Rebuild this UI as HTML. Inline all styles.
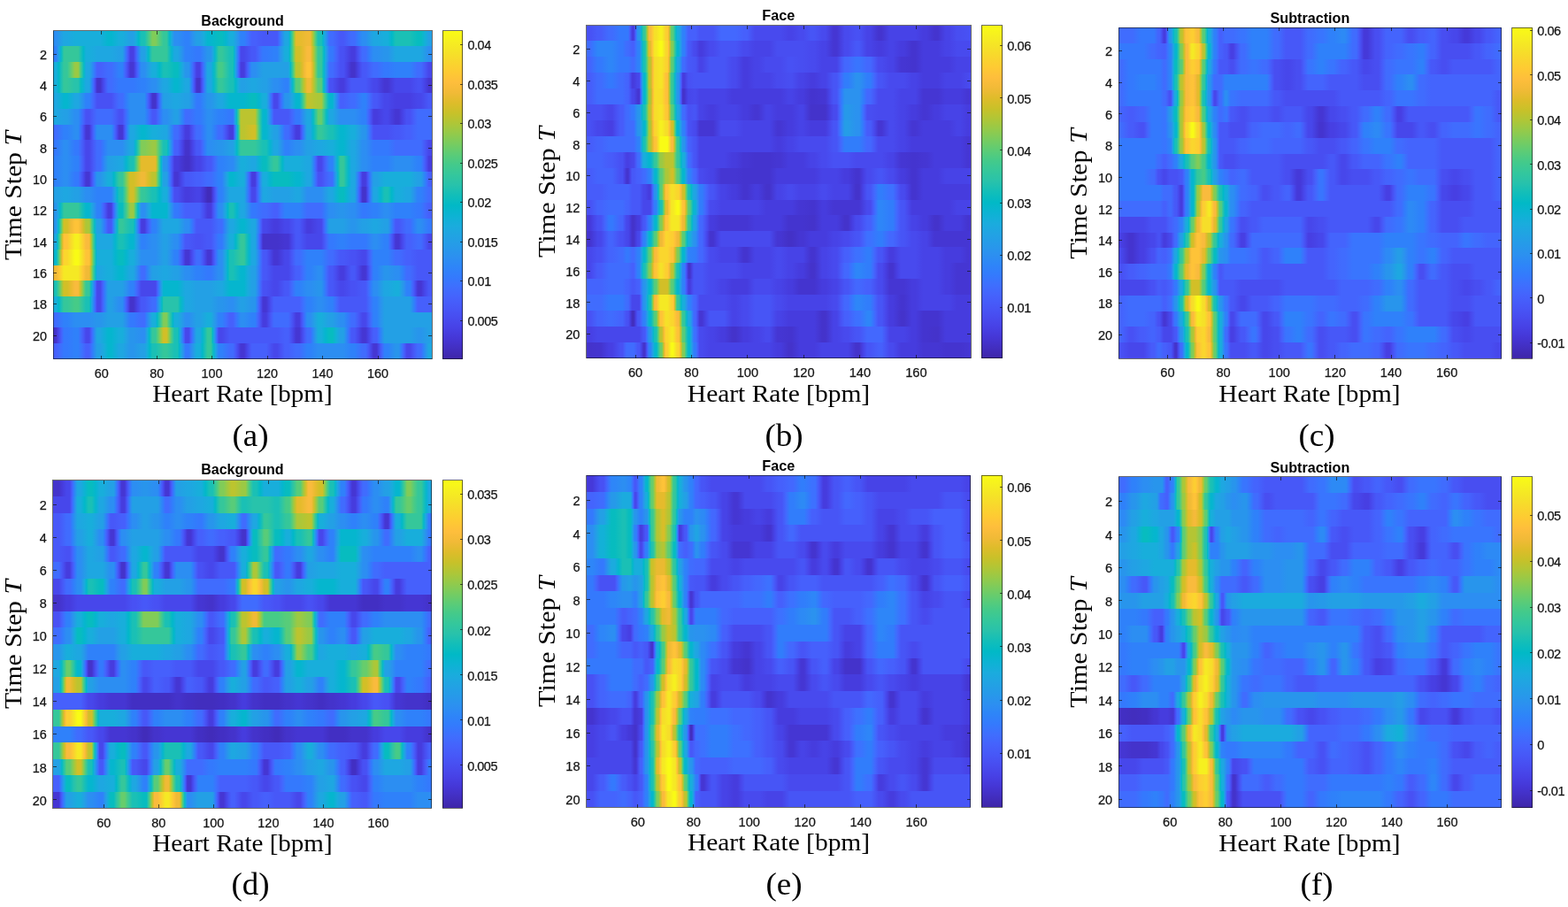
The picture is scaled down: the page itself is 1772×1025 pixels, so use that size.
<!DOCTYPE html>
<html><head><meta charset="utf-8"><title>Heart rate heatmaps</title>
<style>
html,body{margin:0;padding:0;background:#fff;}
body{width:1772px;height:1025px;position:relative;overflow:hidden;}
.ab{position:absolute;}
.hm{position:absolute;overflow:hidden;}
.hm div{width:100%;}
.box{position:absolute;border:1px solid rgba(20,20,20,0.62);box-sizing:border-box;}
.tk{position:absolute;background:rgba(20,20,20,0.7);}
.t{position:absolute;white-space:nowrap;font-family:"Liberation Sans",Arial,sans-serif;color:#141414;line-height:1;}
.tx,.ty,.tc{-webkit-text-stroke:0.25px #141414;}
.tx{font-size:14.0px;transform:translateX(-50%);}
.ty{font-size:14.0px;transform:translate(-100%,-50%);}
.tc{font-size:14.0px;transform:translateY(-50%);letter-spacing:-0.45px;}
.ti{font-family:"Liberation Sans",Arial,sans-serif;font-weight:bold;font-size:16.0px;color:#000;transform:translateX(-50%);}
.xl{font-family:"Liberation Serif","Times New Roman",serif;font-size:27.0px;color:#000;transform:translateX(-50%) scaleX(1.076);}
.yl{font-family:"Liberation Serif","Times New Roman",serif;font-size:27.0px;color:#000;transform-origin:0 0;transform:rotate(-90deg) scaleX(1.1) translateX(-50%);}
.pl{font-family:"Liberation Serif","Times New Roman",serif;font-size:36.5px;color:#000;transform:translateX(-50%) scaleX(1.014);}
</style></head><body>

<div class="hm" style="left:60px;top:34.5px;width:428px;height:371px">
<div style="position:absolute;left:0;top:0px;height:17.68px;background:linear-gradient(to right,#2c8ef2 0.0px,#2c8ef2 3.4px,#259be8 7.8px,#1ea7e1 12.2px,#1ea7e1 15.9px,#18aedb 24.7px,#18aedb 28.4px,#18aedb 37.2px,#18aedb 40.9px,#18aedb 49.7px,#18aedb 53.4px,#05b6ce 62.2px,#05b6ce 65.9px,#18aedb 74.7px,#18aedb 78.4px,#23a0e5 87.2px,#23a0e5 90.9px,#18aedb 93.8px,#01b8c9 96.7px,#1ac0b5 99.7px,#1ac0b5 103.4px,#34c79c 106.3px,#54cc7d 109.2px,#81cc58 112.2px,#81cc58 115.9px,#55cc7c 120.3px,#35c79a 124.7px,#35c79a 128.4px,#1cc0b3 130.1px,#01b8c9 131.9px,#19addc 133.6px,#249ee6 135.4px,#2c8ef2 137.1px,#2c8ef2 140.9px,#2f81fa 149.6px,#2f81fa 153.4px,#2b92ef 157.8px,#23a0e5 162.1px,#23a0e5 165.9px,#19acdc 170.3px,#05b6ce 174.6px,#05b6ce 178.4px,#07bcbf 187.1px,#07bcbf 190.9px,#05b6ce 195.3px,#18aedb 199.6px,#18aedb 203.4px,#23a0e5 206.3px,#2b92ef 209.2px,#2f81fa 212.1px,#2f81fa 215.9px,#3d71ff 220.2px,#4660fc 224.6px,#4660fc 228.4px,#4758f8 237.1px,#4758f8 240.9px,#4758f8 249.6px,#4758f8 253.4px,#3f6dfe 255.6px,#2e83f9 257.7px,#2796eb 259.9px,#1ea7e1 262.1px,#1ea7e1 265.9px,#06b5cf 267.1px,#16bfb7 268.4px,#34c79c 269.6px,#57cc7a 270.9px,#8acb52 272.1px,#bcc42f 273.4px,#e5bb2c 274.6px,#e5bb2c 278.4px,#f0ba36 287.1px,#f0ba36 290.9px,#c8c129 292.6px,#96ca48 294.4px,#60cd72 296.1px,#37c898 297.9px,#1ac0b5 299.6px,#1ac0b5 303.3px,#05b6ce 305.1px,#1da8e0 306.8px,#2796eb 308.6px,#2e83f9 310.3px,#406cfe 312.1px,#406cfe 315.8px,#4758f8 324.6px,#4758f8 328.3px,#406cfe 337.1px,#406cfe 340.8px,#317efb 345.2px,#2c8ef2 349.6px,#2c8ef2 353.3px,#259be8 357.7px,#1ea7e1 362.1px,#1ea7e1 365.8px,#18aedb 374.6px,#18aedb 378.3px,#01b8c9 382.7px,#1ac0b5 387.1px,#1ac0b5 390.8px,#1ac0b5 399.6px,#1ac0b5 403.3px,#07bcbf 412.1px,#07bcbf 415.8px,#13b1d7 420.2px,#23a0e5 424.6px,#23a0e5 428.0px)"></div>
<div style="position:absolute;left:0;top:17.67px;height:17.67px;background:linear-gradient(to right,#2f81fa 0.0px,#2f81fa 3.4px,#2895ec 5.2px,#1ea7e1 6.9px,#07b5cf 8.7px,#17bfb6 10.4px,#35c79a 12.2px,#35c79a 15.9px,#35c79a 24.7px,#35c79a 28.4px,#1dc0b3 31.3px,#01b8c8 34.3px,#18aedb 37.2px,#18aedb 40.9px,#1ea7e1 49.7px,#1ea7e1 53.4px,#1ea7e1 62.2px,#1ea7e1 65.9px,#23a0e5 74.7px,#23a0e5 78.4px,#2c8ff0 80.2px,#327cfc 81.9px,#4367fd 83.7px,#4853f5 85.4px,#473fe3 87.2px,#473fe3 90.9px,#4853f5 92.7px,#4367fd 94.4px,#327cfc 96.2px,#2c8ff0 97.9px,#23a0e5 99.7px,#23a0e5 103.4px,#17aeda 105.6px,#01b9c8 107.8px,#1ec0b2 110.0px,#35c79a 112.2px,#35c79a 115.9px,#35c79a 124.7px,#35c79a 128.4px,#17bfb6 131.3px,#06b5cf 134.2px,#1ea7e1 137.1px,#1ea7e1 140.9px,#2895ec 145.3px,#2f81fa 149.6px,#2f81fa 153.4px,#3479fd 162.1px,#3479fd 165.9px,#2d88f6 170.3px,#2895ec 174.6px,#2895ec 178.4px,#1ea7e1 180.6px,#06b5cf 182.8px,#17bfb6 184.9px,#35c79a 187.1px,#35c79a 190.9px,#1ac0b5 199.6px,#1ac0b5 203.4px,#04b6cd 204.6px,#1da9e0 205.9px,#2798ea 207.1px,#2e85f8 208.4px,#3d70ff 209.6px,#475bf9 210.9px,#4747eb 212.1px,#4747eb 215.9px,#4758f8 224.6px,#4758f8 228.4px,#4368fe 232.7px,#3479fd 237.1px,#3479fd 240.9px,#2f81fa 249.6px,#2f81fa 253.4px,#2b92ef 256.3px,#23a0e5 259.2px,#18aedb 262.1px,#18aedb 265.9px,#02bac5 267.3px,#27c2ac 268.8px,#40ca8d 270.2px,#6ecd67 271.7px,#a3c83f 273.1px,#d2bf27 274.6px,#d2bf27 278.4px,#e8bb2e 282.7px,#f9bb3d 287.1px,#f9bb3d 290.9px,#dbbd29 292.6px,#b3c534 294.4px,#84cb56 296.1px,#56cc7b 297.9px,#35c79a 299.6px,#35c79a 303.3px,#1cc0b4 304.8px,#01b7ca 306.3px,#1aacdd 307.7px,#259de7 309.2px,#2d8cf3 310.6px,#3479fd 312.1px,#3479fd 315.8px,#4465fd 320.2px,#4851f4 324.6px,#4851f4 328.3px,#463cde 337.1px,#463cde 340.8px,#484cef 343.8px,#475cfa 346.7px,#406cfe 349.6px,#406cfe 353.3px,#317efb 357.7px,#2c8ef2 362.1px,#2c8ef2 365.8px,#2895ec 374.6px,#2895ec 378.3px,#1ea7e1 387.1px,#1ea7e1 390.8px,#1ea7e1 399.6px,#1ea7e1 403.3px,#1ea7e1 412.1px,#1ea7e1 415.8px,#259be8 420.2px,#2c8ef2 424.6px,#2c8ef2 428.0px)"></div>
<div style="position:absolute;left:0;top:35.33px;height:17.68px;background:linear-gradient(to right,#18aedb 0.0px,#18aedb 3.4px,#01b8c8 6.4px,#1dc0b3 9.3px,#35c79a 12.2px,#35c79a 15.9px,#4fcc81 18.8px,#73cd63 21.8px,#9bc944 24.7px,#9bc944 28.4px,#6dcd68 29.9px,#44cb8a 31.3px,#2dc4a6 32.8px,#0bbdbd 34.3px,#0ab4d1 35.7px,#1ea7e1 37.2px,#1ea7e1 40.9px,#2798ea 43.1px,#2e87f7 45.3px,#3a74fe 47.5px,#4660fc 49.7px,#4660fc 53.4px,#406cfe 62.2px,#406cfe 65.9px,#2f81fa 74.7px,#2f81fa 78.4px,#3f6dfe 80.6px,#475af9 82.8px,#4747ec 85.0px,#4536d3 87.2px,#4536d3 90.9px,#4746ea 92.7px,#4758f8 94.4px,#426afe 96.2px,#317dfc 97.9px,#2c8ef2 99.7px,#2c8ef2 103.4px,#249fe6 107.8px,#18aedb 112.2px,#18aedb 115.9px,#01b8c9 120.3px,#1ac0b5 124.7px,#1ac0b5 128.4px,#07bcbf 137.1px,#07bcbf 140.9px,#0eb2d4 143.8px,#20a5e2 146.7px,#2895ec 149.6px,#2895ec 153.4px,#2f81fa 155.6px,#416bfe 157.8px,#4755f6 160.0px,#473fe3 162.1px,#473fe3 165.9px,#4755f6 167.6px,#416bfe 169.4px,#2f81fa 171.1px,#2895ec 172.9px,#1ea7e1 174.6px,#1ea7e1 178.4px,#09b4d1 180.6px,#0dbdbc 182.8px,#2ec4a4 184.9px,#46cb87 187.1px,#46cb87 190.9px,#31c6a0 195.3px,#1ac0b5 199.6px,#1ac0b5 203.4px,#03b7cb 204.5px,#1babde 205.6px,#259be8 206.7px,#2d8af4 207.8px,#3777fe 208.8px,#4562fc 209.9px,#484ff2 211.0px,#463cde 212.1px,#463cde 215.9px,#4850f3 218.1px,#4464fd 220.2px,#347afd 222.4px,#2c8ef2 224.6px,#2c8ef2 228.4px,#23a0e5 237.1px,#23a0e5 240.9px,#23a0e5 249.6px,#23a0e5 253.4px,#23a0e5 262.1px,#23a0e5 265.9px,#16afd9 267.1px,#01bac5 268.4px,#24c1af 269.6px,#3ac994 270.9px,#5fcd73 272.1px,#8ecb4e 273.4px,#bcc42f 274.6px,#bcc42f 278.4px,#dabd28 281.3px,#f3ba39 284.2px,#fec338 287.1px,#fec338 290.9px,#e9bb30 292.6px,#c1c32c 294.4px,#8fcb4e 296.1px,#5acc77 297.9px,#35c79a 299.6px,#35c79a 303.3px,#17bfb6 304.8px,#06b5cf 306.3px,#1ea7e1 307.7px,#2896eb 309.2px,#2e83f9 310.6px,#406cfe 312.1px,#406cfe 315.8px,#465ffb 320.2px,#4851f4 324.6px,#4851f4 328.3px,#4741e5 332.7px,#4433cb 337.1px,#4433cb 340.8px,#4744e9 345.2px,#4758f8 349.6px,#4758f8 353.3px,#406cfe 362.1px,#406cfe 365.8px,#3479fd 374.6px,#3479fd 378.3px,#2f81fa 387.1px,#2f81fa 390.8px,#2f81fa 399.6px,#2f81fa 403.3px,#406cfe 412.1px,#406cfe 415.8px,#4759f8 420.2px,#4747eb 424.6px,#4747eb 428.0px)"></div>
<div style="position:absolute;left:0;top:53px;height:17.68px;background:linear-gradient(to right,#18aedb 0.0px,#18aedb 3.4px,#01b8c8 6.4px,#1dc0b3 9.3px,#35c79a 12.2px,#35c79a 15.9px,#28c3ab 24.7px,#28c3ab 28.4px,#07bcc0 31.3px,#0cb3d3 34.3px,#1ea7e1 37.2px,#1ea7e1 40.9px,#2796eb 42.4px,#2e84f9 43.8px,#3f6eff 45.3px,#4759f8 46.8px,#4745e9 48.2px,#4433cb 49.7px,#4433cb 53.4px,#4744e8 56.3px,#4758f8 59.3px,#406cfe 62.2px,#406cfe 65.9px,#3479fd 74.7px,#3479fd 78.4px,#3479fd 87.2px,#3479fd 90.9px,#2f81fa 99.7px,#2f81fa 103.4px,#2c8ef2 112.2px,#2c8ef2 115.9px,#259be8 120.3px,#1ea7e1 124.7px,#1ea7e1 128.4px,#05b6ce 137.1px,#05b6ce 140.9px,#1ea7e1 149.6px,#1ea7e1 153.4px,#2796eb 154.9px,#2e84f9 156.3px,#3f6eff 157.8px,#4759f8 159.2px,#4745e9 160.7px,#4433cb 162.1px,#4433cb 165.9px,#4745e9 167.3px,#4759f8 168.8px,#3f6eff 170.3px,#2e84f9 171.7px,#2796eb 173.2px,#1ea7e1 174.6px,#1ea7e1 178.4px,#06b5cf 181.3px,#17bfb6 184.2px,#35c79a 187.1px,#35c79a 190.9px,#1ac0b5 199.6px,#1ac0b5 203.4px,#01b8c9 206.3px,#18aedb 209.2px,#23a0e5 212.1px,#23a0e5 215.9px,#1ea7e1 224.6px,#1ea7e1 228.4px,#23a0e5 237.1px,#23a0e5 240.9px,#2c8ef2 249.6px,#2c8ef2 253.4px,#2f81fa 262.1px,#2f81fa 265.9px,#2895ec 267.3px,#1fa6e1 268.8px,#07b5d0 270.2px,#15bfb8 271.7px,#34c79c 273.1px,#58cc79 274.6px,#58cc79 278.4px,#81cc58 280.5px,#acc738 282.7px,#d2bf27 284.9px,#f0ba36 287.1px,#f0ba36 290.9px,#d2bf27 293.0px,#acc738 295.2px,#81cc58 297.4px,#58cc79 299.6px,#58cc79 303.3px,#33c69d 304.4px,#12beb9 305.5px,#0ab4d2 306.6px,#20a4e3 307.7px,#2a92ee 308.8px,#317efb 309.9px,#4367fd 311.0px,#4851f4 312.1px,#4851f4 315.8px,#463cde 324.6px,#463cde 328.3px,#484aee 332.7px,#4758f8 337.1px,#4758f8 340.8px,#4758f8 349.6px,#4758f8 353.3px,#4747eb 362.1px,#4747eb 365.8px,#4536d3 374.6px,#4536d3 378.3px,#4747eb 387.1px,#4747eb 390.8px,#4747eb 399.6px,#4747eb 403.3px,#4851f4 412.1px,#4851f4 415.8px,#4743e7 420.2px,#4536d3 424.6px,#4536d3 428.0px)"></div>
<div style="position:absolute;left:0;top:70.67px;height:17.67px;background:linear-gradient(to right,#1ea7e1 0.0px,#1ea7e1 3.4px,#05b6ce 12.2px,#05b6ce 15.9px,#1ea7e1 24.7px,#1ea7e1 28.4px,#2895ec 32.8px,#2f81fa 37.2px,#2f81fa 40.9px,#3d71ff 43.8px,#4661fc 46.8px,#4851f4 49.7px,#4851f4 53.4px,#4851f4 62.2px,#4851f4 65.9px,#465ffb 70.3px,#406cfe 74.7px,#406cfe 78.4px,#317efb 82.8px,#2c8ef2 87.2px,#2c8ef2 90.9px,#2c8ef2 99.7px,#2c8ef2 103.4px,#327cfc 105.2px,#4368fe 106.9px,#4755f6 108.7px,#4743e7 110.4px,#4433cb 112.2px,#4433cb 115.9px,#4743e7 117.4px,#4756f7 118.8px,#4269fe 120.3px,#317efb 121.7px,#2c90f0 123.2px,#23a0e5 124.7px,#23a0e5 128.4px,#1ea7e1 137.1px,#1ea7e1 140.9px,#23a0e5 149.6px,#23a0e5 153.4px,#2c8ef1 157.8px,#3479fd 162.1px,#3479fd 165.9px,#2d88f6 170.3px,#2895ec 174.6px,#2895ec 178.4px,#1ea7e1 187.1px,#1ea7e1 190.9px,#05b6ce 199.6px,#05b6ce 203.4px,#05b6ce 212.1px,#05b6ce 215.9px,#07bcbf 224.6px,#07bcbf 228.4px,#05b6ce 232.7px,#18aedb 237.1px,#18aedb 240.9px,#23a0e5 242.3px,#2c90f0 243.8px,#307ffb 245.2px,#416bfe 246.7px,#4759f8 248.2px,#4747eb 249.6px,#4747eb 253.4px,#475af9 255.6px,#3f6eff 257.7px,#2e83f9 259.9px,#2895ec 262.1px,#2895ec 265.9px,#1ea7e1 270.2px,#05b6ce 274.6px,#05b6ce 278.4px,#18bfb6 280.1px,#34c79b 281.9px,#58cc79 283.6px,#8acb51 285.4px,#bcc42f 287.1px,#bcc42f 290.9px,#acc738 299.6px,#acc738 303.3px,#7ccc5c 305.1px,#4fcc81 306.8px,#32c69f 308.6px,#14bfb8 310.3px,#05b6ce 312.1px,#05b6ce 315.8px,#1ca9e0 317.6px,#2699e9 319.3px,#2d88f6 321.1px,#3974fe 322.8px,#4660fc 324.6px,#4660fc 328.3px,#406cfe 337.1px,#406cfe 340.8px,#2f81fa 349.6px,#2f81fa 353.3px,#406cfe 357.7px,#4758f8 362.1px,#4758f8 365.8px,#4747eb 374.6px,#4747eb 378.3px,#473fe3 387.1px,#473fe3 390.8px,#473fe3 399.6px,#473fe3 403.3px,#4747eb 412.1px,#4747eb 415.8px,#4758f8 424.6px,#4758f8 428.0px)"></div>
<div style="position:absolute;left:0;top:88.33px;height:17.68px;background:linear-gradient(to right,#1ea7e1 0.0px,#1ea7e1 3.4px,#23a0e5 12.2px,#23a0e5 15.9px,#2c8ef2 24.7px,#2c8ef2 28.4px,#337afd 31.3px,#4465fd 34.3px,#4851f4 37.2px,#4851f4 40.9px,#465ffb 45.3px,#406cfe 49.7px,#406cfe 53.4px,#406cfe 62.2px,#406cfe 65.9px,#465ffb 70.3px,#4851f4 74.7px,#4851f4 78.4px,#4465fd 81.3px,#337afd 84.2px,#2c8ef2 87.2px,#2c8ef2 90.9px,#2c8ef2 99.7px,#2c8ef2 103.4px,#317dfc 106.3px,#426afe 109.2px,#4758f8 112.2px,#4758f8 115.9px,#426afe 118.8px,#317dfc 121.7px,#2c8ef2 124.7px,#2c8ef2 128.4px,#23a0e5 137.1px,#23a0e5 140.9px,#2b91ef 143.8px,#3080fb 146.7px,#406cfe 149.6px,#406cfe 153.4px,#3479fd 162.1px,#3479fd 165.9px,#2c8ef2 174.6px,#2c8ef2 178.4px,#2f81fa 187.1px,#2f81fa 190.9px,#3479fd 199.6px,#3479fd 203.4px,#2d8cf3 204.4px,#249de6 205.3px,#19addc 206.3px,#01b8c8 207.3px,#20c1b1 208.2px,#37c897 209.2px,#5ccc75 210.2px,#8dcb4f 211.2px,#bcc42f 212.1px,#bcc42f 215.9px,#bcc42f 224.6px,#bcc42f 228.4px,#8acb51 230.1px,#58cc79 231.9px,#34c79b 233.6px,#18bfb6 235.4px,#05b6ce 237.1px,#05b6ce 240.9px,#1da8e0 242.6px,#2797eb 244.4px,#2e84f9 246.1px,#3f6efe 247.9px,#4758f8 249.6px,#4758f8 253.4px,#4758f8 262.1px,#4758f8 265.9px,#4368fe 270.2px,#3479fd 274.6px,#3479fd 278.4px,#2d8af4 281.3px,#2699e9 284.2px,#1ea7e1 287.1px,#1ea7e1 290.9px,#0ab4d2 292.6px,#0abdbe 294.4px,#2cc4a7 296.1px,#40ca8d 297.9px,#67cd6c 299.6px,#67cd6c 303.3px,#40ca8d 305.1px,#2cc4a7 306.8px,#0abdbe 308.6px,#0ab4d2 310.3px,#1ea7e1 312.1px,#1ea7e1 315.8px,#259be8 320.2px,#2c8ef2 324.6px,#2c8ef2 328.3px,#2c8ef2 337.1px,#2c8ef2 340.8px,#2f81fa 349.6px,#2f81fa 353.3px,#3e6fff 355.5px,#465efb 357.7px,#484df0 359.9px,#463cde 362.1px,#463cde 365.8px,#4747eb 374.6px,#4747eb 378.3px,#4536d3 387.1px,#4536d3 390.8px,#4743e7 395.2px,#4851f4 399.6px,#4851f4 403.3px,#465ffb 407.7px,#406cfe 412.1px,#406cfe 415.8px,#406cfe 424.6px,#406cfe 428.0px)"></div>
<div style="position:absolute;left:0;top:106px;height:17.68px;background:linear-gradient(to right,#406cfe 0.0px,#406cfe 3.4px,#2f81fa 12.2px,#2f81fa 15.9px,#2c8ef2 24.7px,#2c8ef2 28.4px,#317dfc 30.2px,#426afe 31.9px,#4758f8 33.7px,#4746ea 35.4px,#4536d3 37.2px,#4536d3 40.9px,#4746ea 42.7px,#4758f8 44.4px,#426afe 46.2px,#317dfc 47.9px,#2c8ef2 49.7px,#2c8ef2 53.4px,#2c8ef2 62.2px,#2c8ef2 65.9px,#317dfc 67.7px,#426afe 69.4px,#4758f8 71.2px,#4746ea 72.9px,#4536d3 74.7px,#4536d3 78.4px,#4848ec 79.9px,#475cfa 81.3px,#3d70ff 82.8px,#2e85f8 84.2px,#2797eb 85.7px,#1ea7e1 87.2px,#1ea7e1 90.9px,#05b6ce 99.7px,#05b6ce 103.4px,#18aedb 112.2px,#18aedb 115.9px,#1ea7e1 124.7px,#1ea7e1 128.4px,#2896eb 131.3px,#2e83f9 134.2px,#406cfe 137.1px,#406cfe 140.9px,#475cfa 143.8px,#484cef 146.7px,#463cde 149.6px,#463cde 153.4px,#484cef 156.3px,#475cfa 159.2px,#406cfe 162.1px,#406cfe 165.9px,#317efb 170.3px,#2c8ef2 174.6px,#2c8ef2 178.4px,#317efb 182.8px,#406cfe 187.1px,#406cfe 190.9px,#475cfa 193.8px,#484cef 196.7px,#463cde 199.6px,#463cde 203.4px,#4851f3 204.2px,#4466fd 205.0px,#317dfc 205.8px,#2b92ef 206.6px,#21a4e3 207.4px,#0cb3d3 208.1px,#0fbebb 208.9px,#31c69f 209.7px,#54cc7d 210.5px,#88cb53 211.3px,#bcc42f 212.1px,#bcc42f 215.9px,#d2bf27 224.6px,#d2bf27 228.4px,#a8c73b 229.8px,#79cc5e 231.3px,#4dcb82 232.7px,#31c6a0 234.2px,#14beb8 235.7px,#05b6ce 237.1px,#05b6ce 240.9px,#19acdc 245.2px,#23a0e5 249.6px,#23a0e5 253.4px,#2b91ef 256.3px,#3080fb 259.2px,#406cfe 262.1px,#406cfe 265.9px,#475cfa 268.8px,#484cef 271.7px,#463cde 274.6px,#463cde 278.4px,#484ef1 279.8px,#4661fc 281.3px,#3974fe 282.7px,#2e87f7 284.2px,#2798ea 285.6px,#1ea7e1 287.1px,#1ea7e1 290.9px,#06b5cf 293.8px,#17bfb6 296.7px,#35c79a 299.6px,#35c79a 303.3px,#1ac0b5 312.1px,#1ac0b5 315.8px,#05b6ce 324.6px,#05b6ce 328.3px,#18aedb 337.1px,#18aedb 340.8px,#22a2e4 345.2px,#2895ec 349.6px,#2895ec 353.3px,#2e86f7 355.5px,#3974fe 357.7px,#4562fc 359.9px,#4851f4 362.1px,#4851f4 365.8px,#4851f4 374.6px,#4851f4 378.3px,#4758f8 387.1px,#4758f8 390.8px,#4660fc 399.6px,#4660fc 403.3px,#406cfe 412.1px,#406cfe 415.8px,#406cfe 424.6px,#406cfe 428.0px)"></div>
<div style="position:absolute;left:0;top:123.67px;height:17.67px;background:linear-gradient(to right,#3479fd 0.0px,#3479fd 3.4px,#2c8ef2 12.2px,#2c8ef2 15.9px,#3479fd 24.7px,#3479fd 28.4px,#4368fd 31.3px,#4757f7 34.3px,#4747eb 37.2px,#4747eb 40.9px,#4759f8 45.3px,#406cfe 49.7px,#406cfe 53.4px,#317efb 57.8px,#2c8ef2 62.2px,#2c8ef2 65.9px,#2c8ef2 74.7px,#2c8ef2 78.4px,#259be8 82.8px,#1ea7e1 87.2px,#1ea7e1 90.9px,#07b5d0 92.7px,#13beb9 94.4px,#32c69f 96.2px,#51cc7f 97.9px,#81cc58 99.7px,#81cc58 103.4px,#9bc944 112.2px,#9bc944 115.9px,#70cd65 118.1px,#4acb84 120.3px,#32c69f 122.5px,#1ac0b5 124.7px,#1ac0b5 128.4px,#03b7cc 129.9px,#1baade 131.3px,#269ae8 132.8px,#2d89f5 134.2px,#3975fe 135.7px,#4660fc 137.1px,#4660fc 140.9px,#4850f3 143.8px,#4740e4 146.7px,#4433cb 149.6px,#4433cb 153.4px,#4744e9 157.8px,#4758f8 162.1px,#4758f8 165.9px,#426afe 168.8px,#317dfc 171.7px,#2c8ef2 174.6px,#2c8ef2 178.4px,#2895ec 187.1px,#2895ec 190.9px,#23a0e5 199.6px,#23a0e5 203.4px,#17aeda 205.6px,#01b9c8 207.8px,#1ec0b2 209.9px,#35c79a 212.1px,#35c79a 215.9px,#35c79a 224.6px,#35c79a 228.4px,#1ac0b5 237.1px,#1ac0b5 240.9px,#05b6ce 245.2px,#1ea7e1 249.6px,#1ea7e1 253.4px,#2895ec 257.7px,#2f81fa 262.1px,#2f81fa 265.9px,#2c8ef2 274.6px,#2c8ef2 278.4px,#23a0e5 287.1px,#23a0e5 290.9px,#1ea7e1 299.6px,#1ea7e1 303.3px,#18aedb 312.1px,#18aedb 315.8px,#05b6ce 324.6px,#05b6ce 328.3px,#1ea7e1 337.1px,#1ea7e1 340.8px,#259be8 345.2px,#2c8ef2 349.6px,#2c8ef2 353.3px,#3479fd 362.1px,#3479fd 365.8px,#3479fd 374.6px,#3479fd 378.3px,#406cfe 387.1px,#406cfe 390.8px,#406cfe 399.6px,#406cfe 403.3px,#406cfe 412.1px,#406cfe 415.8px,#4759f8 420.2px,#4747eb 424.6px,#4747eb 428.0px)"></div>
<div style="position:absolute;left:0;top:141.33px;height:17.68px;background:linear-gradient(to right,#2f81fa 0.0px,#2f81fa 3.4px,#2c8ef2 12.2px,#2c8ef2 15.9px,#2f81fa 24.7px,#2f81fa 28.4px,#406dfe 31.3px,#475af9 34.3px,#4747eb 37.2px,#4747eb 40.9px,#4759f8 45.3px,#406cfe 49.7px,#406cfe 53.4px,#3080fb 56.3px,#2b91ef 59.3px,#23a0e5 62.2px,#23a0e5 65.9px,#1ea7e1 74.7px,#1ea7e1 78.4px,#05b6ce 82.8px,#1ac0b5 87.2px,#1ac0b5 90.9px,#35c79a 92.7px,#5acc78 94.4px,#8ccb50 96.2px,#bcc42f 97.9px,#e5bb2c 99.7px,#e5bb2c 103.4px,#e5bb2c 112.2px,#e5bb2c 115.9px,#bbc42f 117.0px,#89cb52 118.1px,#56cc7b 119.2px,#33c79d 120.3px,#14bfb8 121.4px,#07b5d0 122.5px,#1ea7e1 123.6px,#2895ec 124.7px,#2895ec 128.4px,#2e85f8 130.1px,#3b72ff 131.9px,#465ffb 133.6px,#484ef1 135.4px,#463cde 137.1px,#463cde 140.9px,#4331c7 149.6px,#4331c7 153.4px,#4743e7 162.1px,#4743e7 165.9px,#4758f8 174.6px,#4758f8 178.4px,#406cfe 182.8px,#2f81fa 187.1px,#2f81fa 190.9px,#2d8af5 199.6px,#2d8af5 203.4px,#259de7 207.8px,#18aedb 212.1px,#18aedb 215.9px,#1ea7e1 224.6px,#1ea7e1 228.4px,#0cb3d3 232.7px,#07bcbf 237.1px,#07bcbf 240.9px,#25c2ae 245.2px,#35c79a 249.6px,#35c79a 253.4px,#1dc0b3 256.3px,#01b8c8 259.2px,#18aedb 262.1px,#18aedb 265.9px,#18aedb 274.6px,#18aedb 278.4px,#1ea7e1 287.1px,#1ea7e1 290.9px,#2797eb 292.6px,#2e84f8 294.4px,#3e6fff 296.1px,#475af9 297.9px,#4747eb 299.6px,#4747eb 303.3px,#475af9 306.3px,#406dfe 309.2px,#2f81fa 312.1px,#2f81fa 315.8px,#2895ec 317.6px,#1ea7e1 319.3px,#07b5cf 321.1px,#17bfb6 322.8px,#35c79a 324.6px,#35c79a 328.3px,#17bfb6 331.3px,#06b5cf 334.2px,#1ea7e1 337.1px,#1ea7e1 340.8px,#259be8 345.2px,#2c8ef2 349.6px,#2c8ef2 353.3px,#2f81fa 362.1px,#2f81fa 365.8px,#2f81fa 374.6px,#2f81fa 378.3px,#2c8ef2 387.1px,#2c8ef2 390.8px,#2c8ef2 399.6px,#2c8ef2 403.3px,#2f81fa 412.1px,#2f81fa 415.8px,#3e6fff 418.0px,#465efb 420.2px,#484df0 422.4px,#463cde 424.6px,#463cde 428.0px)"></div>
<div style="position:absolute;left:0;top:159px;height:17.68px;background:linear-gradient(to right,#2f81fa 0.0px,#2f81fa 3.4px,#2c8ef2 12.2px,#2c8ef2 15.9px,#3479fd 24.7px,#3479fd 28.4px,#4367fd 30.6px,#4756f7 32.8px,#4745ea 35.0px,#4536d3 37.2px,#4536d3 40.9px,#4848ec 42.7px,#475bf9 44.4px,#3e6fff 46.2px,#2e84f9 47.9px,#2895ec 49.7px,#2895ec 53.4px,#22a2e4 57.8px,#18aedb 62.2px,#18aedb 65.9px,#01b8c8 68.8px,#1dc0b3 71.7px,#35c79a 74.7px,#35c79a 78.4px,#53cc7d 80.6px,#7ecc5b 82.8px,#aac73a 85.0px,#d2bf27 87.2px,#d2bf27 90.9px,#f0ba36 99.7px,#f0ba36 103.4px,#d8be28 107.8px,#bcc42f 112.2px,#bcc42f 115.9px,#8ecb4e 117.2px,#5fcd73 118.4px,#3ac994 119.7px,#24c1af 120.9px,#01bac5 122.2px,#16afd9 123.4px,#23a0e5 124.7px,#23a0e5 128.4px,#2b91ef 129.9px,#307ffb 131.3px,#416cfe 132.8px,#4759f8 134.2px,#4747eb 135.7px,#4536d3 137.1px,#4536d3 140.9px,#4747eb 145.3px,#4758f8 149.6px,#4758f8 153.4px,#4660fc 162.1px,#4660fc 165.9px,#406cfe 174.6px,#406cfe 178.4px,#2f81fa 187.1px,#2f81fa 190.9px,#2895ec 193.8px,#1ea7e1 196.7px,#05b6ce 199.6px,#05b6ce 203.4px,#18aedb 212.1px,#18aedb 215.9px,#249ee6 217.3px,#2d8df2 218.8px,#3579fd 220.2px,#4564fd 221.7px,#4850f2 223.2px,#463cde 224.6px,#463cde 228.4px,#4850f2 229.8px,#4564fd 231.3px,#3579fd 232.7px,#2d8df2 234.2px,#249ee6 235.7px,#18aedb 237.1px,#18aedb 240.9px,#05b6ce 245.2px,#07bcbf 249.6px,#07bcbf 253.4px,#07bcbf 262.1px,#07bcbf 265.9px,#05b6ce 274.6px,#05b6ce 278.4px,#1ea7e1 287.1px,#1ea7e1 290.9px,#2699ea 292.6px,#2d88f6 294.4px,#3876fe 296.1px,#4563fd 297.9px,#4851f4 299.6px,#4851f4 303.3px,#465ffb 307.7px,#406cfe 312.1px,#406cfe 315.8px,#2e83f9 317.3px,#2896eb 318.8px,#1ea7e1 320.2px,#06b5cf 321.7px,#17bfb6 323.1px,#35c79a 324.6px,#35c79a 328.3px,#17bfb6 331.3px,#06b5cf 334.2px,#1ea7e1 337.1px,#1ea7e1 340.8px,#2798ea 342.3px,#2e87f7 343.8px,#3974fe 345.2px,#4661fc 346.7px,#484ef1 348.1px,#463cde 349.6px,#463cde 353.3px,#4850f3 355.1px,#4465fd 356.8px,#337bfd 358.6px,#2c8ff1 360.3px,#23a0e5 362.1px,#23a0e5 365.8px,#18aedb 374.6px,#18aedb 378.3px,#18aedb 387.1px,#18aedb 390.8px,#18aedb 399.6px,#18aedb 403.3px,#23a0e5 412.1px,#23a0e5 415.8px,#2a92ee 418.0px,#2e83f9 420.2px,#3c71ff 422.4px,#4660fc 424.6px,#4660fc 428.0px)"></div>
<div style="position:absolute;left:0;top:176.67px;height:17.67px;background:linear-gradient(to right,#23a0e5 0.0px,#23a0e5 3.4px,#1ea7e1 12.2px,#1ea7e1 15.9px,#23a0e5 24.7px,#23a0e5 28.4px,#2c8ef2 37.2px,#2c8ef2 40.9px,#2f81fa 49.7px,#2f81fa 53.4px,#2f81fa 62.2px,#2f81fa 65.9px,#2895ec 68.1px,#1ea7e1 70.3px,#05b6ce 72.5px,#1ac0b5 74.7px,#1ac0b5 78.4px,#33c79d 80.2px,#50cc7f 81.9px,#7ccc5c 83.7px,#a9c73a 85.4px,#d2bf27 87.2px,#d2bf27 90.9px,#aac73a 93.1px,#7ecc5b 95.3px,#53cc7d 97.5px,#35c79a 99.7px,#35c79a 103.4px,#1ac0b5 112.2px,#1ac0b5 115.9px,#01b8c9 120.3px,#18aedb 124.7px,#18aedb 128.4px,#249ee6 130.1px,#2d8cf3 131.9px,#3678fe 133.6px,#4562fc 135.4px,#484ef1 137.1px,#484ef1 140.9px,#463cde 149.6px,#463cde 153.4px,#4743e7 162.1px,#4743e7 165.9px,#4536d4 170.3px,#412cba 174.6px,#412cba 178.4px,#463adb 180.1px,#484bef 181.9px,#475cfa 183.6px,#3f6fff 185.4px,#2f81fa 187.1px,#2f81fa 190.9px,#2895ec 195.3px,#1ea7e1 199.6px,#1ea7e1 203.4px,#1ea7e1 212.1px,#1ea7e1 215.9px,#2797eb 217.6px,#2e84f8 219.4px,#3e6fff 221.1px,#475af9 222.9px,#4747eb 224.6px,#4747eb 228.4px,#475af9 230.1px,#3e6fff 231.9px,#2e84f8 233.6px,#2797eb 235.4px,#1ea7e1 237.1px,#1ea7e1 240.9px,#23a0e5 249.6px,#23a0e5 253.4px,#23a0e5 262.1px,#23a0e5 265.9px,#1ea7e1 274.6px,#1ea7e1 278.4px,#259be8 282.7px,#2c8ef2 287.1px,#2c8ef2 290.9px,#2c8ef2 299.6px,#2c8ef2 303.3px,#259be8 307.7px,#1ea7e1 312.1px,#1ea7e1 315.8px,#0cb3d3 320.2px,#07bcbf 324.6px,#07bcbf 328.3px,#0cb3d3 332.7px,#1ea7e1 337.1px,#1ea7e1 340.8px,#2796eb 342.3px,#2e84f9 343.8px,#3f6eff 345.2px,#4759f8 346.7px,#4745e9 348.1px,#4433cb 349.6px,#4433cb 353.3px,#4745e9 354.8px,#4759f8 356.3px,#3f6eff 357.7px,#2e84f9 359.2px,#2796eb 360.6px,#1ea7e1 362.1px,#1ea7e1 365.8px,#05b6ce 370.2px,#1ac0b5 374.6px,#1ac0b5 378.3px,#01b8c9 382.7px,#18aedb 387.1px,#18aedb 390.8px,#1ea7e1 399.6px,#1ea7e1 403.3px,#2895ec 407.7px,#2f81fa 412.1px,#2f81fa 415.8px,#406cfe 424.6px,#406cfe 428.0px)"></div>
<div style="position:absolute;left:0;top:194.33px;height:17.68px;background:linear-gradient(to right,#2895ec 0.0px,#2895ec 3.4px,#1ea7e1 5.6px,#06b5cf 7.8px,#17bfb6 10.0px,#35c79a 12.2px,#35c79a 15.9px,#35c79a 24.7px,#35c79a 28.4px,#18bfb6 32.8px,#05b6ce 37.2px,#05b6ce 40.9px,#1ea7e1 43.8px,#2895ec 46.8px,#2f81fa 49.7px,#2f81fa 53.4px,#3e6fff 55.6px,#465efb 57.8px,#484df0 60.0px,#463cde 62.2px,#463cde 65.9px,#4851f3 67.2px,#4465fd 68.4px,#327cfc 69.7px,#2c90f0 70.9px,#22a1e4 72.2px,#12b1d6 73.4px,#07bcbf 74.7px,#07bcbf 78.4px,#2bc3a8 80.6px,#42ca8c 82.8px,#6bcd69 85.0px,#9bc944 87.2px,#9bc944 90.9px,#68cd6b 92.2px,#3eca90 93.4px,#26c2ac 94.7px,#02bac5 95.9px,#16aeda 97.2px,#249fe5 98.4px,#2c8ef2 99.7px,#2c8ef2 103.4px,#259de7 106.3px,#1babde 109.2px,#05b6ce 112.2px,#05b6ce 115.9px,#05b6ce 124.7px,#05b6ce 128.4px,#1caadf 130.6px,#259be8 132.8px,#2d8bf4 135.0px,#3479fd 137.1px,#3479fd 140.9px,#406cfe 145.3px,#4660fc 149.6px,#4660fc 153.4px,#4660fc 162.1px,#4660fc 165.9px,#484ef1 170.3px,#463cde 174.6px,#463cde 178.4px,#4850f3 180.6px,#4464fd 182.8px,#347afd 184.9px,#2c8ef2 187.1px,#2c8ef2 190.9px,#249ee6 193.1px,#19acdc 195.3px,#01b7ca 197.4px,#1ac0b5 199.6px,#1ac0b5 203.4px,#05b6ce 207.8px,#1ea7e1 212.1px,#1ea7e1 215.9px,#2699e9 218.8px,#2d8af4 221.7px,#3479fd 224.6px,#3479fd 228.4px,#406cfe 237.1px,#406cfe 240.9px,#4660fc 249.6px,#4660fc 253.4px,#3d71ff 257.7px,#2f81fa 262.1px,#2f81fa 265.9px,#2f81fa 274.6px,#2f81fa 278.4px,#406cfe 287.1px,#406cfe 290.9px,#406cfe 299.6px,#406cfe 303.3px,#317efb 307.7px,#2c8ef2 312.1px,#2c8ef2 315.8px,#2895ec 324.6px,#2895ec 328.3px,#2c8ef2 337.1px,#2c8ef2 340.8px,#3479fd 349.6px,#3479fd 353.3px,#2f81fa 362.1px,#2f81fa 365.8px,#2c8ef2 374.6px,#2c8ef2 378.3px,#2f81fa 387.1px,#2f81fa 390.8px,#2f81fa 399.6px,#2f81fa 403.3px,#3479fd 412.1px,#3479fd 415.8px,#406cfe 420.2px,#4660fc 424.6px,#4660fc 428.0px)"></div>
<div style="position:absolute;left:0;top:212px;height:17.68px;background:linear-gradient(to right,#2895ec 0.0px,#2895ec 3.4px,#1fa6e2 4.5px,#0cb3d3 5.6px,#0bbdbc 6.7px,#2ec5a4 7.8px,#48cb86 8.9px,#75cc61 10.0px,#a6c83c 11.1px,#d2bf27 12.2px,#d2bf27 15.9px,#f0ba36 20.3px,#fec338 24.7px,#fec338 28.4px,#f0ba36 31.3px,#d2bf27 34.3px,#acc738 37.2px,#acc738 40.9px,#77cc60 42.4px,#47cb87 43.8px,#2cc4a7 45.3px,#05bbc1 46.8px,#13b0d7 48.2px,#23a0e5 49.7px,#23a0e5 53.4px,#2b90ef 55.6px,#307ffb 57.8px,#416bfe 60.0px,#4758f8 62.2px,#4758f8 65.9px,#3f6dfe 67.2px,#2e83f9 68.4px,#2797eb 69.7px,#1ea8e0 70.9px,#06b6ce 72.2px,#18bfb6 73.4px,#35c79a 74.7px,#35c79a 78.4px,#1ac0b5 87.2px,#1ac0b5 90.9px,#03b7cb 92.0px,#1babde 93.1px,#259be8 94.2px,#2d8af4 95.3px,#3777fe 96.4px,#4562fc 97.5px,#484ff2 98.6px,#463cde 99.7px,#463cde 103.4px,#484df0 105.6px,#465efb 107.8px,#3e6fff 110.0px,#2f81fa 112.2px,#2f81fa 115.9px,#2895ec 120.3px,#1ea7e1 124.7px,#1ea7e1 128.4px,#1ea7e1 137.1px,#1ea7e1 140.9px,#259be8 145.3px,#2c8ef2 149.6px,#2c8ef2 153.4px,#317dfc 156.3px,#426afe 159.2px,#4758f8 162.1px,#4758f8 165.9px,#4758f8 174.6px,#4758f8 178.4px,#406cfe 187.1px,#406cfe 190.9px,#2e83f9 193.8px,#2896eb 196.7px,#1ea7e1 199.6px,#1ea7e1 203.4px,#05b6ce 212.1px,#05b6ce 215.9px,#1ea7e1 224.6px,#1ea7e1 228.4px,#2797eb 230.1px,#2e84f8 231.9px,#3e6fff 233.6px,#475af9 235.4px,#4747eb 237.1px,#4747eb 240.9px,#463cde 249.6px,#463cde 253.4px,#4747eb 262.1px,#4747eb 265.9px,#4758f8 274.6px,#4758f8 278.4px,#484aee 282.7px,#463cde 287.1px,#463cde 290.9px,#4747eb 299.6px,#4747eb 303.3px,#4759f8 305.1px,#416bfe 306.8px,#307ffb 308.6px,#2b91ef 310.3px,#23a0e5 312.1px,#23a0e5 315.8px,#23a0e5 324.6px,#23a0e5 328.3px,#2895ec 337.1px,#2895ec 340.8px,#23a0e5 349.6px,#23a0e5 353.3px,#1ea7e1 362.1px,#1ea7e1 365.8px,#23a0e5 374.6px,#23a0e5 378.3px,#2b90ef 380.5px,#307ffb 382.7px,#416bfe 384.9px,#4758f8 387.1px,#4758f8 390.8px,#406cfe 399.6px,#406cfe 403.3px,#317efb 407.7px,#2c8ef2 412.1px,#2c8ef2 415.8px,#3479fd 424.6px,#3479fd 428.0px)"></div>
<div style="position:absolute;left:0;top:229.67px;height:17.67px;background:linear-gradient(to right,#1ea7e1 0.0px,#1ea7e1 3.4px,#06b5cf 4.5px,#18bfb6 5.6px,#35c79a 6.7px,#5bcc77 7.8px,#8fcb4e 8.9px,#c1c32c 10.0px,#eabb30 11.1px,#fec338 12.2px,#fec338 15.9px,#f8da2b 20.3px,#f6f01f 24.7px,#f6f01f 28.4px,#f6de29 31.3px,#fdcb33 34.3px,#f9bb3d 37.2px,#f9bb3d 40.9px,#dabd28 42.0px,#b0c636 43.1px,#7ecc5a 44.2px,#4fcc80 45.3px,#31c6a0 46.4px,#12beb9 47.5px,#07b5d0 48.6px,#1ea7e1 49.7px,#1ea7e1 53.4px,#1ea7e1 62.2px,#1ea7e1 65.9px,#05b6ce 70.3px,#1ac0b5 74.7px,#1ac0b5 78.4px,#05b6ce 87.2px,#05b6ce 90.9px,#1ea7e1 93.8px,#2895ec 96.7px,#2f81fa 99.7px,#2f81fa 103.4px,#2c8ef2 112.2px,#2c8ef2 115.9px,#23a0e5 124.7px,#23a0e5 128.4px,#2c8ef2 137.1px,#2c8ef2 140.9px,#317dfc 143.8px,#426afe 146.7px,#4758f8 149.6px,#4758f8 153.4px,#4851f4 162.1px,#4851f4 165.9px,#4758f8 174.6px,#4758f8 178.4px,#4368fe 182.8px,#3479fd 187.1px,#3479fd 190.9px,#2d8df2 193.8px,#249ee6 196.7px,#18aedb 199.6px,#18aedb 203.4px,#01b8c8 206.3px,#1dc0b3 209.2px,#35c79a 212.1px,#35c79a 215.9px,#17bfb6 218.8px,#06b5cf 221.7px,#1ea7e1 224.6px,#1ea7e1 228.4px,#2796eb 229.8px,#2e84f9 231.3px,#3f6eff 232.7px,#4759f8 234.2px,#4745e9 235.7px,#4433cb 237.1px,#4433cb 240.9px,#4433cb 249.6px,#4433cb 253.4px,#4536d3 262.1px,#4536d3 265.9px,#4747eb 270.2px,#4758f8 274.6px,#4758f8 278.4px,#4747eb 287.1px,#4747eb 290.9px,#4747eb 299.6px,#4747eb 303.3px,#4757f7 306.3px,#4368fd 309.2px,#3479fd 312.1px,#3479fd 315.8px,#2f81fa 324.6px,#2f81fa 328.3px,#3479fd 337.1px,#3479fd 340.8px,#3479fd 349.6px,#3479fd 353.3px,#2c8ef2 362.1px,#2c8ef2 365.8px,#2f81fa 374.6px,#2f81fa 378.3px,#3f6dfe 380.5px,#475af9 382.7px,#4747ec 384.9px,#4536d3 387.1px,#4536d3 390.8px,#4743e7 393.7px,#4852f4 396.7px,#4660fc 399.6px,#4660fc 403.3px,#406cfe 412.1px,#406cfe 415.8px,#4759f8 420.2px,#4747eb 424.6px,#4747eb 428.0px)"></div>
<div style="position:absolute;left:0;top:247.33px;height:17.68px;background:linear-gradient(to right,#05b6ce 0.0px,#05b6ce 3.4px,#18bfb6 4.5px,#34c79b 5.6px,#58cc79 6.7px,#8bcb51 7.8px,#bcc42f 8.9px,#e5bb2d 10.0px,#fec03b 11.1px,#fad62d 12.2px,#fad62d 15.9px,#f5e924 20.3px,#f9fb15 24.7px,#f9fb15 28.4px,#f5e924 31.3px,#fad62d 34.3px,#fec338 37.2px,#fec338 40.9px,#ebba32 42.0px,#c6c22a 43.1px,#97ca48 44.2px,#64cd6e 45.3px,#3cc992 46.4px,#24c2ae 47.5px,#01b9c6 48.6px,#18aedb 49.7px,#18aedb 53.4px,#18aedb 62.2px,#18aedb 65.9px,#05b6ce 70.3px,#07bcbf 74.7px,#07bcbf 78.4px,#05b6ce 82.8px,#18aedb 87.2px,#18aedb 90.9px,#249fe6 95.3px,#2c8ef2 99.7px,#2c8ef2 103.4px,#2c8ef2 112.2px,#2c8ef2 115.9px,#23a0e5 124.7px,#23a0e5 128.4px,#2b92ef 132.8px,#2f81fa 137.1px,#2f81fa 140.9px,#3f6dfe 143.1px,#475af9 145.3px,#4747ec 147.5px,#4536d3 149.6px,#4536d3 153.4px,#4747eb 156.3px,#475af9 159.2px,#406cfe 162.1px,#406cfe 165.9px,#475af9 168.8px,#4747eb 171.7px,#4536d3 174.6px,#4536d3 178.4px,#4746ea 180.1px,#4758f8 181.9px,#426afe 183.6px,#317dfc 185.4px,#2c8ef2 187.1px,#2c8ef2 190.9px,#249ee6 193.1px,#19acdc 195.3px,#01b7ca 197.4px,#1ac0b5 199.6px,#1ac0b5 203.4px,#35c79a 212.1px,#35c79a 215.9px,#17bfb6 218.8px,#06b5cf 221.7px,#1ea7e1 224.6px,#1ea7e1 228.4px,#2796eb 230.6px,#2e83f9 232.7px,#3f6dfe 234.9px,#4758f8 237.1px,#4758f8 240.9px,#4747eb 245.2px,#4536d3 249.6px,#4536d3 253.4px,#4747eb 262.1px,#4747eb 265.9px,#4759f8 270.2px,#406cfe 274.6px,#406cfe 278.4px,#2f81fa 287.1px,#2f81fa 290.9px,#2f81fa 299.6px,#2f81fa 303.3px,#406cfe 312.1px,#406cfe 315.8px,#4758f8 324.6px,#4758f8 328.3px,#4851f4 337.1px,#4851f4 340.8px,#4747eb 349.6px,#4747eb 353.3px,#475af9 356.3px,#406dfe 359.2px,#2f81fa 362.1px,#2f81fa 365.8px,#2f81fa 374.6px,#2f81fa 378.3px,#406cfe 387.1px,#406cfe 390.8px,#4660fc 399.6px,#4660fc 403.3px,#4758f8 412.1px,#4758f8 415.8px,#4758f8 424.6px,#4758f8 428.0px)"></div>
<div style="position:absolute;left:0;top:265px;height:17.68px;background:linear-gradient(to right,#f0ba36 0.0px,#f0ba36 3.4px,#fec338 6.4px,#fad62d 9.3px,#f5e924 12.2px,#f5e924 15.9px,#f5e924 24.7px,#f5e924 28.4px,#fad62d 31.3px,#fec338 34.3px,#f0ba36 37.2px,#f0ba36 40.9px,#c8c129 42.2px,#96ca48 43.4px,#60cd72 44.7px,#37c898 45.9px,#1ac0b5 47.2px,#05b6ce 48.4px,#1ea7e1 49.7px,#1ea7e1 53.4px,#18aedb 62.2px,#18aedb 65.9px,#05b6ce 74.7px,#05b6ce 78.4px,#1ea7e1 87.2px,#1ea7e1 90.9px,#2896eb 93.8px,#2e83f9 96.7px,#406cfe 99.7px,#406cfe 103.4px,#3080fb 106.3px,#2b91ef 109.2px,#23a0e5 112.2px,#23a0e5 115.9px,#1ea7e1 124.7px,#1ea7e1 128.4px,#23a0e5 137.1px,#23a0e5 140.9px,#2c8ef2 149.6px,#2c8ef2 153.4px,#2f81fa 162.1px,#2f81fa 165.9px,#3479fd 174.6px,#3479fd 178.4px,#2c8ef2 187.1px,#2c8ef2 190.9px,#249ee6 193.1px,#19acdc 195.3px,#01b7ca 197.4px,#1ac0b5 199.6px,#1ac0b5 203.4px,#05b6ce 212.1px,#05b6ce 215.9px,#19acdc 220.2px,#23a0e5 224.6px,#23a0e5 228.4px,#2b90ef 230.6px,#307ffb 232.7px,#416bfe 234.9px,#4758f8 237.1px,#4758f8 240.9px,#4747eb 249.6px,#4747eb 253.4px,#4747eb 262.1px,#4747eb 265.9px,#4853f5 270.2px,#4660fc 274.6px,#4660fc 278.4px,#3d71ff 282.7px,#2f81fa 287.1px,#2f81fa 290.9px,#2c8ef2 299.6px,#2c8ef2 303.3px,#317dfc 306.3px,#426afe 309.2px,#4758f8 312.1px,#4758f8 315.8px,#484aee 320.2px,#463cde 324.6px,#463cde 328.3px,#484aee 332.7px,#4758f8 337.1px,#4758f8 340.8px,#4747eb 345.2px,#4536d3 349.6px,#4536d3 353.3px,#4747ec 355.5px,#475af9 357.7px,#3f6dfe 359.9px,#2f81fa 362.1px,#2f81fa 365.8px,#2895ec 374.6px,#2895ec 378.3px,#2c8ef2 387.1px,#2c8ef2 390.8px,#317efb 395.2px,#406cfe 399.6px,#406cfe 403.3px,#4758f8 412.1px,#4758f8 415.8px,#4758f8 424.6px,#4758f8 428.0px)"></div>
<div style="position:absolute;left:0;top:282.67px;height:17.67px;background:linear-gradient(to right,#1ac0b5 0.0px,#1ac0b5 3.4px,#33c79d 5.2px,#50cc7f 6.9px,#7ccc5c 8.7px,#a9c73a 10.4px,#d2bf27 12.2px,#d2bf27 15.9px,#e8bb2e 20.3px,#f9bb3d 24.7px,#f9bb3d 28.4px,#dbbd29 30.2px,#b3c534 31.9px,#84cb56 33.7px,#56cc7b 35.4px,#35c79a 37.2px,#35c79a 40.9px,#19bfb5 42.0px,#05b6cd 43.1px,#1da8e0 44.2px,#2798ea 45.3px,#2e85f8 46.4px,#3e70ff 47.5px,#475bf9 48.6px,#4747eb 49.7px,#4747eb 53.4px,#4759f8 55.2px,#416bfe 56.9px,#307ffb 58.7px,#2b91ef 60.4px,#23a0e5 62.2px,#23a0e5 65.9px,#23a0e5 74.7px,#23a0e5 78.4px,#2b92ef 82.8px,#2f81fa 87.2px,#2f81fa 90.9px,#406dfe 93.8px,#475af9 96.7px,#4747eb 99.7px,#4747eb 103.4px,#4747eb 112.2px,#4747eb 115.9px,#475bf9 117.4px,#3e70ff 118.8px,#2e85f8 120.3px,#2798ea 121.7px,#1da8e0 123.2px,#05b6ce 124.7px,#05b6ce 128.4px,#05b6ce 137.1px,#05b6ce 140.9px,#1ea7e1 149.6px,#1ea7e1 153.4px,#23a0e5 162.1px,#23a0e5 165.9px,#23a0e5 174.6px,#23a0e5 178.4px,#1ea7e1 187.1px,#1ea7e1 190.9px,#05b6ce 199.6px,#05b6ce 203.4px,#05b6ce 212.1px,#05b6ce 215.9px,#19acdc 220.2px,#23a0e5 224.6px,#23a0e5 228.4px,#2c8ff1 230.6px,#327bfc 232.7px,#4465fd 234.9px,#4851f4 237.1px,#4851f4 240.9px,#4747eb 249.6px,#4747eb 253.4px,#4758f8 262.1px,#4758f8 265.9px,#406cfe 270.2px,#2f81fa 274.6px,#2f81fa 278.4px,#2c8ef2 287.1px,#2c8ef2 290.9px,#2895ec 299.6px,#2895ec 303.3px,#2e83f9 306.3px,#406dfe 309.2px,#4758f8 312.1px,#4758f8 315.8px,#4747eb 324.6px,#4747eb 328.3px,#4851f4 337.1px,#4851f4 340.8px,#4758f8 349.6px,#4758f8 353.3px,#426afe 356.3px,#317dfc 359.2px,#2c8ef2 362.1px,#2c8ef2 365.8px,#259be8 370.2px,#1ea7e1 374.6px,#1ea7e1 378.3px,#18aedb 387.1px,#18aedb 390.8px,#23a0e5 393.7px,#2b92ef 396.7px,#2f81fa 399.6px,#2f81fa 403.3px,#3f6dfe 405.5px,#475af9 407.7px,#4747ec 409.9px,#4536d3 412.1px,#4536d3 415.8px,#4747eb 420.2px,#4758f8 424.6px,#4758f8 428.0px)"></div>
<div style="position:absolute;left:0;top:300.33px;height:17.68px;background:linear-gradient(to right,#18aedb 0.0px,#18aedb 3.4px,#01b8c8 6.4px,#1dc0b3 9.3px,#35c79a 12.2px,#35c79a 15.9px,#46cb87 24.7px,#46cb87 28.4px,#31c6a0 32.8px,#1ac0b5 37.2px,#1ac0b5 40.9px,#04b6cd 42.2px,#1da9e0 43.4px,#2798ea 44.7px,#2e85f8 45.9px,#3d70ff 47.2px,#475bf9 48.4px,#4747eb 49.7px,#4747eb 53.4px,#4759f8 55.2px,#416bfe 56.9px,#307ffb 58.7px,#2b91ef 60.4px,#23a0e5 62.2px,#23a0e5 65.9px,#2c8ef2 74.7px,#2c8ef2 78.4px,#327cfc 80.2px,#4368fe 81.9px,#4755f6 83.7px,#4743e7 85.4px,#4433cb 87.2px,#4433cb 90.9px,#4744e9 95.3px,#4758f8 99.7px,#4758f8 103.4px,#406cfe 112.2px,#406cfe 115.9px,#2f81fa 117.4px,#2a92ee 118.8px,#21a3e4 120.3px,#13b1d7 121.7px,#03bbc2 123.2px,#28c3ab 124.7px,#28c3ab 128.4px,#28c3ab 137.1px,#28c3ab 140.9px,#07bcc0 143.8px,#0cb3d3 146.7px,#1ea7e1 149.6px,#1ea7e1 153.4px,#23a0e5 162.1px,#23a0e5 165.9px,#23a0e5 174.6px,#23a0e5 178.4px,#2895ec 187.1px,#2895ec 190.9px,#2c8ef2 199.6px,#2c8ef2 203.4px,#23a0e5 212.1px,#23a0e5 215.9px,#2895ec 224.6px,#2895ec 228.4px,#2e84f9 230.1px,#3e6fff 231.9px,#475bf9 233.6px,#4848ec 235.4px,#4536d3 237.1px,#4536d3 240.9px,#4743e7 243.8px,#4852f4 246.7px,#4660fc 249.6px,#4660fc 253.4px,#4660fc 262.1px,#4660fc 265.9px,#4660fc 274.6px,#4660fc 278.4px,#3d71ff 282.7px,#2f81fa 287.1px,#2f81fa 290.9px,#2c8ef2 299.6px,#2c8ef2 303.3px,#2f81fa 312.1px,#2f81fa 315.8px,#406cfe 320.2px,#4758f8 324.6px,#4758f8 328.3px,#4758f8 337.1px,#4758f8 340.8px,#4758f8 349.6px,#4758f8 353.3px,#406cfe 357.7px,#2f81fa 362.1px,#2f81fa 365.8px,#2b92ef 370.2px,#23a0e5 374.6px,#23a0e5 378.3px,#23a0e5 387.1px,#23a0e5 390.8px,#23a0e5 399.6px,#23a0e5 403.3px,#2a92ee 405.5px,#2e83f9 407.7px,#3c71ff 409.9px,#4660fc 412.1px,#4660fc 415.8px,#4660fc 424.6px,#4660fc 428.0px)"></div>
<div style="position:absolute;left:0;top:318px;height:17.68px;background:linear-gradient(to right,#406cfe 0.0px,#406cfe 3.4px,#2f81fa 12.2px,#2f81fa 15.9px,#2c8ef2 24.7px,#2c8ef2 28.4px,#2c8ef2 37.2px,#2c8ef2 40.9px,#2895ec 49.7px,#2895ec 53.4px,#23a0e5 62.2px,#23a0e5 65.9px,#23a0e5 74.7px,#23a0e5 78.4px,#2c8ef1 82.8px,#3479fd 87.2px,#3479fd 90.9px,#406cfe 99.7px,#406cfe 103.4px,#3080fb 105.6px,#2b90ef 107.8px,#23a0e5 110.0px,#18aedb 112.2px,#18aedb 115.9px,#01b8c8 117.7px,#1ec0b2 119.4px,#35c79a 121.2px,#55cc7c 122.9px,#81cc58 124.7px,#81cc58 128.4px,#55cc7c 130.1px,#35c79a 131.9px,#1ec0b2 133.6px,#01b8c8 135.4px,#18aedb 137.1px,#18aedb 140.9px,#249fe6 145.3px,#2c8ef2 149.6px,#2c8ef2 153.4px,#23a0e5 162.1px,#23a0e5 165.9px,#18aedb 174.6px,#18aedb 178.4px,#23a0e5 181.3px,#2b92ef 184.2px,#2f81fa 187.1px,#2f81fa 190.9px,#3d71ff 195.3px,#4660fc 199.6px,#4660fc 203.4px,#3e70ff 206.3px,#307ffb 209.2px,#2c8ef2 212.1px,#2c8ef2 215.9px,#2f81fa 224.6px,#2f81fa 228.4px,#3e6fff 230.6px,#465efb 232.7px,#484df0 234.9px,#463cde 237.1px,#463cde 240.9px,#484cef 243.8px,#475cfa 246.7px,#406cfe 249.6px,#406cfe 253.4px,#406cfe 262.1px,#406cfe 265.9px,#475cfa 268.8px,#484cef 271.7px,#463cde 274.6px,#463cde 278.4px,#4850f3 280.5px,#4464fd 282.7px,#347afd 284.9px,#2c8ef2 287.1px,#2c8ef2 290.9px,#249fe6 295.2px,#18aedb 299.6px,#18aedb 303.3px,#23a0e5 312.1px,#23a0e5 315.8px,#2c8ef2 324.6px,#2c8ef2 328.3px,#317efb 332.7px,#406cfe 337.1px,#406cfe 340.8px,#4759f8 345.2px,#4747eb 349.6px,#4747eb 353.3px,#475af9 356.3px,#406dfe 359.2px,#2f81fa 362.1px,#2f81fa 365.8px,#2b92ef 370.2px,#23a0e5 374.6px,#23a0e5 378.3px,#23a0e5 387.1px,#23a0e5 390.8px,#23a0e5 399.6px,#23a0e5 403.3px,#23a0e5 412.1px,#23a0e5 415.8px,#23a0e5 424.6px,#23a0e5 428.0px)"></div>
<div style="position:absolute;left:0;top:335.67px;height:17.67px;background:linear-gradient(to right,#4433cb 0.0px,#4433cb 3.4px,#4742e6 5.6px,#4854f5 7.8px,#4466fd 10.0px,#3479fd 12.2px,#3479fd 15.9px,#2f81fa 24.7px,#2f81fa 28.4px,#406dfe 31.3px,#475af9 34.3px,#4747eb 37.2px,#4747eb 40.9px,#475af9 42.7px,#3e6fff 44.4px,#2e84f8 46.2px,#2797eb 47.9px,#1ea7e1 49.7px,#1ea7e1 53.4px,#05b6ce 62.2px,#05b6ce 65.9px,#18aedb 74.7px,#18aedb 78.4px,#22a2e4 82.8px,#2895ec 87.2px,#2895ec 90.9px,#2c8ef2 99.7px,#2c8ef2 103.4px,#249ee6 105.2px,#19addc 106.9px,#01b8c9 108.7px,#1cc0b3 110.4px,#35c79a 112.2px,#35c79a 115.9px,#53cc7d 118.1px,#7ecc5b 120.3px,#aac73a 122.5px,#d2bf27 124.7px,#d2bf27 128.4px,#a9c73a 130.1px,#7ccc5c 131.9px,#50cc7f 133.6px,#33c79d 135.4px,#1ac0b5 137.1px,#1ac0b5 140.9px,#04b6cd 142.1px,#1da9e0 143.4px,#2798ea 144.6px,#2e85f8 145.9px,#3d70ff 147.1px,#475bf9 148.4px,#4747eb 149.6px,#4747eb 153.4px,#475af9 155.1px,#3e6fff 156.9px,#2e84f8 158.6px,#2797eb 160.4px,#1ea7e1 162.1px,#1ea7e1 165.9px,#06b5cf 168.8px,#17bfb6 171.7px,#35c79a 174.6px,#35c79a 178.4px,#19bfb5 179.5px,#05b6cd 180.6px,#1da8e0 181.7px,#2798ea 182.8px,#2e85f8 183.9px,#3e70ff 184.9px,#475bf9 186.0px,#4747eb 187.1px,#4747eb 190.9px,#4758f8 199.6px,#4758f8 203.4px,#4758f8 212.1px,#4758f8 215.9px,#4758f8 224.6px,#4758f8 228.4px,#4758f8 237.1px,#4758f8 240.9px,#4758f8 249.6px,#4758f8 253.4px,#4660fc 262.1px,#4660fc 265.9px,#4852f4 268.8px,#4743e7 271.7px,#4536d3 274.6px,#4536d3 278.4px,#4747eb 281.3px,#475af9 284.2px,#406cfe 287.1px,#406cfe 290.9px,#3080fb 293.0px,#2b90ef 295.2px,#23a0e5 297.4px,#18aedb 299.6px,#18aedb 303.3px,#05b6ce 307.7px,#07bcbf 312.1px,#07bcbf 315.8px,#13b1d7 320.2px,#23a0e5 324.6px,#23a0e5 328.3px,#2b90ef 330.5px,#307ffb 332.7px,#416bfe 334.9px,#4758f8 337.1px,#4758f8 340.8px,#4747eb 345.2px,#4536d3 349.6px,#4536d3 353.3px,#4743e7 356.3px,#4852f4 359.2px,#4660fc 362.1px,#4660fc 365.8px,#3c71ff 368.0px,#2e83f9 370.2px,#2a92ee 372.4px,#23a0e5 374.6px,#23a0e5 378.3px,#23a0e5 387.1px,#23a0e5 390.8px,#23a0e5 399.6px,#23a0e5 403.3px,#2895ec 412.1px,#2895ec 415.8px,#23a0e5 424.6px,#23a0e5 428.0px)"></div>
<div style="position:absolute;left:0;top:353.33px;height:17.68px;background:linear-gradient(to right,#4660fc 0.0px,#4660fc 3.4px,#406cfe 7.8px,#3479fd 12.2px,#3479fd 15.9px,#2f81fa 24.7px,#2f81fa 28.4px,#3d71ff 32.8px,#4660fc 37.2px,#4660fc 40.9px,#3c71ff 43.1px,#2e83f9 45.3px,#2a92ee 47.5px,#23a0e5 49.7px,#23a0e5 53.4px,#19acdc 57.8px,#05b6ce 62.2px,#05b6ce 65.9px,#1ea7e1 74.7px,#1ea7e1 78.4px,#2895ec 87.2px,#2895ec 90.9px,#23a0e5 99.7px,#23a0e5 103.4px,#18aedb 106.3px,#01b8c9 109.2px,#1ac0b5 112.2px,#1ac0b5 115.9px,#35c79a 124.7px,#35c79a 128.4px,#1ac0b5 137.1px,#1ac0b5 140.9px,#02b7cb 142.6px,#1aabdd 144.4px,#259ce7 146.1px,#2d8cf3 147.9px,#3479fd 149.6px,#3479fd 153.4px,#2d8df2 156.3px,#249ee6 159.2px,#18aedb 162.1px,#18aedb 165.9px,#01b8c8 168.8px,#1dc0b3 171.7px,#35c79a 174.6px,#35c79a 178.4px,#17bfb6 180.1px,#07b5cf 181.9px,#1ea7e1 183.6px,#2895ec 185.4px,#2f81fa 187.1px,#2f81fa 190.9px,#406cfe 199.6px,#406cfe 203.4px,#475af9 206.3px,#4747eb 209.2px,#4536d3 212.1px,#4536d3 215.9px,#4743e7 218.8px,#4852f4 221.7px,#4660fc 224.6px,#4660fc 228.4px,#4660fc 237.1px,#4660fc 240.9px,#4853f5 245.2px,#4747eb 249.6px,#4747eb 253.4px,#4853f5 257.7px,#4660fc 262.1px,#4660fc 265.9px,#406cfe 274.6px,#406cfe 278.4px,#2f81fa 287.1px,#2f81fa 290.9px,#2c8ef2 299.6px,#2c8ef2 303.3px,#2c8ef2 312.1px,#2c8ef2 315.8px,#2c8ef2 324.6px,#2c8ef2 328.3px,#2f81fa 337.1px,#2f81fa 340.8px,#406cfe 349.6px,#406cfe 353.3px,#475af9 356.3px,#4747eb 359.2px,#4536d3 362.1px,#4536d3 365.8px,#4747ec 368.0px,#475af9 370.2px,#3f6dfe 372.4px,#2f81fa 374.6px,#2f81fa 378.3px,#2895ec 387.1px,#2895ec 390.8px,#2e83f9 393.0px,#3f6eff 395.2px,#475af9 397.4px,#4747eb 399.6px,#4747eb 403.3px,#4759f8 407.7px,#406cfe 412.1px,#406cfe 415.8px,#2e83f9 418.7px,#2896eb 421.6px,#1ea7e1 424.6px,#1ea7e1 428.0px)"></div>
</div>
<div class="box" style="left:59.5px;top:34px;width:429px;height:372px"></div>
<div class="tk" style="left:114.17px;top:401.5px;width:1px;height:4px"></div>
<div class="tk" style="left:114.17px;top:34.5px;width:1px;height:4px"></div>
<div class="t tx" style="font-size:14.40px;left:114.67px;top:414.8px">60</div>
<div class="tk" style="left:176.65px;top:401.5px;width:1px;height:4px"></div>
<div class="tk" style="left:176.65px;top:34.5px;width:1px;height:4px"></div>
<div class="t tx" style="font-size:14.40px;left:177.15px;top:414.8px">80</div>
<div class="tk" style="left:239.14px;top:401.5px;width:1px;height:4px"></div>
<div class="tk" style="left:239.14px;top:34.5px;width:1px;height:4px"></div>
<div class="t tx" style="font-size:14.40px;left:239.64px;top:414.8px">100</div>
<div class="tk" style="left:301.62px;top:401.5px;width:1px;height:4px"></div>
<div class="tk" style="left:301.62px;top:34.5px;width:1px;height:4px"></div>
<div class="t tx" style="font-size:14.40px;left:302.12px;top:414.8px">120</div>
<div class="tk" style="left:364.1px;top:401.5px;width:1px;height:4px"></div>
<div class="tk" style="left:364.1px;top:34.5px;width:1px;height:4px"></div>
<div class="t tx" style="font-size:14.40px;left:364.6px;top:414.8px">140</div>
<div class="tk" style="left:426.58px;top:401.5px;width:1px;height:4px"></div>
<div class="tk" style="left:426.58px;top:34.5px;width:1px;height:4px"></div>
<div class="t tx" style="font-size:14.40px;left:427.08px;top:414.8px">160</div>
<div class="tk" style="left:60px;top:60.5px;width:4px;height:1px"></div>
<div class="tk" style="left:484px;top:60.5px;width:4px;height:1px"></div>
<div class="t ty" style="font-size:14.40px;left:53px;top:61.7px">2</div>
<div class="tk" style="left:60px;top:95.83px;width:4px;height:1px"></div>
<div class="tk" style="left:484px;top:95.83px;width:4px;height:1px"></div>
<div class="t ty" style="font-size:14.40px;left:53px;top:97.03px">4</div>
<div class="tk" style="left:60px;top:131.17px;width:4px;height:1px"></div>
<div class="tk" style="left:484px;top:131.17px;width:4px;height:1px"></div>
<div class="t ty" style="font-size:14.40px;left:53px;top:132.37px">6</div>
<div class="tk" style="left:60px;top:166.5px;width:4px;height:1px"></div>
<div class="tk" style="left:484px;top:166.5px;width:4px;height:1px"></div>
<div class="t ty" style="font-size:14.40px;left:53px;top:167.7px">8</div>
<div class="tk" style="left:60px;top:201.83px;width:4px;height:1px"></div>
<div class="tk" style="left:484px;top:201.83px;width:4px;height:1px"></div>
<div class="t ty" style="font-size:14.40px;left:53px;top:203.03px">10</div>
<div class="tk" style="left:60px;top:237.17px;width:4px;height:1px"></div>
<div class="tk" style="left:484px;top:237.17px;width:4px;height:1px"></div>
<div class="t ty" style="font-size:14.40px;left:53px;top:238.37px">12</div>
<div class="tk" style="left:60px;top:272.5px;width:4px;height:1px"></div>
<div class="tk" style="left:484px;top:272.5px;width:4px;height:1px"></div>
<div class="t ty" style="font-size:14.40px;left:53px;top:273.7px">14</div>
<div class="tk" style="left:60px;top:307.83px;width:4px;height:1px"></div>
<div class="tk" style="left:484px;top:307.83px;width:4px;height:1px"></div>
<div class="t ty" style="font-size:14.40px;left:53px;top:309.03px">16</div>
<div class="tk" style="left:60px;top:343.17px;width:4px;height:1px"></div>
<div class="tk" style="left:484px;top:343.17px;width:4px;height:1px"></div>
<div class="t ty" style="font-size:14.40px;left:53px;top:344.37px">18</div>
<div class="tk" style="left:60px;top:378.5px;width:4px;height:1px"></div>
<div class="tk" style="left:484px;top:378.5px;width:4px;height:1px"></div>
<div class="t ty" style="font-size:14.40px;left:53px;top:379.7px">20</div>
<div class="ab" style="left:500.1px;top:34.5px;width:22.9px;height:371px;background:linear-gradient(to bottom,#f9fb15 0.0%,#f6ef20 3.1%,#f5e327 6.2%,#f9d62d 9.4%,#feca33 12.5%,#febe3c 15.6%,#f1ba37 18.8%,#debc2a 21.9%,#c8c129 25.0%,#afc637 28.1%,#94ca4a 31.2%,#77cc60 34.4%,#5ccc76 37.5%,#44ca8a 40.6%,#34c79c 43.8%,#28c2ab 46.9%,#12beb9 50.0%,#01b9c6 53.1%,#0cb3d3 56.2%,#1aacdd 59.4%,#21a3e3 62.5%,#269ae9 65.6%,#2c90f0 68.8%,#2e85f8 71.9%,#347afd 75.0%,#3f6efe 78.1%,#4562fc 81.2%,#4757f7 84.4%,#484cef 87.5%,#4741e5 90.6%,#4536d5 93.8%,#422ebf 96.9%,#3e26a8 100.0%)"></div>
<div class="box" style="left:499.6px;top:34px;width:23.9px;height:372px"></div>
<div class="tk" style="left:520px;top:50.1px;width:3px;height:1px"></div>
<div class="t tc" style="font-size:14.40px;left:528.5px;top:51.4px">0.04</div>
<div class="tk" style="left:520px;top:94.6px;width:3px;height:1px"></div>
<div class="t tc" style="font-size:14.40px;left:528.5px;top:95.9px">0.035</div>
<div class="tk" style="left:520px;top:139.1px;width:3px;height:1px"></div>
<div class="t tc" style="font-size:14.40px;left:528.5px;top:140.4px">0.03</div>
<div class="tk" style="left:520px;top:183.6px;width:3px;height:1px"></div>
<div class="t tc" style="font-size:14.40px;left:528.5px;top:184.9px">0.025</div>
<div class="tk" style="left:520px;top:228.1px;width:3px;height:1px"></div>
<div class="t tc" style="font-size:14.40px;left:528.5px;top:229.4px">0.02</div>
<div class="tk" style="left:520px;top:272.6px;width:3px;height:1px"></div>
<div class="t tc" style="font-size:14.40px;left:528.5px;top:273.9px">0.015</div>
<div class="tk" style="left:520px;top:317.1px;width:3px;height:1px"></div>
<div class="t tc" style="font-size:14.40px;left:528.5px;top:318.4px">0.01</div>
<div class="tk" style="left:520px;top:361.6px;width:3px;height:1px"></div>
<div class="t tc" style="font-size:14.40px;left:528.5px;top:362.9px">0.005</div>
<div class="t ti" style="font-size:16.00px;left:274px;top:16px">Background</div>
<div class="t xl" style="font-size:27.00px;left:274px;top:432.4px">Heart Rate [bpm]</div>
<div class="t yl" style="font-size:27.00px;left:2px;top:220.5px">Time Step <i>T</i></div>
<div class="t pl" style="left:283.4px;top:473.6px">(a)</div>
<div class="hm" style="left:662.5px;top:28.5px;width:434.7px;height:376.1px">
<div style="position:absolute;left:0;top:0px;height:17.92px;background:linear-gradient(to right,#4851f4 0.0px,#4851f4 3.5px,#475cfa 12.4px,#475cfa 16.2px,#406cfe 25.1px,#406cfe 28.9px,#3479fd 37.8px,#3479fd 40.6px,#3479fd 45.1px,#3479fd 47.0px,#4564fd 48.4px,#4850f2 49.9px,#463cde 51.4px,#463cde 53.3px,#484ef1 54.2px,#465ffb 55.1px,#3b72ff 56.0px,#2e85f8 56.9px,#2895ec 57.7px,#2895ec 59.7px,#1ea7e1 60.8px,#06b5cf 61.9px,#17bfb6 63.0px,#35c79a 64.1px,#35c79a 66.0px,#56cc7b 66.9px,#84cb56 67.8px,#b3c534 68.7px,#dbbd29 69.6px,#f9bb3d 70.4px,#f9bb3d 72.3px,#fdcc32 74.6px,#f5e128 76.8px,#f5e128 78.7px,#f6f01f 83.1px,#f6f01f 85.0px,#f6e029 87.3px,#fdce31 89.5px,#fdce31 91.4px,#fbbc3d 92.3px,#ddbd29 93.2px,#b6c533 94.0px,#87cb54 94.9px,#58cc79 95.8px,#58cc79 97.7px,#36c899 98.8px,#1fc0b2 99.9px,#01b9c8 101.1px,#18aedb 102.2px,#18aedb 104.1px,#23a0e5 105.6px,#2b92ef 107.0px,#2f81fa 108.5px,#2f81fa 110.4px,#3d71ff 112.6px,#4660fc 114.9px,#4660fc 116.8px,#4660fc 121.2px,#4660fc 123.1px,#4755f6 127.6px,#4755f6 130.4px,#4755f6 139.3px,#4755f6 143.1px,#4368fe 152.0px,#4368fe 155.8px,#4368fe 164.7px,#4368fe 168.5px,#4660fc 177.4px,#4660fc 181.2px,#4755f6 185.6px,#484aee 190.1px,#484aee 193.9px,#484aee 202.8px,#484aee 206.6px,#484aee 215.4px,#484aee 219.3px,#4743e7 228.1px,#4743e7 231.9px,#484aee 240.8px,#484aee 244.6px,#4755f6 253.5px,#4755f6 257.3px,#484aee 266.2px,#484aee 270.0px,#4536d3 278.9px,#4536d3 282.7px,#484aee 291.6px,#484aee 295.4px,#4851f4 304.3px,#4851f4 308.1px,#4743e7 317.0px,#4743e7 320.8px,#4434cf 329.7px,#4434cf 333.5px,#4743e7 342.4px,#4743e7 346.2px,#4743e7 355.1px,#4743e7 358.9px,#4743e7 367.7px,#4743e7 371.6px,#463cde 380.4px,#463cde 384.2px,#4434cf 393.1px,#4434cf 396.9px,#4743e7 405.8px,#4743e7 409.6px,#484ef1 418.5px,#484ef1 422.3px,#4851f4 431.2px,#4851f4 434.7px)"></div>
<div style="position:absolute;left:0;top:17.91px;height:17.92px;background:linear-gradient(to right,#406cfe 0.0px,#406cfe 3.5px,#3479fd 7.9px,#2e86f8 12.4px,#2e86f8 16.2px,#2e86f8 25.1px,#2e86f8 28.9px,#3479fd 37.8px,#3479fd 40.6px,#406cfe 45.1px,#406cfe 47.0px,#4660fc 51.4px,#4660fc 53.3px,#3d71ff 55.5px,#2f81fa 57.7px,#2f81fa 59.7px,#2895ec 60.8px,#1ea7e1 61.9px,#05b6ce 63.0px,#1ac0b5 64.1px,#1ac0b5 66.0px,#35c79a 66.9px,#5acc78 67.8px,#8ccb50 68.7px,#bcc42f 69.6px,#e5bb2c 70.4px,#e5bb2c 72.3px,#febf3b 73.8px,#fbd32e 75.3px,#f5e924 76.8px,#f5e924 78.7px,#f9fb15 83.1px,#f9fb15 85.0px,#f5e924 87.3px,#fad62d 89.5px,#fad62d 91.4px,#febf3b 92.5px,#e2bc2b 93.6px,#b6c532 94.7px,#81cc58 95.8px,#81cc58 97.7px,#52cc7e 98.8px,#33c69e 99.9px,#16bfb7 101.1px,#05b6ce 102.2px,#05b6ce 104.1px,#1ea7e1 105.6px,#2895ec 107.0px,#2f81fa 108.5px,#2f81fa 110.4px,#406cfe 112.6px,#4758f8 114.9px,#4758f8 116.8px,#484aee 121.2px,#484aee 123.1px,#463cde 127.6px,#463cde 130.4px,#484aee 139.3px,#484aee 143.1px,#4755f6 152.0px,#4755f6 155.8px,#4755f6 164.7px,#4755f6 168.5px,#484aee 177.4px,#484aee 181.2px,#4743e7 190.1px,#4743e7 193.9px,#4743e7 202.8px,#4743e7 206.6px,#484ef1 215.4px,#484ef1 219.3px,#484ef1 228.1px,#484ef1 231.9px,#484ef1 240.8px,#484ef1 244.6px,#484aee 253.5px,#484aee 257.3px,#4743e7 266.2px,#4743e7 270.0px,#4536d3 278.9px,#4536d3 282.7px,#484aee 291.6px,#484aee 295.4px,#4758f8 304.3px,#4758f8 308.1px,#4743e7 317.0px,#4743e7 320.8px,#463cde 329.7px,#463cde 333.5px,#4743e7 342.4px,#4743e7 346.2px,#463cde 355.1px,#463cde 358.9px,#4434cf 367.7px,#4434cf 371.6px,#463cde 380.4px,#463cde 384.2px,#463cde 393.1px,#463cde 396.9px,#4743e7 405.8px,#4743e7 409.6px,#484aee 418.5px,#484aee 422.3px,#484aee 431.2px,#484aee 434.7px)"></div>
<div style="position:absolute;left:0;top:35.82px;height:17.92px;background:linear-gradient(to right,#4464fd 0.0px,#4464fd 3.5px,#3479fd 12.4px,#3479fd 16.2px,#2e86f8 25.1px,#2e86f8 28.9px,#3479fd 37.8px,#3479fd 40.6px,#3479fd 45.1px,#3479fd 47.0px,#406cfe 51.4px,#406cfe 53.3px,#2f81fa 57.7px,#2f81fa 59.7px,#2895ec 60.8px,#1ea7e1 61.9px,#05b6ce 63.0px,#1ac0b5 64.1px,#1ac0b5 66.0px,#35c79a 67.1px,#59cc78 68.2px,#8bcb51 69.3px,#bcc42f 70.4px,#bcc42f 72.3px,#dfbc2a 73.5px,#f9bb3d 74.6px,#fdcb33 75.7px,#f6de29 76.8px,#f6de29 78.7px,#f5e526 83.1px,#f5e526 85.0px,#fbd22f 89.5px,#fbd22f 91.4px,#febd3c 92.3px,#e1bc2b 93.2px,#b9c431 94.0px,#88cb53 94.9px,#58cc79 95.8px,#58cc79 97.7px,#34c79c 98.8px,#16bfb7 99.9px,#06b5cf 101.1px,#1ea7e1 102.2px,#1ea7e1 104.1px,#2896eb 105.6px,#2e83f9 107.0px,#406cfe 108.5px,#406cfe 110.4px,#4758f8 114.9px,#4758f8 116.8px,#4755f6 121.2px,#4755f6 123.1px,#4743e7 127.6px,#4743e7 130.4px,#4755f6 139.3px,#4755f6 143.1px,#4755f6 152.0px,#4755f6 155.8px,#484aee 164.7px,#484aee 168.5px,#463cde 177.4px,#463cde 181.2px,#4743e7 190.1px,#4743e7 193.9px,#484aee 202.8px,#484aee 206.6px,#484aee 215.4px,#484aee 219.3px,#4851f4 228.1px,#4851f4 231.9px,#484ef1 240.8px,#484ef1 244.6px,#484aee 253.5px,#484aee 257.3px,#4743e7 266.2px,#4743e7 270.0px,#4743e7 278.9px,#4743e7 282.7px,#4756f6 287.2px,#4368fe 291.6px,#4368fe 295.4px,#3975fe 304.3px,#3975fe 308.1px,#4368fe 317.0px,#4368fe 320.8px,#4759f8 325.2px,#484aee 329.7px,#484aee 333.5px,#4743e7 342.4px,#4743e7 346.2px,#4536d3 355.1px,#4536d3 358.9px,#4434cf 367.7px,#4434cf 371.6px,#463cde 380.4px,#463cde 384.2px,#463cde 393.1px,#463cde 396.9px,#463cde 405.8px,#463cde 409.6px,#4743e7 418.5px,#4743e7 422.3px,#4743e7 431.2px,#4743e7 434.7px)"></div>
<div style="position:absolute;left:0;top:53.73px;height:17.92px;background:linear-gradient(to right,#475cfa 0.0px,#475cfa 3.5px,#406cfe 12.4px,#406cfe 16.2px,#3479fd 25.1px,#3479fd 28.9px,#406cfe 37.8px,#406cfe 40.6px,#4464fd 45.1px,#4464fd 47.0px,#4850f3 49.2px,#463cde 51.4px,#463cde 53.3px,#4747eb 57.7px,#4747eb 59.7px,#475bf9 60.4px,#3e70ff 61.1px,#2e85f8 61.9px,#2798ea 62.6px,#1da8e0 63.4px,#05b6ce 64.1px,#05b6ce 66.0px,#18bfb6 66.9px,#34c79b 67.8px,#58cc79 68.7px,#8acb51 69.6px,#bcc42f 70.4px,#bcc42f 72.3px,#dfbc2a 73.5px,#f9bb3d 74.6px,#fdcb33 75.7px,#f6de29 76.8px,#f6de29 78.7px,#f5e526 83.1px,#f5e526 85.0px,#fbd22f 87.3px,#fec03b 89.5px,#fec03b 91.4px,#e5bb2d 92.3px,#bcc42f 93.2px,#8bcb51 94.0px,#59cc78 94.9px,#35c79a 95.8px,#35c79a 97.7px,#17bfb6 98.8px,#06b5cf 99.9px,#1ea7e1 101.1px,#2895ec 102.2px,#2895ec 104.1px,#2e85f8 105.0px,#3b72ff 105.9px,#465ffb 106.7px,#484ef1 107.6px,#463cde 108.5px,#463cde 110.4px,#4851f4 114.9px,#4851f4 116.8px,#4755f6 121.2px,#4755f6 123.1px,#4755f6 127.6px,#4755f6 130.4px,#4755f6 139.3px,#4755f6 143.1px,#4755f6 152.0px,#4755f6 155.8px,#484aee 164.7px,#484aee 168.5px,#463cde 177.4px,#463cde 181.2px,#4743e7 190.1px,#4743e7 193.9px,#4743e7 202.8px,#4743e7 206.6px,#484aee 215.4px,#484aee 219.3px,#484ef1 228.1px,#484ef1 231.9px,#4743e7 240.8px,#4743e7 244.6px,#463cde 253.5px,#463cde 257.3px,#4743e7 266.2px,#4743e7 270.0px,#4755f6 278.9px,#4755f6 282.7px,#4368fe 287.2px,#317dfb 291.6px,#317dfb 295.4px,#2b92ef 304.3px,#2b92ef 308.1px,#317dfb 317.0px,#317dfb 320.8px,#4368fe 325.2px,#4755f6 329.7px,#4755f6 333.5px,#484aee 342.4px,#484aee 346.2px,#484aee 355.1px,#484aee 358.9px,#4743e7 367.7px,#4743e7 371.6px,#463cde 380.4px,#463cde 384.2px,#463cde 393.1px,#463cde 396.9px,#4743e7 405.8px,#4743e7 409.6px,#4743e7 418.5px,#4743e7 422.3px,#484aee 431.2px,#484aee 434.7px)"></div>
<div style="position:absolute;left:0;top:71.64px;height:17.92px;background:linear-gradient(to right,#475cfa 0.0px,#475cfa 3.5px,#406cfe 12.4px,#406cfe 16.2px,#406cfe 25.1px,#406cfe 28.9px,#406cfe 37.8px,#406cfe 40.6px,#4464fd 45.1px,#4464fd 47.0px,#4755f6 49.2px,#4747eb 51.4px,#4747eb 53.3px,#4536d3 57.7px,#4536d3 59.7px,#4849ed 60.3px,#475cfa 60.9px,#3c71ff 61.6px,#2e86f7 62.2px,#2798ea 62.8px,#1da8e0 63.5px,#05b6ce 64.1px,#05b6ce 66.0px,#14bfb8 66.9px,#32c69f 67.8px,#4fcc81 68.7px,#7ccc5c 69.6px,#acc738 70.4px,#acc738 72.3px,#d5be28 73.5px,#f5ba3a 74.6px,#fec934 75.7px,#f6de29 76.8px,#f6de29 78.7px,#f6de29 83.1px,#f6de29 85.0px,#fdce31 87.3px,#fec03b 89.5px,#fec03b 91.4px,#e5bb2d 92.3px,#bcc42f 93.2px,#8bcb51 94.0px,#59cc78 94.9px,#35c79a 95.8px,#35c79a 97.7px,#17bfb6 98.8px,#06b5cf 99.9px,#1ea7e1 101.1px,#2895ec 102.2px,#2895ec 104.1px,#2e83f9 105.0px,#406dfe 105.9px,#4759f8 106.7px,#4745e9 107.6px,#4433cb 108.5px,#4433cb 110.4px,#463cde 112.6px,#4747eb 114.9px,#4747eb 116.8px,#484aee 121.2px,#484aee 123.1px,#4743e7 127.6px,#4743e7 130.4px,#4743e7 139.3px,#4743e7 143.1px,#4743e7 152.0px,#4743e7 155.8px,#463cde 164.7px,#463cde 168.5px,#463cde 177.4px,#463cde 181.2px,#463cde 190.1px,#463cde 193.9px,#463cde 202.8px,#463cde 206.6px,#463cde 215.4px,#463cde 219.3px,#4743e7 228.1px,#4743e7 231.9px,#463cde 240.8px,#463cde 244.6px,#4434cf 253.5px,#4434cf 257.3px,#4536d3 266.2px,#4536d3 270.0px,#4745e9 274.5px,#4755f6 278.9px,#4755f6 282.7px,#4269fe 285.7px,#307ffb 288.6px,#2b92ef 291.6px,#2b92ef 295.4px,#2b92ef 304.3px,#2b92ef 308.1px,#317efb 312.5px,#4368fe 317.0px,#4368fe 320.8px,#4759f8 325.2px,#484aee 329.7px,#484aee 333.5px,#484aee 342.4px,#484aee 346.2px,#4743e7 355.1px,#4743e7 358.9px,#4743e7 367.7px,#4743e7 371.6px,#4536d3 380.4px,#4536d3 384.2px,#4536d3 393.1px,#4536d3 396.9px,#463cde 405.8px,#463cde 409.6px,#463cde 418.5px,#463cde 422.3px,#4536d3 431.2px,#4536d3 434.7px)"></div>
<div style="position:absolute;left:0;top:89.55px;height:17.92px;background:linear-gradient(to right,#4851f4 0.0px,#4851f4 3.5px,#4851f4 12.4px,#4851f4 16.2px,#4747eb 25.1px,#4747eb 28.9px,#4851f4 33.3px,#475cfa 37.8px,#475cfa 40.6px,#406cfe 45.1px,#406cfe 47.0px,#3479fd 51.4px,#3479fd 53.3px,#2d88f6 55.5px,#2895ec 57.7px,#2895ec 59.7px,#1ea7e1 61.1px,#05b6ce 62.6px,#1ac0b5 64.1px,#1ac0b5 66.0px,#35c79a 67.1px,#59cc78 68.2px,#8bcb51 69.3px,#bcc42f 70.4px,#bcc42f 72.3px,#dfbc2a 73.5px,#f9bb3d 74.6px,#fdcb33 75.7px,#f6de29 76.8px,#f6de29 78.7px,#f5e526 83.1px,#f5e526 85.0px,#fad62d 87.3px,#fec735 89.5px,#fec735 91.4px,#f4ba39 92.3px,#d6be28 93.2px,#afc636 94.0px,#83cc57 94.9px,#58cc79 95.8px,#58cc79 97.7px,#34c79c 98.8px,#16bfb7 99.9px,#06b5cf 101.1px,#1ea7e1 102.2px,#1ea7e1 104.1px,#2896eb 105.6px,#2e83f9 107.0px,#406cfe 108.5px,#406cfe 110.4px,#465ffb 112.6px,#4851f4 114.9px,#4851f4 116.8px,#4755f6 121.2px,#4755f6 123.1px,#4743e7 127.6px,#4743e7 130.4px,#463cde 139.3px,#463cde 143.1px,#4743e7 152.0px,#4743e7 155.8px,#4743e7 164.7px,#4743e7 168.5px,#463cde 177.4px,#463cde 181.2px,#4536d3 190.1px,#4536d3 193.9px,#4743e7 202.8px,#4743e7 206.6px,#463cde 215.4px,#463cde 219.3px,#463cde 228.1px,#463cde 231.9px,#4743e7 240.8px,#4743e7 244.6px,#4433cb 253.5px,#4433cb 257.3px,#4433cb 266.2px,#4433cb 270.0px,#463de0 274.5px,#484aee 278.9px,#484aee 282.7px,#465efb 284.9px,#3b73fe 287.2px,#2e87f7 289.4px,#2699e9 291.6px,#2699e9 295.4px,#2b92ef 304.3px,#2b92ef 308.1px,#2f82fa 310.3px,#3e70ff 312.5px,#465efb 314.8px,#484ef1 317.0px,#484ef1 320.8px,#484aee 329.7px,#484aee 333.5px,#484aee 342.4px,#484aee 346.2px,#4743e7 355.1px,#4743e7 358.9px,#463cde 367.7px,#463cde 371.6px,#4536d3 380.4px,#4536d3 384.2px,#463cde 393.1px,#463cde 396.9px,#4743e7 405.8px,#4743e7 409.6px,#4743e7 418.5px,#4743e7 422.3px,#463cde 431.2px,#463cde 434.7px)"></div>
<div style="position:absolute;left:0;top:107.46px;height:17.92px;background:linear-gradient(to right,#4851f4 0.0px,#4851f4 3.5px,#4747eb 12.4px,#4747eb 16.2px,#473fe3 25.1px,#473fe3 28.9px,#484ef1 33.3px,#475cfa 37.8px,#475cfa 40.6px,#406cfe 45.1px,#406cfe 47.0px,#406cfe 51.4px,#406cfe 53.3px,#2f82f9 55.5px,#2895ec 57.7px,#2895ec 59.7px,#1ea7e1 61.9px,#05b6ce 64.1px,#05b6ce 66.0px,#14bfb8 66.9px,#32c69f 67.8px,#4fcc81 68.7px,#7ccc5c 69.6px,#acc738 70.4px,#acc738 72.3px,#d2bf27 73.5px,#f0ba36 74.6px,#fec338 75.7px,#fad62d 76.8px,#fad62d 78.7px,#f5e327 80.9px,#f6f01f 83.1px,#f6f01f 85.0px,#f6de29 89.5px,#f6de29 91.4px,#fec834 92.9px,#f3ba39 94.3px,#d2bf27 95.8px,#d2bf27 97.7px,#a8c73b 98.5px,#79cc5e 99.2px,#4dcb82 99.9px,#31c6a0 100.7px,#14beb8 101.4px,#05b6ce 102.2px,#05b6ce 104.1px,#1ea7e1 105.6px,#2895ec 107.0px,#2f81fa 108.5px,#2f81fa 110.4px,#3d71ff 111.9px,#4661fc 113.4px,#4851f4 114.9px,#4851f4 116.8px,#484aee 121.2px,#484aee 123.1px,#4536d3 127.6px,#4536d3 130.4px,#4536d3 139.3px,#4536d3 143.1px,#484aee 152.0px,#484aee 155.8px,#484aee 164.7px,#484aee 168.5px,#4743e7 177.4px,#4743e7 181.2px,#4743e7 190.1px,#4743e7 193.9px,#4743e7 202.8px,#4743e7 206.6px,#4536d3 215.4px,#4536d3 219.3px,#463cde 228.1px,#463cde 231.9px,#4743e7 240.8px,#4743e7 244.6px,#463cde 253.5px,#463cde 257.3px,#463cde 266.2px,#463cde 270.0px,#4848ec 274.5px,#4755f6 278.9px,#4755f6 282.7px,#4367fd 284.9px,#337bfd 287.2px,#2d8df2 289.4px,#259de7 291.6px,#259de7 295.4px,#2b92ef 304.3px,#2b92ef 308.1px,#2f81fa 311.1px,#3f6eff 314.0px,#475cfa 317.0px,#475cfa 320.8px,#4849ec 325.2px,#4536d3 329.7px,#4536d3 333.5px,#484aee 342.4px,#484aee 346.2px,#4743e7 355.1px,#4743e7 358.9px,#4536d3 367.7px,#4536d3 371.6px,#463cde 380.4px,#463cde 384.2px,#463cde 393.1px,#463cde 396.9px,#463cde 405.8px,#463cde 409.6px,#4743e7 418.5px,#4743e7 422.3px,#463cde 431.2px,#463cde 434.7px)"></div>
<div style="position:absolute;left:0;top:125.37px;height:17.92px;background:linear-gradient(to right,#475cfa 0.0px,#475cfa 3.5px,#4464fd 12.4px,#4464fd 16.2px,#406cfe 25.1px,#406cfe 28.9px,#406cfe 37.8px,#406cfe 40.6px,#406cfe 45.1px,#406cfe 47.0px,#406cfe 51.4px,#406cfe 53.3px,#2f81fa 57.7px,#2f81fa 59.7px,#2895ec 60.8px,#1ea7e1 61.9px,#05b6ce 63.0px,#1ac0b5 64.1px,#1ac0b5 66.0px,#33c79c 67.1px,#52cc7e 68.2px,#7ecc5b 69.3px,#acc738 70.4px,#acc738 72.3px,#d2bf27 73.8px,#f0ba36 75.3px,#fec338 76.8px,#fec338 78.7px,#fad62d 80.2px,#f5e924 81.7px,#f9fb15 83.1px,#f9fb15 85.0px,#f9fb15 89.5px,#f9fb15 91.4px,#f5e526 92.9px,#fdce31 94.3px,#f9bb3d 95.8px,#f9bb3d 97.7px,#dbbd29 98.6px,#b3c534 99.5px,#84cb56 100.4px,#56cc7b 101.3px,#35c79a 102.2px,#35c79a 104.1px,#17bfb6 105.2px,#06b5cf 106.3px,#1ea7e1 107.4px,#2895ec 108.5px,#2895ec 110.4px,#2e85f8 111.9px,#3b73fe 113.4px,#4660fc 114.9px,#4660fc 116.8px,#4755f6 121.2px,#4755f6 123.1px,#4743e7 127.6px,#4743e7 130.4px,#4743e7 139.3px,#4743e7 143.1px,#4743e7 152.0px,#4743e7 155.8px,#4743e7 164.7px,#4743e7 168.5px,#4743e7 177.4px,#4743e7 181.2px,#4743e7 190.1px,#4743e7 193.9px,#4743e7 202.8px,#4743e7 206.6px,#463cde 215.4px,#463cde 219.3px,#4743e7 228.1px,#4743e7 231.9px,#484aee 240.8px,#484aee 244.6px,#484aee 253.5px,#484aee 257.3px,#484aee 266.2px,#484aee 270.0px,#4755f6 278.9px,#4755f6 282.7px,#4368fe 287.2px,#317dfb 291.6px,#317dfb 295.4px,#317dfb 304.3px,#317dfb 308.1px,#4368fe 317.0px,#4368fe 320.8px,#4759f8 325.2px,#484aee 329.7px,#484aee 333.5px,#484aee 342.4px,#484aee 346.2px,#4743e7 355.1px,#4743e7 358.9px,#463cde 367.7px,#463cde 371.6px,#463cde 380.4px,#463cde 384.2px,#463cde 393.1px,#463cde 396.9px,#463cde 405.8px,#463cde 409.6px,#463cde 418.5px,#463cde 422.3px,#4536d3 431.2px,#4536d3 434.7px)"></div>
<div style="position:absolute;left:0;top:143.28px;height:17.92px;background:linear-gradient(to right,#4464fd 0.0px,#4464fd 3.5px,#4464fd 12.4px,#4464fd 16.2px,#475cfa 25.1px,#475cfa 28.9px,#4851f4 37.8px,#4851f4 40.6px,#473fe3 45.1px,#473fe3 47.0px,#4747eb 51.4px,#4747eb 53.3px,#4759f8 55.5px,#406cfe 57.7px,#406cfe 59.7px,#3080fb 60.8px,#2b90ef 61.9px,#23a0e5 63.0px,#18aedb 64.1px,#18aedb 66.0px,#05b6ce 70.4px,#05b6ce 72.3px,#18bfb6 74.6px,#35c79a 76.8px,#35c79a 78.7px,#4fcc81 80.2px,#73cd63 81.7px,#9bc944 83.1px,#9bc944 85.0px,#bcc42f 89.5px,#bcc42f 91.4px,#bcc42f 95.8px,#bcc42f 97.7px,#8bcb51 99.2px,#59cc79 100.7px,#35c79a 102.2px,#35c79a 104.1px,#1dc0b3 105.6px,#01b8c8 107.0px,#18aedb 108.5px,#18aedb 110.4px,#23a0e5 111.5px,#2b90ef 112.6px,#3080fb 113.8px,#406cfe 114.9px,#406cfe 116.8px,#4660fc 119.0px,#4755f6 121.2px,#4755f6 123.1px,#4743e7 127.6px,#4743e7 130.4px,#4743e7 139.3px,#4743e7 143.1px,#4743e7 152.0px,#4743e7 155.8px,#463cde 164.7px,#463cde 168.5px,#4536d3 177.4px,#4536d3 181.2px,#4434cf 190.1px,#4434cf 193.9px,#4434cf 202.8px,#4434cf 206.6px,#4536d3 215.4px,#4536d3 219.3px,#463cde 228.1px,#463cde 231.9px,#463cde 240.8px,#463cde 244.6px,#4743e7 253.5px,#4743e7 257.3px,#484aee 266.2px,#484aee 270.0px,#4851f4 278.9px,#4851f4 282.7px,#4851f4 291.6px,#4851f4 295.4px,#484aee 304.3px,#484aee 308.1px,#484aee 317.0px,#484aee 320.8px,#484aee 329.7px,#484aee 333.5px,#4743e7 342.4px,#4743e7 346.2px,#4536d3 355.1px,#4536d3 358.9px,#4434cf 367.7px,#4434cf 371.6px,#4536d3 380.4px,#4536d3 384.2px,#463cde 393.1px,#463cde 396.9px,#463cde 405.8px,#463cde 409.6px,#463cde 418.5px,#463cde 422.3px,#4536d3 431.2px,#4536d3 434.7px)"></div>
<div style="position:absolute;left:0;top:161.19px;height:17.92px;background:linear-gradient(to right,#475cfa 0.0px,#475cfa 3.5px,#4464fd 12.4px,#4464fd 16.2px,#4464fd 25.1px,#4464fd 28.9px,#4851f4 37.8px,#4851f4 40.6px,#4742e6 42.8px,#4434cf 45.1px,#4434cf 47.0px,#4745ea 49.2px,#4758f8 51.4px,#4758f8 53.3px,#4660fc 57.7px,#4660fc 59.7px,#406cfe 64.1px,#406cfe 66.0px,#2f81fa 70.4px,#2f81fa 72.3px,#2895ec 73.8px,#1ea7e1 75.3px,#05b6ce 76.8px,#05b6ce 78.7px,#17bfb6 80.2px,#34c79b 81.7px,#58cc79 83.1px,#58cc79 85.0px,#81cc58 87.3px,#acc738 89.5px,#acc738 91.4px,#d2bf27 95.8px,#d2bf27 97.7px,#acc738 99.2px,#81cc58 100.7px,#58cc79 102.2px,#58cc79 104.1px,#34c79b 105.6px,#17bfb6 107.0px,#05b6ce 108.5px,#05b6ce 110.4px,#1ea7e1 111.9px,#2895ec 113.4px,#2f81fa 114.9px,#2f81fa 116.8px,#3975fe 119.0px,#4368fe 121.2px,#4368fe 123.1px,#4759f8 125.3px,#484aee 127.6px,#484aee 130.4px,#4743e7 139.3px,#4743e7 143.1px,#4536d3 152.0px,#4536d3 155.8px,#4536d3 164.7px,#4536d3 168.5px,#4434cf 177.4px,#4434cf 181.2px,#4434cf 190.1px,#4434cf 193.9px,#4434cf 202.8px,#4434cf 206.6px,#463cde 215.4px,#463cde 219.3px,#463cde 228.1px,#463cde 231.9px,#463cde 240.8px,#463cde 244.6px,#463cde 253.5px,#463cde 257.3px,#4743e7 266.2px,#4743e7 270.0px,#4743e7 278.9px,#4743e7 282.7px,#463cde 291.6px,#463cde 295.4px,#4434cf 304.3px,#4434cf 308.1px,#473ee2 312.5px,#484aee 317.0px,#484aee 320.8px,#4755f6 329.7px,#4755f6 333.5px,#484aee 342.4px,#484aee 346.2px,#463cde 355.1px,#463cde 358.9px,#4434cf 367.7px,#4434cf 371.6px,#463cde 380.4px,#463cde 384.2px,#463cde 393.1px,#463cde 396.9px,#4743e7 405.8px,#4743e7 409.6px,#4743e7 418.5px,#4743e7 422.3px,#4743e7 431.2px,#4743e7 434.7px)"></div>
<div style="position:absolute;left:0;top:179.1px;height:17.91px;background:linear-gradient(to right,#475cfa 0.0px,#475cfa 3.5px,#475cfa 12.4px,#475cfa 16.2px,#4464fd 25.1px,#4464fd 28.9px,#4464fd 37.8px,#4464fd 40.6px,#4464fd 45.1px,#4464fd 47.0px,#4758f8 51.4px,#4758f8 53.3px,#4758f8 57.7px,#4758f8 59.7px,#4747eb 64.1px,#4747eb 66.0px,#463cde 70.4px,#463cde 72.3px,#484ef1 73.2px,#465ffb 74.1px,#3b72ff 75.0px,#2e85f8 75.9px,#2895ec 76.8px,#2895ec 78.7px,#1ea7e1 79.6px,#07b5d0 80.5px,#15bfb7 81.4px,#34c79c 82.2px,#58cc79 83.1px,#58cc79 85.0px,#8ccb50 86.1px,#c0c32d 87.3px,#e9bb30 88.4px,#fec338 89.5px,#fec338 91.4px,#fbd22f 93.6px,#f5e128 95.8px,#f5e128 97.7px,#fad62d 102.2px,#fad62d 104.1px,#fec338 105.6px,#f0ba36 107.0px,#d2bf27 108.5px,#d2bf27 110.4px,#a9c73a 111.3px,#7ccc5c 112.2px,#50cc7f 113.1px,#33c79d 114.0px,#1ac0b5 114.9px,#1ac0b5 116.8px,#01b9c8 118.2px,#14b0d8 119.7px,#20a4e3 121.2px,#20a4e3 123.1px,#2b92ee 125.3px,#317dfb 127.6px,#317dfb 130.4px,#4368fe 134.9px,#4755f6 139.3px,#4755f6 143.1px,#4743e7 152.0px,#4743e7 155.8px,#463cde 164.7px,#463cde 168.5px,#4434cf 177.4px,#4434cf 181.2px,#463cde 190.1px,#463cde 193.9px,#4433cb 202.8px,#4433cb 206.6px,#4743e7 215.4px,#4743e7 219.3px,#484aee 228.1px,#484aee 231.9px,#4743e7 240.8px,#4743e7 244.6px,#4743e7 253.5px,#4743e7 257.3px,#484aee 266.2px,#484aee 270.0px,#4743e7 278.9px,#4743e7 282.7px,#4743e7 291.6px,#4743e7 295.4px,#4433cb 304.3px,#4433cb 308.1px,#4743e7 312.5px,#4755f6 317.0px,#4755f6 320.8px,#4368fe 325.2px,#317dfb 329.7px,#317dfb 333.5px,#3d71ff 342.4px,#3d71ff 346.2px,#465dfa 350.6px,#484aee 355.1px,#484aee 358.9px,#473ee2 363.3px,#4434cf 367.7px,#4434cf 371.6px,#463cde 380.4px,#463cde 384.2px,#463cde 393.1px,#463cde 396.9px,#463cde 405.8px,#463cde 409.6px,#463cde 418.5px,#463cde 422.3px,#463cde 431.2px,#463cde 434.7px)"></div>
<div style="position:absolute;left:0;top:197px;height:17.92px;background:linear-gradient(to right,#4851f4 0.0px,#4851f4 3.5px,#4464fd 12.4px,#4464fd 16.2px,#406cfe 25.1px,#406cfe 28.9px,#406cfe 37.8px,#406cfe 40.6px,#4464fd 45.1px,#4464fd 47.0px,#4758f8 51.4px,#4758f8 53.3px,#4758f8 57.7px,#4758f8 59.7px,#4747eb 64.1px,#4747eb 66.0px,#4747eb 70.4px,#4747eb 72.3px,#475af9 73.8px,#406dfe 75.3px,#2f81fa 76.8px,#2f81fa 78.7px,#2895ec 79.8px,#1ea7e1 80.9px,#05b6ce 82.0px,#1ac0b5 83.1px,#1ac0b5 85.0px,#35c79a 85.9px,#5acc78 86.8px,#8ccb50 87.7px,#bcc42f 88.6px,#e5bb2c 89.5px,#e5bb2c 91.4px,#febf3b 92.9px,#fbd32e 94.3px,#f5e924 95.8px,#f5e924 97.7px,#f9fb15 102.2px,#f9fb15 104.1px,#f5e924 105.6px,#fad62d 107.0px,#fec338 108.5px,#fec338 110.4px,#e9bb30 111.5px,#c0c32d 112.6px,#8ccb50 113.8px,#58cc79 114.9px,#58cc79 116.8px,#39c895 117.9px,#26c2ac 119.0px,#06bcc0 120.1px,#0cb3d3 121.2px,#0cb3d3 123.1px,#20a4e3 124.6px,#2b92ee 126.1px,#317dfb 127.6px,#317dfb 130.4px,#416cfe 133.4px,#475bf9 136.3px,#484aee 139.3px,#484aee 143.1px,#4743e7 152.0px,#4743e7 155.8px,#4743e7 164.7px,#4743e7 168.5px,#4743e7 177.4px,#4743e7 181.2px,#4743e7 190.1px,#4743e7 193.9px,#463cde 202.8px,#463cde 206.6px,#463cde 215.4px,#463cde 219.3px,#463cde 228.1px,#463cde 231.9px,#4536d3 240.8px,#4536d3 244.6px,#4434cf 253.5px,#4434cf 257.3px,#463cde 266.2px,#463cde 270.0px,#4536d3 278.9px,#4536d3 282.7px,#4536d3 291.6px,#4536d3 295.4px,#4536d3 304.3px,#4536d3 308.1px,#484aee 317.0px,#484aee 320.8px,#465dfb 323.8px,#3c71ff 326.7px,#2e86f8 329.7px,#2e86f8 333.5px,#317dfb 342.4px,#317dfb 346.2px,#4368fe 350.6px,#4755f6 355.1px,#4755f6 358.9px,#4848ec 363.3px,#463cde 367.7px,#463cde 371.6px,#463cde 380.4px,#463cde 384.2px,#463cde 393.1px,#463cde 396.9px,#463cde 405.8px,#463cde 409.6px,#4743e7 418.5px,#4743e7 422.3px,#4743e7 431.2px,#4743e7 434.7px)"></div>
<div style="position:absolute;left:0;top:214.91px;height:17.92px;background:linear-gradient(to right,#4539d9 0.0px,#4539d9 3.5px,#4745e9 7.9px,#4851f4 12.4px,#4851f4 16.2px,#4465fd 20.6px,#3479fd 25.1px,#3479fd 28.9px,#4464fd 37.8px,#4464fd 40.6px,#4755f6 42.8px,#4747eb 45.1px,#4747eb 47.0px,#463cde 49.2px,#4433cb 51.4px,#4433cb 53.3px,#463cde 57.7px,#463cde 59.7px,#484aee 61.9px,#4758f8 64.1px,#4758f8 66.0px,#406cfe 68.2px,#2f81fa 70.4px,#2f81fa 72.3px,#2895ec 73.8px,#1ea7e1 75.3px,#05b6ce 76.8px,#05b6ce 78.7px,#16bfb7 79.8px,#33c69e 80.9px,#52cc7e 82.0px,#81cc58 83.1px,#81cc58 85.0px,#acc738 86.1px,#d2bf27 87.3px,#f0ba36 88.4px,#fec338 89.5px,#fec338 91.4px,#fad62d 93.6px,#f5e924 95.8px,#f5e924 97.7px,#f5e924 102.2px,#f5e924 104.1px,#fad62d 105.6px,#fec338 107.0px,#f0ba36 108.5px,#f0ba36 110.4px,#d1bf27 111.3px,#a9c73a 112.2px,#7dcc5b 113.1px,#53cc7d 114.0px,#35c79a 114.9px,#35c79a 116.8px,#20c1b1 117.9px,#01bac5 119.0px,#13b0d7 120.1px,#20a4e3 121.2px,#20a4e3 123.1px,#2a92ee 124.6px,#307ffb 126.1px,#4368fe 127.6px,#4368fe 130.4px,#4759f8 133.4px,#484bee 136.3px,#463cde 139.3px,#463cde 143.1px,#4536d3 152.0px,#4536d3 155.8px,#4536d3 164.7px,#4536d3 168.5px,#4536d3 177.4px,#4536d3 181.2px,#463cde 190.1px,#463cde 193.9px,#463cde 202.8px,#463cde 206.6px,#463cde 215.4px,#463cde 219.3px,#4434cf 228.1px,#4434cf 231.9px,#4434cf 240.8px,#4434cf 244.6px,#4433cb 253.5px,#4433cb 257.3px,#463cde 266.2px,#463cde 270.0px,#463cde 278.9px,#463cde 282.7px,#4433cb 291.6px,#4433cb 295.4px,#463de0 299.8px,#484aee 304.3px,#484aee 308.1px,#4755f6 312.5px,#4660fc 317.0px,#4660fc 320.8px,#3b73fe 325.2px,#2e86f8 329.7px,#2e86f8 333.5px,#317dfb 342.4px,#317dfb 346.2px,#4368fe 350.6px,#4755f6 355.1px,#4755f6 358.9px,#4743e7 367.7px,#4743e7 371.6px,#463cde 380.4px,#463cde 384.2px,#4433cb 393.1px,#4433cb 396.9px,#463cde 405.8px,#463cde 409.6px,#463cde 418.5px,#463cde 422.3px,#4434cf 431.2px,#4434cf 434.7px)"></div>
<div style="position:absolute;left:0;top:232.82px;height:17.92px;background:linear-gradient(to right,#4434cf 0.0px,#4434cf 3.5px,#4747eb 12.4px,#4747eb 16.2px,#4755f6 20.6px,#4464fd 25.1px,#4464fd 28.9px,#4851f4 37.8px,#4851f4 40.6px,#4747eb 45.1px,#4747eb 47.0px,#463cde 49.2px,#4433cb 51.4px,#4433cb 53.3px,#463cde 55.5px,#4747eb 57.7px,#4747eb 59.7px,#475af9 61.1px,#406dfe 62.6px,#2f81fa 64.1px,#2f81fa 66.0px,#2895ec 67.5px,#1ea7e1 69.0px,#05b6ce 70.4px,#05b6ce 72.3px,#17bfb6 73.8px,#34c79b 75.3px,#58cc79 76.8px,#58cc79 78.7px,#81cc58 79.8px,#acc738 80.9px,#d2bf27 82.0px,#f0ba36 83.1px,#f0ba36 85.0px,#fec338 87.3px,#fad62d 89.5px,#fad62d 91.4px,#fdce31 95.8px,#fdce31 97.7px,#fec03b 99.9px,#f0ba36 102.2px,#f0ba36 104.1px,#d2bf27 105.2px,#acc738 106.3px,#81cc58 107.4px,#58cc79 108.5px,#58cc79 110.4px,#36c899 111.5px,#1fc0b2 112.6px,#01b9c8 113.8px,#18aedb 114.9px,#18aedb 116.8px,#23a0e5 119.0px,#2b92ef 121.2px,#2b92ef 123.1px,#317efb 125.3px,#4368fe 127.6px,#4368fe 130.4px,#4756f7 133.4px,#4744e9 136.3px,#4434cf 139.3px,#4434cf 143.1px,#473ee2 147.5px,#484aee 152.0px,#484aee 155.8px,#484aee 164.7px,#484aee 168.5px,#484aee 177.4px,#484aee 181.2px,#484aee 190.1px,#484aee 193.9px,#484aee 202.8px,#484aee 206.6px,#4536d3 215.4px,#4536d3 219.3px,#4331c7 228.1px,#4331c7 231.9px,#4536d3 240.8px,#4536d3 244.6px,#463cde 253.5px,#463cde 257.3px,#463cde 266.2px,#463cde 270.0px,#4743e7 278.9px,#4743e7 282.7px,#484aee 291.6px,#484aee 295.4px,#4755f6 304.3px,#4755f6 308.1px,#4562fc 312.5px,#3d71ff 317.0px,#3d71ff 320.8px,#317dfb 329.7px,#317dfb 333.5px,#4368fe 342.4px,#4368fe 346.2px,#4755f6 355.1px,#4755f6 358.9px,#484aee 367.7px,#484aee 371.6px,#4743e7 380.4px,#4743e7 384.2px,#4536d3 393.1px,#4536d3 396.9px,#4536d3 405.8px,#4536d3 409.6px,#4536d3 418.5px,#4536d3 422.3px,#4536d3 431.2px,#4536d3 434.7px)"></div>
<div style="position:absolute;left:0;top:250.73px;height:17.92px;background:linear-gradient(to right,#4747eb 0.0px,#4747eb 3.5px,#4851f4 12.4px,#4851f4 16.2px,#4464fd 25.1px,#4464fd 28.9px,#406cfe 37.8px,#406cfe 40.6px,#3479fd 45.1px,#3479fd 47.0px,#406cfe 51.4px,#406cfe 53.3px,#2f81fa 57.7px,#2f81fa 59.7px,#2895ec 61.1px,#1ea7e1 62.6px,#05b6ce 64.1px,#05b6ce 66.0px,#17bfb6 67.5px,#34c79b 69.0px,#58cc79 70.4px,#58cc79 72.3px,#86cb55 73.5px,#b4c534 74.6px,#dbbd29 75.7px,#f9bb3d 76.8px,#f9bb3d 78.7px,#fec735 80.9px,#fad62d 83.1px,#fad62d 85.0px,#fad62d 89.5px,#fad62d 91.4px,#fec338 95.8px,#fec338 97.7px,#f0ba36 98.8px,#d2bf27 99.9px,#acc738 101.1px,#81cc58 102.2px,#81cc58 104.1px,#52cc7e 105.2px,#33c69e 106.3px,#16bfb7 107.4px,#05b6ce 108.5px,#05b6ce 110.4px,#1ea7e1 111.9px,#2895ec 113.4px,#2f81fa 114.9px,#2f81fa 116.8px,#317dfb 121.2px,#317dfb 123.1px,#4368fe 127.6px,#4368fe 130.4px,#4759f8 134.9px,#484aee 139.3px,#484aee 143.1px,#4743e7 152.0px,#4743e7 155.8px,#4743e7 164.7px,#4743e7 168.5px,#4434cf 177.4px,#4434cf 181.2px,#4743e7 190.1px,#4743e7 193.9px,#4743e7 202.8px,#4743e7 206.6px,#484aee 215.4px,#484aee 219.3px,#4743e7 228.1px,#4743e7 231.9px,#4743e7 240.8px,#4743e7 244.6px,#4434cf 253.5px,#4434cf 257.3px,#4743e7 266.2px,#4743e7 270.0px,#484aee 278.9px,#484aee 282.7px,#4755f6 287.2px,#4660fc 291.6px,#4660fc 295.4px,#3d71ff 304.3px,#3d71ff 308.1px,#317dfb 317.0px,#317dfb 320.8px,#4368fe 325.2px,#4755f6 329.7px,#4755f6 333.5px,#4848ec 337.9px,#463cde 342.4px,#463cde 346.2px,#484aee 355.1px,#484aee 358.9px,#484aee 367.7px,#484aee 371.6px,#4743e7 380.4px,#4743e7 384.2px,#4743e7 393.1px,#4743e7 396.9px,#463cde 405.8px,#463cde 409.6px,#463cde 418.5px,#463cde 422.3px,#4536d3 431.2px,#4536d3 434.7px)"></div>
<div style="position:absolute;left:0;top:268.64px;height:17.92px;background:linear-gradient(to right,#4747eb 0.0px,#4747eb 3.5px,#4851f4 7.9px,#475cfa 12.4px,#475cfa 16.2px,#406cfe 25.1px,#406cfe 28.9px,#406cfe 37.8px,#406cfe 40.6px,#406cfe 45.1px,#406cfe 47.0px,#4660fc 51.4px,#4660fc 53.3px,#3d71ff 55.5px,#2f81fa 57.7px,#2f81fa 59.7px,#2895ec 60.8px,#1ea7e1 61.9px,#05b6ce 63.0px,#1ac0b5 64.1px,#1ac0b5 66.0px,#34c79c 67.5px,#54cc7d 69.0px,#81cc58 70.4px,#81cc58 72.3px,#acc738 73.5px,#d2bf27 74.6px,#f0ba36 75.7px,#fec338 76.8px,#fec338 78.7px,#fbd22f 80.9px,#f5e128 83.1px,#f5e128 85.0px,#fdce31 89.5px,#fdce31 91.4px,#fcbc3d 92.9px,#e1bc2b 94.3px,#bcc42f 95.8px,#bcc42f 97.7px,#8bcb51 98.8px,#59cc78 99.9px,#35c79a 101.1px,#1ac0b5 102.2px,#1ac0b5 104.1px,#05b6ce 105.2px,#1ea7e1 106.3px,#2895ec 107.4px,#2f81fa 108.5px,#2f81fa 110.4px,#406cfe 111.5px,#4758f8 112.6px,#4744e8 113.8px,#4433cb 114.9px,#4433cb 116.8px,#4743e7 119.0px,#4755f6 121.2px,#4755f6 123.1px,#4755f6 127.6px,#4755f6 130.4px,#484aee 139.3px,#484aee 143.1px,#484aee 152.0px,#484aee 155.8px,#484aee 164.7px,#484aee 168.5px,#4743e7 177.4px,#4743e7 181.2px,#4743e7 190.1px,#4743e7 193.9px,#4743e7 202.8px,#4743e7 206.6px,#484aee 215.4px,#484aee 219.3px,#4743e7 228.1px,#4743e7 231.9px,#463cde 240.8px,#463cde 244.6px,#4433cb 253.5px,#4433cb 257.3px,#4743e7 266.2px,#4743e7 270.0px,#484aee 278.9px,#484aee 282.7px,#4759f8 287.2px,#4368fe 291.6px,#4368fe 295.4px,#3677fe 299.8px,#2e86f8 304.3px,#2e86f8 308.1px,#317dfb 317.0px,#317dfb 320.8px,#416cfe 323.8px,#475bf9 326.7px,#484aee 329.7px,#484aee 333.5px,#473ee2 337.9px,#4434cf 342.4px,#4434cf 346.2px,#473ee2 350.6px,#484aee 355.1px,#484aee 358.9px,#484aee 367.7px,#484aee 371.6px,#4743e7 380.4px,#4743e7 384.2px,#4743e7 393.1px,#4743e7 396.9px,#463cde 405.8px,#463cde 409.6px,#4536d3 418.5px,#4536d3 422.3px,#4536d3 431.2px,#4536d3 434.7px)"></div>
<div style="position:absolute;left:0;top:286.55px;height:17.92px;background:linear-gradient(to right,#4464fd 0.0px,#4464fd 3.5px,#4464fd 12.4px,#4464fd 16.2px,#406cfe 25.1px,#406cfe 28.9px,#406cfe 37.8px,#406cfe 40.6px,#4464fd 45.1px,#4464fd 47.0px,#4758f8 51.4px,#4758f8 53.3px,#4660fc 57.7px,#4660fc 59.7px,#3b73fe 61.1px,#2e85f8 62.6px,#2895ec 64.1px,#2895ec 66.0px,#1ea7e1 68.2px,#05b6ce 70.4px,#05b6ce 72.3px,#17bfb6 73.8px,#34c79b 75.3px,#58cc79 76.8px,#58cc79 78.7px,#81cc58 80.2px,#acc738 81.7px,#d2bf27 83.1px,#d2bf27 85.0px,#d2bf27 89.5px,#d2bf27 91.4px,#acc738 92.9px,#81cc58 94.3px,#58cc79 95.8px,#58cc79 97.7px,#34c79b 99.2px,#17bfb6 100.7px,#05b6ce 102.2px,#05b6ce 104.1px,#1ea7e1 105.6px,#2895ec 107.0px,#2f81fa 108.5px,#2f81fa 110.4px,#3e6fff 111.5px,#465efb 112.6px,#484df0 113.8px,#463cde 114.9px,#463cde 116.8px,#4848ec 119.0px,#4755f6 121.2px,#4755f6 123.1px,#4755f6 127.6px,#4755f6 130.4px,#484aee 139.3px,#484aee 143.1px,#4743e7 152.0px,#4743e7 155.8px,#463cde 164.7px,#463cde 168.5px,#463cde 177.4px,#463cde 181.2px,#484aee 190.1px,#484aee 193.9px,#484aee 202.8px,#484aee 206.6px,#4743e7 215.4px,#4743e7 219.3px,#463cde 228.1px,#463cde 231.9px,#4434cf 240.8px,#4434cf 244.6px,#4434cf 253.5px,#4434cf 257.3px,#463cde 266.2px,#463cde 270.0px,#4743e7 278.9px,#4743e7 282.7px,#4755f6 291.6px,#4755f6 295.4px,#4368fe 304.3px,#4368fe 308.1px,#4660fc 317.0px,#4660fc 320.8px,#4755f6 325.2px,#484aee 329.7px,#484aee 333.5px,#4536d3 342.4px,#4536d3 346.2px,#4536d3 355.1px,#4536d3 358.9px,#463cde 367.7px,#463cde 371.6px,#4743e7 380.4px,#4743e7 384.2px,#4743e7 393.1px,#4743e7 396.9px,#463cde 405.8px,#463cde 409.6px,#4536d3 418.5px,#4536d3 422.3px,#4536d3 431.2px,#4536d3 434.7px)"></div>
<div style="position:absolute;left:0;top:304.46px;height:17.92px;background:linear-gradient(to right,#406cfe 0.0px,#406cfe 3.5px,#406cfe 12.4px,#406cfe 16.2px,#3479fd 25.1px,#3479fd 28.9px,#3479fd 37.8px,#3479fd 40.6px,#406cfe 45.1px,#406cfe 47.0px,#4759f8 49.2px,#4747eb 51.4px,#4747eb 53.3px,#4747eb 57.7px,#4747eb 59.7px,#475af9 60.8px,#3f6eff 61.9px,#2e83f9 63.0px,#2895ec 64.1px,#2895ec 66.0px,#1ea7e1 67.5px,#05b6ce 69.0px,#1ac0b5 70.4px,#1ac0b5 72.3px,#34c79b 73.1px,#55cc7c 73.8px,#83cc57 74.6px,#b2c535 75.3px,#dbbd29 76.0px,#f9bb3d 76.8px,#f9bb3d 78.7px,#fec834 80.2px,#f8d92c 81.7px,#f5e924 83.1px,#f5e924 85.0px,#f5e924 89.5px,#f5e924 91.4px,#f7dc2a 93.6px,#fdce31 95.8px,#fdce31 97.7px,#fbbc3d 98.5px,#ddbd29 99.2px,#b5c533 99.9px,#86cb55 100.7px,#56cc7a 101.4px,#35c79a 102.2px,#35c79a 104.1px,#1dc0b3 105.6px,#01b8c8 107.0px,#18aedb 108.5px,#18aedb 110.4px,#23a0e5 111.9px,#2b92ef 113.4px,#2f81fa 114.9px,#2f81fa 116.8px,#3975fe 119.0px,#4368fe 121.2px,#4368fe 123.1px,#4759f8 125.3px,#484aee 127.6px,#484aee 130.4px,#484aee 139.3px,#484aee 143.1px,#484aee 152.0px,#484aee 155.8px,#4743e7 164.7px,#4743e7 168.5px,#484aee 177.4px,#484aee 181.2px,#4755f6 190.1px,#4755f6 193.9px,#4755f6 202.8px,#4755f6 206.6px,#484aee 215.4px,#484aee 219.3px,#4743e7 228.1px,#4743e7 231.9px,#4743e7 240.8px,#4743e7 244.6px,#4743e7 253.5px,#4743e7 257.3px,#4743e7 266.2px,#4743e7 270.0px,#484aee 278.9px,#484aee 282.7px,#4759f8 287.2px,#4368fe 291.6px,#4368fe 295.4px,#3677fe 299.8px,#2e86f8 304.3px,#2e86f8 308.1px,#317dfb 317.0px,#317dfb 320.8px,#4368fe 325.2px,#4755f6 329.7px,#4755f6 333.5px,#4848ec 337.9px,#463cde 342.4px,#463cde 346.2px,#4434cf 355.1px,#4434cf 358.9px,#463cde 367.7px,#463cde 371.6px,#4743e7 380.4px,#4743e7 384.2px,#4743e7 393.1px,#4743e7 396.9px,#4743e7 405.8px,#4743e7 409.6px,#463cde 418.5px,#463cde 422.3px,#463cde 431.2px,#463cde 434.7px)"></div>
<div style="position:absolute;left:0;top:322.37px;height:17.92px;background:linear-gradient(to right,#4851f4 0.0px,#4851f4 3.5px,#4464fd 12.4px,#4464fd 16.2px,#406cfe 25.1px,#406cfe 28.9px,#4464fd 37.8px,#4464fd 40.6px,#4851f4 45.1px,#4851f4 47.0px,#463ee1 49.2px,#422ebe 51.4px,#422ebe 53.3px,#463adb 54.8px,#4849ed 56.3px,#4758f8 57.7px,#4758f8 59.7px,#406cfe 61.9px,#2f81fa 64.1px,#2f81fa 66.0px,#2895ec 67.5px,#1ea7e1 69.0px,#05b6ce 70.4px,#05b6ce 72.3px,#17bfb6 73.8px,#34c79b 75.3px,#58cc79 76.8px,#58cc79 78.7px,#8ccb50 79.8px,#c0c32d 80.9px,#e9bb30 82.0px,#fec338 83.1px,#fec338 85.0px,#fbd22f 87.3px,#f5e128 89.5px,#f5e128 91.4px,#fad62d 95.8px,#fad62d 97.7px,#fec735 99.9px,#f9bb3d 102.2px,#f9bb3d 104.1px,#dbbd29 105.0px,#b3c534 105.9px,#84cb56 106.7px,#56cc7b 107.6px,#35c79a 108.5px,#35c79a 110.4px,#17bfb6 111.9px,#06b5cf 113.4px,#1ea7e1 114.9px,#1ea7e1 116.8px,#269ae9 117.9px,#2d8bf4 119.0px,#337afd 120.1px,#4368fe 121.2px,#4368fe 123.1px,#4757f7 124.6px,#4746ea 126.1px,#4536d3 127.6px,#4536d3 130.4px,#4745e9 134.9px,#4755f6 139.3px,#4755f6 143.1px,#4755f6 152.0px,#4755f6 155.8px,#4743e7 164.7px,#4743e7 168.5px,#484aee 177.4px,#484aee 181.2px,#4755f6 190.1px,#4755f6 193.9px,#4755f6 202.8px,#4755f6 206.6px,#4743e7 215.4px,#4743e7 219.3px,#463cde 228.1px,#463cde 231.9px,#463cde 240.8px,#463cde 244.6px,#463cde 253.5px,#463cde 257.3px,#4433cb 266.2px,#4433cb 270.0px,#4743e7 278.9px,#4743e7 282.7px,#4852f4 287.2px,#4660fc 291.6px,#4660fc 295.4px,#3d71ff 304.3px,#3d71ff 308.1px,#2e86f8 317.0px,#2e86f8 320.8px,#3875fe 323.8px,#4465fd 326.7px,#4755f6 329.7px,#4755f6 333.5px,#4848ec 337.9px,#463cde 342.4px,#463cde 346.2px,#4433cb 355.1px,#4433cb 358.9px,#463cde 367.7px,#463cde 371.6px,#4434cf 380.4px,#4434cf 384.2px,#4434cf 393.1px,#4434cf 396.9px,#463cde 405.8px,#463cde 409.6px,#463cde 418.5px,#463cde 422.3px,#463cde 431.2px,#463cde 434.7px)"></div>
<div style="position:absolute;left:0;top:340.28px;height:17.92px;background:linear-gradient(to right,#473fe3 0.0px,#473fe3 3.5px,#4747eb 12.4px,#4747eb 16.2px,#4747eb 25.1px,#4747eb 28.9px,#4747eb 37.8px,#4747eb 40.6px,#4747eb 45.1px,#4747eb 47.0px,#4747eb 51.4px,#4747eb 53.3px,#4747eb 57.7px,#4747eb 59.7px,#4758f8 64.1px,#4758f8 66.0px,#406dfe 67.5px,#2e83f9 69.0px,#2895ec 70.4px,#2895ec 72.3px,#1ea7e1 73.8px,#05b6ce 75.3px,#1ac0b5 76.8px,#1ac0b5 78.7px,#35c79a 79.8px,#59cc78 80.9px,#8bcb51 82.0px,#bcc42f 83.1px,#bcc42f 85.0px,#e5bb2c 86.5px,#fec03b 88.0px,#fad62d 89.5px,#fad62d 91.4px,#f5e924 95.8px,#f5e924 97.7px,#fad62d 99.9px,#fec338 102.2px,#fec338 104.1px,#e9bb30 105.2px,#c0c32d 106.3px,#8ccb50 107.4px,#58cc79 108.5px,#58cc79 110.4px,#34c79b 111.9px,#17bfb6 113.4px,#05b6ce 114.9px,#05b6ce 116.8px,#1da8e0 117.9px,#2798ea 119.0px,#2e86f8 120.1px,#3d71ff 121.2px,#3d71ff 123.1px,#465dfa 125.3px,#484aee 127.6px,#484aee 130.4px,#4743e7 139.3px,#4743e7 143.1px,#463cde 152.0px,#463cde 155.8px,#4433cb 164.7px,#4433cb 168.5px,#463cde 177.4px,#463cde 181.2px,#4743e7 190.1px,#4743e7 193.9px,#484aee 202.8px,#484aee 206.6px,#4536d3 215.4px,#4536d3 219.3px,#4434cf 228.1px,#4434cf 231.9px,#463cde 240.8px,#463cde 244.6px,#463cde 253.5px,#463cde 257.3px,#4433cb 266.2px,#4433cb 270.0px,#4743e7 278.9px,#4743e7 282.7px,#484aee 291.6px,#484aee 295.4px,#4755f6 304.3px,#4755f6 308.1px,#4368fe 317.0px,#4368fe 320.8px,#4368fe 329.7px,#4368fe 333.5px,#4756f6 337.9px,#4743e7 342.4px,#4743e7 346.2px,#4743e7 355.1px,#4743e7 358.9px,#463cde 367.7px,#463cde 371.6px,#4434cf 380.4px,#4434cf 384.2px,#4433cb 393.1px,#4433cb 396.9px,#463cde 405.8px,#463cde 409.6px,#463cde 418.5px,#463cde 422.3px,#463cde 431.2px,#463cde 434.7px)"></div>
<div style="position:absolute;left:0;top:358.19px;height:17.92px;background:linear-gradient(to right,#4433cb 0.0px,#4433cb 3.5px,#4434cf 12.4px,#4434cf 16.2px,#473fe3 25.1px,#473fe3 28.9px,#4851f4 37.8px,#4851f4 40.6px,#465ffb 42.8px,#406cfe 45.1px,#406cfe 47.0px,#406cfe 51.4px,#406cfe 53.3px,#4758f8 57.7px,#4758f8 59.7px,#4744e9 61.9px,#4433cb 64.1px,#4433cb 66.0px,#4744e8 67.1px,#4758f8 68.2px,#406cfe 69.3px,#2f81fa 70.4px,#2f81fa 72.3px,#2895ec 73.8px,#1ea7e1 75.3px,#05b6ce 76.8px,#05b6ce 78.7px,#0fbeba 79.8px,#2dc4a5 80.9px,#42ca8b 82.0px,#67cd6c 83.1px,#67cd6c 85.0px,#94ca4a 85.9px,#bfc32d 86.8px,#e2bc2b 87.7px,#fcbd3d 88.6px,#fdce31 89.5px,#fdce31 91.4px,#f5e526 93.6px,#f9fb15 95.8px,#f9fb15 97.7px,#f5e924 99.9px,#fad62d 102.2px,#fad62d 104.1px,#febf3b 105.2px,#e2bc2b 106.3px,#b6c532 107.4px,#81cc58 108.5px,#81cc58 110.4px,#52cc7e 111.5px,#33c69e 112.6px,#16bfb7 113.8px,#05b6ce 114.9px,#05b6ce 116.8px,#1babde 117.9px,#259de7 119.0px,#2c8ef1 120.1px,#317dfb 121.2px,#317dfb 123.1px,#416cfe 124.6px,#475bf9 126.1px,#484aee 127.6px,#484aee 130.4px,#4743e7 139.3px,#4743e7 143.1px,#4743e7 152.0px,#4743e7 155.8px,#4743e7 164.7px,#4743e7 168.5px,#4743e7 177.4px,#4743e7 181.2px,#4743e7 190.1px,#4743e7 193.9px,#4743e7 202.8px,#4743e7 206.6px,#463cde 215.4px,#463cde 219.3px,#4433cb 228.1px,#4433cb 231.9px,#463cde 240.8px,#463cde 244.6px,#463cde 253.5px,#463cde 257.3px,#4743e7 266.2px,#4743e7 270.0px,#4743e7 278.9px,#4743e7 282.7px,#4743e7 291.6px,#4743e7 295.4px,#4433cb 304.3px,#4433cb 308.1px,#4743e7 312.5px,#4755f6 317.0px,#4755f6 320.8px,#4660fc 329.7px,#4660fc 333.5px,#4755f6 337.9px,#484aee 342.4px,#484aee 346.2px,#463cde 355.1px,#463cde 358.9px,#463cde 367.7px,#463cde 371.6px,#4536d3 380.4px,#4536d3 384.2px,#4536d3 393.1px,#4536d3 396.9px,#4434cf 405.8px,#4434cf 409.6px,#4434cf 418.5px,#4434cf 422.3px,#4536d3 431.2px,#4536d3 434.7px)"></div>
</div>
<div class="box" style="left:662px;top:28px;width:435.7px;height:377.1px"></div>
<div class="tk" style="left:717.53px;top:400.6px;width:1px;height:4px"></div>
<div class="tk" style="left:717.53px;top:28.5px;width:1px;height:4px"></div>
<div class="t tx" style="font-size:14.63px;left:718.03px;top:413.9px">60</div>
<div class="tk" style="left:780.99px;top:400.6px;width:1px;height:4px"></div>
<div class="tk" style="left:780.99px;top:28.5px;width:1px;height:4px"></div>
<div class="t tx" style="font-size:14.63px;left:781.49px;top:413.9px">80</div>
<div class="tk" style="left:844.45px;top:400.6px;width:1px;height:4px"></div>
<div class="tk" style="left:844.45px;top:28.5px;width:1px;height:4px"></div>
<div class="t tx" style="font-size:14.63px;left:844.95px;top:413.9px">100</div>
<div class="tk" style="left:907.91px;top:400.6px;width:1px;height:4px"></div>
<div class="tk" style="left:907.91px;top:28.5px;width:1px;height:4px"></div>
<div class="t tx" style="font-size:14.63px;left:908.41px;top:413.9px">120</div>
<div class="tk" style="left:971.37px;top:400.6px;width:1px;height:4px"></div>
<div class="tk" style="left:971.37px;top:28.5px;width:1px;height:4px"></div>
<div class="t tx" style="font-size:14.63px;left:971.87px;top:413.9px">140</div>
<div class="tk" style="left:1034.83px;top:400.6px;width:1px;height:4px"></div>
<div class="tk" style="left:1034.83px;top:28.5px;width:1px;height:4px"></div>
<div class="t tx" style="font-size:14.63px;left:1035.33px;top:413.9px">160</div>
<div class="tk" style="left:662.5px;top:54.86px;width:4px;height:1px"></div>
<div class="tk" style="left:1093.2px;top:54.86px;width:4px;height:1px"></div>
<div class="t ty" style="font-size:14.63px;left:655.5px;top:56.06px">2</div>
<div class="tk" style="left:662.5px;top:90.68px;width:4px;height:1px"></div>
<div class="tk" style="left:1093.2px;top:90.68px;width:4px;height:1px"></div>
<div class="t ty" style="font-size:14.63px;left:655.5px;top:91.88px">4</div>
<div class="tk" style="left:662.5px;top:126.5px;width:4px;height:1px"></div>
<div class="tk" style="left:1093.2px;top:126.5px;width:4px;height:1px"></div>
<div class="t ty" style="font-size:14.63px;left:655.5px;top:127.7px">6</div>
<div class="tk" style="left:662.5px;top:162.32px;width:4px;height:1px"></div>
<div class="tk" style="left:1093.2px;top:162.32px;width:4px;height:1px"></div>
<div class="t ty" style="font-size:14.63px;left:655.5px;top:163.52px">8</div>
<div class="tk" style="left:662.5px;top:198.14px;width:4px;height:1px"></div>
<div class="tk" style="left:1093.2px;top:198.14px;width:4px;height:1px"></div>
<div class="t ty" style="font-size:14.63px;left:655.5px;top:199.34px">10</div>
<div class="tk" style="left:662.5px;top:233.96px;width:4px;height:1px"></div>
<div class="tk" style="left:1093.2px;top:233.96px;width:4px;height:1px"></div>
<div class="t ty" style="font-size:14.63px;left:655.5px;top:235.16px">12</div>
<div class="tk" style="left:662.5px;top:269.78px;width:4px;height:1px"></div>
<div class="tk" style="left:1093.2px;top:269.78px;width:4px;height:1px"></div>
<div class="t ty" style="font-size:14.63px;left:655.5px;top:270.98px">14</div>
<div class="tk" style="left:662.5px;top:305.6px;width:4px;height:1px"></div>
<div class="tk" style="left:1093.2px;top:305.6px;width:4px;height:1px"></div>
<div class="t ty" style="font-size:14.63px;left:655.5px;top:306.8px">16</div>
<div class="tk" style="left:662.5px;top:341.42px;width:4px;height:1px"></div>
<div class="tk" style="left:1093.2px;top:341.42px;width:4px;height:1px"></div>
<div class="t ty" style="font-size:14.63px;left:655.5px;top:342.62px">18</div>
<div class="tk" style="left:662.5px;top:377.24px;width:4px;height:1px"></div>
<div class="tk" style="left:1093.2px;top:377.24px;width:4px;height:1px"></div>
<div class="t ty" style="font-size:14.63px;left:655.5px;top:378.44px">20</div>
<div class="ab" style="left:1109.2px;top:28.5px;width:23.5px;height:376.1px;background:linear-gradient(to bottom,#f9fb15 0.0%,#f6ef20 3.1%,#f5e327 6.2%,#f9d62d 9.4%,#feca33 12.5%,#febe3c 15.6%,#f1ba37 18.8%,#debc2a 21.9%,#c8c129 25.0%,#afc637 28.1%,#94ca4a 31.2%,#77cc60 34.4%,#5ccc76 37.5%,#44ca8a 40.6%,#34c79c 43.8%,#28c2ab 46.9%,#12beb9 50.0%,#01b9c6 53.1%,#0cb3d3 56.2%,#1aacdd 59.4%,#21a3e3 62.5%,#269ae9 65.6%,#2c90f0 68.8%,#2e85f8 71.9%,#347afd 75.0%,#3f6efe 78.1%,#4562fc 81.2%,#4757f7 84.4%,#484cef 87.5%,#4741e5 90.6%,#4536d5 93.8%,#422ebf 96.9%,#3e26a8 100.0%)"></div>
<div class="box" style="left:1108.7px;top:28px;width:24.5px;height:377.1px"></div>
<div class="tk" style="left:1129.7px;top:51px;width:3px;height:1px"></div>
<div class="t tc" style="font-size:14.63px;left:1138.2px;top:52.3px">0.06</div>
<div class="tk" style="left:1129.7px;top:110.2px;width:3px;height:1px"></div>
<div class="t tc" style="font-size:14.63px;left:1138.2px;top:111.5px">0.05</div>
<div class="tk" style="left:1129.7px;top:169.4px;width:3px;height:1px"></div>
<div class="t tc" style="font-size:14.63px;left:1138.2px;top:170.7px">0.04</div>
<div class="tk" style="left:1129.7px;top:228.6px;width:3px;height:1px"></div>
<div class="t tc" style="font-size:14.63px;left:1138.2px;top:229.9px">0.03</div>
<div class="tk" style="left:1129.7px;top:287.8px;width:3px;height:1px"></div>
<div class="t tc" style="font-size:14.63px;left:1138.2px;top:289.1px">0.02</div>
<div class="tk" style="left:1129.7px;top:347px;width:3px;height:1px"></div>
<div class="t tc" style="font-size:14.63px;left:1138.2px;top:348.3px">0.01</div>
<div class="t ti" style="font-size:16.25px;left:879.85px;top:9.4px">Face</div>
<div class="t xl" style="font-size:27.42px;left:879.85px;top:431.5px">Heart Rate [bpm]</div>
<div class="t yl" style="font-size:27.42px;left:604.5px;top:217.05px">Time Step <i>T</i></div>
<div class="t pl" style="left:885.8px;top:473.6px">(b)</div>
<div class="hm" style="left:1264.2px;top:31px;width:432.5px;height:374.1px">
<div style="position:absolute;left:0;top:0px;height:17.82px;background:linear-gradient(to right,#406cfe 0.0px,#406cfe 3.5px,#406cfe 12.3px,#406cfe 16.1px,#3479fd 24.9px,#3479fd 28.7px,#3479fd 37.6px,#3479fd 40.4px,#4464fd 44.8px,#4464fd 46.7px,#4850f3 48.9px,#463cde 51.1px,#463cde 53.0px,#484ef1 53.9px,#465ffb 54.8px,#3b72ff 55.7px,#2e85f8 56.6px,#2895ec 57.5px,#2895ec 59.4px,#1ea7e1 60.8px,#05b6ce 62.3px,#1ac0b5 63.8px,#1ac0b5 65.7px,#35c79a 66.8px,#59cc78 67.9px,#8bcb51 69.0px,#bcc42f 70.1px,#bcc42f 72.0px,#dabd28 73.5px,#f3ba39 74.9px,#fec338 76.4px,#fec338 78.3px,#fdce31 82.7px,#fdce31 84.6px,#f9bb3d 89.0px,#f9bb3d 90.9px,#dbbd29 92.0px,#b4c534 93.1px,#86cb55 94.2px,#58cc79 95.3px,#58cc79 97.2px,#36c899 98.3px,#1fc0b2 99.4px,#01b9c8 100.5px,#18aedb 101.7px,#18aedb 103.5px,#23a0e5 105.0px,#2b92ef 106.5px,#2f81fa 108.0px,#2f81fa 109.9px,#3d71ff 112.1px,#4660fc 114.3px,#4660fc 116.2px,#406cfe 120.6px,#406cfe 122.5px,#406cfe 126.9px,#406cfe 129.8px,#3975fe 138.6px,#3975fe 142.4px,#2f81fa 151.2px,#2f81fa 155.0px,#2f81fa 163.8px,#2f81fa 167.6px,#406cfe 176.5px,#406cfe 180.3px,#4758f8 189.1px,#4758f8 192.9px,#4758f8 201.7px,#4758f8 205.5px,#406cfe 214.4px,#406cfe 218.1px,#3975fe 227.0px,#3975fe 230.8px,#2f81fa 239.6px,#2f81fa 243.4px,#2d8af5 252.2px,#2d8af5 256.0px,#327cfc 260.4px,#406cfe 264.9px,#406cfe 268.7px,#475bf9 271.6px,#484aed 274.5px,#4539d9 277.5px,#4539d9 281.3px,#484ef1 290.1px,#484ef1 293.9px,#4759f8 298.3px,#4464fd 302.8px,#4464fd 306.5px,#4464fd 315.4px,#4464fd 319.2px,#4759f8 323.6px,#484ef1 328.0px,#484ef1 331.8px,#475cfa 340.6px,#475cfa 344.4px,#4464fd 353.3px,#4464fd 357.0px,#4759f8 361.5px,#484ef1 365.9px,#484ef1 369.7px,#4747eb 378.5px,#4747eb 382.3px,#4539d9 391.1px,#4539d9 394.9px,#4747eb 403.8px,#4747eb 407.6px,#4758f8 416.4px,#4758f8 420.2px,#4464fd 429.0px,#4464fd 432.5px)"></div>
<div style="position:absolute;left:0;top:17.81px;height:17.83px;background:linear-gradient(to right,#3479fd 0.0px,#3479fd 3.5px,#3479fd 12.3px,#3479fd 16.1px,#3479fd 24.9px,#3479fd 28.7px,#406cfe 37.6px,#406cfe 40.4px,#4464fd 44.8px,#4464fd 46.7px,#4660fc 51.1px,#4660fc 53.0px,#3d71ff 55.2px,#2f81fa 57.5px,#2f81fa 59.4px,#2895ec 60.8px,#1ea7e1 62.3px,#05b6ce 63.8px,#05b6ce 65.7px,#16bfb7 66.8px,#33c69e 67.9px,#52cc7e 69.0px,#81cc58 70.1px,#81cc58 72.0px,#b1c635 73.5px,#dabd28 74.9px,#f9bb3d 76.4px,#f9bb3d 78.3px,#fec834 79.8px,#f8d92c 81.2px,#f5e924 82.7px,#f5e924 84.6px,#fad62d 89.0px,#fad62d 90.9px,#fec03b 92.4px,#e5bb2c 93.9px,#bcc42f 95.3px,#bcc42f 97.2px,#8acb51 98.1px,#58cc79 99.0px,#34c79b 99.9px,#18bfb6 100.8px,#05b6ce 101.7px,#05b6ce 103.5px,#1ea7e1 105.0px,#2895ec 106.5px,#2f81fa 108.0px,#2f81fa 109.9px,#3d71ff 112.1px,#4660fc 114.3px,#4660fc 116.2px,#4758f8 120.6px,#4758f8 122.5px,#484cef 124.7px,#473fe3 126.9px,#473fe3 129.8px,#484ef1 132.7px,#465dfa 135.6px,#406cfe 138.6px,#406cfe 142.4px,#2f81fa 151.2px,#2f81fa 155.0px,#2f81fa 163.8px,#2f81fa 167.6px,#406cfe 176.5px,#406cfe 180.3px,#4758f8 189.1px,#4758f8 192.9px,#4758f8 201.7px,#4758f8 205.5px,#406cfe 214.4px,#406cfe 218.1px,#2f81fa 227.0px,#2f81fa 230.8px,#2f81fa 239.6px,#2f81fa 243.4px,#2f81fa 252.2px,#2f81fa 256.0px,#406cfe 264.9px,#406cfe 268.7px,#475bf9 271.6px,#484aed 274.5px,#4539d9 277.5px,#4539d9 281.3px,#484ef1 290.1px,#484ef1 293.9px,#4759f8 298.3px,#4464fd 302.8px,#4464fd 306.5px,#406cfe 315.4px,#406cfe 319.2px,#3975fe 328.0px,#3975fe 331.8px,#317dfb 340.6px,#317dfb 344.4px,#3d71ff 348.8px,#4464fd 353.3px,#4464fd 357.0px,#4759f8 361.5px,#484ef1 365.9px,#484ef1 369.7px,#484ef1 378.5px,#484ef1 382.3px,#484ef1 391.1px,#484ef1 394.9px,#4758f8 403.8px,#4758f8 407.6px,#4464fd 416.4px,#4464fd 420.2px,#406cfe 429.0px,#406cfe 432.5px)"></div>
<div style="position:absolute;left:0;top:35.63px;height:17.82px;background:linear-gradient(to right,#406cfe 0.0px,#406cfe 3.5px,#3479fd 12.3px,#3479fd 16.1px,#3479fd 24.9px,#3479fd 28.7px,#3479fd 37.6px,#3479fd 40.4px,#3479fd 44.8px,#3479fd 46.7px,#406cfe 51.1px,#406cfe 53.0px,#2f81fa 57.5px,#2f81fa 59.4px,#2994ed 60.5px,#20a4e3 61.6px,#0fb2d5 62.7px,#07bcbf 63.8px,#07bcbf 65.7px,#27c2ab 67.1px,#39c895 68.6px,#58cc79 70.1px,#58cc79 72.0px,#86cb55 73.1px,#b4c534 74.2px,#dbbd29 75.3px,#f9bb3d 76.4px,#f9bb3d 78.3px,#fdce31 82.7px,#fdce31 84.6px,#fec338 89.0px,#fec338 90.9px,#e9bb30 92.0px,#c0c32d 93.1px,#8ccb50 94.2px,#58cc79 95.3px,#58cc79 97.2px,#34c79c 98.3px,#16bfb7 99.4px,#06b5cf 100.5px,#1ea7e1 101.7px,#1ea7e1 103.5px,#2699e9 105.0px,#2d8af4 106.5px,#3479fd 108.0px,#3479fd 109.9px,#4368fe 112.1px,#4758f8 114.3px,#4758f8 116.2px,#4758f8 120.6px,#4758f8 122.5px,#484ef1 126.9px,#484ef1 129.8px,#465dfa 134.2px,#406cfe 138.6px,#406cfe 142.4px,#3975fe 151.2px,#3975fe 155.0px,#406cfe 163.8px,#406cfe 167.6px,#465dfa 172.1px,#484ef1 176.5px,#484ef1 180.3px,#4747eb 189.1px,#4747eb 192.9px,#484ef1 201.7px,#484ef1 205.5px,#4661fc 209.9px,#3975fe 214.4px,#3975fe 218.1px,#2f81fa 227.0px,#2f81fa 230.8px,#3975fe 239.6px,#3975fe 243.4px,#4464fd 252.2px,#4464fd 256.0px,#4758f8 264.9px,#4758f8 268.7px,#4747eb 277.5px,#4747eb 281.3px,#484ef1 290.1px,#484ef1 293.9px,#465dfa 298.3px,#406cfe 302.8px,#406cfe 306.5px,#3975fe 315.4px,#3975fe 319.2px,#3975fe 328.0px,#3975fe 331.8px,#2f81fa 340.6px,#2f81fa 344.4px,#406cfe 348.8px,#4758f8 353.3px,#4758f8 357.0px,#484ef1 365.9px,#484ef1 369.7px,#4758f8 378.5px,#4758f8 382.3px,#4758f8 391.1px,#4758f8 394.9px,#4758f8 403.8px,#4758f8 407.6px,#4758f8 416.4px,#4758f8 420.2px,#4464fd 429.0px,#4464fd 432.5px)"></div>
<div style="position:absolute;left:0;top:53.44px;height:17.83px;background:linear-gradient(to right,#406cfe 0.0px,#406cfe 3.5px,#3479fd 12.3px,#3479fd 16.1px,#2f81fa 24.9px,#2f81fa 28.7px,#2f81fa 37.6px,#2f81fa 40.4px,#3479fd 44.8px,#3479fd 46.7px,#406cfe 51.1px,#406cfe 53.0px,#2f81fa 57.5px,#2f81fa 59.4px,#2895ec 60.5px,#1ea7e1 61.6px,#05b6ce 62.7px,#1ac0b5 63.8px,#1ac0b5 65.7px,#35c79a 66.8px,#59cc78 67.9px,#8bcb51 69.0px,#bcc42f 70.1px,#bcc42f 72.0px,#dfbc2a 74.2px,#f9bb3d 76.4px,#f9bb3d 78.3px,#fec338 82.7px,#fec338 84.6px,#f7ba3d 86.8px,#e5bb2c 89.0px,#e5bb2c 90.9px,#bcc42f 92.0px,#8bcb51 93.1px,#59cc78 94.2px,#35c79a 95.3px,#35c79a 97.2px,#17bfb6 98.3px,#06b5cf 99.4px,#1ea7e1 100.5px,#2895ec 101.7px,#2895ec 103.5px,#2f82f9 105.8px,#406cfe 108.0px,#406cfe 109.9px,#406cfe 114.3px,#406cfe 116.2px,#2f81fa 120.6px,#2f81fa 122.5px,#2f81fa 126.9px,#2f81fa 129.8px,#2f81fa 138.6px,#2f81fa 142.4px,#2f81fa 151.2px,#2f81fa 155.0px,#2f81fa 163.8px,#2f81fa 167.6px,#3e70ff 170.6px,#465efb 173.5px,#484ef1 176.5px,#484ef1 180.3px,#4747eb 189.1px,#4747eb 192.9px,#484ef1 201.7px,#484ef1 205.5px,#4759f8 209.9px,#4464fd 214.4px,#4464fd 218.1px,#4464fd 227.0px,#4464fd 230.8px,#4758f8 239.6px,#4758f8 243.4px,#4758f8 252.2px,#4758f8 256.0px,#4758f8 264.9px,#4758f8 268.7px,#484ef1 277.5px,#484ef1 281.3px,#484ef1 290.1px,#484ef1 293.9px,#465dfa 298.3px,#406cfe 302.8px,#406cfe 306.5px,#2f81fa 315.4px,#2f81fa 319.2px,#2c8ef2 328.0px,#2c8ef2 331.8px,#317efb 336.2px,#406cfe 340.6px,#406cfe 344.4px,#4464fd 353.3px,#4464fd 357.0px,#4464fd 365.9px,#4464fd 369.7px,#4464fd 378.5px,#4464fd 382.3px,#4464fd 391.1px,#4464fd 394.9px,#4464fd 403.8px,#4464fd 407.6px,#4464fd 416.4px,#4464fd 420.2px,#4464fd 429.0px,#4464fd 432.5px)"></div>
<div style="position:absolute;left:0;top:71.26px;height:17.82px;background:linear-gradient(to right,#406cfe 0.0px,#406cfe 3.5px,#3479fd 12.3px,#3479fd 16.1px,#3479fd 24.9px,#3479fd 28.7px,#3479fd 37.6px,#3479fd 40.4px,#3479fd 44.8px,#3479fd 46.7px,#406cfe 51.1px,#406cfe 53.0px,#465ffb 55.2px,#4851f4 57.5px,#4851f4 59.4px,#4465fd 60.2px,#347afd 61.1px,#2d8df2 62.0px,#249ee6 62.9px,#18aedb 63.8px,#18aedb 65.7px,#01b9c6 66.5px,#25c2ad 67.4px,#3dc990 68.3px,#68cd6c 69.2px,#9bc944 70.1px,#9bc944 72.0px,#c1c32c 73.5px,#e1bc2b 74.9px,#f9bb3d 76.4px,#f9bb3d 78.3px,#fec338 82.7px,#fec338 84.6px,#f7ba3d 86.8px,#e5bb2c 89.0px,#e5bb2c 90.9px,#bcc42f 91.8px,#8ccb50 92.7px,#5acc78 93.6px,#35c79a 94.5px,#1ac0b5 95.3px,#1ac0b5 97.2px,#05b6ce 98.7px,#1ea7e1 100.2px,#2895ec 101.7px,#2895ec 103.5px,#2e83f9 104.7px,#3f6eff 105.8px,#475af9 106.9px,#4747eb 108.0px,#4747eb 109.9px,#4759f8 112.1px,#406cfe 114.3px,#406cfe 116.2px,#317efb 118.4px,#2c8ef2 120.6px,#2c8ef2 122.5px,#2f82fa 124.7px,#3975fe 126.9px,#3975fe 129.8px,#406cfe 138.6px,#406cfe 142.4px,#406cfe 151.2px,#406cfe 155.0px,#406cfe 163.8px,#406cfe 167.6px,#4758f8 176.5px,#4758f8 180.3px,#484ef1 189.1px,#484ef1 192.9px,#484ef1 201.7px,#484ef1 205.5px,#484ef1 214.4px,#484ef1 218.1px,#484ef1 227.0px,#484ef1 230.8px,#484ef1 239.6px,#484ef1 243.4px,#4758f8 252.2px,#4758f8 256.0px,#4758f8 264.9px,#4758f8 268.7px,#4758f8 277.5px,#4758f8 281.3px,#4758f8 290.1px,#4758f8 293.9px,#4464fd 302.8px,#4464fd 306.5px,#3975fe 315.4px,#3975fe 319.2px,#3975fe 328.0px,#3975fe 331.8px,#406cfe 340.6px,#406cfe 344.4px,#4464fd 353.3px,#4464fd 357.0px,#4464fd 365.9px,#4464fd 369.7px,#4464fd 378.5px,#4464fd 382.3px,#4464fd 391.1px,#4464fd 394.9px,#4464fd 403.8px,#4464fd 407.6px,#4464fd 416.4px,#4464fd 420.2px,#4758f8 429.0px,#4758f8 432.5px)"></div>
<div style="position:absolute;left:0;top:89.07px;height:17.83px;background:linear-gradient(to right,#4464fd 0.0px,#4464fd 3.5px,#475cfa 12.3px,#475cfa 16.1px,#4464fd 24.9px,#4464fd 28.7px,#3479fd 37.6px,#3479fd 40.4px,#3479fd 44.8px,#3479fd 46.7px,#3975fe 51.1px,#3975fe 53.0px,#2e86f7 55.2px,#2895ec 57.5px,#2895ec 59.4px,#20a5e2 60.8px,#0eb2d4 62.3px,#07bcbf 63.8px,#07bcbf 65.7px,#2dc4a5 66.8px,#48cb86 67.9px,#78cc5f 69.0px,#acc738 70.1px,#acc738 72.0px,#d2bf27 73.5px,#f0ba36 74.9px,#fec338 76.4px,#fec338 78.3px,#fdce31 82.7px,#fdce31 84.6px,#f9bb3d 89.0px,#f9bb3d 90.9px,#d8be28 92.0px,#abc739 93.1px,#76cc60 94.2px,#46cb87 95.3px,#46cb87 97.2px,#2ec4a4 98.3px,#0dbdbc 99.4px,#09b4d1 100.5px,#1ea7e1 101.7px,#1ea7e1 103.5px,#2895ec 105.8px,#2f81fa 108.0px,#2f81fa 109.9px,#406cfe 114.3px,#406cfe 116.2px,#3975fe 120.6px,#3975fe 122.5px,#4466fd 124.7px,#4758f8 126.9px,#4758f8 129.8px,#484ef1 138.6px,#484ef1 142.4px,#4758f8 151.2px,#4758f8 155.0px,#4758f8 163.8px,#4758f8 167.6px,#484ef1 176.5px,#484ef1 180.3px,#4758f8 189.1px,#4758f8 192.9px,#4758f8 201.7px,#4758f8 205.5px,#4747eb 214.4px,#4747eb 218.1px,#4536d3 227.0px,#4536d3 230.8px,#4747eb 239.6px,#4747eb 243.4px,#484ef1 252.2px,#484ef1 256.0px,#4758f8 264.9px,#4758f8 268.7px,#406cfe 277.5px,#406cfe 281.3px,#2f81fa 290.1px,#2f81fa 293.9px,#406cfe 302.8px,#406cfe 306.5px,#465dfa 309.5px,#484ef1 312.4px,#473fe3 315.4px,#473fe3 319.2px,#484cef 323.6px,#4758f8 328.0px,#4758f8 331.8px,#4758f8 340.6px,#4758f8 344.4px,#4758f8 353.3px,#4758f8 357.0px,#4758f8 365.9px,#4758f8 369.7px,#4758f8 378.5px,#4758f8 382.3px,#4758f8 391.1px,#4758f8 394.9px,#4466fd 399.4px,#3975fe 403.8px,#3975fe 407.6px,#406cfe 416.4px,#406cfe 420.2px,#4758f8 429.0px,#4758f8 432.5px)"></div>
<div style="position:absolute;left:0;top:106.89px;height:17.82px;background:linear-gradient(to right,#406cfe 0.0px,#406cfe 3.5px,#475cfa 12.3px,#475cfa 16.1px,#4851f4 24.9px,#4851f4 28.7px,#4465fd 33.1px,#3479fd 37.6px,#3479fd 40.4px,#3479fd 44.8px,#3479fd 46.7px,#3975fe 51.1px,#3975fe 53.0px,#2f82fa 55.2px,#2c8ef2 57.5px,#2c8ef2 59.4px,#259de7 60.8px,#1babde 62.3px,#05b6ce 63.8px,#05b6ce 65.7px,#14bfb8 66.5px,#32c69f 67.4px,#4fcc81 68.3px,#7ccc5c 69.2px,#acc738 70.1px,#acc738 72.0px,#d2bf27 73.1px,#f0ba36 74.2px,#fec338 75.3px,#fad62d 76.4px,#fad62d 78.3px,#f5e924 80.5px,#f9fb15 82.7px,#f9fb15 84.6px,#f5e924 86.8px,#fad62d 89.0px,#fad62d 90.9px,#fec239 92.0px,#eaba31 93.1px,#c7c12a 94.2px,#9bc944 95.3px,#9bc944 97.2px,#6ecd67 98.1px,#46cb88 99.0px,#2fc5a3 99.9px,#11beb9 100.8px,#05b6ce 101.7px,#05b6ce 103.5px,#1caadf 105.0px,#269ae8 106.5px,#2d8af5 108.0px,#2d8af5 109.9px,#347afd 111.3px,#4369fe 112.8px,#4758f8 114.3px,#4758f8 116.2px,#4758f8 120.6px,#4758f8 122.5px,#484ef1 126.9px,#484ef1 129.8px,#484ef1 138.6px,#484ef1 142.4px,#4759f8 146.8px,#4464fd 151.2px,#4464fd 155.0px,#406cfe 163.8px,#406cfe 167.6px,#406cfe 176.5px,#406cfe 180.3px,#4464fd 189.1px,#4464fd 192.9px,#406cfe 201.7px,#406cfe 205.5px,#4759f8 209.9px,#4747eb 214.4px,#4747eb 218.1px,#4434cf 227.0px,#4434cf 230.8px,#473fe3 239.6px,#473fe3 243.4px,#4747eb 252.2px,#4747eb 256.0px,#4758f8 264.9px,#4758f8 268.7px,#406cfe 273.1px,#2f81fa 277.5px,#2f81fa 281.3px,#2d8af5 290.1px,#2d8af5 293.9px,#3975fe 302.8px,#3975fe 306.5px,#4465fd 309.5px,#4756f6 312.4px,#4747eb 315.4px,#4747eb 319.2px,#4747eb 328.0px,#4747eb 331.8px,#4758f8 340.6px,#4758f8 344.4px,#484ef1 353.3px,#484ef1 357.0px,#4759f8 361.5px,#4464fd 365.9px,#4464fd 369.7px,#406cfe 378.5px,#406cfe 382.3px,#406cfe 391.1px,#406cfe 394.9px,#3975fe 403.8px,#3975fe 407.6px,#406cfe 416.4px,#406cfe 420.2px,#4464fd 429.0px,#4464fd 432.5px)"></div>
<div style="position:absolute;left:0;top:124.7px;height:17.82px;background:linear-gradient(to right,#3479fd 0.0px,#3479fd 3.5px,#3479fd 12.3px,#3479fd 16.1px,#3479fd 24.9px,#3479fd 28.7px,#3479fd 37.6px,#3479fd 40.4px,#3479fd 44.8px,#3479fd 46.7px,#3975fe 51.1px,#3975fe 53.0px,#2f81fa 57.5px,#2f81fa 59.4px,#2895ec 60.5px,#1ea7e1 61.6px,#05b6ce 62.7px,#1ac0b5 63.8px,#1ac0b5 65.7px,#32c69f 66.8px,#4acb84 67.9px,#70cd65 69.0px,#9bc944 70.1px,#9bc944 72.0px,#c8c129 73.5px,#ecba32 74.9px,#fec338 76.4px,#fec338 78.3px,#fad62d 82.7px,#fad62d 84.6px,#fdce31 89.0px,#fdce31 90.9px,#fcbc3d 92.4px,#e1bc2b 93.9px,#bcc42f 95.3px,#bcc42f 97.2px,#8bcb51 98.3px,#59cc78 99.4px,#35c79a 100.5px,#1ac0b5 101.7px,#1ac0b5 103.5px,#05b6ce 105.0px,#1ea7e1 106.5px,#2895ec 108.0px,#2895ec 109.9px,#2e83f9 111.3px,#406dfe 112.8px,#4758f8 114.3px,#4758f8 116.2px,#4758f8 120.6px,#4758f8 122.5px,#4758f8 126.9px,#4758f8 129.8px,#4464fd 138.6px,#4464fd 142.4px,#406cfe 151.2px,#406cfe 155.0px,#406cfe 163.8px,#406cfe 167.6px,#4464fd 176.5px,#4464fd 180.3px,#4464fd 189.1px,#4464fd 192.9px,#4464fd 201.7px,#4464fd 205.5px,#4758f8 214.4px,#4758f8 218.1px,#484ef1 227.0px,#484ef1 230.8px,#484ef1 239.6px,#484ef1 243.4px,#4758f8 252.2px,#4758f8 256.0px,#4464fd 264.9px,#4464fd 268.7px,#3975fe 277.5px,#3975fe 281.3px,#2f81fa 290.1px,#2f81fa 293.9px,#2f81fa 302.8px,#2f81fa 306.5px,#406cfe 315.4px,#406cfe 319.2px,#4464fd 328.0px,#4464fd 331.8px,#4464fd 340.6px,#4464fd 344.4px,#4464fd 353.3px,#4464fd 357.0px,#4758f8 365.9px,#4758f8 369.7px,#4758f8 378.5px,#4758f8 382.3px,#4758f8 391.1px,#4758f8 394.9px,#4758f8 403.8px,#4758f8 407.6px,#4758f8 416.4px,#4758f8 420.2px,#4464fd 429.0px,#4464fd 432.5px)"></div>
<div style="position:absolute;left:0;top:142.51px;height:17.83px;background:linear-gradient(to right,#3479fd 0.0px,#3479fd 3.5px,#3479fd 12.3px,#3479fd 16.1px,#3479fd 24.9px,#3479fd 28.7px,#3479fd 37.6px,#3479fd 40.4px,#406cfe 44.8px,#406cfe 46.7px,#4660fc 51.1px,#4660fc 53.0px,#406cfe 57.5px,#406cfe 59.4px,#2f81fa 63.8px,#2f81fa 65.7px,#2895ec 67.9px,#1ea7e1 70.1px,#1ea7e1 72.0px,#05b6ce 74.2px,#1ac0b5 76.4px,#1ac0b5 78.3px,#35c79a 80.5px,#58cc79 82.7px,#58cc79 84.6px,#81cc58 89.0px,#81cc58 90.9px,#62cd71 93.1px,#46cb87 95.3px,#46cb87 97.2px,#2fc5a3 98.7px,#11beb9 100.2px,#05b6ce 101.7px,#05b6ce 103.5px,#1ea7e1 105.8px,#2895ec 108.0px,#2895ec 109.9px,#2e83f9 111.3px,#406dfe 112.8px,#4758f8 114.3px,#4758f8 116.2px,#484ef1 120.6px,#484ef1 122.5px,#484ef1 126.9px,#484ef1 129.8px,#4758f8 138.6px,#4758f8 142.4px,#4758f8 151.2px,#4758f8 155.0px,#4758f8 163.8px,#4758f8 167.6px,#4758f8 176.5px,#4758f8 180.3px,#484ef1 189.1px,#484ef1 192.9px,#484ef1 201.7px,#484ef1 205.5px,#484ef1 214.4px,#484ef1 218.1px,#484ef1 227.0px,#484ef1 230.8px,#4758f8 239.6px,#4758f8 243.4px,#4747eb 252.2px,#4747eb 256.0px,#4758f8 264.9px,#4758f8 268.7px,#4464fd 277.5px,#4464fd 281.3px,#4464fd 290.1px,#4464fd 293.9px,#3975fe 302.8px,#3975fe 306.5px,#2f81fa 315.4px,#2f81fa 319.2px,#3b73fe 323.6px,#4464fd 328.0px,#4464fd 331.8px,#4464fd 340.6px,#4464fd 344.4px,#4464fd 353.3px,#4464fd 357.0px,#4758f8 365.9px,#4758f8 369.7px,#4758f8 378.5px,#4758f8 382.3px,#4758f8 391.1px,#4758f8 394.9px,#4758f8 403.8px,#4758f8 407.6px,#4758f8 416.4px,#4758f8 420.2px,#4464fd 429.0px,#4464fd 432.5px)"></div>
<div style="position:absolute;left:0;top:160.33px;height:17.82px;background:linear-gradient(to right,#3479fd 0.0px,#3479fd 3.5px,#3479fd 12.3px,#3479fd 16.1px,#3479fd 24.9px,#3479fd 28.7px,#406cfe 37.6px,#406cfe 40.4px,#465ffb 42.6px,#4851f4 44.8px,#4851f4 46.7px,#4747eb 51.1px,#4747eb 53.0px,#4851f4 57.5px,#4851f4 59.4px,#4851f4 63.8px,#4851f4 65.7px,#4758f8 70.1px,#4758f8 72.0px,#406cfe 74.2px,#2f81fa 76.4px,#2f81fa 78.3px,#2895ec 79.8px,#1ea7e1 81.2px,#05b6ce 82.7px,#05b6ce 84.6px,#18bfb6 86.8px,#35c79a 89.0px,#35c79a 90.9px,#46cb87 95.3px,#46cb87 97.2px,#31c6a0 99.4px,#1ac0b5 101.7px,#1ac0b5 103.5px,#01b8c9 105.0px,#18aedb 106.5px,#23a0e5 108.0px,#23a0e5 109.9px,#2b92ef 112.1px,#2f81fa 114.3px,#2f81fa 116.2px,#3975fe 120.6px,#3975fe 122.5px,#4464fd 126.9px,#4464fd 129.8px,#406cfe 138.6px,#406cfe 142.4px,#4758f8 151.2px,#4758f8 155.0px,#4758f8 163.8px,#4758f8 167.6px,#4758f8 176.5px,#4758f8 180.3px,#484ef1 189.1px,#484ef1 192.9px,#4539d9 201.7px,#4539d9 205.5px,#484ef1 214.4px,#484ef1 218.1px,#4661fc 222.6px,#3975fe 227.0px,#3975fe 230.8px,#4466fd 235.2px,#4758f8 239.6px,#4758f8 243.4px,#4747eb 252.2px,#4747eb 256.0px,#484ef1 264.9px,#484ef1 268.7px,#484ef1 277.5px,#484ef1 281.3px,#4758f8 290.1px,#4758f8 293.9px,#4464fd 302.8px,#4464fd 306.5px,#406cfe 315.4px,#406cfe 319.2px,#3975fe 328.0px,#3975fe 331.8px,#406cfe 340.6px,#406cfe 344.4px,#406cfe 353.3px,#406cfe 357.0px,#465dfa 361.5px,#484ef1 365.9px,#484ef1 369.7px,#4747eb 378.5px,#4747eb 382.3px,#484ef1 391.1px,#484ef1 394.9px,#4758f8 403.8px,#4758f8 407.6px,#4758f8 416.4px,#4758f8 420.2px,#4464fd 429.0px,#4464fd 432.5px)"></div>
<div style="position:absolute;left:0;top:178.14px;height:17.83px;background:linear-gradient(to right,#3479fd 0.0px,#3479fd 3.5px,#3479fd 12.3px,#3479fd 16.1px,#3479fd 24.9px,#3479fd 28.7px,#3479fd 37.6px,#3479fd 40.4px,#3479fd 44.8px,#3479fd 46.7px,#406cfe 51.1px,#406cfe 53.0px,#406cfe 57.5px,#406cfe 59.4px,#4758f8 63.8px,#4758f8 65.7px,#484aee 67.9px,#463cde 70.1px,#463cde 72.0px,#484df0 73.1px,#465efb 74.2px,#3e6fff 75.3px,#2f81fa 76.4px,#2f81fa 78.3px,#2895ec 79.8px,#1ea7e1 81.2px,#05b6ce 82.7px,#05b6ce 84.6px,#11beb9 85.5px,#2fc5a3 86.4px,#46cb88 87.3px,#6ecd67 88.1px,#9bc944 89.0px,#9bc944 90.9px,#c1c32c 92.4px,#e1bc2b 93.9px,#f9bb3d 95.3px,#f9bb3d 97.2px,#f9bb3d 101.7px,#f9bb3d 103.5px,#dabd28 105.0px,#b1c635 106.5px,#81cc58 108.0px,#81cc58 109.9px,#54cc7d 111.3px,#34c79c 112.8px,#1ac0b5 114.3px,#1ac0b5 116.2px,#01b9c7 118.4px,#13b1d7 120.6px,#13b1d7 122.5px,#23a0e5 124.7px,#2c8ef2 126.9px,#2c8ef2 129.8px,#317efb 134.2px,#406cfe 138.6px,#406cfe 142.4px,#4464fd 151.2px,#4464fd 155.0px,#4759f8 159.4px,#484ef1 163.8px,#484ef1 167.6px,#4758f8 176.5px,#4758f8 180.3px,#4464fd 189.1px,#4464fd 192.9px,#4756f6 195.8px,#4747eb 198.8px,#4539d9 201.7px,#4539d9 205.5px,#4848ec 209.9px,#4758f8 214.4px,#4758f8 218.1px,#4466fd 222.6px,#3975fe 227.0px,#3975fe 230.8px,#4466fd 235.2px,#4758f8 239.6px,#4758f8 243.4px,#4758f8 252.2px,#4758f8 256.0px,#4758f8 264.9px,#4758f8 268.7px,#4758f8 277.5px,#4758f8 281.3px,#4758f8 290.1px,#4758f8 293.9px,#484cef 298.3px,#473fe3 302.8px,#473fe3 306.5px,#484ef1 309.5px,#465dfa 312.4px,#406cfe 315.4px,#406cfe 319.2px,#2f81fa 328.0px,#2f81fa 331.8px,#2f81fa 340.6px,#2f81fa 344.4px,#3975fe 353.3px,#3975fe 357.0px,#4465fd 360.0px,#4756f6 362.9px,#4747eb 365.9px,#4747eb 369.7px,#473fe3 378.5px,#473fe3 382.3px,#4747eb 391.1px,#4747eb 394.9px,#4758f8 403.8px,#4758f8 407.6px,#4758f8 416.4px,#4758f8 420.2px,#4464fd 429.0px,#4464fd 432.5px)"></div>
<div style="position:absolute;left:0;top:195.96px;height:17.82px;background:linear-gradient(to right,#406cfe 0.0px,#406cfe 3.5px,#406cfe 12.3px,#406cfe 16.1px,#406cfe 24.9px,#406cfe 28.7px,#406cfe 37.6px,#406cfe 40.4px,#406cfe 44.8px,#406cfe 46.7px,#4660fc 51.1px,#4660fc 53.0px,#406cfe 57.5px,#406cfe 59.4px,#4758f8 63.8px,#4758f8 65.7px,#484aee 67.9px,#463cde 70.1px,#463cde 72.0px,#484df0 73.1px,#465efb 74.2px,#3e6fff 75.3px,#2f81fa 76.4px,#2f81fa 78.3px,#2895ec 79.8px,#1ea7e1 81.2px,#05b6ce 82.7px,#05b6ce 84.6px,#14bfb8 85.5px,#32c69f 86.4px,#4fcc81 87.3px,#7ccc5c 88.1px,#acc738 89.0px,#acc738 90.9px,#d8be28 92.4px,#f9bb3d 93.9px,#fdce31 95.3px,#fdce31 97.2px,#f7dc2a 99.4px,#f5e924 101.7px,#f5e924 103.5px,#f8d92c 105.0px,#fec834 106.5px,#f9bb3d 108.0px,#f9bb3d 109.9px,#dbbd29 111.0px,#b4c534 112.1px,#86cb55 113.2px,#58cc79 114.3px,#58cc79 116.2px,#34c79b 117.6px,#17bfb6 119.1px,#05b6ce 120.6px,#05b6ce 122.5px,#1babde 124.0px,#259de7 125.4px,#2c8ef2 126.9px,#2c8ef2 129.8px,#347afd 134.2px,#4464fd 138.6px,#4464fd 142.4px,#4758f8 151.2px,#4758f8 155.0px,#4758f8 163.8px,#4758f8 167.6px,#4758f8 176.5px,#4758f8 180.3px,#4758f8 189.1px,#4758f8 192.9px,#4758f8 201.7px,#4758f8 205.5px,#4758f8 214.4px,#4758f8 218.1px,#4758f8 227.0px,#4758f8 230.8px,#4758f8 239.6px,#4758f8 243.4px,#4758f8 252.2px,#4758f8 256.0px,#4758f8 264.9px,#4758f8 268.7px,#4758f8 277.5px,#4758f8 281.3px,#4758f8 290.1px,#4758f8 293.9px,#4758f8 302.8px,#4758f8 306.5px,#406cfe 315.4px,#406cfe 319.2px,#327cfc 323.6px,#2d8af5 328.0px,#2d8af5 331.8px,#2f81fa 340.6px,#2f81fa 344.4px,#3b73fe 348.8px,#4464fd 353.3px,#4464fd 357.0px,#4759f8 361.5px,#484ef1 365.9px,#484ef1 369.7px,#484ef1 378.5px,#484ef1 382.3px,#484ef1 391.1px,#484ef1 394.9px,#4758f8 403.8px,#4758f8 407.6px,#4758f8 416.4px,#4758f8 420.2px,#4758f8 429.0px,#4758f8 432.5px)"></div>
<div style="position:absolute;left:0;top:213.77px;height:17.83px;background:linear-gradient(to right,#4747eb 0.0px,#4747eb 3.5px,#4747eb 12.3px,#4747eb 16.1px,#4747eb 24.9px,#4747eb 28.7px,#4851f4 37.6px,#4851f4 40.4px,#4851f4 44.8px,#4851f4 46.7px,#4851f4 51.1px,#4851f4 53.0px,#4660fc 57.5px,#4660fc 59.4px,#406cfe 63.8px,#406cfe 65.7px,#2f81fa 70.1px,#2f81fa 72.0px,#2b92ef 73.5px,#23a0e5 74.9px,#18aedb 76.4px,#18aedb 78.3px,#01b9c6 79.4px,#25c2ad 80.5px,#3dc991 81.6px,#67cd6c 82.7px,#67cd6c 84.6px,#9bc944 86.1px,#cbc129 87.6px,#f0ba36 89.0px,#f0ba36 90.9px,#fec735 93.1px,#f6de29 95.3px,#f6de29 97.2px,#f6de29 101.7px,#f6de29 103.5px,#fdcc32 105.0px,#fcbc3d 106.5px,#e5bb2c 108.0px,#e5bb2c 109.9px,#bcc42f 111.0px,#8bcb51 112.1px,#59cc78 113.2px,#35c79a 114.3px,#35c79a 116.2px,#17bfb6 117.6px,#06b5cf 119.1px,#1ea7e1 120.6px,#1ea7e1 122.5px,#2798ea 124.0px,#2d88f6 125.4px,#3975fe 126.9px,#3975fe 129.8px,#4661fc 134.2px,#484ef1 138.6px,#484ef1 142.4px,#4758f8 151.2px,#4758f8 155.0px,#4464fd 163.8px,#4464fd 167.6px,#4464fd 176.5px,#4464fd 180.3px,#4464fd 189.1px,#4464fd 192.9px,#4464fd 201.7px,#4464fd 205.5px,#4755f6 209.9px,#4747eb 214.4px,#4747eb 218.1px,#484ef1 227.0px,#484ef1 230.8px,#4758f8 239.6px,#4758f8 243.4px,#4758f8 252.2px,#4758f8 256.0px,#4758f8 264.9px,#4758f8 268.7px,#4758f8 277.5px,#4758f8 281.3px,#4747eb 290.1px,#4747eb 293.9px,#4759f8 298.3px,#406cfe 302.8px,#406cfe 306.5px,#3975fe 315.4px,#3975fe 319.2px,#2d8af5 328.0px,#2d8af5 331.8px,#2f81fa 340.6px,#2f81fa 344.4px,#3b73fe 348.8px,#4464fd 353.3px,#4464fd 357.0px,#4759f8 361.5px,#484ef1 365.9px,#484ef1 369.7px,#484ef1 378.5px,#484ef1 382.3px,#4758f8 391.1px,#4758f8 394.9px,#4758f8 403.8px,#4758f8 407.6px,#4758f8 416.4px,#4758f8 420.2px,#4758f8 429.0px,#4758f8 432.5px)"></div>
<div style="position:absolute;left:0;top:231.59px;height:17.82px;background:linear-gradient(to right,#473fe3 0.0px,#473fe3 3.5px,#4434cf 12.3px,#4434cf 16.1px,#473fe3 24.9px,#473fe3 28.7px,#4747eb 37.6px,#4747eb 40.4px,#4851f4 44.8px,#4851f4 46.7px,#463cde 51.1px,#463cde 53.0px,#4747eb 57.5px,#4747eb 59.4px,#4759f8 61.6px,#406cfe 63.8px,#406cfe 65.7px,#3080fb 67.1px,#2b91ef 68.6px,#23a0e5 70.1px,#23a0e5 72.0px,#15afd8 73.5px,#02bbc3 74.9px,#28c3ab 76.4px,#28c3ab 78.3px,#41ca8d 79.4px,#6fcd66 80.5px,#a3c83f 81.6px,#d2bf27 82.7px,#d2bf27 84.6px,#f0ba36 86.8px,#fec338 89.0px,#fec338 90.9px,#f9bb3d 95.3px,#f9bb3d 97.2px,#dfbc2a 99.4px,#bcc42f 101.7px,#bcc42f 103.5px,#8bcb51 105.0px,#59cc79 106.5px,#35c79a 108.0px,#35c79a 109.9px,#1dc0b3 111.3px,#01b8c8 112.8px,#18aedb 114.3px,#18aedb 116.2px,#22a2e4 118.4px,#2895ec 120.6px,#2895ec 122.5px,#2f82f9 124.7px,#406cfe 126.9px,#406cfe 129.8px,#465dfa 132.7px,#484ef1 135.6px,#473fe3 138.6px,#473fe3 142.4px,#484ef1 145.3px,#465dfa 148.3px,#406cfe 151.2px,#406cfe 155.0px,#406cfe 163.8px,#406cfe 167.6px,#406cfe 176.5px,#406cfe 180.3px,#406cfe 189.1px,#406cfe 192.9px,#406cfe 201.7px,#406cfe 205.5px,#465dfa 208.5px,#484ef1 211.4px,#473fe3 214.4px,#473fe3 218.1px,#4747eb 227.0px,#4747eb 230.8px,#4755f6 235.2px,#4464fd 239.6px,#4464fd 243.4px,#4464fd 252.2px,#4464fd 256.0px,#3975fe 264.9px,#3975fe 268.7px,#3975fe 277.5px,#3975fe 281.3px,#3975fe 290.1px,#3975fe 293.9px,#2f81fa 302.8px,#2f81fa 306.5px,#2f81fa 315.4px,#2f81fa 319.2px,#2f81fa 328.0px,#2f81fa 331.8px,#3975fe 340.6px,#3975fe 344.4px,#406cfe 353.3px,#406cfe 357.0px,#4464fd 365.9px,#4464fd 369.7px,#4464fd 378.5px,#4464fd 382.3px,#3975fe 391.1px,#3975fe 394.9px,#406cfe 403.8px,#406cfe 407.6px,#4464fd 416.4px,#4464fd 420.2px,#4464fd 429.0px,#4464fd 432.5px)"></div>
<div style="position:absolute;left:0;top:249.4px;height:17.82px;background:linear-gradient(to right,#4747eb 0.0px,#4747eb 3.5px,#4434cf 12.3px,#4434cf 16.1px,#473fe3 24.9px,#473fe3 28.7px,#4851f4 37.6px,#4851f4 40.4px,#4464fd 44.8px,#4464fd 46.7px,#4660fc 51.1px,#4660fc 53.0px,#406cfe 57.5px,#406cfe 59.4px,#2e83f9 60.8px,#2896eb 62.3px,#1ea7e1 63.8px,#1ea7e1 65.7px,#06b5cf 67.1px,#17bfb6 68.6px,#35c79a 70.1px,#35c79a 72.0px,#59cc79 73.5px,#8bcb51 74.9px,#bcc42f 76.4px,#bcc42f 78.3px,#dabd28 79.8px,#f3ba39 81.2px,#fec338 82.7px,#fec338 84.6px,#fec338 89.0px,#fec338 90.9px,#f7ba3d 93.1px,#e5bb2c 95.3px,#e5bb2c 97.2px,#c1c32c 98.7px,#96ca49 100.2px,#67cd6c 101.7px,#67cd6c 103.5px,#3fca8e 105.0px,#2ac3a8 106.5px,#07bcbf 108.0px,#07bcbf 109.9px,#0eb2d4 111.3px,#20a5e2 112.8px,#2895ec 114.3px,#2895ec 116.2px,#2c8ef2 120.6px,#2c8ef2 122.5px,#2f82fa 124.7px,#3975fe 126.9px,#3975fe 129.8px,#3975fe 138.6px,#3975fe 142.4px,#406cfe 151.2px,#406cfe 155.0px,#4758f8 163.8px,#4758f8 167.6px,#4464fd 176.5px,#4464fd 180.3px,#3b73fe 184.7px,#2f81fa 189.1px,#2f81fa 192.9px,#2f81fa 201.7px,#2f81fa 205.5px,#406cfe 209.9px,#4758f8 214.4px,#4758f8 218.1px,#4758f8 227.0px,#4758f8 230.8px,#4464fd 239.6px,#4464fd 243.4px,#406cfe 252.2px,#406cfe 256.0px,#3975fe 264.9px,#3975fe 268.7px,#3975fe 277.5px,#3975fe 281.3px,#3975fe 290.1px,#3975fe 293.9px,#2d8af5 302.8px,#2d8af5 306.5px,#259de7 315.4px,#259de7 319.2px,#2c90f0 323.6px,#2f81fa 328.0px,#2f81fa 331.8px,#3975fe 340.6px,#3975fe 344.4px,#2f81fa 353.3px,#2f81fa 357.0px,#3b73fe 361.5px,#4464fd 365.9px,#4464fd 369.7px,#4758f8 378.5px,#4758f8 382.3px,#4758f8 391.1px,#4758f8 394.9px,#4758f8 403.8px,#4758f8 407.6px,#4758f8 416.4px,#4758f8 420.2px,#4758f8 429.0px,#4758f8 432.5px)"></div>
<div style="position:absolute;left:0;top:267.21px;height:17.83px;background:linear-gradient(to right,#4851f4 0.0px,#4851f4 3.5px,#475cfa 12.3px,#475cfa 16.1px,#4464fd 24.9px,#4464fd 28.7px,#406cfe 37.6px,#406cfe 40.4px,#406cfe 44.8px,#406cfe 46.7px,#406cfe 51.1px,#406cfe 53.0px,#3479fd 57.5px,#3479fd 59.4px,#2d8bf4 60.5px,#259be8 61.6px,#1caadf 62.7px,#05b6ce 63.8px,#05b6ce 65.7px,#17bfb6 67.1px,#34c79b 68.6px,#58cc79 70.1px,#58cc79 72.0px,#8acb52 73.5px,#bcc42f 74.9px,#e5bb2c 76.4px,#e5bb2c 78.3px,#f7ba3d 80.5px,#fec338 82.7px,#fec338 84.6px,#f9bb3d 89.0px,#f9bb3d 90.9px,#dabd28 92.4px,#b1c635 93.9px,#81cc58 95.3px,#81cc58 97.2px,#52cc7e 98.3px,#33c69e 99.4px,#16bfb7 100.5px,#05b6ce 101.7px,#05b6ce 103.5px,#1ea7e1 105.0px,#2895ec 106.5px,#2f81fa 108.0px,#2f81fa 109.9px,#406cfe 112.1px,#4758f8 114.3px,#4758f8 116.2px,#4464fd 120.6px,#4464fd 122.5px,#4464fd 126.9px,#4464fd 129.8px,#4464fd 138.6px,#4464fd 142.4px,#4464fd 151.2px,#4464fd 155.0px,#4758f8 163.8px,#4758f8 167.6px,#4758f8 176.5px,#4758f8 180.3px,#4758f8 189.1px,#4758f8 192.9px,#4758f8 201.7px,#4758f8 205.5px,#4758f8 214.4px,#4758f8 218.1px,#4758f8 227.0px,#4758f8 230.8px,#4464fd 239.6px,#4464fd 243.4px,#406cfe 252.2px,#406cfe 256.0px,#3975fe 264.9px,#3975fe 268.7px,#3975fe 277.5px,#3975fe 281.3px,#2f81fa 290.1px,#2f81fa 293.9px,#2895ec 302.8px,#2895ec 306.5px,#1ea7e1 315.4px,#1ea7e1 319.2px,#2895ec 323.6px,#2f81fa 328.0px,#2f81fa 331.8px,#3e70ff 334.7px,#465efb 337.7px,#484ef1 340.6px,#484ef1 344.4px,#465dfa 348.8px,#406cfe 353.3px,#406cfe 357.0px,#4758f8 365.9px,#4758f8 369.7px,#484ef1 378.5px,#484ef1 382.3px,#484ef1 391.1px,#484ef1 394.9px,#4758f8 403.8px,#4758f8 407.6px,#4758f8 416.4px,#4758f8 420.2px,#4758f8 429.0px,#4758f8 432.5px)"></div>
<div style="position:absolute;left:0;top:285.03px;height:17.82px;background:linear-gradient(to right,#4747eb 0.0px,#4747eb 3.5px,#4747eb 12.3px,#4747eb 16.1px,#4747eb 24.9px,#4747eb 28.7px,#4851f4 37.6px,#4851f4 40.4px,#475cfa 44.8px,#475cfa 46.7px,#4758f8 51.1px,#4758f8 53.0px,#4660fc 57.5px,#4660fc 59.4px,#406cfe 61.6px,#3479fd 63.8px,#3479fd 65.7px,#2d8af4 67.1px,#2699e9 68.6px,#1ea7e1 70.1px,#1ea7e1 72.0px,#06b5cf 73.5px,#17bfb6 74.9px,#35c79a 76.4px,#35c79a 78.3px,#53cc7d 79.4px,#7ecc5b 80.5px,#aac73a 81.6px,#d2bf27 82.7px,#d2bf27 84.6px,#d2bf27 89.0px,#d2bf27 90.9px,#acc738 92.4px,#81cc58 93.9px,#58cc79 95.3px,#58cc79 97.2px,#34c79b 98.7px,#17bfb6 100.2px,#05b6ce 101.7px,#05b6ce 103.5px,#1ea7e1 105.8px,#2895ec 108.0px,#2895ec 109.9px,#2e83f9 111.3px,#406dfe 112.8px,#4758f8 114.3px,#4758f8 116.2px,#4758f8 120.6px,#4758f8 122.5px,#4758f8 126.9px,#4758f8 129.8px,#484ef1 138.6px,#484ef1 142.4px,#484ef1 151.2px,#484ef1 155.0px,#484ef1 163.8px,#484ef1 167.6px,#484ef1 176.5px,#484ef1 180.3px,#4758f8 189.1px,#4758f8 192.9px,#4758f8 201.7px,#4758f8 205.5px,#4758f8 214.4px,#4758f8 218.1px,#4758f8 227.0px,#4758f8 230.8px,#4758f8 239.6px,#4758f8 243.4px,#4464fd 252.2px,#4464fd 256.0px,#4464fd 264.9px,#4464fd 268.7px,#4464fd 277.5px,#4464fd 281.3px,#406cfe 290.1px,#406cfe 293.9px,#2f81fa 302.8px,#2f81fa 306.5px,#2c8ef2 315.4px,#2c8ef2 319.2px,#317efb 323.6px,#406cfe 328.0px,#406cfe 331.8px,#4758f8 340.6px,#4758f8 344.4px,#4758f8 353.3px,#4758f8 357.0px,#4758f8 365.9px,#4758f8 369.7px,#484ef1 378.5px,#484ef1 382.3px,#4747eb 391.1px,#4747eb 394.9px,#484ef1 403.8px,#484ef1 407.6px,#4758f8 416.4px,#4758f8 420.2px,#4464fd 429.0px,#4464fd 432.5px)"></div>
<div style="position:absolute;left:0;top:302.84px;height:17.83px;background:linear-gradient(to right,#4464fd 0.0px,#4464fd 3.5px,#406cfe 12.3px,#406cfe 16.1px,#406cfe 24.9px,#406cfe 28.7px,#406cfe 37.6px,#406cfe 40.4px,#406cfe 44.8px,#406cfe 46.7px,#4660fc 51.1px,#4660fc 53.0px,#406cfe 57.5px,#406cfe 59.4px,#2f82f9 61.6px,#2895ec 63.8px,#2895ec 65.7px,#1ea7e1 67.1px,#05b6ce 68.6px,#1ac0b5 70.1px,#1ac0b5 72.0px,#33c79d 72.9px,#50cc7f 73.7px,#7ccc5c 74.6px,#a9c73a 75.5px,#d2bf27 76.4px,#d2bf27 78.3px,#f3ba39 79.8px,#fec834 81.2px,#f6de29 82.7px,#f6de29 84.6px,#f5ed22 86.8px,#f9fb15 89.0px,#f9fb15 90.9px,#f5ed22 93.1px,#f6de29 95.3px,#f6de29 97.2px,#fec834 98.7px,#f3ba39 100.2px,#d2bf27 101.7px,#d2bf27 103.5px,#a9c73a 104.4px,#7ccc5c 105.3px,#50cc7f 106.2px,#33c79d 107.1px,#1ac0b5 108.0px,#1ac0b5 109.9px,#05b6ce 111.3px,#1ea7e1 112.8px,#2895ec 114.3px,#2895ec 116.2px,#2e86f7 118.4px,#3975fe 120.6px,#3975fe 122.5px,#4466fd 124.7px,#4758f8 126.9px,#4758f8 129.8px,#4747eb 138.6px,#4747eb 142.4px,#4758f8 151.2px,#4758f8 155.0px,#4758f8 163.8px,#4758f8 167.6px,#4464fd 176.5px,#4464fd 180.3px,#3975fe 189.1px,#3975fe 192.9px,#3975fe 201.7px,#3975fe 205.5px,#3975fe 214.4px,#3975fe 218.1px,#406cfe 227.0px,#406cfe 230.8px,#406cfe 239.6px,#406cfe 243.4px,#4464fd 252.2px,#4464fd 256.0px,#4464fd 264.9px,#4464fd 268.7px,#406cfe 277.5px,#406cfe 281.3px,#2f81fa 290.1px,#2f81fa 293.9px,#2895ec 302.8px,#2895ec 306.5px,#2895ec 315.4px,#2895ec 319.2px,#2f82f9 323.6px,#406cfe 328.0px,#406cfe 331.8px,#4758f8 340.6px,#4758f8 344.4px,#4758f8 353.3px,#4758f8 357.0px,#4758f8 365.9px,#4758f8 369.7px,#484ef1 378.5px,#484ef1 382.3px,#484ef1 391.1px,#484ef1 394.9px,#4758f8 403.8px,#4758f8 407.6px,#4758f8 416.4px,#4758f8 420.2px,#4758f8 429.0px,#4758f8 432.5px)"></div>
<div style="position:absolute;left:0;top:320.66px;height:17.82px;background:linear-gradient(to right,#4464fd 0.0px,#4464fd 3.5px,#406cfe 12.3px,#406cfe 16.1px,#406cfe 24.9px,#406cfe 28.7px,#4464fd 37.6px,#4464fd 40.4px,#4851f4 44.8px,#4851f4 46.7px,#4743e7 48.9px,#4536d3 51.1px,#4536d3 53.0px,#4747eb 57.5px,#4747eb 59.4px,#4757f7 60.8px,#4368fd 62.3px,#3479fd 63.8px,#3479fd 65.7px,#2d8af4 67.1px,#2699e9 68.6px,#1ea7e1 70.1px,#1ea7e1 72.0px,#06b5cf 73.5px,#17bfb6 74.9px,#35c79a 76.4px,#35c79a 78.3px,#56cc7b 79.2px,#84cb56 80.1px,#b3c534 80.9px,#dbbd29 81.8px,#f9bb3d 82.7px,#f9bb3d 84.6px,#fec834 86.1px,#f8d92c 87.6px,#f5e924 89.0px,#f5e924 90.9px,#f5e128 95.3px,#f5e128 97.2px,#fbd22f 99.4px,#fec338 101.7px,#fec338 103.5px,#e9bb30 104.7px,#c0c32d 105.8px,#8ccb50 106.9px,#58cc79 108.0px,#58cc79 109.9px,#36c899 111.0px,#1fc0b2 112.1px,#01b9c8 113.2px,#18aedb 114.3px,#18aedb 116.2px,#23a0e5 117.6px,#2b92ef 119.1px,#2f81fa 120.6px,#2f81fa 122.5px,#406dfe 124.0px,#475af9 125.4px,#4747eb 126.9px,#4747eb 129.8px,#4759f8 134.2px,#406cfe 138.6px,#406cfe 142.4px,#406cfe 151.2px,#406cfe 155.0px,#4759f8 159.4px,#4747eb 163.8px,#4747eb 167.6px,#4758f8 176.5px,#4758f8 180.3px,#406cfe 184.7px,#2f81fa 189.1px,#2f81fa 192.9px,#2f81fa 201.7px,#2f81fa 205.5px,#3975fe 214.4px,#3975fe 218.1px,#4464fd 227.0px,#4464fd 230.8px,#3975fe 239.6px,#3975fe 243.4px,#406cfe 252.2px,#406cfe 256.0px,#465dfa 260.4px,#484ef1 264.9px,#484ef1 268.7px,#4661fc 273.1px,#3975fe 277.5px,#3975fe 281.3px,#2f81fa 290.1px,#2f81fa 293.9px,#2f81fa 302.8px,#2f81fa 306.5px,#2f81fa 315.4px,#2f81fa 319.2px,#3975fe 328.0px,#3975fe 331.8px,#4466fd 336.2px,#4758f8 340.6px,#4758f8 344.4px,#4758f8 353.3px,#4758f8 357.0px,#4758f8 365.9px,#4758f8 369.7px,#4747eb 378.5px,#4747eb 382.3px,#473fe3 391.1px,#473fe3 394.9px,#484cef 399.4px,#4758f8 403.8px,#4758f8 407.6px,#4758f8 416.4px,#4758f8 420.2px,#4758f8 429.0px,#4758f8 432.5px)"></div>
<div style="position:absolute;left:0;top:338.47px;height:17.83px;background:linear-gradient(to right,#4464fd 0.0px,#4464fd 3.5px,#4851f4 12.3px,#4851f4 16.1px,#475cfa 24.9px,#475cfa 28.7px,#4464fd 37.6px,#4464fd 40.4px,#475cfa 44.8px,#475cfa 46.7px,#4851f4 48.9px,#4747eb 51.1px,#4747eb 53.0px,#4747eb 57.5px,#4747eb 59.4px,#4758f8 63.8px,#4758f8 65.7px,#406dfe 67.1px,#2e83f9 68.6px,#2895ec 70.1px,#2895ec 72.0px,#1ea7e1 73.5px,#05b6ce 74.9px,#1ac0b5 76.4px,#1ac0b5 78.3px,#33c79c 79.4px,#52cc7e 80.5px,#7ecc5b 81.6px,#acc738 82.7px,#acc738 84.6px,#d8be28 86.1px,#f9bb3d 87.6px,#fdce31 89.0px,#fdce31 90.9px,#fad62d 95.3px,#fad62d 97.2px,#fec735 99.4px,#f9bb3d 101.7px,#f9bb3d 103.5px,#dbbd29 104.7px,#b4c534 105.8px,#86cb55 106.9px,#58cc79 108.0px,#58cc79 109.9px,#36c899 111.0px,#1fc0b2 112.1px,#01b9c8 113.2px,#18aedb 114.3px,#18aedb 116.2px,#23a0e5 117.3px,#2b90ef 118.4px,#3080fb 119.5px,#406cfe 120.6px,#406cfe 122.5px,#465dfa 124.0px,#484ef1 125.4px,#473fe3 126.9px,#473fe3 129.8px,#484cef 134.2px,#4758f8 138.6px,#4758f8 142.4px,#4466fd 146.8px,#3975fe 151.2px,#3975fe 155.0px,#4465fd 158.0px,#4756f6 160.9px,#4747eb 163.8px,#4747eb 167.6px,#484ef1 176.5px,#484ef1 180.3px,#4661fc 184.7px,#3975fe 189.1px,#3975fe 192.9px,#2f81fa 201.7px,#2f81fa 205.5px,#406cfe 214.4px,#406cfe 218.1px,#465dfa 222.6px,#484ef1 227.0px,#484ef1 230.8px,#4758f8 239.6px,#4758f8 243.4px,#4758f8 252.2px,#4758f8 256.0px,#484ef1 264.9px,#484ef1 268.7px,#4661fc 273.1px,#3975fe 277.5px,#3975fe 281.3px,#406cfe 290.1px,#406cfe 293.9px,#4464fd 302.8px,#4464fd 306.5px,#3975fe 315.4px,#3975fe 319.2px,#2f81fa 328.0px,#2f81fa 331.8px,#2f81fa 340.6px,#2f81fa 344.4px,#2f81fa 353.3px,#2f81fa 357.0px,#406cfe 365.9px,#406cfe 369.7px,#465dfa 374.1px,#484ef1 378.5px,#484ef1 382.3px,#4747eb 391.1px,#4747eb 394.9px,#484ef1 403.8px,#484ef1 407.6px,#484ef1 416.4px,#484ef1 420.2px,#484ef1 429.0px,#484ef1 432.5px)"></div>
<div style="position:absolute;left:0;top:356.29px;height:17.82px;background:linear-gradient(to right,#4851f4 0.0px,#4851f4 3.5px,#4747eb 12.3px,#4747eb 16.1px,#4747eb 24.9px,#4747eb 28.7px,#4851f4 33.1px,#475cfa 37.6px,#475cfa 40.4px,#406cfe 44.8px,#406cfe 46.7px,#4660fc 51.1px,#4660fc 53.0px,#4758f8 57.5px,#4758f8 59.4px,#4744e9 61.6px,#4433cb 63.8px,#4433cb 65.7px,#4744e8 67.1px,#4758f8 68.6px,#406cfe 70.1px,#406cfe 72.0px,#2e83f9 73.1px,#2796eb 74.2px,#1ea8e1 75.3px,#05b6ce 76.4px,#05b6ce 78.3px,#16bfb7 79.4px,#33c69e 80.5px,#52cc7e 81.6px,#81cc58 82.7px,#81cc58 84.6px,#acc738 85.7px,#d2bf27 86.8px,#f0ba36 87.9px,#fec338 89.0px,#fec338 90.9px,#fad62d 95.3px,#fad62d 97.2px,#fec338 101.7px,#fec338 103.5px,#ecba32 104.7px,#c7c12a 105.8px,#99c946 106.9px,#67cd6c 108.0px,#67cd6c 109.9px,#3dc991 111.0px,#25c2ad 112.1px,#01b9c6 113.2px,#18aedb 114.3px,#18aedb 116.2px,#249de7 117.6px,#2d8af4 119.1px,#3975fe 120.6px,#3975fe 122.5px,#4661fc 124.7px,#484ef1 126.9px,#484ef1 129.8px,#484ef1 138.6px,#484ef1 142.4px,#4758f8 151.2px,#4758f8 155.0px,#4747eb 163.8px,#4747eb 167.6px,#484ef1 176.5px,#484ef1 180.3px,#4758f8 189.1px,#4758f8 192.9px,#4758f8 201.7px,#4758f8 205.5px,#4466fd 209.9px,#3975fe 214.4px,#3975fe 218.1px,#4661fc 222.6px,#484ef1 227.0px,#484ef1 230.8px,#4758f8 239.6px,#4758f8 243.4px,#4464fd 252.2px,#4464fd 256.0px,#406cfe 264.9px,#406cfe 268.7px,#406cfe 277.5px,#406cfe 281.3px,#4464fd 290.1px,#4464fd 293.9px,#4852f4 298.3px,#473fe3 302.8px,#473fe3 306.5px,#484ef1 309.5px,#465dfa 312.4px,#406cfe 315.4px,#406cfe 319.2px,#3975fe 328.0px,#3975fe 331.8px,#3975fe 340.6px,#3975fe 344.4px,#406cfe 353.3px,#406cfe 357.0px,#4464fd 365.9px,#4464fd 369.7px,#4758f8 378.5px,#4758f8 382.3px,#484ef1 391.1px,#484ef1 394.9px,#484ef1 403.8px,#484ef1 407.6px,#484ef1 416.4px,#484ef1 420.2px,#4747eb 429.0px,#4747eb 432.5px)"></div>
</div>
<div class="box" style="left:1263.7px;top:30.5px;width:433.5px;height:375.1px"></div>
<div class="tk" style="left:1318.95px;top:401.1px;width:1px;height:4px"></div>
<div class="tk" style="left:1318.95px;top:31px;width:1px;height:4px"></div>
<div class="t tx" style="font-size:14.55px;left:1319.45px;top:414.4px">60</div>
<div class="tk" style="left:1382.09px;top:401.1px;width:1px;height:4px"></div>
<div class="tk" style="left:1382.09px;top:31px;width:1px;height:4px"></div>
<div class="t tx" style="font-size:14.55px;left:1382.59px;top:414.4px">80</div>
<div class="tk" style="left:1445.22px;top:401.1px;width:1px;height:4px"></div>
<div class="tk" style="left:1445.22px;top:31px;width:1px;height:4px"></div>
<div class="t tx" style="font-size:14.55px;left:1445.72px;top:414.4px">100</div>
<div class="tk" style="left:1508.36px;top:401.1px;width:1px;height:4px"></div>
<div class="tk" style="left:1508.36px;top:31px;width:1px;height:4px"></div>
<div class="t tx" style="font-size:14.55px;left:1508.86px;top:414.4px">120</div>
<div class="tk" style="left:1571.5px;top:401.1px;width:1px;height:4px"></div>
<div class="tk" style="left:1571.5px;top:31px;width:1px;height:4px"></div>
<div class="t tx" style="font-size:14.55px;left:1572px;top:414.4px">140</div>
<div class="tk" style="left:1634.64px;top:401.1px;width:1px;height:4px"></div>
<div class="tk" style="left:1634.64px;top:31px;width:1px;height:4px"></div>
<div class="t tx" style="font-size:14.55px;left:1635.14px;top:414.4px">160</div>
<div class="tk" style="left:1264.2px;top:57.22px;width:4px;height:1px"></div>
<div class="tk" style="left:1692.7px;top:57.22px;width:4px;height:1px"></div>
<div class="t ty" style="font-size:14.55px;left:1257.2px;top:58.42px">2</div>
<div class="tk" style="left:1264.2px;top:92.85px;width:4px;height:1px"></div>
<div class="tk" style="left:1692.7px;top:92.85px;width:4px;height:1px"></div>
<div class="t ty" style="font-size:14.55px;left:1257.2px;top:94.05px">4</div>
<div class="tk" style="left:1264.2px;top:128.48px;width:4px;height:1px"></div>
<div class="tk" style="left:1692.7px;top:128.48px;width:4px;height:1px"></div>
<div class="t ty" style="font-size:14.55px;left:1257.2px;top:129.68px">6</div>
<div class="tk" style="left:1264.2px;top:164.11px;width:4px;height:1px"></div>
<div class="tk" style="left:1692.7px;top:164.11px;width:4px;height:1px"></div>
<div class="t ty" style="font-size:14.55px;left:1257.2px;top:165.31px">8</div>
<div class="tk" style="left:1264.2px;top:199.74px;width:4px;height:1px"></div>
<div class="tk" style="left:1692.7px;top:199.74px;width:4px;height:1px"></div>
<div class="t ty" style="font-size:14.55px;left:1257.2px;top:200.94px">10</div>
<div class="tk" style="left:1264.2px;top:235.36px;width:4px;height:1px"></div>
<div class="tk" style="left:1692.7px;top:235.36px;width:4px;height:1px"></div>
<div class="t ty" style="font-size:14.55px;left:1257.2px;top:236.56px">12</div>
<div class="tk" style="left:1264.2px;top:270.99px;width:4px;height:1px"></div>
<div class="tk" style="left:1692.7px;top:270.99px;width:4px;height:1px"></div>
<div class="t ty" style="font-size:14.55px;left:1257.2px;top:272.19px">14</div>
<div class="tk" style="left:1264.2px;top:306.62px;width:4px;height:1px"></div>
<div class="tk" style="left:1692.7px;top:306.62px;width:4px;height:1px"></div>
<div class="t ty" style="font-size:14.55px;left:1257.2px;top:307.82px">16</div>
<div class="tk" style="left:1264.2px;top:342.25px;width:4px;height:1px"></div>
<div class="tk" style="left:1692.7px;top:342.25px;width:4px;height:1px"></div>
<div class="t ty" style="font-size:14.55px;left:1257.2px;top:343.45px">18</div>
<div class="tk" style="left:1264.2px;top:377.88px;width:4px;height:1px"></div>
<div class="tk" style="left:1692.7px;top:377.88px;width:4px;height:1px"></div>
<div class="t ty" style="font-size:14.55px;left:1257.2px;top:379.08px">20</div>
<div class="ab" style="left:1708.7px;top:31px;width:23px;height:374.1px;background:linear-gradient(to bottom,#f9fb15 0.0%,#f6ef20 3.1%,#f5e327 6.2%,#f9d62d 9.4%,#feca33 12.5%,#febe3c 15.6%,#f1ba37 18.8%,#debc2a 21.9%,#c8c129 25.0%,#afc637 28.1%,#94ca4a 31.2%,#77cc60 34.4%,#5ccc76 37.5%,#44ca8a 40.6%,#34c79c 43.8%,#28c2ab 46.9%,#12beb9 50.0%,#01b9c6 53.1%,#0cb3d3 56.2%,#1aacdd 59.4%,#21a3e3 62.5%,#269ae9 65.6%,#2c90f0 68.8%,#2e85f8 71.9%,#347afd 75.0%,#3f6efe 78.1%,#4562fc 81.2%,#4757f7 84.4%,#484cef 87.5%,#4741e5 90.6%,#4536d5 93.8%,#422ebf 96.9%,#3e26a8 100.0%)"></div>
<div class="box" style="left:1708.2px;top:30.5px;width:24px;height:375.1px"></div>
<div class="tk" style="left:1728.7px;top:34px;width:3px;height:1px"></div>
<div class="t tc" style="font-size:14.55px;left:1737.2px;top:35.3px">0.06</div>
<div class="tk" style="left:1728.7px;top:84.4px;width:3px;height:1px"></div>
<div class="t tc" style="font-size:14.55px;left:1737.2px;top:85.7px">0.05</div>
<div class="tk" style="left:1728.7px;top:134.8px;width:3px;height:1px"></div>
<div class="t tc" style="font-size:14.55px;left:1737.2px;top:136.1px">0.04</div>
<div class="tk" style="left:1728.7px;top:185.2px;width:3px;height:1px"></div>
<div class="t tc" style="font-size:14.55px;left:1737.2px;top:186.5px">0.03</div>
<div class="tk" style="left:1728.7px;top:235.6px;width:3px;height:1px"></div>
<div class="t tc" style="font-size:14.55px;left:1737.2px;top:236.9px">0.02</div>
<div class="tk" style="left:1728.7px;top:286px;width:3px;height:1px"></div>
<div class="t tc" style="font-size:14.55px;left:1737.2px;top:287.3px">0.01</div>
<div class="tk" style="left:1728.7px;top:336.4px;width:3px;height:1px"></div>
<div class="t tc" style="font-size:14.55px;left:1737.2px;top:337.7px">0</div>
<div class="tk" style="left:1728.7px;top:386.8px;width:3px;height:1px"></div>
<div class="t tc" style="font-size:14.55px;left:1737.2px;top:388.1px">-0.01</div>
<div class="t ti" style="font-size:16.17px;left:1480.45px;top:11.9px">Subtraction</div>
<div class="t xl" style="font-size:27.28px;left:1480.45px;top:432px">Heart Rate [bpm]</div>
<div class="t yl" style="font-size:27.28px;left:1206.2px;top:218.55px">Time Step <i>T</i></div>
<div class="t pl" style="left:1488px;top:473.6px">(c)</div>
<div class="hm" style="left:59.8px;top:542.5px;width:428.2px;height:370.7px">
<div style="position:absolute;left:0;top:0px;height:18.55px;background:linear-gradient(to right,#4433cb 0.0px,#4433cb 6.5px,#463cde 10.9px,#4747eb 15.2px,#4747eb 18.9px,#475af9 20.7px,#3e6fff 22.4px,#2e84f8 24.1px,#2797eb 25.9px,#1ea7e1 27.6px,#1ea7e1 31.3px,#0cb3d3 35.7px,#07bcbf 40.0px,#07bcbf 43.8px,#05b6ce 48.1px,#18aedb 52.4px,#18aedb 56.2px,#23a0e5 64.9px,#23a0e5 68.6px,#2b91ef 70.0px,#307ffb 71.5px,#416cfe 72.9px,#4759f8 74.4px,#4747eb 75.8px,#4536d3 77.3px,#4536d3 81.0px,#4746ea 82.7px,#4758f8 84.5px,#426afe 86.2px,#317dfc 87.9px,#2c8ef2 89.7px,#2c8ef2 93.4px,#2895ec 102.1px,#2895ec 105.8px,#2c8ef2 114.5px,#2c8ef2 118.2px,#317dfc 120.0px,#426afe 121.7px,#4758f8 123.4px,#4746ea 125.2px,#4536d3 126.9px,#4536d3 130.6px,#4747eb 132.1px,#4759f8 133.5px,#416cfe 135.0px,#307ffb 136.4px,#2b91ef 137.9px,#23a0e5 139.3px,#23a0e5 143.0px,#1ea7e1 151.7px,#1ea7e1 155.5px,#18aedb 164.1px,#18aedb 167.9px,#01b8c9 172.2px,#1ac0b5 176.6px,#1ac0b5 180.3px,#34c79c 183.2px,#54cc7d 186.1px,#81cc58 189.0px,#81cc58 192.7px,#9fc941 197.0px,#bcc42f 201.4px,#bcc42f 205.1px,#9bc944 213.8px,#9bc944 217.5px,#70cd65 219.7px,#4acb84 221.9px,#32c69f 224.0px,#1ac0b5 226.2px,#1ac0b5 229.9px,#01b8c9 234.3px,#18aedb 238.6px,#18aedb 242.3px,#18aedb 251.0px,#18aedb 254.7px,#05b6ce 259.1px,#07bcbf 263.4px,#07bcbf 267.2px,#27c2ab 270.1px,#39c895 273.0px,#58cc79 275.8px,#58cc79 279.6px,#86cb55 281.7px,#b4c534 283.9px,#dbbd29 286.1px,#f9bb3d 288.3px,#f9bb3d 292.0px,#e8bb2e 296.3px,#d2bf27 300.7px,#d2bf27 304.4px,#a9c73a 306.1px,#7ccc5c 307.9px,#50cc7f 309.6px,#33c79d 311.3px,#1ac0b5 313.1px,#1ac0b5 316.8px,#05b6ce 319.0px,#1ea7e1 321.1px,#2895ec 323.3px,#2f81fa 325.5px,#2f81fa 329.2px,#3f6dfe 331.4px,#475af9 333.6px,#4747ec 335.7px,#4536d3 337.9px,#4536d3 341.6px,#4747eb 344.5px,#475af9 347.4px,#406cfe 350.3px,#406cfe 354.0px,#317efb 358.4px,#2c8ef2 362.7px,#2c8ef2 366.5px,#23a0e5 375.1px,#23a0e5 378.9px,#19acdc 383.2px,#05b6ce 387.6px,#05b6ce 391.3px,#16bfb7 393.4px,#33c69e 395.6px,#52cc7e 397.8px,#81cc58 400.0px,#81cc58 403.7px,#55cc7c 408.0px,#35c79a 412.4px,#35c79a 416.1px,#17bfb6 419.0px,#06b5cf 421.9px,#1ea7e1 424.8px,#1ea7e1 428.2px)"></div>
<div style="position:absolute;left:0;top:18.54px;height:18.54px;background:linear-gradient(to right,#4747eb 0.0px,#4747eb 6.5px,#4747eb 15.2px,#4747eb 18.9px,#4759f8 20.4px,#416bfe 21.8px,#307ffb 23.3px,#2c90f0 24.7px,#23a0e5 26.2px,#18aedb 27.6px,#18aedb 31.3px,#01b8c9 35.7px,#1ac0b5 40.0px,#1ac0b5 43.8px,#05b6ce 48.1px,#1ea7e1 52.4px,#1ea7e1 56.2px,#259be8 60.5px,#2c8ef2 64.9px,#2c8ef2 68.6px,#347afd 70.7px,#4464fd 72.9px,#4850f3 75.1px,#463cde 77.3px,#463cde 81.0px,#4850f3 82.7px,#4465fd 84.5px,#337bfd 86.2px,#2c8ff1 87.9px,#23a0e5 89.7px,#23a0e5 93.4px,#23a0e5 102.1px,#23a0e5 105.8px,#23a0e5 114.5px,#23a0e5 118.2px,#2b91ef 121.1px,#3080fb 124.0px,#406cfe 126.9px,#406cfe 130.6px,#317efb 135.0px,#2c8ef2 139.3px,#2c8ef2 143.0px,#23a0e5 151.7px,#23a0e5 155.5px,#1ea7e1 164.1px,#1ea7e1 167.9px,#18aedb 176.6px,#18aedb 180.3px,#01b8c8 183.2px,#1dc0b3 186.1px,#35c79a 189.0px,#35c79a 192.7px,#58cc79 201.4px,#58cc79 205.1px,#35c79a 209.4px,#1ac0b5 213.8px,#1ac0b5 217.5px,#28c3ab 226.2px,#28c3ab 229.9px,#28c3ab 238.6px,#28c3ab 242.3px,#1ac0b5 251.0px,#1ac0b5 254.7px,#31c6a0 259.1px,#46cb87 263.4px,#46cb87 267.2px,#6ecd67 269.3px,#9ac945 271.5px,#c3c22b 273.7px,#e5bb2c 275.8px,#e5bb2c 279.6px,#f9bb3d 288.3px,#f9bb3d 292.0px,#dbbd29 294.2px,#b4c534 296.3px,#86cb55 298.5px,#58cc79 300.7px,#58cc79 304.4px,#36c899 306.6px,#1fc0b2 308.7px,#01b9c8 310.9px,#18aedb 313.1px,#18aedb 316.8px,#23a0e5 319.0px,#2b90ef 321.1px,#3080fb 323.3px,#406cfe 325.5px,#406cfe 329.2px,#475cfa 332.1px,#484cef 335.0px,#463cde 337.9px,#463cde 341.6px,#4850f2 344.5px,#4564fd 347.4px,#3479fd 350.3px,#3479fd 354.0px,#2c8ef2 362.7px,#2c8ef2 366.5px,#2f81fa 375.1px,#2f81fa 378.9px,#2895ec 380.6px,#1ea7e1 382.3px,#07b5cf 384.1px,#17bfb6 385.8px,#35c79a 387.6px,#35c79a 391.3px,#49cb85 395.6px,#67cd6c 400.0px,#67cd6c 403.7px,#49cb85 408.0px,#35c79a 412.4px,#35c79a 416.1px,#17bfb6 419.0px,#06b5cf 421.9px,#1ea7e1 424.8px,#1ea7e1 428.2px)"></div>
<div style="position:absolute;left:0;top:37.07px;height:18.55px;background:linear-gradient(to right,#4758f8 0.0px,#4758f8 6.5px,#406cfe 15.2px,#406cfe 18.9px,#2e83f9 21.8px,#2896eb 24.7px,#1ea7e1 27.6px,#1ea7e1 31.3px,#18aedb 40.0px,#18aedb 43.8px,#23a0e5 52.4px,#23a0e5 56.2px,#2b90ef 58.3px,#307ffb 60.5px,#416bfe 62.7px,#4758f8 64.9px,#4758f8 68.6px,#4660fc 77.3px,#4660fc 81.0px,#3e70ff 83.9px,#307ffb 86.8px,#2c8ef2 89.7px,#2c8ef2 93.4px,#23a0e5 102.1px,#23a0e5 105.8px,#2895ec 114.5px,#2895ec 118.2px,#2f81fa 126.9px,#2f81fa 130.6px,#2c8ef2 139.3px,#2c8ef2 143.0px,#2f81fa 151.7px,#2f81fa 155.5px,#3479fd 164.1px,#3479fd 167.9px,#2d88f6 172.2px,#2895ec 176.6px,#2895ec 180.3px,#1ea7e1 189.0px,#1ea7e1 192.7px,#18aedb 201.4px,#18aedb 205.1px,#23a0e5 207.3px,#2b90ef 209.4px,#3080fb 211.6px,#406cfe 213.8px,#406cfe 217.5px,#2e83f9 220.4px,#2896eb 223.3px,#1ea7e1 226.2px,#1ea7e1 229.9px,#06b5cf 232.8px,#17bfb6 235.7px,#35c79a 238.6px,#35c79a 242.3px,#1ac0b5 251.0px,#1ac0b5 254.7px,#35c79a 263.4px,#35c79a 267.2px,#54cc7d 270.1px,#7fcc5a 273.0px,#acc738 275.8px,#acc738 279.6px,#bcc42f 288.3px,#bcc42f 292.0px,#8dcb4f 293.4px,#5ecc74 294.9px,#38c896 296.3px,#22c1b0 297.8px,#01b9c7 299.2px,#18aedb 300.7px,#18aedb 304.4px,#23a0e5 313.1px,#23a0e5 316.8px,#2c8ef2 325.5px,#2c8ef2 329.2px,#2f81fa 337.9px,#2f81fa 341.6px,#2c8ef2 350.3px,#2c8ef2 354.0px,#2f81fa 362.7px,#2f81fa 366.5px,#3f6dfe 368.6px,#475af9 370.8px,#4747ec 373.0px,#4536d3 375.1px,#4536d3 378.9px,#484aee 380.3px,#465ffb 381.8px,#3975fe 383.2px,#2d8af4 384.7px,#249de7 386.1px,#18aedb 387.6px,#18aedb 391.3px,#01b8c8 394.2px,#1dc0b3 397.1px,#35c79a 400.0px,#35c79a 403.7px,#35c79a 412.4px,#35c79a 416.1px,#1cc0b4 417.5px,#01b7ca 419.0px,#1aacdd 420.4px,#259de7 421.9px,#2d8cf3 423.3px,#3479fd 424.8px,#3479fd 428.2px)"></div>
<div style="position:absolute;left:0;top:55.61px;height:18.54px;background:linear-gradient(to right,#4758f8 0.0px,#4758f8 6.5px,#406cfe 15.2px,#406cfe 18.9px,#3080fb 21.8px,#2b91ef 24.7px,#23a0e5 27.6px,#23a0e5 31.3px,#18aedb 40.0px,#18aedb 43.8px,#249fe6 48.1px,#2c8ef2 52.4px,#2c8ef2 56.2px,#317dfc 57.9px,#426afe 59.6px,#4758f8 61.4px,#4746ea 63.1px,#4536d3 64.9px,#4536d3 68.6px,#4746ea 70.3px,#4758f8 72.0px,#426afe 73.8px,#317dfc 75.5px,#2c8ef2 77.3px,#2c8ef2 81.0px,#23a0e5 89.7px,#23a0e5 93.4px,#23a0e5 102.1px,#23a0e5 105.8px,#23a0e5 114.5px,#23a0e5 118.2px,#2c8ef2 126.9px,#2c8ef2 130.6px,#3479fd 139.3px,#3479fd 143.0px,#4367fd 145.2px,#4756f7 147.4px,#4745ea 149.6px,#4536d3 151.7px,#4536d3 155.5px,#4743e7 158.4px,#4852f4 161.2px,#4660fc 164.1px,#4660fc 167.9px,#406cfe 176.6px,#406cfe 180.3px,#4660fc 189.0px,#4660fc 192.7px,#4758f8 201.4px,#4758f8 205.1px,#4744e9 209.4px,#4433cb 213.8px,#4433cb 217.5px,#4744e8 218.6px,#4757f8 219.7px,#416bfe 220.8px,#2f80fa 221.9px,#2a93ee 222.9px,#21a3e3 224.0px,#10b2d5 225.1px,#07bcbf 226.2px,#07bcbf 229.9px,#27c2ab 232.8px,#39c895 235.7px,#58cc79 238.6px,#58cc79 242.3px,#39c895 245.2px,#27c2ab 248.1px,#07bcbf 251.0px,#07bcbf 254.7px,#05b6ce 259.1px,#18aedb 263.4px,#18aedb 267.2px,#01b8c9 271.5px,#1ac0b5 275.8px,#1ac0b5 279.6px,#35c79a 288.3px,#35c79a 292.0px,#19bfb5 293.1px,#05b6cd 294.2px,#1da8e0 295.2px,#2798ea 296.3px,#2e85f8 297.4px,#3e70ff 298.5px,#475bf9 299.6px,#4747eb 300.7px,#4747eb 304.4px,#475af9 307.3px,#406dfe 310.2px,#2f81fa 313.1px,#2f81fa 316.8px,#2895ec 319.7px,#1ea7e1 322.6px,#05b6ce 325.5px,#05b6ce 329.2px,#05b6ce 337.9px,#05b6ce 341.6px,#18aedb 350.3px,#18aedb 354.0px,#22a2e4 358.4px,#2895ec 362.7px,#2895ec 366.5px,#2f82f9 370.8px,#406cfe 375.1px,#406cfe 378.9px,#3080fb 381.8px,#2b91ef 384.7px,#23a0e5 387.6px,#23a0e5 391.3px,#18aedb 400.0px,#18aedb 403.7px,#18aedb 412.4px,#18aedb 416.1px,#249ee6 419.0px,#2d8df2 421.9px,#3479fd 424.8px,#3479fd 428.2px)"></div>
<div style="position:absolute;left:0;top:74.14px;height:18.55px;background:linear-gradient(to right,#4758f8 0.0px,#4758f8 6.5px,#4851f4 15.2px,#4851f4 18.9px,#4465fd 21.8px,#337afd 24.7px,#2c8ef2 27.6px,#2c8ef2 31.3px,#259be8 35.7px,#1ea7e1 40.0px,#1ea7e1 43.8px,#23a0e5 52.4px,#23a0e5 56.2px,#2b90ef 58.3px,#307ffb 60.5px,#416bfe 62.7px,#4758f8 64.9px,#4758f8 68.6px,#406cfe 77.3px,#406cfe 81.0px,#2e83f9 83.9px,#2896eb 86.8px,#1ea7e1 89.7px,#1ea7e1 93.4px,#05b6ce 102.1px,#05b6ce 105.8px,#19acdc 110.2px,#23a0e5 114.5px,#23a0e5 118.2px,#2b90ef 120.4px,#307ffb 122.6px,#416bfe 124.7px,#4758f8 126.9px,#4758f8 130.6px,#4758f8 139.3px,#4758f8 143.0px,#4758f8 151.7px,#4758f8 155.5px,#4747eb 164.1px,#4747eb 167.9px,#4747eb 176.6px,#4747eb 180.3px,#463cde 184.6px,#4433cb 189.0px,#4433cb 192.7px,#4744e8 194.9px,#4758f8 197.0px,#406cfe 199.2px,#2f81fa 201.4px,#2f81fa 205.1px,#2b92ef 208.0px,#23a0e5 210.9px,#18aedb 213.8px,#18aedb 217.5px,#05b6ce 221.9px,#07bcbf 226.2px,#07bcbf 229.9px,#25c2ae 234.3px,#35c79a 238.6px,#35c79a 242.3px,#17bfb6 243.8px,#06b5cf 245.2px,#1ea7e1 246.7px,#2896eb 248.1px,#2e83f9 249.6px,#406cfe 251.0px,#406cfe 254.7px,#3479fd 263.4px,#3479fd 267.2px,#2c8ef2 275.8px,#2c8ef2 279.6px,#259be8 283.9px,#1ea7e1 288.3px,#1ea7e1 292.0px,#259be8 296.3px,#2c8ef2 300.7px,#2c8ef2 304.4px,#2f81fa 313.1px,#2f81fa 316.8px,#2994ed 319.0px,#20a4e3 321.1px,#0fb2d5 323.3px,#07bcbf 325.5px,#07bcbf 329.2px,#07bcbf 337.9px,#07bcbf 341.6px,#13b1d7 344.5px,#23a0e5 347.4px,#2c8ef2 350.3px,#2c8ef2 354.0px,#2f81fa 362.7px,#2f81fa 366.5px,#2f81fa 375.1px,#2f81fa 378.9px,#2f81fa 387.6px,#2f81fa 391.3px,#2f81fa 400.0px,#2f81fa 403.7px,#2c8ef2 412.4px,#2c8ef2 416.1px,#307ffb 419.0px,#3e70ff 421.9px,#4660fc 424.8px,#4660fc 428.2px)"></div>
<div style="position:absolute;left:0;top:92.68px;height:18.54px;background:linear-gradient(to right,#406cfe 0.0px,#406cfe 6.5px,#475cfa 9.4px,#484cef 12.3px,#463cde 15.2px,#463cde 18.9px,#4850f3 21.1px,#4464fd 23.3px,#347afd 25.4px,#2c8ef2 27.6px,#2c8ef2 31.3px,#259be8 35.7px,#1ea7e1 40.0px,#1ea7e1 43.8px,#1ea7e1 52.4px,#1ea7e1 56.2px,#259be8 60.5px,#2c8ef2 64.9px,#2c8ef2 68.6px,#327cfc 70.3px,#4368fe 72.0px,#4755f6 73.8px,#4743e7 75.5px,#4433cb 77.3px,#4433cb 81.0px,#4745e9 82.4px,#4759f8 83.9px,#3f6eff 85.3px,#2e84f9 86.8px,#2796eb 88.2px,#1ea7e1 89.7px,#1ea7e1 93.4px,#06b5cf 96.3px,#17bfb6 99.2px,#35c79a 102.1px,#35c79a 105.8px,#17bfb6 107.5px,#07b5cf 109.3px,#1ea7e1 111.0px,#2895ec 112.8px,#2f81fa 114.5px,#2f81fa 118.2px,#3f6dfe 120.4px,#475af9 122.6px,#4747ec 124.7px,#4536d3 126.9px,#4536d3 130.6px,#4746ea 132.4px,#4758f8 134.1px,#426afe 135.8px,#317dfc 137.6px,#2c8ef2 139.3px,#2c8ef2 143.0px,#2c8ef2 151.7px,#2c8ef2 155.5px,#337afd 158.4px,#4465fd 161.2px,#4851f4 164.1px,#4851f4 167.9px,#4747eb 176.6px,#4747eb 180.3px,#4758f8 189.0px,#4758f8 192.7px,#4758f8 201.4px,#4758f8 205.1px,#416bfe 206.8px,#307efb 208.6px,#2c90f0 210.3px,#239fe5 212.1px,#18aedb 213.8px,#18aedb 217.5px,#01b8c8 219.0px,#1dc0b3 220.4px,#35c79b 221.9px,#53cc7d 223.3px,#7fcc5a 224.8px,#acc738 226.2px,#acc738 229.9px,#7ecc5b 232.1px,#52cc7e 234.3px,#33c79c 236.4px,#1ac0b5 238.6px,#1ac0b5 242.3px,#05b6cd 243.8px,#1da8e0 245.2px,#2797eb 246.7px,#2e84f9 248.1px,#3f6efe 249.6px,#4758f8 251.0px,#4758f8 254.7px,#4368fe 259.1px,#3479fd 263.4px,#3479fd 267.2px,#4564fd 270.1px,#4850f2 273.0px,#463cde 275.8px,#463cde 279.6px,#4850f3 281.3px,#4465fd 283.0px,#337bfd 284.8px,#2c8ff1 286.5px,#23a0e5 288.3px,#23a0e5 292.0px,#1ea7e1 300.7px,#1ea7e1 304.4px,#1ea7e1 313.1px,#1ea7e1 316.8px,#18aedb 325.5px,#18aedb 329.2px,#18aedb 337.9px,#18aedb 341.6px,#249fe6 346.0px,#2c8ef2 350.3px,#2c8ef2 354.0px,#317efb 358.4px,#406cfe 362.7px,#406cfe 366.5px,#4660fc 375.1px,#4660fc 378.9px,#4660fc 387.6px,#4660fc 391.3px,#4660fc 400.0px,#4660fc 403.7px,#4660fc 412.4px,#4660fc 416.1px,#4660fc 424.8px,#4660fc 428.2px)"></div>
<div style="position:absolute;left:0;top:111.21px;height:18.55px;background:linear-gradient(to right,#4747eb 0.0px,#4747eb 6.5px,#4759f8 10.9px,#406cfe 15.2px,#406cfe 18.9px,#317efb 23.3px,#2c8ef2 27.6px,#2c8ef2 31.3px,#249ee6 33.5px,#19acdc 35.7px,#01b7ca 37.9px,#1ac0b5 40.0px,#1ac0b5 43.8px,#07bcbf 52.4px,#07bcbf 56.2px,#0fb2d5 58.3px,#20a4e3 60.5px,#2994ed 62.7px,#2f81fa 64.9px,#2f81fa 68.6px,#406cfe 77.3px,#406cfe 81.0px,#2e83f9 82.7px,#2796eb 84.5px,#1da8e0 86.2px,#05b6ce 87.9px,#1ac0b5 89.7px,#1ac0b5 93.4px,#34c79c 96.3px,#54cc7d 99.2px,#81cc58 102.1px,#81cc58 105.8px,#55cc7c 107.5px,#35c79a 109.3px,#1ec0b2 111.0px,#01b8c8 112.8px,#18aedb 114.5px,#18aedb 118.2px,#23a0e5 126.9px,#23a0e5 130.6px,#23a0e5 139.3px,#23a0e5 143.0px,#2895ec 151.7px,#2895ec 155.5px,#2f82f9 159.8px,#406cfe 164.1px,#406cfe 167.9px,#406cfe 176.6px,#406cfe 180.3px,#406cfe 189.0px,#406cfe 192.7px,#3479fd 201.4px,#3479fd 205.1px,#2d8df2 206.1px,#249fe5 207.0px,#15afd9 208.0px,#02bbc3 209.0px,#29c3aa 209.9px,#42ca8c 210.9px,#6fcd66 211.9px,#a4c83e 212.8px,#d2bf27 213.8px,#d2bf27 217.5px,#f0ba36 220.4px,#fec338 223.3px,#fad62d 226.2px,#fad62d 229.9px,#fec338 232.8px,#f0ba36 235.7px,#d2bf27 238.6px,#d2bf27 242.3px,#a4c83e 243.6px,#70cd65 244.8px,#43ca8b 246.1px,#2ac3a9 247.3px,#04bbc2 248.5px,#14b0d8 249.8px,#23a0e5 251.0px,#23a0e5 254.7px,#2895ec 263.4px,#2895ec 267.2px,#1ea7e1 275.8px,#1ea7e1 279.6px,#18aedb 288.3px,#18aedb 292.0px,#05b6ce 300.7px,#05b6ce 304.4px,#05b6ce 313.1px,#05b6ce 316.8px,#18aedb 325.5px,#18aedb 329.2px,#18aedb 337.9px,#18aedb 341.6px,#239fe5 343.4px,#2c90f0 345.1px,#307efb 346.8px,#416bfe 348.6px,#4758f8 350.3px,#4758f8 354.0px,#4747eb 362.7px,#4747eb 366.5px,#475af9 369.3px,#406dfe 372.2px,#2f81fa 375.1px,#2f81fa 378.9px,#3e6fff 381.0px,#465efb 383.2px,#484df0 385.4px,#463cde 387.6px,#463cde 391.3px,#484ef1 395.6px,#4660fc 400.0px,#4660fc 403.7px,#4660fc 412.4px,#4660fc 416.1px,#4660fc 424.8px,#4660fc 428.2px)"></div>
<div style="position:absolute;left:0;top:129.75px;height:18.54px;background:linear-gradient(to right,#4433cb 0.0px,#4433cb 6.5px,#463cde 15.2px,#463cde 18.9px,#4747eb 27.6px,#4747eb 31.3px,#4747eb 40.0px,#4747eb 43.8px,#4747eb 52.4px,#4747eb 56.2px,#4747eb 64.9px,#4747eb 68.6px,#4747eb 77.3px,#4747eb 81.0px,#4851f4 89.7px,#4851f4 93.4px,#4758f8 102.1px,#4758f8 105.8px,#4851f4 114.5px,#4851f4 118.2px,#4747eb 126.9px,#4747eb 130.6px,#4747eb 139.3px,#4747eb 143.0px,#4747eb 151.7px,#4747eb 155.5px,#4536d3 164.1px,#4536d3 167.9px,#4433cb 176.6px,#4433cb 180.3px,#463cde 189.0px,#463cde 192.7px,#4747eb 201.4px,#4747eb 205.1px,#4759f8 209.4px,#406cfe 213.8px,#406cfe 217.5px,#406cfe 226.2px,#406cfe 229.9px,#4758f8 238.6px,#4758f8 242.3px,#4851f4 251.0px,#4851f4 254.7px,#4747eb 263.4px,#4747eb 267.2px,#4747eb 275.8px,#4747eb 279.6px,#4851f4 288.3px,#4851f4 292.0px,#4747eb 300.7px,#4747eb 304.4px,#4536d3 313.1px,#4536d3 316.8px,#4536d3 325.5px,#4536d3 329.2px,#4536d3 337.9px,#4536d3 341.6px,#422fc3 350.3px,#422fc3 354.0px,#422fc3 362.7px,#422fc3 366.5px,#4433cb 375.1px,#4433cb 378.9px,#4433cb 387.6px,#4433cb 391.3px,#4536d3 400.0px,#4536d3 403.7px,#4536d3 412.4px,#4536d3 416.1px,#4433cb 424.8px,#4433cb 428.2px)"></div>
<div style="position:absolute;left:0;top:148.28px;height:18.55px;background:linear-gradient(to right,#4851f4 0.0px,#4851f4 6.5px,#4661fc 9.4px,#3d71ff 12.3px,#2f81fa 15.2px,#2f81fa 18.9px,#2b92ef 21.8px,#23a0e5 24.7px,#18aedb 27.6px,#18aedb 31.3px,#05b6ce 35.7px,#07bcbf 40.0px,#07bcbf 43.8px,#05b6ce 48.1px,#18aedb 52.4px,#18aedb 56.2px,#1ea7e1 64.9px,#1ea7e1 68.6px,#18aedb 77.3px,#18aedb 81.0px,#01b8c9 85.3px,#1ac0b5 89.7px,#1ac0b5 93.4px,#34c79c 96.3px,#54cc7d 99.2px,#81cc58 102.1px,#81cc58 105.8px,#81cc58 114.5px,#81cc58 118.2px,#54cc7d 121.1px,#34c79c 124.0px,#1ac0b5 126.9px,#1ac0b5 130.6px,#01b8c9 135.0px,#18aedb 139.3px,#18aedb 143.0px,#1ea7e1 151.7px,#1ea7e1 155.5px,#259be8 159.8px,#2c8ef2 164.1px,#2c8ef2 167.9px,#317dfc 170.8px,#426afe 173.7px,#4758f8 176.6px,#4758f8 180.3px,#406cfe 189.0px,#406cfe 192.7px,#2e83f9 194.4px,#2796eb 196.2px,#1da8e0 197.9px,#05b6ce 199.6px,#1ac0b5 201.4px,#1ac0b5 205.1px,#35c79a 207.3px,#59cc78 209.4px,#8bcb51 211.6px,#bcc42f 213.8px,#bcc42f 217.5px,#d8be28 221.9px,#f0ba36 226.2px,#f0ba36 229.9px,#cec028 232.1px,#a2c83f 234.3px,#72cd64 236.4px,#46cb87 238.6px,#46cb87 242.3px,#46cb87 251.0px,#46cb87 254.7px,#58cc79 263.4px,#58cc79 267.2px,#78cc5f 271.5px,#9bc944 275.8px,#9bc944 279.6px,#81cc58 288.3px,#81cc58 292.0px,#50cc7f 293.1px,#31c6a0 294.2px,#10beba 295.2px,#0ab4d1 296.3px,#1fa6e2 297.4px,#2895ec 298.5px,#2f82fa 299.6px,#406cfe 300.7px,#406cfe 304.4px,#2f81fa 313.1px,#2f81fa 316.8px,#2f81fa 325.5px,#2f81fa 329.2px,#406dfe 332.1px,#475af9 335.0px,#4747eb 337.9px,#4747eb 341.6px,#4759f8 346.0px,#406cfe 350.3px,#406cfe 354.0px,#2f81fa 362.7px,#2f81fa 366.5px,#2c8ef2 375.1px,#2c8ef2 378.9px,#2c8ef2 387.6px,#2c8ef2 391.3px,#2c8ef2 400.0px,#2c8ef2 403.7px,#2c8ef2 412.4px,#2c8ef2 416.1px,#317efb 420.4px,#406cfe 424.8px,#406cfe 428.2px)"></div>
<div style="position:absolute;left:0;top:166.82px;height:18.54px;background:linear-gradient(to right,#406cfe 0.0px,#406cfe 6.5px,#317efb 10.9px,#2c8ef2 15.2px,#2c8ef2 18.9px,#23a0e5 21.8px,#13b1d7 24.7px,#07bcbf 27.6px,#07bcbf 31.3px,#05b6ce 35.7px,#18aedb 40.0px,#18aedb 43.8px,#23a0e5 52.4px,#23a0e5 56.2px,#23a0e5 64.9px,#23a0e5 68.6px,#18aedb 77.3px,#18aedb 81.0px,#01b8c9 85.3px,#1ac0b5 89.7px,#1ac0b5 93.4px,#35c79a 102.1px,#35c79a 105.8px,#35c79a 114.5px,#35c79a 118.2px,#35c79a 126.9px,#35c79a 130.6px,#1dc0b3 133.5px,#01b8c8 136.4px,#18aedb 139.3px,#18aedb 143.0px,#1ea7e1 151.7px,#1ea7e1 155.5px,#2895ec 159.8px,#2f81fa 164.1px,#2f81fa 167.9px,#406dfe 170.8px,#475af9 173.7px,#4747eb 176.6px,#4747eb 180.3px,#4758f8 189.0px,#4758f8 192.7px,#3f6dfe 193.9px,#2e83f9 195.2px,#2797eb 196.4px,#1ea8e0 197.7px,#06b6ce 198.9px,#18bfb6 200.1px,#35c79a 201.4px,#35c79a 205.1px,#54cc7d 208.0px,#7fcc5a 210.9px,#acc738 213.8px,#acc738 217.5px,#7ecc5b 219.7px,#52cc7e 221.9px,#33c79c 224.0px,#1ac0b5 226.2px,#1ac0b5 229.9px,#01b8c9 234.3px,#18aedb 238.6px,#18aedb 242.3px,#05b6ce 251.0px,#05b6ce 254.7px,#17bfb6 257.6px,#34c79b 260.5px,#58cc79 263.4px,#58cc79 267.2px,#8acb52 271.5px,#bcc42f 275.8px,#bcc42f 279.6px,#9bc944 288.3px,#9bc944 292.0px,#6bcd69 293.2px,#42ca8b 294.5px,#2cc4a7 295.7px,#08bcbf 296.9px,#0eb2d4 298.2px,#20a5e2 299.4px,#2895ec 300.7px,#2895ec 304.4px,#2f81fa 313.1px,#2f81fa 316.8px,#2c8ef2 325.5px,#2c8ef2 329.2px,#317dfc 332.1px,#426afe 335.0px,#4758f8 337.9px,#4758f8 341.6px,#416bfe 343.8px,#307ffb 346.0px,#2b90ef 348.1px,#23a0e5 350.3px,#23a0e5 354.0px,#18aedb 362.7px,#18aedb 366.5px,#18aedb 375.1px,#18aedb 378.9px,#18aedb 387.6px,#18aedb 391.3px,#1ea7e1 400.0px,#1ea7e1 403.7px,#2895ec 412.4px,#2895ec 416.1px,#2e85f8 419.0px,#3b73fe 421.9px,#4660fc 424.8px,#4660fc 428.2px)"></div>
<div style="position:absolute;left:0;top:185.35px;height:18.55px;background:linear-gradient(to right,#2895ec 0.0px,#2895ec 6.5px,#22a2e4 10.9px,#18aedb 15.2px,#18aedb 18.9px,#1ea7e1 27.6px,#1ea7e1 31.3px,#2895ec 35.7px,#2f81fa 40.0px,#2f81fa 43.8px,#2f81fa 52.4px,#2f81fa 56.2px,#2f81fa 64.9px,#2f81fa 68.6px,#2b92ef 72.9px,#23a0e5 77.3px,#23a0e5 81.0px,#18aedb 89.7px,#18aedb 93.4px,#18aedb 102.1px,#18aedb 105.8px,#18aedb 114.5px,#18aedb 118.2px,#1ea7e1 126.9px,#1ea7e1 130.6px,#23a0e5 139.3px,#23a0e5 143.0px,#2c8ef2 151.7px,#2c8ef2 155.5px,#317efb 159.8px,#406cfe 164.1px,#406cfe 167.9px,#4758f8 176.6px,#4758f8 180.3px,#4660fc 189.0px,#4660fc 192.7px,#3975fe 194.1px,#2d89f5 195.6px,#269ae8 197.0px,#1baade 198.5px,#03b7cc 199.9px,#1ac0b5 201.4px,#1ac0b5 205.1px,#35c79a 213.8px,#35c79a 217.5px,#1cc0b3 219.3px,#01b8c9 221.0px,#19addc 222.7px,#249ee6 224.5px,#2c8ef2 226.2px,#2c8ef2 229.9px,#2f81fa 238.6px,#2f81fa 242.3px,#2c8ef2 251.0px,#2c8ef2 254.7px,#249fe6 259.1px,#18aedb 263.4px,#18aedb 267.2px,#01b9c6 268.9px,#25c2ad 270.6px,#3dc990 272.4px,#68cd6c 274.1px,#9bc944 275.8px,#9bc944 279.6px,#6ecd66 283.9px,#46cb87 288.3px,#46cb87 292.0px,#2ec4a4 294.2px,#0dbdbc 296.3px,#09b4d1 298.5px,#1ea7e1 300.7px,#1ea7e1 304.4px,#18aedb 313.1px,#18aedb 316.8px,#18aedb 325.5px,#18aedb 329.2px,#1ea7e1 337.9px,#1ea7e1 341.6px,#18aedb 350.3px,#18aedb 354.0px,#01b8ca 356.2px,#17bfb6 358.4px,#30c5a1 360.6px,#46cb87 362.7px,#46cb87 366.5px,#35c79a 375.1px,#35c79a 378.9px,#1cc0b3 380.6px,#01b8c9 382.3px,#19addc 384.1px,#249ee6 385.8px,#2c8ef2 387.6px,#2c8ef2 391.3px,#2f81fa 400.0px,#2f81fa 403.7px,#2f81fa 412.4px,#2f81fa 416.1px,#3479fd 424.8px,#3479fd 428.2px)"></div>
<div style="position:absolute;left:0;top:203.89px;height:18.54px;background:linear-gradient(to right,#1ea7e1 0.0px,#1ea7e1 6.5px,#0ab4d2 8.3px,#0abdbe 10.0px,#2cc4a7 11.7px,#40ca8d 13.5px,#67cd6c 15.2px,#67cd6c 18.9px,#42ca8b 21.1px,#2dc4a5 23.3px,#0fbeba 25.4px,#05b6ce 27.6px,#05b6ce 31.3px,#1da8e0 32.6px,#2797eb 33.8px,#2e84f8 35.1px,#3f6eff 36.3px,#4759f9 37.5px,#4745e9 38.8px,#4433cb 40.0px,#4433cb 43.8px,#4742e6 45.9px,#4854f5 48.1px,#4466fd 50.3px,#3479fd 52.4px,#3479fd 56.2px,#4564fd 59.1px,#4850f2 62.0px,#463cde 64.9px,#463cde 68.6px,#4850f3 70.7px,#4464fd 72.9px,#347afd 75.1px,#2c8ef2 77.3px,#2c8ef2 81.0px,#2f81fa 89.7px,#2f81fa 93.4px,#406cfe 97.7px,#4758f8 102.1px,#4758f8 105.8px,#4660fc 114.5px,#4660fc 118.2px,#4660fc 126.9px,#4660fc 130.6px,#4758f8 139.3px,#4758f8 143.0px,#4758f8 151.7px,#4758f8 155.5px,#4747eb 164.1px,#4747eb 167.9px,#4747eb 176.6px,#4747eb 180.3px,#4758f8 189.0px,#4758f8 192.7px,#406cfe 201.4px,#406cfe 205.1px,#3080fb 208.0px,#2b91ef 210.9px,#23a0e5 213.8px,#23a0e5 217.5px,#2c8ff1 219.3px,#337bfd 221.0px,#4465fd 222.7px,#4850f3 224.5px,#463cde 226.2px,#463cde 229.9px,#484cef 232.8px,#475cfa 235.7px,#406cfe 238.6px,#406cfe 242.3px,#475cfa 245.2px,#484cef 248.1px,#463cde 251.0px,#463cde 254.7px,#4850f3 256.5px,#4465fd 258.2px,#337bfd 260.0px,#2c8ff1 261.7px,#23a0e5 263.4px,#23a0e5 267.2px,#19acdc 271.5px,#05b6ce 275.8px,#05b6ce 279.6px,#18aedb 288.3px,#18aedb 292.0px,#18aedb 300.7px,#18aedb 304.4px,#18aedb 313.1px,#18aedb 316.8px,#05b6ce 325.5px,#05b6ce 329.2px,#18bfb6 333.6px,#35c79a 337.9px,#35c79a 341.6px,#49cb85 346.0px,#67cd6c 350.3px,#67cd6c 354.0px,#8acb52 358.4px,#acc738 362.7px,#acc738 366.5px,#77cc60 367.9px,#47cb87 369.3px,#2cc4a7 370.8px,#05bbc1 372.2px,#13b0d7 373.7px,#23a0e5 375.1px,#23a0e5 378.9px,#2b92ef 383.2px,#2f81fa 387.6px,#2f81fa 391.3px,#2f81fa 400.0px,#2f81fa 403.7px,#2f81fa 412.4px,#2f81fa 416.1px,#406cfe 424.8px,#406cfe 428.2px)"></div>
<div style="position:absolute;left:0;top:222.42px;height:18.55px;background:linear-gradient(to right,#23a0e5 0.0px,#23a0e5 6.5px,#15afd8 7.6px,#02bbc3 8.7px,#28c3aa 9.8px,#3fca8e 10.9px,#6bcd69 11.9px,#9ec942 13.0px,#ccc028 14.1px,#f0ba36 15.2px,#f0ba36 18.9px,#d8be28 23.3px,#bcc42f 27.6px,#bcc42f 31.3px,#8ecb4e 32.6px,#5fcd73 33.8px,#3ac994 35.1px,#24c1af 36.3px,#01bac5 37.5px,#16afd9 38.8px,#23a0e5 40.0px,#23a0e5 43.8px,#2c8ef2 52.4px,#2c8ef2 56.2px,#2c8ef2 64.9px,#2c8ef2 68.6px,#2c8ef2 77.3px,#2c8ef2 81.0px,#2f81fa 89.7px,#2f81fa 93.4px,#406dfe 96.3px,#475af9 99.2px,#4747eb 102.1px,#4747eb 105.8px,#4853f5 110.2px,#4660fc 114.5px,#4660fc 118.2px,#4758f8 126.9px,#4758f8 130.6px,#4747eb 135.0px,#4536d3 139.3px,#4536d3 143.0px,#4743e7 145.9px,#4852f4 148.8px,#4660fc 151.7px,#4660fc 155.5px,#4758f8 164.1px,#4758f8 167.9px,#484aee 172.2px,#463cde 176.6px,#463cde 180.3px,#484df0 182.5px,#465efb 184.6px,#3e6fff 186.8px,#2f81fa 189.0px,#2f81fa 192.7px,#2b92ef 195.6px,#23a0e5 198.5px,#18aedb 201.4px,#18aedb 205.1px,#23a0e5 213.8px,#23a0e5 217.5px,#2b91ef 220.4px,#3080fb 223.3px,#406cfe 226.2px,#406cfe 229.9px,#4758f8 238.6px,#4758f8 242.3px,#4660fc 251.0px,#4660fc 254.7px,#3c71ff 256.9px,#2e83f9 259.1px,#2a92ee 261.3px,#23a0e5 263.4px,#23a0e5 267.2px,#18aedb 275.8px,#18aedb 279.6px,#23a0e5 288.3px,#23a0e5 292.0px,#2b92ef 296.3px,#2f81fa 300.7px,#2f81fa 304.4px,#2b92ef 307.3px,#23a0e5 310.2px,#18aedb 313.1px,#18aedb 316.8px,#05b6ce 325.5px,#05b6ce 329.2px,#1ac0b5 337.9px,#1ac0b5 341.6px,#33c79d 343.4px,#50cc7f 345.1px,#7ccc5c 346.8px,#a9c73a 348.6px,#d2bf27 350.3px,#d2bf27 354.0px,#e8bb2e 358.4px,#f9bb3d 362.7px,#f9bb3d 366.5px,#dbbd29 367.9px,#b2c535 369.3px,#83cc57 370.8px,#55cc7c 372.2px,#34c79b 373.7px,#1ac0b5 375.1px,#1ac0b5 378.9px,#04b6cd 380.1px,#1da9e0 381.3px,#2798ea 382.6px,#2e85f8 383.8px,#3d70ff 385.1px,#475bf9 386.3px,#4747eb 387.6px,#4747eb 391.3px,#475af9 394.2px,#406dfe 397.1px,#2f81fa 400.0px,#2f81fa 403.7px,#3479fd 412.4px,#3479fd 416.1px,#406cfe 420.4px,#4660fc 424.8px,#4660fc 428.2px)"></div>
<div style="position:absolute;left:0;top:240.96px;height:18.54px;background:linear-gradient(to right,#4660fc 0.0px,#4660fc 6.5px,#4660fc 15.2px,#4660fc 18.9px,#4660fc 27.6px,#4660fc 31.3px,#4853f5 35.7px,#4747eb 40.0px,#4747eb 43.8px,#463cde 52.4px,#463cde 56.2px,#4536d3 64.9px,#4536d3 68.6px,#4536d3 77.3px,#4536d3 81.0px,#422fc3 89.7px,#422fc3 93.4px,#422fc3 102.1px,#422fc3 105.8px,#422fc3 114.5px,#422fc3 118.2px,#422fc3 126.9px,#422fc3 130.6px,#4433cb 139.3px,#4433cb 143.0px,#422fc3 151.7px,#422fc3 155.5px,#422ebe 164.1px,#422ebe 167.9px,#422ebe 176.6px,#422ebe 180.3px,#422fc3 189.0px,#422fc3 192.7px,#4433cb 201.4px,#4433cb 205.1px,#463cde 213.8px,#463cde 217.5px,#4433cb 226.2px,#4433cb 229.9px,#422fc3 238.6px,#422fc3 242.3px,#422fc3 251.0px,#422fc3 254.7px,#4433cb 263.4px,#4433cb 267.2px,#4536d3 275.8px,#4536d3 279.6px,#4433cb 288.3px,#4433cb 292.0px,#422fc3 300.7px,#422fc3 304.4px,#4433cb 313.1px,#4433cb 316.8px,#4536d3 325.5px,#4536d3 329.2px,#463cde 337.9px,#463cde 341.6px,#4747eb 350.3px,#4747eb 354.0px,#4758f8 362.7px,#4758f8 366.5px,#4851f4 375.1px,#4851f4 378.9px,#4743e7 383.2px,#4536d3 387.6px,#4536d3 391.3px,#4433cb 400.0px,#4433cb 403.7px,#4433cb 412.4px,#4433cb 416.1px,#422fc3 424.8px,#422fc3 428.2px)"></div>
<div style="position:absolute;left:0;top:259.49px;height:18.55px;background:linear-gradient(to right,#35c79a 0.0px,#35c79a 6.5px,#56cc7a 8.0px,#86cb55 9.4px,#b5c533 10.9px,#ddbd29 12.3px,#fbbc3d 13.8px,#fdce31 15.2px,#fdce31 18.9px,#f5e526 23.3px,#f9fb15 27.6px,#f9fb15 31.3px,#f5e426 33.5px,#fdcc32 35.7px,#f6ba3b 37.9px,#d2bf27 40.0px,#d2bf27 43.8px,#a3c83f 45.2px,#6ecd67 46.6px,#40ca8d 48.1px,#27c2ac 49.5px,#02bac5 51.0px,#18aedb 52.4px,#18aedb 56.2px,#18aedb 64.9px,#18aedb 68.6px,#1ea7e1 77.3px,#1ea7e1 81.0px,#2895ec 85.3px,#2f81fa 89.7px,#2f81fa 93.4px,#406cfe 97.7px,#4758f8 102.1px,#4758f8 105.8px,#406cfe 110.2px,#2f81fa 114.5px,#2f81fa 118.2px,#2c8ef2 126.9px,#2c8ef2 130.6px,#2c8ef2 139.3px,#2c8ef2 143.0px,#2f81fa 151.7px,#2f81fa 155.5px,#406cfe 164.1px,#406cfe 167.9px,#475cfa 170.8px,#484cef 173.7px,#463cde 176.6px,#463cde 180.3px,#484df0 182.5px,#465efb 184.6px,#3e6fff 186.8px,#2f81fa 189.0px,#2f81fa 192.7px,#2b92ef 195.6px,#23a0e5 198.5px,#18aedb 201.4px,#18aedb 205.1px,#05b6ce 213.8px,#05b6ce 217.5px,#19acdc 221.9px,#23a0e5 226.2px,#23a0e5 229.9px,#2895ec 238.6px,#2895ec 242.3px,#2f82f9 246.7px,#406cfe 251.0px,#406cfe 254.7px,#2f81fa 263.4px,#2f81fa 267.2px,#2c8ef2 275.8px,#2c8ef2 279.6px,#2f81fa 288.3px,#2f81fa 292.0px,#3479fd 300.7px,#3479fd 304.4px,#406cfe 313.1px,#406cfe 316.8px,#2f82f9 321.1px,#2895ec 325.5px,#2895ec 329.2px,#23a0e5 337.9px,#23a0e5 341.6px,#1ea7e1 350.3px,#1ea7e1 354.0px,#09b4d1 356.2px,#0dbdbc 358.4px,#2ec4a4 360.6px,#46cb87 362.7px,#46cb87 366.5px,#35c79a 375.1px,#35c79a 378.9px,#1cc0b3 380.6px,#01b8c9 382.3px,#19addc 384.1px,#249ee6 385.8px,#2c8ef2 387.6px,#2c8ef2 391.3px,#2f81fa 400.0px,#2f81fa 403.7px,#2f81fa 412.4px,#2f81fa 416.1px,#3479fd 424.8px,#3479fd 428.2px)"></div>
<div style="position:absolute;left:0;top:278.03px;height:18.54px;background:linear-gradient(to right,#2f81fa 0.0px,#2f81fa 6.5px,#2f81fa 15.2px,#2f81fa 18.9px,#406cfe 27.6px,#406cfe 31.3px,#4758f8 40.0px,#4758f8 43.8px,#4747eb 52.4px,#4747eb 56.2px,#4536d3 64.9px,#4536d3 68.6px,#4536d3 77.3px,#4536d3 81.0px,#4433cb 89.7px,#4433cb 93.4px,#412cba 102.1px,#412cba 105.8px,#4433cb 114.5px,#4433cb 118.2px,#4536d3 126.9px,#4536d3 130.6px,#4536d3 139.3px,#4536d3 143.0px,#4536d3 151.7px,#4536d3 155.5px,#422fc3 164.1px,#422fc3 167.9px,#412cba 176.6px,#412cba 180.3px,#422fc3 189.0px,#422fc3 192.7px,#4433cb 201.4px,#4433cb 205.1px,#463cde 213.8px,#463cde 217.5px,#4433cb 226.2px,#4433cb 229.9px,#422fc3 238.6px,#422fc3 242.3px,#412cba 251.0px,#412cba 254.7px,#4433cb 263.4px,#4433cb 267.2px,#4536d3 275.8px,#4536d3 279.6px,#4536d3 288.3px,#4536d3 292.0px,#4536d3 300.7px,#4536d3 304.4px,#422fc3 313.1px,#422fc3 316.8px,#422fc3 325.5px,#422fc3 329.2px,#4433cb 337.9px,#4433cb 341.6px,#4433cb 350.3px,#4433cb 354.0px,#463cde 362.7px,#463cde 366.5px,#4747eb 375.1px,#4747eb 378.9px,#4747eb 387.6px,#4747eb 391.3px,#463cde 400.0px,#463cde 403.7px,#463cde 412.4px,#463cde 416.1px,#4433cb 424.8px,#4433cb 428.2px)"></div>
<div style="position:absolute;left:0;top:296.56px;height:18.55px;background:linear-gradient(to right,#35c79a 0.0px,#35c79a 6.5px,#56cc7b 8.3px,#84cb56 10.0px,#b3c534 11.7px,#dbbd29 13.5px,#f9bb3d 15.2px,#f9bb3d 18.9px,#fec834 21.8px,#f8d92c 24.7px,#f5e924 27.6px,#f5e924 31.3px,#fbd32e 33.5px,#febe3c 35.7px,#e3bc2c 37.9px,#bcc42f 40.0px,#bcc42f 43.8px,#8acb51 44.5px,#58cc79 45.3px,#34c79b 46.1px,#18bfb6 46.9px,#05b6ce 47.7px,#1da8e0 48.5px,#2798ea 49.3px,#2e85f8 50.1px,#3e70ff 50.9px,#475bf9 51.6px,#4747eb 52.4px,#4747eb 56.2px,#4759f8 57.6px,#416bfe 59.1px,#307ffb 60.5px,#2c90f0 62.0px,#23a0e5 63.4px,#18aedb 64.9px,#18aedb 68.6px,#05b6ce 72.9px,#07bcbf 77.3px,#07bcbf 81.0px,#0fb2d5 83.2px,#20a4e3 85.3px,#2994ed 87.5px,#2f81fa 89.7px,#2f81fa 93.4px,#406cfe 97.7px,#4758f8 102.1px,#4758f8 105.8px,#406dfe 108.7px,#2e83f9 111.6px,#2895ec 114.5px,#2895ec 118.2px,#1ea7e1 121.1px,#05b6ce 124.0px,#1ac0b5 126.9px,#1ac0b5 130.6px,#1ac0b5 139.3px,#1ac0b5 143.0px,#05b6ce 147.4px,#1ea7e1 151.7px,#1ea7e1 155.5px,#2796eb 157.6px,#2e83f9 159.8px,#3f6dfe 162.0px,#4758f8 164.1px,#4758f8 167.9px,#4747eb 176.6px,#4747eb 180.3px,#475af9 183.2px,#406dfe 186.1px,#2f81fa 189.0px,#2f81fa 192.7px,#2895ec 197.0px,#1ea7e1 201.4px,#1ea7e1 205.1px,#23a0e5 213.8px,#23a0e5 217.5px,#2b92ef 221.9px,#2f81fa 226.2px,#2f81fa 229.9px,#406cfe 234.3px,#4758f8 238.6px,#4758f8 242.3px,#4758f8 251.0px,#4758f8 254.7px,#4660fc 263.4px,#4660fc 267.2px,#3e70ff 270.1px,#307ffb 273.0px,#2c8ef2 275.8px,#2c8ef2 279.6px,#249fe6 283.9px,#18aedb 288.3px,#18aedb 292.0px,#249fe6 296.3px,#2c8ef2 300.7px,#2c8ef2 304.4px,#317efb 308.7px,#406cfe 313.1px,#406cfe 316.8px,#4660fc 325.5px,#4660fc 329.2px,#4758f8 337.9px,#4758f8 341.6px,#484aee 346.0px,#463cde 350.3px,#463cde 354.0px,#484cef 356.9px,#475cfa 359.8px,#406cfe 362.7px,#406cfe 366.5px,#2f81fa 368.2px,#2a93ed 369.9px,#21a4e3 371.7px,#10b2d5 373.4px,#07bcbf 375.1px,#07bcbf 378.9px,#2dc4a6 383.2px,#46cb87 387.6px,#46cb87 391.3px,#2dc4a5 392.7px,#09bcbe 394.2px,#0eb2d4 395.6px,#20a4e3 397.1px,#2994ed 398.5px,#2f81fa 400.0px,#2f81fa 403.7px,#3e6fff 405.9px,#465efb 408.0px,#484df0 410.2px,#463cde 412.4px,#463cde 416.1px,#484ef1 420.4px,#4660fc 424.8px,#4660fc 428.2px)"></div>
<div style="position:absolute;left:0;top:315.1px;height:18.54px;background:linear-gradient(to right,#23a0e5 0.0px,#23a0e5 6.5px,#17aeda 8.3px,#01b9c7 10.0px,#20c1b1 11.7px,#36c898 13.5px,#58cc79 15.2px,#58cc79 18.9px,#81cc58 21.8px,#acc738 24.7px,#d2bf27 27.6px,#d2bf27 31.3px,#a9c73a 33.1px,#7ccc5c 34.8px,#50cc7f 36.6px,#33c79d 38.3px,#1ac0b5 40.0px,#1ac0b5 43.8px,#05b6cd 45.2px,#1da8e0 46.6px,#2797eb 48.1px,#2e84f9 49.5px,#3f6efe 51.0px,#4758f8 52.4px,#4758f8 56.2px,#3f6efe 57.9px,#2e84f9 59.6px,#2797eb 61.4px,#1da8e0 63.1px,#05b6ce 64.9px,#05b6ce 68.6px,#1ac0b5 77.3px,#1ac0b5 81.0px,#05b6cd 82.4px,#1da8e0 83.9px,#2797eb 85.3px,#2e84f9 86.8px,#3f6efe 88.2px,#4758f8 89.7px,#4758f8 93.4px,#4747eb 102.1px,#4747eb 105.8px,#4759f8 107.5px,#416bfe 109.3px,#307ffb 111.0px,#2b91ef 112.8px,#23a0e5 114.5px,#23a0e5 118.2px,#15afd9 120.0px,#02bac4 121.7px,#27c2ac 123.4px,#3eca90 125.2px,#67cd6c 126.9px,#67cd6c 130.6px,#3dc991 132.8px,#25c2ad 135.0px,#01b9c6 137.1px,#18aedb 139.3px,#18aedb 143.0px,#23a0e5 145.2px,#2b90ef 147.4px,#3080fb 149.6px,#406cfe 151.7px,#406cfe 155.5px,#406cfe 164.1px,#406cfe 167.9px,#3479fd 176.6px,#3479fd 180.3px,#2f81fa 189.0px,#2f81fa 192.7px,#2f81fa 201.4px,#2f81fa 205.1px,#2f81fa 213.8px,#2f81fa 217.5px,#3479fd 226.2px,#3479fd 229.9px,#4367fd 232.1px,#4756f7 234.3px,#4745ea 236.4px,#4536d3 238.6px,#4536d3 242.3px,#4745ea 244.5px,#4756f7 246.7px,#4367fd 248.9px,#3479fd 251.0px,#3479fd 254.7px,#2f81fa 263.4px,#2f81fa 267.2px,#2c8ef2 275.8px,#2c8ef2 279.6px,#23a0e5 288.3px,#23a0e5 292.0px,#1ea7e1 300.7px,#1ea7e1 304.4px,#2895ec 313.1px,#2895ec 316.8px,#2e85f8 319.7px,#3b73fe 322.6px,#4660fc 325.5px,#4660fc 329.2px,#484ff2 332.1px,#463ee0 335.0px,#422fc3 337.9px,#422fc3 341.6px,#473fe2 346.0px,#4851f4 350.3px,#4851f4 354.0px,#4465fd 356.9px,#337afd 359.8px,#2c8ef2 362.7px,#2c8ef2 366.5px,#259be8 370.8px,#1ea7e1 375.1px,#1ea7e1 378.9px,#1ea7e1 387.6px,#1ea7e1 391.3px,#23a0e5 400.0px,#23a0e5 403.7px,#2c8ff1 405.4px,#337bfd 407.2px,#4465fd 408.9px,#4850f3 410.6px,#463cde 412.4px,#463cde 416.1px,#4850f2 419.0px,#4564fd 421.9px,#3479fd 424.8px,#3479fd 428.2px)"></div>
<div style="position:absolute;left:0;top:333.63px;height:18.55px;background:linear-gradient(to right,#4660fc 0.0px,#4660fc 6.5px,#3a73fe 8.0px,#2e86f7 9.4px,#2797eb 10.9px,#1fa6e2 12.3px,#0db3d4 13.8px,#07bcbf 15.2px,#07bcbf 18.9px,#25c2ae 23.3px,#35c79a 27.6px,#35c79a 31.3px,#18bfb6 35.7px,#05b6ce 40.0px,#05b6ce 43.8px,#1ea7e1 52.4px,#1ea7e1 56.2px,#18aedb 64.9px,#18aedb 68.6px,#01b8c8 71.5px,#1dc0b3 74.4px,#35c79a 77.3px,#35c79a 81.0px,#17bfb6 83.9px,#06b5cf 86.8px,#1ea7e1 89.7px,#1ea7e1 93.4px,#2895ec 97.7px,#2f81fa 102.1px,#2f81fa 105.8px,#2895ec 107.3px,#1fa6e1 108.7px,#07b5d0 110.2px,#15bfb8 111.6px,#34c79c 113.0px,#58cc79 114.5px,#58cc79 118.2px,#81cc58 120.4px,#acc738 122.6px,#d2bf27 124.7px,#f0ba36 126.9px,#f0ba36 130.6px,#c8c129 132.4px,#96ca48 134.1px,#60cd72 135.8px,#37c898 137.6px,#1ac0b5 139.3px,#1ac0b5 143.0px,#04b6cc 144.1px,#1ca9df 145.2px,#2699e9 146.3px,#2e87f7 147.4px,#3c72ff 148.5px,#465dfa 149.6px,#4849ed 150.6px,#4536d3 151.7px,#4536d3 155.5px,#4747ec 157.6px,#475af9 159.8px,#3f6dfe 162.0px,#2f81fa 164.1px,#2f81fa 167.9px,#2f81fa 176.6px,#2f81fa 180.3px,#3d71ff 184.6px,#4660fc 189.0px,#4660fc 192.7px,#4660fc 201.4px,#4660fc 205.1px,#4660fc 213.8px,#4660fc 217.5px,#4758f8 226.2px,#4758f8 229.9px,#4747eb 238.6px,#4747eb 242.3px,#4758f8 251.0px,#4758f8 254.7px,#4368fe 259.1px,#3479fd 263.4px,#3479fd 267.2px,#3479fd 275.8px,#3479fd 279.6px,#2f81fa 288.3px,#2f81fa 292.0px,#2b92ef 296.3px,#23a0e5 300.7px,#23a0e5 304.4px,#1ea7e1 313.1px,#1ea7e1 316.8px,#2896eb 319.7px,#2e83f9 322.6px,#406cfe 325.5px,#406cfe 329.2px,#465ffb 333.6px,#4851f4 337.9px,#4851f4 341.6px,#4747eb 350.3px,#4747eb 354.0px,#475af9 356.9px,#406dfe 359.8px,#2f81fa 362.7px,#2f81fa 366.5px,#2c8ef2 375.1px,#2c8ef2 378.9px,#2c8ef2 387.6px,#2c8ef2 391.3px,#2c8ef2 400.0px,#2c8ef2 403.7px,#2f81fa 412.4px,#2f81fa 416.1px,#3479fd 424.8px,#3479fd 428.2px)"></div>
<div style="position:absolute;left:0;top:352.17px;height:18.54px;background:linear-gradient(to right,#4536d3 0.0px,#4536d3 6.5px,#4747eb 8.0px,#4759f8 9.4px,#416cfe 10.9px,#307ffb 12.3px,#2b91ef 13.8px,#23a0e5 15.2px,#23a0e5 18.9px,#18aedb 27.6px,#18aedb 31.3px,#249fe6 35.7px,#2c8ef2 40.0px,#2c8ef2 43.8px,#2f81fa 52.4px,#2f81fa 56.2px,#2994ed 58.3px,#20a4e3 60.5px,#0fb2d5 62.7px,#07bcbf 64.9px,#07bcbf 68.6px,#2ac3a8 71.5px,#3fca8e 74.4px,#67cd6c 77.3px,#67cd6c 81.0px,#45cb89 83.9px,#31c5a1 86.8px,#1ac0b5 89.7px,#1ac0b5 93.4px,#07bcbf 102.1px,#07bcbf 105.8px,#2dc4a5 107.3px,#48cb86 108.7px,#78cc5f 110.2px,#acc739 111.6px,#d8be28 113.0px,#f9bb3d 114.5px,#f9bb3d 118.2px,#fec834 121.1px,#f8d92c 124.0px,#f5e924 126.9px,#f5e924 130.6px,#fad62d 133.5px,#fec338 136.4px,#f0ba36 139.3px,#f0ba36 143.0px,#cbc029 144.0px,#9dc943 145.0px,#6acd6a 145.9px,#3eca8f 146.9px,#27c2ac 147.9px,#02bac4 148.8px,#16afda 149.8px,#249fe5 150.8px,#2c8ef2 151.7px,#2c8ef2 155.5px,#23a0e5 164.1px,#23a0e5 167.9px,#23a0e5 176.6px,#23a0e5 180.3px,#2b91ef 181.7px,#307ffb 183.2px,#416cfe 184.6px,#4759f8 186.1px,#4747eb 187.5px,#4536d3 189.0px,#4536d3 192.7px,#4743e7 195.6px,#4852f4 198.5px,#4660fc 201.4px,#4660fc 205.1px,#4853f5 209.4px,#4747eb 213.8px,#4747eb 217.5px,#4758f8 226.2px,#4758f8 229.9px,#4660fc 238.6px,#4660fc 242.3px,#4758f8 251.0px,#4758f8 254.7px,#4758f8 263.4px,#4758f8 267.2px,#4747eb 275.8px,#4747eb 279.6px,#475af9 282.5px,#406dfe 285.4px,#2f81fa 288.3px,#2f81fa 292.0px,#2895ec 296.3px,#1ea7e1 300.7px,#1ea7e1 304.4px,#05b6ce 313.1px,#05b6ce 316.8px,#19acdc 321.1px,#23a0e5 325.5px,#23a0e5 329.2px,#2a92ee 331.4px,#2e83f9 333.6px,#3c71ff 335.7px,#4660fc 337.9px,#4660fc 341.6px,#4758f8 350.3px,#4758f8 354.0px,#4368fe 358.4px,#3479fd 362.7px,#3479fd 366.5px,#2f81fa 375.1px,#2f81fa 378.9px,#2f81fa 387.6px,#2f81fa 391.3px,#2f81fa 400.0px,#2f81fa 403.7px,#2c8ef2 412.4px,#2c8ef2 416.1px,#2c8ef2 424.8px,#2c8ef2 428.2px)"></div>
</div>
<div class="box" style="left:59.3px;top:542px;width:429.2px;height:371.7px"></div>
<div class="tk" style="left:116.7px;top:909.2px;width:1px;height:4px"></div>
<div class="tk" style="left:116.7px;top:542.5px;width:1px;height:4px"></div>
<div class="t tx" style="font-size:14.41px;left:117.2px;top:922.5px">60</div>
<div class="tk" style="left:178.76px;top:909.2px;width:1px;height:4px"></div>
<div class="tk" style="left:178.76px;top:542.5px;width:1px;height:4px"></div>
<div class="t tx" style="font-size:14.41px;left:179.26px;top:922.5px">80</div>
<div class="tk" style="left:240.82px;top:909.2px;width:1px;height:4px"></div>
<div class="tk" style="left:240.82px;top:542.5px;width:1px;height:4px"></div>
<div class="t tx" style="font-size:14.41px;left:241.32px;top:922.5px">100</div>
<div class="tk" style="left:302.88px;top:909.2px;width:1px;height:4px"></div>
<div class="tk" style="left:302.88px;top:542.5px;width:1px;height:4px"></div>
<div class="t tx" style="font-size:14.41px;left:303.38px;top:922.5px">120</div>
<div class="tk" style="left:364.94px;top:909.2px;width:1px;height:4px"></div>
<div class="tk" style="left:364.94px;top:542.5px;width:1px;height:4px"></div>
<div class="t tx" style="font-size:14.41px;left:365.44px;top:922.5px">140</div>
<div class="tk" style="left:426.99px;top:909.2px;width:1px;height:4px"></div>
<div class="tk" style="left:426.99px;top:542.5px;width:1px;height:4px"></div>
<div class="t tx" style="font-size:14.41px;left:427.49px;top:922.5px">160</div>
<div class="tk" style="left:59.8px;top:569.8px;width:4px;height:1px"></div>
<div class="tk" style="left:484px;top:569.8px;width:4px;height:1px"></div>
<div class="t ty" style="font-size:14.41px;left:52.8px;top:571px">2</div>
<div class="tk" style="left:59.8px;top:606.87px;width:4px;height:1px"></div>
<div class="tk" style="left:484px;top:606.87px;width:4px;height:1px"></div>
<div class="t ty" style="font-size:14.41px;left:52.8px;top:608.07px">4</div>
<div class="tk" style="left:59.8px;top:643.94px;width:4px;height:1px"></div>
<div class="tk" style="left:484px;top:643.94px;width:4px;height:1px"></div>
<div class="t ty" style="font-size:14.41px;left:52.8px;top:645.14px">6</div>
<div class="tk" style="left:59.8px;top:681.01px;width:4px;height:1px"></div>
<div class="tk" style="left:484px;top:681.01px;width:4px;height:1px"></div>
<div class="t ty" style="font-size:14.41px;left:52.8px;top:682.21px">8</div>
<div class="tk" style="left:59.8px;top:718.08px;width:4px;height:1px"></div>
<div class="tk" style="left:484px;top:718.08px;width:4px;height:1px"></div>
<div class="t ty" style="font-size:14.41px;left:52.8px;top:719.28px">10</div>
<div class="tk" style="left:59.8px;top:755.15px;width:4px;height:1px"></div>
<div class="tk" style="left:484px;top:755.15px;width:4px;height:1px"></div>
<div class="t ty" style="font-size:14.41px;left:52.8px;top:756.35px">12</div>
<div class="tk" style="left:59.8px;top:792.22px;width:4px;height:1px"></div>
<div class="tk" style="left:484px;top:792.22px;width:4px;height:1px"></div>
<div class="t ty" style="font-size:14.41px;left:52.8px;top:793.42px">14</div>
<div class="tk" style="left:59.8px;top:829.29px;width:4px;height:1px"></div>
<div class="tk" style="left:484px;top:829.29px;width:4px;height:1px"></div>
<div class="t ty" style="font-size:14.41px;left:52.8px;top:830.49px">16</div>
<div class="tk" style="left:59.8px;top:866.36px;width:4px;height:1px"></div>
<div class="tk" style="left:484px;top:866.36px;width:4px;height:1px"></div>
<div class="t ty" style="font-size:14.41px;left:52.8px;top:867.56px">18</div>
<div class="tk" style="left:59.8px;top:903.43px;width:4px;height:1px"></div>
<div class="tk" style="left:484px;top:903.43px;width:4px;height:1px"></div>
<div class="t ty" style="font-size:14.41px;left:52.8px;top:904.63px">20</div>
<div class="ab" style="left:500.3px;top:542.5px;width:22.4px;height:370.7px;background:linear-gradient(to bottom,#f9fb15 0.0%,#f6ef20 3.1%,#f5e327 6.2%,#f9d62d 9.4%,#feca33 12.5%,#febe3c 15.6%,#f1ba37 18.8%,#debc2a 21.9%,#c8c129 25.0%,#afc637 28.1%,#94ca4a 31.2%,#77cc60 34.4%,#5ccc76 37.5%,#44ca8a 40.6%,#34c79c 43.8%,#28c2ab 46.9%,#12beb9 50.0%,#01b9c6 53.1%,#0cb3d3 56.2%,#1aacdd 59.4%,#21a3e3 62.5%,#269ae9 65.6%,#2c90f0 68.8%,#2e85f8 71.9%,#347afd 75.0%,#3f6efe 78.1%,#4562fc 81.2%,#4757f7 84.4%,#484cef 87.5%,#4741e5 90.6%,#4536d5 93.8%,#422ebf 96.9%,#3e26a8 100.0%)"></div>
<div class="box" style="left:499.8px;top:542px;width:23.4px;height:371.7px"></div>
<div class="tk" style="left:519.7px;top:558px;width:3px;height:1px"></div>
<div class="t tc" style="font-size:14.41px;left:528.2px;top:559.3px">0.035</div>
<div class="tk" style="left:519.7px;top:609.07px;width:3px;height:1px"></div>
<div class="t tc" style="font-size:14.41px;left:528.2px;top:610.37px">0.03</div>
<div class="tk" style="left:519.7px;top:660.14px;width:3px;height:1px"></div>
<div class="t tc" style="font-size:14.41px;left:528.2px;top:661.44px">0.025</div>
<div class="tk" style="left:519.7px;top:711.21px;width:3px;height:1px"></div>
<div class="t tc" style="font-size:14.41px;left:528.2px;top:712.51px">0.02</div>
<div class="tk" style="left:519.7px;top:762.28px;width:3px;height:1px"></div>
<div class="t tc" style="font-size:14.41px;left:528.2px;top:763.58px">0.015</div>
<div class="tk" style="left:519.7px;top:813.35px;width:3px;height:1px"></div>
<div class="t tc" style="font-size:14.41px;left:528.2px;top:814.65px">0.01</div>
<div class="tk" style="left:519.7px;top:864.42px;width:3px;height:1px"></div>
<div class="t tc" style="font-size:14.41px;left:528.2px;top:865.72px">0.005</div>
<div class="t ti" style="font-size:16.01px;left:273.9px;top:523.4px">Background</div>
<div class="t xl" style="font-size:27.01px;left:273.9px;top:940.1px">Heart Rate [bpm]</div>
<div class="t yl" style="font-size:27.01px;left:1.8px;top:728.35px">Time Step <i>T</i></div>
<div class="t pl" style="left:283.4px;top:981.3px">(d)</div>
<div class="hm" style="left:662.6px;top:537.1px;width:434.4px;height:375.4px">
<div style="position:absolute;left:0;top:0px;height:18.78px;background:linear-gradient(to right,#4539d9 0.0px,#4539d9 6.6px,#4745e9 11.0px,#4851f4 15.4px,#4851f4 19.2px,#4562fc 22.1px,#3a74fe 25.1px,#2e86f8 28.0px,#2e86f8 31.8px,#2c8ef2 40.6px,#2c8ef2 43.4px,#2e86f8 47.8px,#2e86f8 49.7px,#3777fe 51.2px,#4367fd 52.7px,#4758f8 54.1px,#4758f8 56.0px,#406cfe 58.2px,#2f81fa 60.4px,#2f81fa 62.3px,#2895ec 63.8px,#1ea7e1 65.3px,#05b6ce 66.7px,#05b6ce 68.6px,#0fbeba 69.7px,#2dc4a5 70.8px,#42ca8b 71.9px,#67cd6c 73.0px,#67cd6c 74.9px,#9bc944 76.4px,#cbc129 77.9px,#f0ba36 79.3px,#f0ba36 81.2px,#fec338 85.6px,#fec338 87.5px,#f0ba36 89.7px,#d2bf27 91.9px,#d2bf27 93.8px,#aac73a 94.9px,#7ecc5b 96.0px,#53cc7d 97.1px,#35c79a 98.2px,#35c79a 100.1px,#1dc0b3 101.6px,#01b8c8 103.0px,#18aedb 104.5px,#18aedb 106.4px,#22a2e4 108.6px,#2895ec 110.8px,#2895ec 112.7px,#2f81fa 117.1px,#2f81fa 119.0px,#3975fe 121.2px,#4368fe 123.4px,#4368fe 125.3px,#4755f6 129.7px,#4755f6 132.5px,#484aee 141.3px,#484aee 145.1px,#484aee 153.9px,#484aee 157.7px,#484aee 166.5px,#484aee 170.3px,#484aee 179.1px,#484aee 182.9px,#484aee 191.7px,#484aee 195.5px,#4755f6 204.3px,#4755f6 208.1px,#4660fc 216.9px,#4660fc 220.7px,#4368fe 229.5px,#4368fe 233.3px,#317dfb 242.1px,#317dfb 245.8px,#3d71ff 254.7px,#3d71ff 258.4px,#465efb 261.4px,#484df1 264.3px,#463cde 267.3px,#463cde 271.0px,#4848ec 275.4px,#4755f6 279.8px,#4755f6 283.6px,#4660fc 292.4px,#4660fc 296.2px,#4755f6 305.0px,#4755f6 308.8px,#4743e7 317.6px,#4743e7 321.4px,#4743e7 330.2px,#4743e7 334.0px,#4743e7 342.8px,#4743e7 346.6px,#4743e7 355.4px,#4743e7 359.2px,#484aee 368.0px,#484aee 371.8px,#484aee 380.6px,#484aee 384.3px,#484aee 393.2px,#484aee 396.9px,#484aee 405.8px,#484aee 409.5px,#484aee 418.3px,#484aee 422.1px,#4743e7 430.9px,#4743e7 434.4px)"></div>
<div style="position:absolute;left:0;top:18.77px;height:18.78px;background:linear-gradient(to right,#4464fd 0.0px,#4464fd 6.6px,#406cfe 15.4px,#406cfe 19.2px,#317dfc 22.1px,#2d8cf3 25.1px,#2699e9 28.0px,#2699e9 31.8px,#1babde 40.6px,#1babde 43.4px,#1babde 47.8px,#1babde 49.7px,#269ae9 50.6px,#2e87f7 51.5px,#3c71ff 52.4px,#475bfa 53.3px,#4747eb 54.1px,#4747eb 56.0px,#475af9 57.5px,#406dfe 59.0px,#2f81fa 60.4px,#2f81fa 62.3px,#2b92ef 63.8px,#23a0e5 65.3px,#18aedb 66.7px,#18aedb 68.6px,#01b9c6 69.7px,#25c2ad 70.8px,#3dc991 71.9px,#67cd6c 73.0px,#67cd6c 74.9px,#96ca49 76.4px,#c1c32c 77.9px,#e5bb2c 79.3px,#e5bb2c 81.2px,#e5bb2c 85.6px,#e5bb2c 87.5px,#bcc42f 91.9px,#bcc42f 93.8px,#8bcb51 95.3px,#59cc79 96.7px,#35c79a 98.2px,#35c79a 100.1px,#1dc0b3 101.6px,#01b8c8 103.0px,#18aedb 104.5px,#18aedb 106.4px,#23a0e5 110.8px,#23a0e5 112.7px,#2b92ef 114.9px,#2f81fa 117.1px,#2f81fa 119.0px,#3975fe 121.2px,#4368fe 123.4px,#4368fe 125.3px,#4660fc 129.7px,#4660fc 132.5px,#4755f6 141.3px,#4755f6 145.1px,#4743e7 153.9px,#4743e7 157.7px,#4536d3 166.5px,#4536d3 170.3px,#484aee 179.1px,#484aee 182.9px,#484aee 191.7px,#484aee 195.5px,#484aee 204.3px,#484aee 208.1px,#4755f6 216.9px,#4755f6 220.7px,#4368fe 225.1px,#317dfb 229.5px,#317dfb 233.3px,#2d8af5 242.1px,#2d8af5 245.8px,#317efb 250.3px,#3d71ff 254.7px,#3d71ff 258.4px,#465efb 261.4px,#484df1 264.3px,#463cde 267.3px,#463cde 271.0px,#4848ec 275.4px,#4755f6 279.8px,#4755f6 283.6px,#4368fe 292.4px,#4368fe 296.2px,#4660fc 305.0px,#4660fc 308.8px,#4755f6 317.6px,#4755f6 321.4px,#484aee 330.2px,#484aee 334.0px,#484aee 342.8px,#484aee 346.6px,#484aee 355.4px,#484aee 359.2px,#484aee 368.0px,#484aee 371.8px,#484aee 380.6px,#484aee 384.3px,#484aee 393.2px,#484aee 396.9px,#4755f6 405.8px,#4755f6 409.5px,#4755f6 418.3px,#4755f6 422.1px,#484aee 430.9px,#484aee 434.4px)"></div>
<div style="position:absolute;left:0;top:37.54px;height:18.78px;background:linear-gradient(to right,#3479fd 0.0px,#3479fd 6.6px,#2c8ef1 11.0px,#23a0e5 15.4px,#23a0e5 19.2px,#13b1d7 23.6px,#07bcbf 28.0px,#07bcbf 31.8px,#1ac0b5 40.6px,#1ac0b5 43.4px,#07bcbf 47.8px,#07bcbf 49.7px,#0eb2d4 51.2px,#20a5e2 52.7px,#2895ec 54.1px,#2895ec 56.0px,#2f81fa 60.4px,#2f81fa 62.3px,#2895ec 66.7px,#2895ec 68.6px,#20a4e3 69.5px,#12b1d6 70.4px,#03bbc3 71.3px,#25c2ad 72.1px,#39c994 73.0px,#39c994 74.9px,#5ccc76 76.4px,#88cb53 77.9px,#b4c534 79.3px,#b4c534 81.2px,#d8be28 85.6px,#d8be28 87.5px,#b4c534 91.9px,#b4c534 93.8px,#82cc58 95.3px,#50cc7f 96.7px,#31c6a0 98.2px,#31c6a0 100.1px,#10beba 101.2px,#09b4d1 102.3px,#1fa6e2 103.4px,#2895ec 104.5px,#2895ec 106.4px,#2f81fa 110.8px,#2f81fa 112.7px,#2f81fa 117.1px,#2f81fa 119.0px,#2b92ef 123.4px,#2b92ef 125.3px,#2d8af5 129.7px,#2d8af5 132.5px,#347afd 136.9px,#4368fe 141.3px,#4368fe 145.1px,#4756f6 149.5px,#4743e7 153.9px,#4743e7 157.7px,#4536d3 166.5px,#4536d3 170.3px,#463cde 179.1px,#463cde 182.9px,#4743e7 191.7px,#4743e7 195.5px,#463cde 204.3px,#463cde 208.1px,#4848ec 212.5px,#4755f6 216.9px,#4755f6 220.7px,#4368fe 225.1px,#317dfb 229.5px,#317dfb 233.3px,#317dfb 242.1px,#317dfb 245.8px,#3f6eff 250.3px,#4660fc 254.7px,#4660fc 258.4px,#4755f6 267.3px,#4755f6 271.0px,#4755f6 279.8px,#4755f6 283.6px,#4660fc 292.4px,#4660fc 296.2px,#4660fc 305.0px,#4660fc 308.8px,#4755f6 317.6px,#4755f6 321.4px,#4743e7 330.2px,#4743e7 334.0px,#4743e7 342.8px,#4743e7 346.6px,#484aee 355.4px,#484aee 359.2px,#4755f6 368.0px,#4755f6 371.8px,#4755f6 380.6px,#4755f6 384.3px,#4660fc 393.2px,#4660fc 396.9px,#4660fc 405.8px,#4660fc 409.5px,#4660fc 418.3px,#4660fc 422.1px,#4755f6 426.5px,#484aee 430.9px,#484aee 434.4px)"></div>
<div style="position:absolute;left:0;top:56.31px;height:18.78px;background:linear-gradient(to right,#2c8ef2 0.0px,#2c8ef2 6.6px,#23a0e5 11.0px,#13b1d7 15.4px,#13b1d7 19.2px,#07bcbf 28.0px,#07bcbf 31.8px,#1ac0b5 40.6px,#1ac0b5 43.4px,#07bcbf 47.8px,#07bcbf 49.7px,#0fb2d5 50.8px,#20a4e3 51.9px,#2994ed 53.0px,#2f81fa 54.1px,#2f81fa 56.0px,#3e6fff 57.1px,#465efb 58.2px,#484df0 59.3px,#463cde 60.4px,#463cde 62.3px,#484aee 64.5px,#4758f8 66.7px,#4758f8 68.6px,#3f6eff 69.3px,#2e85f8 69.9px,#2798ea 70.5px,#1ca9df 71.1px,#02b7cb 71.8px,#1fc0b2 72.4px,#39c994 73.0px,#39c994 74.9px,#5ccc76 76.4px,#88cb53 77.9px,#b4c534 79.3px,#b4c534 81.2px,#d8be28 85.6px,#d8be28 87.5px,#b4c534 89.7px,#8acb52 91.9px,#8acb52 93.8px,#5ccc76 95.3px,#38c896 96.7px,#22c1b0 98.2px,#22c1b0 100.1px,#01b9c8 100.7px,#19addc 101.2px,#249de6 101.8px,#2d8cf3 102.3px,#3578fd 102.9px,#4563fd 103.4px,#4850f2 104.0px,#463cde 104.5px,#463cde 106.4px,#484aee 108.6px,#4758f8 110.8px,#4758f8 112.7px,#406dfe 114.2px,#2e83f9 115.6px,#2895ec 117.1px,#2895ec 119.0px,#20a4e3 123.4px,#20a4e3 125.3px,#2b92ef 129.7px,#2b92ef 132.5px,#317efb 136.9px,#4368fe 141.3px,#4368fe 145.1px,#4756f6 149.5px,#4743e7 153.9px,#4743e7 157.7px,#463cde 166.5px,#463cde 170.3px,#463cde 179.1px,#463cde 182.9px,#463cde 191.7px,#463cde 195.5px,#4434cf 204.3px,#4434cf 208.1px,#4744e8 212.5px,#4755f6 216.9px,#4755f6 220.7px,#4368fe 229.5px,#4368fe 233.3px,#4755f6 242.1px,#4755f6 245.8px,#4755f6 254.7px,#4755f6 258.4px,#4755f6 267.3px,#4755f6 271.0px,#4755f6 279.8px,#4755f6 283.6px,#4755f6 292.4px,#4755f6 296.2px,#4755f6 305.0px,#4755f6 308.8px,#4755f6 317.6px,#4755f6 321.4px,#4743e7 330.2px,#4743e7 334.0px,#4536d3 342.8px,#4536d3 346.6px,#484aee 355.4px,#484aee 359.2px,#484aee 368.0px,#484aee 371.8px,#463cde 380.6px,#463cde 384.3px,#4848ec 388.8px,#4755f6 393.2px,#4755f6 396.9px,#4660fc 405.8px,#4660fc 409.5px,#4660fc 418.3px,#4660fc 422.1px,#4755f6 426.5px,#484aee 430.9px,#484aee 434.4px)"></div>
<div style="position:absolute;left:0;top:75.08px;height:18.78px;background:linear-gradient(to right,#2c8ef2 0.0px,#2c8ef2 6.6px,#23a0e5 11.0px,#13b1d7 15.4px,#13b1d7 19.2px,#07bcbf 28.0px,#07bcbf 31.8px,#1ac0b5 40.6px,#1ac0b5 43.4px,#07bcbf 47.8px,#07bcbf 49.7px,#0eb2d4 51.2px,#20a5e2 52.7px,#2895ec 54.1px,#2895ec 56.0px,#2e83f9 57.1px,#3f6eff 58.2px,#475af9 59.3px,#4747eb 60.4px,#4747eb 62.3px,#475af9 63.8px,#406dfe 65.3px,#2f81fa 66.7px,#2f81fa 68.6px,#2a92ee 69.5px,#22a2e4 70.4px,#15afd9 71.3px,#01bac6 72.1px,#22c1b0 73.0px,#22c1b0 74.9px,#3bc993 76.4px,#66cd6d 77.9px,#9bc944 79.3px,#9bc944 81.2px,#b4c534 85.6px,#b4c534 87.5px,#8acb52 89.7px,#5fcd73 91.9px,#5fcd73 93.8px,#3cc991 95.3px,#29c3aa 96.7px,#07bcbf 98.2px,#07bcbf 100.1px,#10b2d5 101.0px,#21a4e3 101.9px,#2a93ed 102.7px,#2f81fa 103.6px,#406cfe 104.5px,#406cfe 106.4px,#4660fc 110.8px,#4660fc 112.7px,#406cfe 117.1px,#406cfe 119.0px,#2f80fa 121.2px,#2b92ef 123.4px,#2b92ef 125.3px,#317dfb 129.7px,#317dfb 132.5px,#4368fe 136.9px,#4755f6 141.3px,#4755f6 145.1px,#484aee 153.9px,#484aee 157.7px,#4536d3 166.5px,#4536d3 170.3px,#4536d3 179.1px,#4536d3 182.9px,#4743e7 191.7px,#4743e7 195.5px,#4743e7 204.3px,#4743e7 208.1px,#4755f6 216.9px,#4755f6 220.7px,#4755f6 229.5px,#4755f6 233.3px,#484aee 242.1px,#484aee 245.8px,#473ee2 250.3px,#4434cf 254.7px,#4434cf 258.4px,#473ee2 262.8px,#484aee 267.3px,#484aee 271.0px,#463cde 279.8px,#463cde 283.6px,#484aee 292.4px,#484aee 296.2px,#484aee 305.0px,#484aee 308.8px,#484aee 317.6px,#484aee 321.4px,#463cde 330.2px,#463cde 334.0px,#4434cf 342.8px,#4434cf 346.6px,#4743e7 355.4px,#4743e7 359.2px,#4743e7 368.0px,#4743e7 371.8px,#4434cf 380.6px,#4434cf 384.3px,#4744e8 388.8px,#4755f6 393.2px,#4755f6 396.9px,#4660fc 405.8px,#4660fc 409.5px,#4660fc 418.3px,#4660fc 422.1px,#4755f6 430.9px,#4755f6 434.4px)"></div>
<div style="position:absolute;left:0;top:93.85px;height:18.78px;background:linear-gradient(to right,#2e86f8 0.0px,#2e86f8 6.6px,#3479fd 15.4px,#3479fd 19.2px,#2d8bf3 22.1px,#259ce7 25.1px,#1babde 28.0px,#1babde 31.8px,#03b7cc 36.2px,#1ac0b5 40.6px,#1ac0b5 43.4px,#1ac0b5 47.8px,#1ac0b5 49.7px,#01b8c9 51.9px,#18aedb 54.1px,#18aedb 56.0px,#18aedb 60.4px,#18aedb 62.3px,#01b8c9 64.5px,#1ac0b5 66.7px,#1ac0b5 68.6px,#33c69e 69.5px,#4dcc82 70.4px,#76cc60 71.3px,#a3c83f 72.1px,#cbc129 73.0px,#cbc129 74.9px,#eaba31 79.3px,#eaba31 81.2px,#eaba31 85.6px,#eaba31 87.5px,#d5be28 89.7px,#bcc42f 91.9px,#bcc42f 93.8px,#87cb54 95.3px,#53cc7d 96.7px,#31c6a0 98.2px,#31c6a0 100.1px,#18bfb6 101.2px,#01b8ca 102.3px,#18addb 103.4px,#23a0e5 104.5px,#23a0e5 106.4px,#2b92ef 108.6px,#2f81fa 110.8px,#2f81fa 112.7px,#406cfe 117.1px,#406cfe 119.0px,#4368fe 123.4px,#4368fe 125.3px,#4368fe 129.7px,#4368fe 132.5px,#4759f8 136.9px,#484aee 141.3px,#484aee 145.1px,#484aee 153.9px,#484aee 157.7px,#4743e7 166.5px,#4743e7 170.3px,#484aee 179.1px,#484aee 182.9px,#484aee 191.7px,#484aee 195.5px,#484aee 204.3px,#484aee 208.1px,#484aee 216.9px,#484aee 220.7px,#484aee 229.5px,#484aee 233.3px,#4755f6 242.1px,#4755f6 245.8px,#4848ec 250.3px,#463cde 254.7px,#463cde 258.4px,#484aee 267.3px,#484aee 271.0px,#473ee2 275.4px,#4434cf 279.8px,#4434cf 283.6px,#4744e8 288.0px,#4755f6 292.4px,#4755f6 296.2px,#484aee 305.0px,#484aee 308.8px,#473ee2 313.2px,#4434cf 317.6px,#4434cf 321.4px,#4744e8 325.8px,#4755f6 330.2px,#4755f6 334.0px,#4755f6 342.8px,#4755f6 346.6px,#484aee 355.4px,#484aee 359.2px,#4743e7 368.0px,#4743e7 371.8px,#4743e7 380.6px,#4743e7 384.3px,#484aee 393.2px,#484aee 396.9px,#4755f6 405.8px,#4755f6 409.5px,#4755f6 418.3px,#4755f6 422.1px,#484aee 430.9px,#484aee 434.4px)"></div>
<div style="position:absolute;left:0;top:112.62px;height:18.78px;background:linear-gradient(to right,#3479fd 0.0px,#3479fd 6.6px,#4465fd 11.0px,#4851f4 15.4px,#4851f4 19.2px,#4851f4 28.0px,#4851f4 31.8px,#4563fd 34.0px,#3777fe 36.2px,#2d89f5 38.4px,#2699e9 40.6px,#2699e9 43.4px,#23a0e5 47.8px,#23a0e5 49.7px,#2895ec 54.1px,#2895ec 56.0px,#23a0e5 60.4px,#23a0e5 62.3px,#18aedb 63.8px,#01b8c9 65.3px,#1ac0b5 66.7px,#1ac0b5 68.6px,#35c79a 69.7px,#59cc78 70.8px,#8bcb51 71.9px,#bcc42f 73.0px,#bcc42f 74.9px,#dfbc2a 77.1px,#f9bb3d 79.3px,#f9bb3d 81.2px,#fec338 85.6px,#fec338 87.5px,#f7ba3d 89.7px,#e5bb2c 91.9px,#e5bb2c 93.8px,#bcc42f 95.3px,#8acb52 96.7px,#58cc79 98.2px,#58cc79 100.1px,#36c899 101.2px,#1fc0b2 102.3px,#01b9c8 103.4px,#18aedb 104.5px,#18aedb 106.4px,#23a0e5 107.9px,#2b92ef 109.3px,#2f81fa 110.8px,#2f81fa 112.7px,#406cfe 114.9px,#4758f8 117.1px,#4758f8 119.0px,#4755f6 123.4px,#4755f6 125.3px,#4755f6 129.7px,#4755f6 132.5px,#4848ec 136.9px,#463cde 141.3px,#463cde 145.1px,#484aee 153.9px,#484aee 157.7px,#4755f6 166.5px,#4755f6 170.3px,#4660fc 179.1px,#4660fc 182.9px,#4368fe 191.7px,#4368fe 195.5px,#3d71ff 204.3px,#3d71ff 208.1px,#4561fc 211.0px,#4852f4 213.9px,#4743e7 216.9px,#4743e7 220.7px,#4755f6 229.5px,#4755f6 233.3px,#4660fc 242.1px,#4660fc 245.8px,#4660fc 254.7px,#4660fc 258.4px,#4755f6 267.3px,#4755f6 271.0px,#4755f6 279.8px,#4755f6 283.6px,#4755f6 292.4px,#4755f6 296.2px,#4755f6 305.0px,#4755f6 308.8px,#4755f6 317.6px,#4755f6 321.4px,#4660fc 330.2px,#4660fc 334.0px,#3d71ff 342.8px,#3d71ff 346.6px,#4368fe 355.4px,#4368fe 359.2px,#4759f8 363.6px,#484aee 368.0px,#484aee 371.8px,#473ee2 376.2px,#4434cf 380.6px,#4434cf 384.3px,#4744e8 388.8px,#4755f6 393.2px,#4755f6 396.9px,#4660fc 405.8px,#4660fc 409.5px,#4660fc 418.3px,#4660fc 422.1px,#4755f6 430.9px,#4755f6 434.4px)"></div>
<div style="position:absolute;left:0;top:131.39px;height:18.78px;background:linear-gradient(to right,#3479fd 0.0px,#3479fd 6.6px,#3479fd 15.4px,#3479fd 19.2px,#2e86f8 28.0px,#2e86f8 31.8px,#2c8ef2 40.6px,#2c8ef2 43.4px,#2c8ef2 47.8px,#2c8ef2 49.7px,#2f81fa 54.1px,#2f81fa 56.0px,#2b92ef 58.2px,#23a0e5 60.4px,#23a0e5 62.3px,#17aeda 63.4px,#01b9c8 64.5px,#1ec0b2 65.6px,#35c79a 66.7px,#35c79a 68.6px,#59cc79 70.1px,#8bcb51 71.6px,#bcc42f 73.0px,#bcc42f 74.9px,#dabd28 76.4px,#f3ba39 77.9px,#fec338 79.3px,#fec338 81.2px,#fdce31 85.6px,#fdce31 87.5px,#f9bb3d 91.9px,#f9bb3d 93.8px,#dfbc2a 94.9px,#bcc42f 96.0px,#93ca4b 97.1px,#67cd6c 98.2px,#67cd6c 100.1px,#42ca8b 101.2px,#2dc4a5 102.3px,#0fbeba 103.4px,#05b6ce 104.5px,#05b6ce 106.4px,#1ea7e1 107.9px,#2895ec 109.3px,#2f81fa 110.8px,#2f81fa 112.7px,#3f6dfe 113.8px,#475af9 114.9px,#4747ec 116.0px,#4536d3 117.1px,#4536d3 119.0px,#4745e9 121.2px,#4755f6 123.4px,#4755f6 125.3px,#4368fe 129.7px,#4368fe 132.5px,#4368fe 141.3px,#4368fe 145.1px,#4368fe 153.9px,#4368fe 157.7px,#4368fe 166.5px,#4368fe 170.3px,#3d71ff 179.1px,#3d71ff 182.9px,#3d71ff 191.7px,#3d71ff 195.5px,#317dfb 204.3px,#317dfb 208.1px,#3f6eff 212.5px,#4660fc 216.9px,#4660fc 220.7px,#3d71ff 229.5px,#3d71ff 233.3px,#317dfb 242.1px,#317dfb 245.8px,#2e86f8 254.7px,#2e86f8 258.4px,#3677fe 262.8px,#4368fe 267.3px,#4368fe 271.0px,#4660fc 279.8px,#4660fc 283.6px,#4660fc 292.4px,#4660fc 296.2px,#4660fc 305.0px,#4660fc 308.8px,#4368fe 317.6px,#4368fe 321.4px,#317dfb 330.2px,#317dfb 334.0px,#2e86f8 342.8px,#2e86f8 346.6px,#3d71ff 355.4px,#3d71ff 359.2px,#4562fc 363.6px,#4755f6 368.0px,#4755f6 371.8px,#4743e7 380.6px,#4743e7 384.3px,#484aee 393.2px,#484aee 396.9px,#4755f6 405.8px,#4755f6 409.5px,#4755f6 418.3px,#4755f6 422.1px,#484aee 430.9px,#484aee 434.4px)"></div>
<div style="position:absolute;left:0;top:150.16px;height:18.78px;background:linear-gradient(to right,#3479fd 0.0px,#3479fd 6.6px,#3479fd 15.4px,#3479fd 19.2px,#3479fd 28.0px,#3479fd 31.8px,#426afe 36.2px,#475cfa 40.6px,#475cfa 43.4px,#4464fd 47.8px,#4464fd 49.7px,#406cfe 54.1px,#406cfe 56.0px,#2f81fa 60.4px,#2f81fa 62.3px,#2895ec 64.5px,#1ea7e1 66.7px,#1ea7e1 68.6px,#0cb3d3 70.1px,#07bcc0 71.6px,#28c3ab 73.0px,#28c3ab 74.9px,#3ac994 76.4px,#5acc78 77.9px,#81cc58 79.3px,#81cc58 81.2px,#a6c73c 82.7px,#c8c129 84.2px,#e5bb2c 85.6px,#e5bb2c 87.5px,#f0ba36 91.9px,#f0ba36 93.8px,#d2bf27 96.0px,#acc738 98.2px,#acc738 100.1px,#7fcc5a 101.6px,#54cc7d 103.0px,#35c79a 104.5px,#35c79a 106.4px,#17bfb6 107.9px,#06b5cf 109.3px,#1ea7e1 110.8px,#1ea7e1 112.7px,#2797eb 113.6px,#2e84f8 114.5px,#3e6fff 115.3px,#475af9 116.2px,#4747eb 117.1px,#4747eb 119.0px,#4758f8 120.5px,#426afe 121.9px,#317dfb 123.4px,#317dfb 125.3px,#317dfb 129.7px,#317dfb 132.5px,#317dfb 141.3px,#317dfb 145.1px,#4368fe 153.9px,#4368fe 157.7px,#4660fc 166.5px,#4660fc 170.3px,#4660fc 179.1px,#4660fc 182.9px,#4660fc 191.7px,#4660fc 195.5px,#4660fc 204.3px,#4660fc 208.1px,#3d71ff 216.9px,#3d71ff 220.7px,#317dfb 229.5px,#317dfb 233.3px,#2d8af5 242.1px,#2d8af5 245.8px,#2b92ef 254.7px,#2b92ef 258.4px,#317dfb 267.3px,#317dfb 271.0px,#4368fe 275.4px,#4755f6 279.8px,#4755f6 283.6px,#4755f6 292.4px,#4755f6 296.2px,#4660fc 305.0px,#4660fc 308.8px,#3d71ff 317.6px,#3d71ff 321.4px,#2e86f8 330.2px,#2e86f8 334.0px,#2e86f8 342.8px,#2e86f8 346.6px,#3d71ff 355.4px,#3d71ff 359.2px,#4562fc 363.6px,#4755f6 368.0px,#4755f6 371.8px,#484aee 380.6px,#484aee 384.3px,#4755f6 393.2px,#4755f6 396.9px,#4755f6 405.8px,#4755f6 409.5px,#4755f6 418.3px,#4755f6 422.1px,#4755f6 430.9px,#4755f6 434.4px)"></div>
<div style="position:absolute;left:0;top:168.93px;height:18.78px;background:linear-gradient(to right,#406cfe 0.0px,#406cfe 6.6px,#3479fd 11.0px,#2e86f8 15.4px,#2e86f8 19.2px,#2c8ef2 28.0px,#2c8ef2 31.8px,#317dfc 34.0px,#426afe 36.2px,#4758f8 38.4px,#4747eb 40.6px,#4747eb 43.4px,#473fe3 47.8px,#473fe3 49.7px,#484ef1 51.2px,#465dfa 52.7px,#406cfe 54.1px,#406cfe 56.0px,#3479fd 60.4px,#3479fd 62.3px,#2f81fa 66.7px,#2f81fa 68.6px,#2895ec 70.8px,#1ea7e1 73.0px,#1ea7e1 74.9px,#06b5cf 76.4px,#17bfb6 77.9px,#35c79a 79.3px,#35c79a 81.2px,#4fcc81 82.7px,#73cd63 84.2px,#9bc944 85.6px,#9bc944 87.5px,#b8c431 89.7px,#d2bf27 91.9px,#d2bf27 93.8px,#bcc42f 98.2px,#bcc42f 100.1px,#8bcb51 101.6px,#59cc79 103.0px,#35c79a 104.5px,#35c79a 106.4px,#18bfb6 108.6px,#05b6ce 110.8px,#05b6ce 112.7px,#1ea7e1 114.9px,#2895ec 117.1px,#2895ec 119.0px,#2b92ef 123.4px,#2b92ef 125.3px,#2b92ef 129.7px,#2b92ef 132.5px,#2d8af5 141.3px,#2d8af5 145.1px,#3875fe 149.5px,#4660fc 153.9px,#4660fc 157.7px,#4755f6 162.1px,#484aee 166.5px,#484aee 170.3px,#484aee 179.1px,#484aee 182.9px,#484aee 191.7px,#484aee 195.5px,#4755f6 204.3px,#4755f6 208.1px,#4368fe 212.5px,#317dfb 216.9px,#317dfb 220.7px,#317dfb 229.5px,#317dfb 233.3px,#317dfb 242.1px,#317dfb 245.8px,#317dfb 254.7px,#317dfb 258.4px,#317dfb 267.3px,#317dfb 271.0px,#4368fe 275.4px,#4755f6 279.8px,#4755f6 283.6px,#4743e7 292.4px,#4743e7 296.2px,#4743e7 305.0px,#4743e7 308.8px,#4756f6 313.2px,#4368fe 317.6px,#4368fe 321.4px,#3677fe 325.8px,#2e86f8 330.2px,#2e86f8 334.0px,#317dfb 342.8px,#317dfb 346.6px,#4368fe 351.0px,#4755f6 355.4px,#4755f6 359.2px,#4755f6 368.0px,#4755f6 371.8px,#4755f6 380.6px,#4755f6 384.3px,#4755f6 393.2px,#4755f6 396.9px,#4755f6 405.8px,#4755f6 409.5px,#4755f6 418.3px,#4755f6 422.1px,#4755f6 430.9px,#4755f6 434.4px)"></div>
<div style="position:absolute;left:0;top:187.7px;height:18.78px;background:linear-gradient(to right,#406cfe 0.0px,#406cfe 6.6px,#3479fd 15.4px,#3479fd 19.2px,#3479fd 28.0px,#3479fd 31.8px,#4464fd 40.6px,#4464fd 43.4px,#4464fd 47.8px,#4464fd 49.7px,#4758f8 54.1px,#4758f8 56.0px,#4660fc 60.4px,#4660fc 62.3px,#4758f8 66.7px,#4758f8 68.6px,#4744e9 70.8px,#4433cb 73.0px,#4433cb 74.9px,#4743e7 75.5px,#4756f6 76.2px,#4369fe 76.8px,#317dfc 77.4px,#2c8ff1 78.1px,#249fe5 78.7px,#18aedb 79.3px,#18aedb 81.2px,#01b8ca 82.3px,#17bfb6 83.4px,#30c5a1 84.5px,#46cb87 85.6px,#46cb87 87.5px,#72cd64 88.6px,#a2c83f 89.7px,#cec028 90.8px,#f0ba36 91.9px,#f0ba36 93.8px,#fec338 98.2px,#fec338 100.1px,#f7ba3d 102.3px,#e5bb2c 104.5px,#e5bb2c 106.4px,#bcc42f 107.9px,#8acb52 109.3px,#58cc79 110.8px,#58cc79 112.7px,#34c79b 114.2px,#17bfb6 115.6px,#05b6ce 117.1px,#05b6ce 119.0px,#18aedb 121.2px,#20a4e3 123.4px,#20a4e3 125.3px,#2797ea 127.5px,#2d8af5 129.7px,#2d8af5 132.5px,#317efb 136.9px,#3d71ff 141.3px,#3d71ff 145.1px,#4562fc 149.5px,#4755f6 153.9px,#4755f6 157.7px,#4848ec 162.1px,#463cde 166.5px,#463cde 170.3px,#4536d3 179.1px,#4536d3 182.9px,#4743e7 191.7px,#4743e7 195.5px,#4755f6 204.3px,#4755f6 208.1px,#4368fe 212.5px,#317dfb 216.9px,#317dfb 220.7px,#4368fe 229.5px,#4368fe 233.3px,#4755f6 242.1px,#4755f6 245.8px,#4660fc 254.7px,#4660fc 258.4px,#4660fc 267.3px,#4660fc 271.0px,#4755f6 279.8px,#4755f6 283.6px,#4848ec 288.0px,#463cde 292.4px,#463cde 296.2px,#4743e7 305.0px,#4743e7 308.8px,#4756f6 313.2px,#4368fe 317.6px,#4368fe 321.4px,#317dfb 330.2px,#317dfb 334.0px,#317dfb 342.8px,#317dfb 346.6px,#4368fe 351.0px,#4755f6 355.4px,#4755f6 359.2px,#484aee 368.0px,#484aee 371.8px,#4755f6 380.6px,#4755f6 384.3px,#4755f6 393.2px,#4755f6 396.9px,#4755f6 405.8px,#4755f6 409.5px,#4755f6 418.3px,#4755f6 422.1px,#4755f6 430.9px,#4755f6 434.4px)"></div>
<div style="position:absolute;left:0;top:206.47px;height:18.78px;background:linear-gradient(to right,#3479fd 0.0px,#3479fd 6.6px,#3479fd 15.4px,#3479fd 19.2px,#3479fd 28.0px,#3479fd 31.8px,#3479fd 40.6px,#3479fd 43.4px,#3479fd 47.8px,#3479fd 49.7px,#406cfe 54.1px,#406cfe 56.0px,#406cfe 60.4px,#406cfe 62.3px,#4758f8 66.7px,#4758f8 68.6px,#4660fc 73.0px,#4660fc 74.9px,#3974fe 75.8px,#2d88f6 76.7px,#2699e9 77.6px,#1ca9e0 78.4px,#05b6ce 79.3px,#05b6ce 81.2px,#17bfb6 82.7px,#34c79b 84.2px,#58cc79 85.6px,#58cc79 87.5px,#86cb55 88.6px,#b4c534 89.7px,#dbbd29 90.8px,#f9bb3d 91.9px,#f9bb3d 93.8px,#fdcb33 96.0px,#f6de29 98.2px,#f6de29 100.1px,#fad62d 104.5px,#fad62d 106.4px,#fec03b 108.6px,#e5bb2c 110.8px,#e5bb2c 112.7px,#bcc42f 113.8px,#8bcb51 114.9px,#59cc78 116.0px,#35c79a 117.1px,#35c79a 119.0px,#1dc0b3 121.2px,#01b8c9 123.4px,#01b8c9 125.3px,#1aacdd 126.8px,#259ce7 128.2px,#2d8af5 129.7px,#2d8af5 132.5px,#3578fd 135.5px,#4466fd 138.4px,#4755f6 141.3px,#4755f6 145.1px,#484aee 153.9px,#484aee 157.7px,#4536d3 166.5px,#4536d3 170.3px,#4433cb 179.1px,#4433cb 182.9px,#4743e7 191.7px,#4743e7 195.5px,#484aee 204.3px,#484aee 208.1px,#4755f6 212.5px,#4660fc 216.9px,#4660fc 220.7px,#4755f6 229.5px,#4755f6 233.3px,#4745e9 237.7px,#4536d3 242.1px,#4536d3 245.8px,#4745e9 250.3px,#4755f6 254.7px,#4755f6 258.4px,#4660fc 267.3px,#4660fc 271.0px,#4852f4 275.4px,#4743e7 279.8px,#4743e7 283.6px,#4433cb 292.4px,#4433cb 296.2px,#4433cb 305.0px,#4433cb 308.8px,#4743e7 313.2px,#4755f6 317.6px,#4755f6 321.4px,#4368fe 330.2px,#4368fe 334.0px,#4660fc 342.8px,#4660fc 346.6px,#4755f6 355.4px,#4755f6 359.2px,#4744e8 363.6px,#4434cf 368.0px,#4434cf 371.8px,#4744e8 376.2px,#4755f6 380.6px,#4755f6 384.3px,#4755f6 393.2px,#4755f6 396.9px,#4755f6 405.8px,#4755f6 409.5px,#4755f6 418.3px,#4755f6 422.1px,#484aee 430.9px,#484aee 434.4px)"></div>
<div style="position:absolute;left:0;top:225.24px;height:18.78px;background:linear-gradient(to right,#4851f4 0.0px,#4851f4 6.6px,#4464fd 15.4px,#4464fd 19.2px,#3479fd 28.0px,#3479fd 31.8px,#3479fd 40.6px,#3479fd 43.4px,#3479fd 47.8px,#3479fd 49.7px,#406cfe 54.1px,#406cfe 56.0px,#4660fc 60.4px,#4660fc 62.3px,#406cfe 66.7px,#406cfe 68.6px,#2f82f9 70.8px,#2895ec 73.0px,#2895ec 74.9px,#1ea7e1 76.0px,#06b5cf 77.1px,#17bfb6 78.2px,#35c79a 79.3px,#35c79a 81.2px,#53cc7d 82.3px,#7ecc5b 83.4px,#aac73a 84.5px,#d2bf27 85.6px,#d2bf27 87.5px,#f3ba39 89.0px,#fec834 90.4px,#f6de29 91.9px,#f6de29 93.8px,#f6f01f 98.2px,#f6f01f 100.1px,#f5e327 102.3px,#fad62d 104.5px,#fad62d 106.4px,#fec338 107.9px,#f0ba36 109.3px,#d2bf27 110.8px,#d2bf27 112.7px,#aac73a 113.8px,#7ecc5b 114.9px,#53cc7d 116.0px,#35c79a 117.1px,#35c79a 119.0px,#1dc0b3 121.2px,#01b8c9 123.4px,#01b8c9 125.3px,#1aacdd 126.8px,#259ce7 128.2px,#2d8af5 129.7px,#2d8af5 132.5px,#3578fd 134.7px,#4466fd 136.9px,#4854f6 139.1px,#4743e7 141.3px,#4743e7 145.1px,#484aee 153.9px,#484aee 157.7px,#484aee 166.5px,#484aee 170.3px,#463cde 179.1px,#463cde 182.9px,#4743e7 191.7px,#4743e7 195.5px,#4743e7 204.3px,#4743e7 208.1px,#484aee 216.9px,#484aee 220.7px,#484aee 229.5px,#484aee 233.3px,#4536d3 242.1px,#4536d3 245.8px,#484aee 254.7px,#484aee 258.4px,#4755f6 267.3px,#4755f6 271.0px,#484aee 279.8px,#484aee 283.6px,#463cde 292.4px,#463cde 296.2px,#463cde 305.0px,#463cde 308.8px,#484aee 317.6px,#484aee 321.4px,#4755f6 330.2px,#4755f6 334.0px,#484aee 342.8px,#484aee 346.6px,#4743e7 355.4px,#4743e7 359.2px,#463cde 368.0px,#463cde 371.8px,#4743e7 380.6px,#4743e7 384.3px,#4743e7 393.2px,#4743e7 396.9px,#4743e7 405.8px,#4743e7 409.5px,#4743e7 418.3px,#4743e7 422.1px,#4536d3 430.9px,#4536d3 434.4px)"></div>
<div style="position:absolute;left:0;top:244.01px;height:18.78px;background:linear-gradient(to right,#4851f4 0.0px,#4851f4 6.6px,#4464fd 15.4px,#4464fd 19.2px,#406cfe 28.0px,#406cfe 31.8px,#406cfe 40.6px,#406cfe 43.4px,#4464fd 47.8px,#4464fd 49.7px,#4850f3 51.9px,#463cde 54.1px,#463cde 56.0px,#484ef1 58.2px,#4660fc 60.4px,#4660fc 62.3px,#3b73fe 63.8px,#2e85f8 65.3px,#2895ec 66.7px,#2895ec 68.6px,#1ea7e1 70.1px,#05b6ce 71.6px,#1ac0b5 73.0px,#1ac0b5 74.9px,#32c69f 76.0px,#4acb84 77.1px,#70cd65 78.2px,#9bc944 79.3px,#9bc944 81.2px,#c8c129 82.7px,#ecba32 84.2px,#fec338 85.6px,#fec338 87.5px,#fad62d 89.7px,#f5e924 91.9px,#f5e924 93.8px,#f7dc2a 96.0px,#fdce31 98.2px,#fdce31 100.1px,#febf3b 101.6px,#ecba32 103.0px,#d2bf27 104.5px,#d2bf27 106.4px,#acc738 107.9px,#81cc58 109.3px,#58cc79 110.8px,#58cc79 112.7px,#36c899 113.8px,#1fc0b2 114.9px,#01b9c8 116.0px,#18aedb 117.1px,#18aedb 119.0px,#20a4e3 123.4px,#20a4e3 125.3px,#2b92ee 127.5px,#317dfb 129.7px,#317dfb 132.5px,#4367fd 135.5px,#4851f3 138.4px,#463cde 141.3px,#463cde 145.1px,#4848ec 149.5px,#4755f6 153.9px,#4755f6 157.7px,#4755f6 166.5px,#4755f6 170.3px,#4755f6 179.1px,#4755f6 182.9px,#484aee 191.7px,#484aee 195.5px,#473ee2 199.9px,#4434cf 204.3px,#4434cf 208.1px,#463cde 216.9px,#463cde 220.7px,#484aee 229.5px,#484aee 233.3px,#484aee 242.1px,#484aee 245.8px,#484aee 254.7px,#484aee 258.4px,#484aee 267.3px,#484aee 271.0px,#4755f6 279.8px,#4755f6 283.6px,#4755f6 292.4px,#4755f6 296.2px,#4755f6 305.0px,#4755f6 308.8px,#4368fe 317.6px,#4368fe 321.4px,#4660fc 330.2px,#4660fc 334.0px,#4851f3 336.9px,#4742e6 339.9px,#4434cf 342.8px,#4434cf 346.6px,#473ee2 351.0px,#484aee 355.4px,#484aee 359.2px,#484aee 368.0px,#484aee 371.8px,#463cde 380.6px,#463cde 384.3px,#4743e7 393.2px,#4743e7 396.9px,#4743e7 405.8px,#4743e7 409.5px,#4743e7 418.3px,#4743e7 422.1px,#463cde 430.9px,#463cde 434.4px)"></div>
<div style="position:absolute;left:0;top:262.78px;height:18.78px;background:linear-gradient(to right,#4434cf 0.0px,#4434cf 6.6px,#473fe3 15.4px,#473fe3 19.2px,#4747eb 28.0px,#4747eb 31.8px,#4851f4 40.6px,#4851f4 43.4px,#4851f4 47.8px,#4851f4 49.7px,#4743e7 51.9px,#4536d3 54.1px,#4536d3 56.0px,#463cde 60.4px,#463cde 62.3px,#484ef1 63.2px,#465ffb 64.1px,#3b72ff 65.0px,#2e85f8 65.9px,#2895ec 66.7px,#2895ec 68.6px,#1ea7e1 70.1px,#05b6ce 71.6px,#1ac0b5 73.0px,#1ac0b5 74.9px,#35c79a 76.0px,#59cc78 77.1px,#8bcb51 78.2px,#bcc42f 79.3px,#bcc42f 81.2px,#dfbc2a 82.3px,#f9bb3d 83.4px,#fdcb33 84.5px,#f6de29 85.6px,#f6de29 87.5px,#f5e924 91.9px,#f5e924 93.8px,#f8d92c 95.3px,#fec834 96.7px,#f9bb3d 98.2px,#f9bb3d 100.1px,#dbbd29 101.2px,#b4c534 102.3px,#86cb55 103.4px,#58cc79 104.5px,#58cc79 106.4px,#36c899 107.5px,#1fc0b2 108.6px,#01b9c8 109.7px,#18aedb 110.8px,#18aedb 112.7px,#23a0e5 114.2px,#2b92ef 115.6px,#2f81fa 117.1px,#2f81fa 119.0px,#317dfb 123.4px,#317dfb 125.3px,#317dfb 129.7px,#317dfb 132.5px,#3d71ff 141.3px,#3d71ff 145.1px,#3d71ff 153.9px,#3d71ff 157.7px,#4368fe 166.5px,#4368fe 170.3px,#4368fe 179.1px,#4368fe 182.9px,#4660fc 191.7px,#4660fc 195.5px,#4755f6 204.3px,#4755f6 208.1px,#4848ec 212.5px,#463cde 216.9px,#463cde 220.7px,#463cde 229.5px,#463cde 233.3px,#4743e7 242.1px,#4743e7 245.8px,#4743e7 254.7px,#4743e7 258.4px,#4743e7 267.3px,#4743e7 271.0px,#484aee 279.8px,#484aee 283.6px,#4755f6 288.0px,#4660fc 292.4px,#4660fc 296.2px,#3d71ff 305.0px,#3d71ff 308.8px,#317dfb 317.6px,#317dfb 321.4px,#3f6eff 325.8px,#4660fc 330.2px,#4660fc 334.0px,#484ef1 338.4px,#463cde 342.8px,#463cde 346.6px,#484aee 355.4px,#484aee 359.2px,#484aee 368.0px,#484aee 371.8px,#473ee2 376.2px,#4434cf 380.6px,#4434cf 384.3px,#4743e7 393.2px,#4743e7 396.9px,#4743e7 405.8px,#4743e7 409.5px,#4743e7 418.3px,#4743e7 422.1px,#463cde 430.9px,#463cde 434.4px)"></div>
<div style="position:absolute;left:0;top:281.55px;height:18.78px;background:linear-gradient(to right,#473fe3 0.0px,#473fe3 6.6px,#4747eb 15.4px,#4747eb 19.2px,#4851f4 28.0px,#4851f4 31.8px,#473fe3 40.6px,#473fe3 43.4px,#4539d9 47.8px,#4539d9 49.7px,#4433cb 54.1px,#4433cb 56.0px,#463cde 58.2px,#4747eb 60.4px,#4747eb 62.3px,#475af9 63.4px,#3f6eff 64.5px,#2e83f9 65.6px,#2895ec 66.7px,#2895ec 68.6px,#1ea7e1 69.7px,#06b5cf 70.8px,#17bfb6 71.9px,#35c79a 73.0px,#35c79a 74.9px,#59cc78 76.0px,#8bcb51 77.1px,#bcc42f 78.2px,#e5bb2c 79.3px,#e5bb2c 81.2px,#febf3b 82.7px,#fbd32e 84.2px,#f5e924 85.6px,#f5e924 87.5px,#f6de29 91.9px,#f6de29 93.8px,#fdcb33 94.9px,#f9bb3d 96.0px,#dfbc2a 97.1px,#bcc42f 98.2px,#bcc42f 100.1px,#8bcb51 101.2px,#59cc78 102.3px,#35c79a 103.4px,#1ac0b5 104.5px,#1ac0b5 106.4px,#05b6ce 107.9px,#1ea7e1 109.3px,#2895ec 110.8px,#2895ec 112.7px,#2f81fa 113.6px,#416bfe 114.5px,#4755f6 115.3px,#473fe3 116.2px,#422ebe 117.1px,#422ebe 119.0px,#463cde 120.1px,#484df0 121.2px,#465efb 122.3px,#3d71ff 123.4px,#3d71ff 125.3px,#3d71ff 129.7px,#3d71ff 132.5px,#317dfb 141.3px,#317dfb 145.1px,#317dfb 153.9px,#317dfb 157.7px,#3d71ff 166.5px,#3d71ff 170.3px,#4368fe 179.1px,#4368fe 182.9px,#4660fc 191.7px,#4660fc 195.5px,#4755f6 204.3px,#4755f6 208.1px,#4743e7 216.9px,#4743e7 220.7px,#4536d3 229.5px,#4536d3 233.3px,#4536d3 242.1px,#4536d3 245.8px,#4536d3 254.7px,#4536d3 258.4px,#4536d3 267.3px,#4536d3 271.0px,#484aee 279.8px,#484aee 283.6px,#4755f6 288.0px,#4660fc 292.4px,#4660fc 296.2px,#3f6eff 300.6px,#317dfb 305.0px,#317dfb 308.8px,#2e86f8 317.6px,#2e86f8 321.4px,#3875fe 324.3px,#4465fd 327.3px,#4755f6 330.2px,#4755f6 334.0px,#484aee 342.8px,#484aee 346.6px,#4743e7 355.4px,#4743e7 359.2px,#4743e7 368.0px,#4743e7 371.8px,#4743e7 380.6px,#4743e7 384.3px,#4743e7 393.2px,#4743e7 396.9px,#463cde 405.8px,#463cde 409.5px,#463cde 418.3px,#463cde 422.1px,#4536d3 430.9px,#4536d3 434.4px)"></div>
<div style="position:absolute;left:0;top:300.32px;height:18.78px;background:linear-gradient(to right,#473fe3 0.0px,#473fe3 6.6px,#4747eb 15.4px,#4747eb 19.2px,#4747eb 28.0px,#4747eb 31.8px,#4747eb 40.6px,#4747eb 43.4px,#4747eb 47.8px,#4747eb 49.7px,#463cde 51.9px,#4433cb 54.1px,#4433cb 56.0px,#4744e9 58.2px,#4758f8 60.4px,#4758f8 62.3px,#406dfe 63.8px,#2e83f9 65.3px,#2895ec 66.7px,#2895ec 68.6px,#20a5e3 69.7px,#10b2d5 70.8px,#05bbc1 71.9px,#28c3ab 73.0px,#28c3ab 74.9px,#3dc991 76.0px,#62cd70 77.1px,#90ca4d 78.2px,#bcc42f 79.3px,#bcc42f 81.2px,#dfbc2a 82.3px,#f9bb3d 83.4px,#fdcb33 84.5px,#f6de29 85.6px,#f6de29 87.5px,#f6f01f 91.9px,#f6f01f 93.8px,#f6e029 96.0px,#fdce31 98.2px,#fdce31 100.1px,#fbbc3d 101.0px,#ddbd29 101.9px,#b6c533 102.7px,#87cb54 103.6px,#58cc79 104.5px,#58cc79 106.4px,#34c79c 107.5px,#16bfb7 108.6px,#06b5cf 109.7px,#1ea7e1 110.8px,#1ea7e1 112.7px,#2796eb 113.8px,#2e83f9 114.9px,#3f6dfe 116.0px,#4758f8 117.1px,#4758f8 119.0px,#4368fe 123.4px,#4368fe 125.3px,#3d71ff 129.7px,#3d71ff 132.5px,#317dfb 141.3px,#317dfb 145.1px,#317dfb 153.9px,#317dfb 157.7px,#3d71ff 166.5px,#3d71ff 170.3px,#3d71ff 179.1px,#3d71ff 182.9px,#4660fc 191.7px,#4660fc 195.5px,#4755f6 204.3px,#4755f6 208.1px,#484aee 216.9px,#484aee 220.7px,#4536d3 229.5px,#4536d3 233.3px,#4743e7 242.1px,#4743e7 245.8px,#463cde 254.7px,#463cde 258.4px,#4743e7 267.3px,#4743e7 271.0px,#463cde 279.8px,#463cde 283.6px,#484aee 292.4px,#484aee 296.2px,#465dfa 300.6px,#3d71ff 305.0px,#3d71ff 308.8px,#317dfb 317.6px,#317dfb 321.4px,#3f6eff 325.8px,#4660fc 330.2px,#4660fc 334.0px,#4755f6 342.8px,#4755f6 346.6px,#484aee 355.4px,#484aee 359.2px,#4743e7 368.0px,#4743e7 371.8px,#463cde 380.6px,#463cde 384.3px,#4743e7 393.2px,#4743e7 396.9px,#4743e7 405.8px,#4743e7 409.5px,#463cde 418.3px,#463cde 422.1px,#4434cf 430.9px,#4434cf 434.4px)"></div>
<div style="position:absolute;left:0;top:319.09px;height:18.78px;background:linear-gradient(to right,#4747eb 0.0px,#4747eb 6.6px,#4747eb 15.4px,#4747eb 19.2px,#4747eb 28.0px,#4747eb 31.8px,#4747eb 40.6px,#4747eb 43.4px,#4747eb 47.8px,#4747eb 49.7px,#4536d3 54.1px,#4536d3 56.0px,#4743e7 57.5px,#4852f4 59.0px,#4660fc 60.4px,#4660fc 62.3px,#3b73fe 63.8px,#2e85f8 65.3px,#2895ec 66.7px,#2895ec 68.6px,#1ea7e1 70.1px,#05b6ce 71.6px,#1ac0b5 73.0px,#1ac0b5 74.9px,#35c79a 75.8px,#5acc78 76.7px,#8ccb50 77.6px,#bcc42f 78.4px,#e5bb2c 79.3px,#e5bb2c 81.2px,#febf3b 82.7px,#fbd32e 84.2px,#f5e924 85.6px,#f5e924 87.5px,#f9fb15 91.9px,#f9fb15 93.8px,#f5e924 98.2px,#f5e924 100.1px,#fbd32e 101.2px,#febe3c 102.3px,#e3bc2c 103.4px,#bcc42f 104.5px,#bcc42f 106.4px,#8acb51 107.3px,#58cc79 108.2px,#34c79b 109.0px,#18bfb6 109.9px,#05b6ce 110.8px,#05b6ce 112.7px,#1ea7e1 114.9px,#2895ec 117.1px,#2895ec 119.0px,#2d88f6 120.5px,#3578fd 121.9px,#4368fe 123.4px,#4368fe 125.3px,#4660fc 129.7px,#4660fc 132.5px,#4660fc 141.3px,#4660fc 145.1px,#4660fc 153.9px,#4660fc 157.7px,#4368fe 166.5px,#4368fe 170.3px,#4368fe 179.1px,#4368fe 182.9px,#4368fe 191.7px,#4368fe 195.5px,#4660fc 204.3px,#4660fc 208.1px,#4755f6 212.5px,#484aee 216.9px,#484aee 220.7px,#4743e7 229.5px,#4743e7 233.3px,#4743e7 242.1px,#4743e7 245.8px,#4743e7 254.7px,#4743e7 258.4px,#4743e7 267.3px,#4743e7 271.0px,#4536d3 279.8px,#4536d3 283.6px,#4745e9 288.0px,#4755f6 292.4px,#4755f6 296.2px,#4368fe 300.6px,#317dfb 305.0px,#317dfb 308.8px,#317dfb 317.6px,#317dfb 321.4px,#4368fe 325.8px,#4755f6 330.2px,#4755f6 334.0px,#484aee 342.8px,#484aee 346.6px,#484aee 355.4px,#484aee 359.2px,#4743e7 368.0px,#4743e7 371.8px,#4536d3 380.6px,#4536d3 384.3px,#484aee 393.2px,#484aee 396.9px,#484aee 405.8px,#484aee 409.5px,#484aee 418.3px,#484aee 422.1px,#4743e7 430.9px,#4743e7 434.4px)"></div>
<div style="position:absolute;left:0;top:337.86px;height:18.78px;background:linear-gradient(to right,#4747eb 0.0px,#4747eb 6.6px,#4851f4 11.0px,#475cfa 15.4px,#475cfa 19.2px,#426afe 23.6px,#3479fd 28.0px,#3479fd 31.8px,#426afe 36.2px,#475cfa 40.6px,#475cfa 43.4px,#4851f4 47.8px,#4851f4 49.7px,#4747eb 54.1px,#4747eb 56.0px,#4758f8 60.4px,#4758f8 62.3px,#406cfe 64.5px,#2f81fa 66.7px,#2f81fa 68.6px,#2895ec 69.7px,#1ea7e1 70.8px,#05b6ce 71.9px,#1ac0b5 73.0px,#1ac0b5 74.9px,#35c79a 76.0px,#59cc78 77.1px,#8bcb51 78.2px,#bcc42f 79.3px,#bcc42f 81.2px,#e1bc2b 82.7px,#fcbc3d 84.2px,#fdce31 85.6px,#fdce31 87.5px,#f5e526 89.7px,#f9fb15 91.9px,#f9fb15 93.8px,#f5e924 98.2px,#f5e924 100.1px,#fad62d 102.3px,#fec338 104.5px,#fec338 106.4px,#e9bb30 107.5px,#c0c32d 108.6px,#8ccb50 109.7px,#58cc79 110.8px,#58cc79 112.7px,#36c899 113.8px,#1fc0b2 114.9px,#01b9c8 116.0px,#18aedb 117.1px,#18aedb 119.0px,#249fe5 120.5px,#2c8ff0 121.9px,#317dfb 123.4px,#317dfb 125.3px,#426afe 126.4px,#4758f8 127.5px,#4746eb 128.6px,#4536d3 129.7px,#4536d3 132.5px,#4745e9 136.9px,#4755f6 141.3px,#4755f6 145.1px,#4743e7 153.9px,#4743e7 157.7px,#463cde 166.5px,#463cde 170.3px,#4848ec 174.7px,#4755f6 179.1px,#4755f6 182.9px,#4755f6 191.7px,#4755f6 195.5px,#4755f6 204.3px,#4755f6 208.1px,#4755f6 216.9px,#4755f6 220.7px,#484aee 229.5px,#484aee 233.3px,#484aee 242.1px,#484aee 245.8px,#484aee 254.7px,#484aee 258.4px,#484aee 267.3px,#484aee 271.0px,#484aee 279.8px,#484aee 283.6px,#4755f6 292.4px,#4755f6 296.2px,#4368fe 300.6px,#317dfb 305.0px,#317dfb 308.8px,#3d71ff 317.6px,#3d71ff 321.4px,#465efb 324.3px,#484df1 327.3px,#463cde 330.2px,#463cde 334.0px,#484aee 342.8px,#484aee 346.6px,#4755f6 355.4px,#4755f6 359.2px,#484aee 368.0px,#484aee 371.8px,#4536d3 380.6px,#4536d3 384.3px,#4745e9 388.8px,#4755f6 393.2px,#4755f6 396.9px,#4755f6 405.8px,#4755f6 409.5px,#4755f6 418.3px,#4755f6 422.1px,#4755f6 430.9px,#4755f6 434.4px)"></div>
<div style="position:absolute;left:0;top:356.63px;height:18.78px;background:linear-gradient(to right,#4851f4 0.0px,#4851f4 6.6px,#4464fd 15.4px,#4464fd 19.2px,#4464fd 28.0px,#4464fd 31.8px,#406cfe 40.6px,#406cfe 43.4px,#4464fd 47.8px,#4464fd 49.7px,#4758f8 54.1px,#4758f8 56.0px,#4660fc 60.4px,#4660fc 62.3px,#3d71ff 64.5px,#2f81fa 66.7px,#2f81fa 68.6px,#2895ec 70.1px,#1ea7e1 71.6px,#05b6ce 73.0px,#05b6ce 74.9px,#16bfb7 76.0px,#33c69e 77.1px,#52cc7e 78.2px,#81cc58 79.3px,#81cc58 81.2px,#b1c635 82.7px,#dabd28 84.2px,#f9bb3d 85.6px,#f9bb3d 87.5px,#fec834 89.0px,#f8d92c 90.4px,#f5e924 91.9px,#f5e924 93.8px,#f9fb15 98.2px,#f9fb15 100.1px,#f5e526 102.3px,#fdce31 104.5px,#fdce31 106.4px,#fcbc3d 107.9px,#e1bc2b 109.3px,#bcc42f 110.8px,#bcc42f 112.7px,#8acb51 113.6px,#58cc79 114.5px,#34c79b 115.3px,#18bfb6 116.2px,#05b6ce 117.1px,#05b6ce 119.0px,#1ca9e0 119.9px,#2699e9 120.8px,#2d88f6 121.6px,#3974fe 122.5px,#4660fc 123.4px,#4660fc 125.3px,#4755f6 129.7px,#4755f6 132.5px,#4755f6 141.3px,#4755f6 145.1px,#4743e7 153.9px,#4743e7 157.7px,#463cde 166.5px,#463cde 170.3px,#484aee 179.1px,#484aee 182.9px,#484aee 191.7px,#484aee 195.5px,#4743e7 204.3px,#4743e7 208.1px,#4743e7 216.9px,#4743e7 220.7px,#4755f6 229.5px,#4755f6 233.3px,#4755f6 242.1px,#4755f6 245.8px,#4755f6 254.7px,#4755f6 258.4px,#4755f6 267.3px,#4755f6 271.0px,#4755f6 279.8px,#4755f6 283.6px,#4755f6 292.4px,#4755f6 296.2px,#4660fc 305.0px,#4660fc 308.8px,#4660fc 317.6px,#4660fc 321.4px,#4755f6 325.8px,#484aee 330.2px,#484aee 334.0px,#463cde 342.8px,#463cde 346.6px,#484aee 355.4px,#484aee 359.2px,#4755f6 368.0px,#4755f6 371.8px,#4755f6 380.6px,#4755f6 384.3px,#4755f6 393.2px,#4755f6 396.9px,#4755f6 405.8px,#4755f6 409.5px,#4755f6 418.3px,#4755f6 422.1px,#4755f6 430.9px,#4755f6 434.4px)"></div>
</div>
<div class="box" style="left:662.1px;top:536.6px;width:435.4px;height:376.4px"></div>
<div class="tk" style="left:720.33px;top:908.5px;width:1px;height:4px"></div>
<div class="tk" style="left:720.33px;top:537.1px;width:1px;height:4px"></div>
<div class="t tx" style="font-size:14.62px;left:720.83px;top:921.8px">60</div>
<div class="tk" style="left:783.29px;top:908.5px;width:1px;height:4px"></div>
<div class="tk" style="left:783.29px;top:537.1px;width:1px;height:4px"></div>
<div class="t tx" style="font-size:14.62px;left:783.79px;top:921.8px">80</div>
<div class="tk" style="left:846.25px;top:908.5px;width:1px;height:4px"></div>
<div class="tk" style="left:846.25px;top:537.1px;width:1px;height:4px"></div>
<div class="t tx" style="font-size:14.62px;left:846.75px;top:921.8px">100</div>
<div class="tk" style="left:909.2px;top:908.5px;width:1px;height:4px"></div>
<div class="tk" style="left:909.2px;top:537.1px;width:1px;height:4px"></div>
<div class="t tx" style="font-size:14.62px;left:909.7px;top:921.8px">120</div>
<div class="tk" style="left:972.16px;top:908.5px;width:1px;height:4px"></div>
<div class="tk" style="left:972.16px;top:537.1px;width:1px;height:4px"></div>
<div class="t tx" style="font-size:14.62px;left:972.66px;top:921.8px">140</div>
<div class="tk" style="left:1035.12px;top:908.5px;width:1px;height:4px"></div>
<div class="tk" style="left:1035.12px;top:537.1px;width:1px;height:4px"></div>
<div class="t tx" style="font-size:14.62px;left:1035.62px;top:921.8px">160</div>
<div class="tk" style="left:662.6px;top:564.75px;width:4px;height:1px"></div>
<div class="tk" style="left:1093px;top:564.75px;width:4px;height:1px"></div>
<div class="t ty" style="font-size:14.62px;left:655.6px;top:565.96px">2</div>
<div class="tk" style="left:662.6px;top:602.3px;width:4px;height:1px"></div>
<div class="tk" style="left:1093px;top:602.3px;width:4px;height:1px"></div>
<div class="t ty" style="font-size:14.62px;left:655.6px;top:603.5px">4</div>
<div class="tk" style="left:662.6px;top:639.84px;width:4px;height:1px"></div>
<div class="tk" style="left:1093px;top:639.84px;width:4px;height:1px"></div>
<div class="t ty" style="font-size:14.62px;left:655.6px;top:641.04px">6</div>
<div class="tk" style="left:662.6px;top:677.38px;width:4px;height:1px"></div>
<div class="tk" style="left:1093px;top:677.38px;width:4px;height:1px"></div>
<div class="t ty" style="font-size:14.62px;left:655.6px;top:678.58px">8</div>
<div class="tk" style="left:662.6px;top:714.91px;width:4px;height:1px"></div>
<div class="tk" style="left:1093px;top:714.91px;width:4px;height:1px"></div>
<div class="t ty" style="font-size:14.62px;left:655.6px;top:716.12px">10</div>
<div class="tk" style="left:662.6px;top:752.46px;width:4px;height:1px"></div>
<div class="tk" style="left:1093px;top:752.46px;width:4px;height:1px"></div>
<div class="t ty" style="font-size:14.62px;left:655.6px;top:753.66px">12</div>
<div class="tk" style="left:662.6px;top:790px;width:4px;height:1px"></div>
<div class="tk" style="left:1093px;top:790px;width:4px;height:1px"></div>
<div class="t ty" style="font-size:14.62px;left:655.6px;top:791.2px">14</div>
<div class="tk" style="left:662.6px;top:827.54px;width:4px;height:1px"></div>
<div class="tk" style="left:1093px;top:827.54px;width:4px;height:1px"></div>
<div class="t ty" style="font-size:14.62px;left:655.6px;top:828.74px">16</div>
<div class="tk" style="left:662.6px;top:865.08px;width:4px;height:1px"></div>
<div class="tk" style="left:1093px;top:865.08px;width:4px;height:1px"></div>
<div class="t ty" style="font-size:14.62px;left:655.6px;top:866.28px">18</div>
<div class="tk" style="left:662.6px;top:902.62px;width:4px;height:1px"></div>
<div class="tk" style="left:1093px;top:902.62px;width:4px;height:1px"></div>
<div class="t ty" style="font-size:14.62px;left:655.6px;top:903.82px">20</div>
<div class="ab" style="left:1109.3px;top:537.1px;width:23.4px;height:375.4px;background:linear-gradient(to bottom,#f9fb15 0.0%,#f6ef20 3.1%,#f5e327 6.2%,#f9d62d 9.4%,#feca33 12.5%,#febe3c 15.6%,#f1ba37 18.8%,#debc2a 21.9%,#c8c129 25.0%,#afc637 28.1%,#94ca4a 31.2%,#77cc60 34.4%,#5ccc76 37.5%,#44ca8a 40.6%,#34c79c 43.8%,#28c2ab 46.9%,#12beb9 50.0%,#01b9c6 53.1%,#0cb3d3 56.2%,#1aacdd 59.4%,#21a3e3 62.5%,#269ae9 65.6%,#2c90f0 68.8%,#2e85f8 71.9%,#347afd 75.0%,#3f6efe 78.1%,#4562fc 81.2%,#4757f7 84.4%,#484cef 87.5%,#4741e5 90.6%,#4536d5 93.8%,#422ebf 96.9%,#3e26a8 100.0%)"></div>
<div class="box" style="left:1108.8px;top:536.6px;width:24.4px;height:376.4px"></div>
<div class="tk" style="left:1129.7px;top:550.1px;width:3px;height:1px"></div>
<div class="t tc" style="font-size:14.62px;left:1138.2px;top:551.4px">0.06</div>
<div class="tk" style="left:1129.7px;top:610.2px;width:3px;height:1px"></div>
<div class="t tc" style="font-size:14.62px;left:1138.2px;top:611.5px">0.05</div>
<div class="tk" style="left:1129.7px;top:670.3px;width:3px;height:1px"></div>
<div class="t tc" style="font-size:14.62px;left:1138.2px;top:671.6px">0.04</div>
<div class="tk" style="left:1129.7px;top:730.4px;width:3px;height:1px"></div>
<div class="t tc" style="font-size:14.62px;left:1138.2px;top:731.7px">0.03</div>
<div class="tk" style="left:1129.7px;top:790.5px;width:3px;height:1px"></div>
<div class="t tc" style="font-size:14.62px;left:1138.2px;top:791.8px">0.02</div>
<div class="tk" style="left:1129.7px;top:850.6px;width:3px;height:1px"></div>
<div class="t tc" style="font-size:14.62px;left:1138.2px;top:851.9px">0.01</div>
<div class="t ti" style="font-size:16.24px;left:879.8px;top:518px">Face</div>
<div class="t xl" style="font-size:27.40px;left:879.8px;top:939.4px">Heart Rate [bpm]</div>
<div class="t yl" style="font-size:27.40px;left:604.6px;top:725.3px">Time Step <i>T</i></div>
<div class="t pl" style="left:885.8px;top:981.3px">(e)</div>
<div class="hm" style="left:1264.2px;top:538.6px;width:432.5px;height:374.1px">
<div style="position:absolute;left:0;top:0px;height:18.72px;background:linear-gradient(to right,#406cfe 0.0px,#406cfe 6.6px,#2f81fa 15.4px,#2f81fa 19.1px,#2c8ef2 27.9px,#2c8ef2 31.7px,#2895ec 40.4px,#2895ec 43.2px,#2895ec 47.6px,#2895ec 49.5px,#2e85f8 51.0px,#3b73fe 52.4px,#4660fc 53.9px,#4660fc 55.8px,#3d71ff 58.0px,#2f81fa 60.2px,#2f81fa 62.1px,#2895ec 62.9px,#1ea7e1 63.8px,#07b5cf 64.7px,#17bfb6 65.6px,#35c79a 66.4px,#35c79a 68.3px,#54cc7d 69.8px,#7fcc5a 71.2px,#acc738 72.7px,#acc738 74.6px,#d8be28 76.8px,#f9bb3d 79.0px,#f9bb3d 80.9px,#fdce31 85.2px,#fdce31 87.1px,#fec03b 89.3px,#f0ba36 91.5px,#f0ba36 93.4px,#cbc129 94.9px,#9bc944 96.3px,#67cd6c 97.8px,#67cd6c 99.7px,#45cb89 101.1px,#31c5a1 102.6px,#1ac0b5 104.1px,#1ac0b5 105.9px,#05b6ce 110.3px,#05b6ce 112.2px,#1ea7e1 116.6px,#1ea7e1 118.5px,#23a0e5 122.9px,#23a0e5 124.7px,#2895ec 129.1px,#2895ec 131.9px,#2e86f7 136.3px,#3975fe 140.7px,#3975fe 144.5px,#4464fd 153.3px,#4464fd 157.0px,#4758f8 165.8px,#4758f8 169.6px,#4758f8 178.3px,#4758f8 182.1px,#4758f8 190.9px,#4758f8 194.6px,#4758f8 203.4px,#4758f8 207.2px,#406cfe 215.9px,#406cfe 219.7px,#3975fe 228.5px,#3975fe 232.2px,#2d8af5 241.0px,#2d8af5 244.8px,#2d8af5 253.5px,#2d8af5 257.3px,#3876fe 260.2px,#4561fc 263.2px,#484ef1 266.1px,#484ef1 269.8px,#4758f8 278.6px,#4758f8 282.4px,#4464fd 291.2px,#4464fd 294.9px,#4758f8 303.7px,#4758f8 307.5px,#484ef1 316.2px,#484ef1 320.0px,#465dfa 324.4px,#406cfe 328.8px,#406cfe 332.5px,#3975fe 341.3px,#3975fe 345.1px,#3975fe 353.8px,#3975fe 357.6px,#406cfe 366.4px,#406cfe 370.1px,#4758f8 378.9px,#4758f8 382.7px,#484ef1 391.4px,#484ef1 395.2px,#484ef1 404.0px,#484ef1 407.7px,#484ef1 416.5px,#484ef1 420.3px,#484ef1 429.1px,#484ef1 432.5px)"></div>
<div style="position:absolute;left:0;top:18.71px;height:18.71px;background:linear-gradient(to right,#2f81fa 0.0px,#2f81fa 6.6px,#2895ec 15.4px,#2895ec 19.1px,#1ea7e1 27.9px,#1ea7e1 31.7px,#23a0e5 40.4px,#23a0e5 43.2px,#2b91ef 44.7px,#3080fb 46.2px,#406cfe 47.6px,#406cfe 49.5px,#4660fc 53.9px,#4660fc 55.8px,#3b73fe 57.2px,#2e85f8 58.7px,#2895ec 60.2px,#2895ec 62.1px,#1ea7e1 63.2px,#06b5cf 64.2px,#17bfb6 65.3px,#35c79a 66.4px,#35c79a 68.3px,#4fcc81 69.8px,#73cd63 71.2px,#9bc944 72.7px,#9bc944 74.6px,#cbc129 76.8px,#f0ba36 79.0px,#f0ba36 80.9px,#fec338 85.2px,#fec338 87.1px,#f0ba36 89.3px,#d2bf27 91.5px,#d2bf27 93.4px,#aac73a 94.5px,#7ecc5b 95.6px,#53cc7d 96.7px,#35c79a 97.8px,#35c79a 99.7px,#18bfb6 101.9px,#05b6ce 104.1px,#05b6ce 105.9px,#1ea7e1 110.3px,#1ea7e1 112.2px,#23a0e5 116.6px,#23a0e5 118.5px,#2895ec 122.9px,#2895ec 124.7px,#2c8ef2 129.1px,#2c8ef2 131.9px,#2895ec 140.7px,#2895ec 144.5px,#2f82f9 148.9px,#406cfe 153.3px,#406cfe 157.0px,#465dfa 161.4px,#484ef1 165.8px,#484ef1 169.6px,#4758f8 178.3px,#4758f8 182.1px,#4758f8 190.9px,#4758f8 194.6px,#4758f8 203.4px,#4758f8 207.2px,#4758f8 215.9px,#4758f8 219.7px,#4466fd 224.1px,#3975fe 228.5px,#3975fe 232.2px,#3975fe 241.0px,#3975fe 244.8px,#406cfe 253.5px,#406cfe 257.3px,#4759f8 261.7px,#4747eb 266.1px,#4747eb 269.8px,#473fe3 278.6px,#473fe3 282.4px,#484cef 286.8px,#4758f8 291.2px,#4758f8 294.9px,#4464fd 303.7px,#4464fd 307.5px,#406cfe 316.2px,#406cfe 320.0px,#3975fe 328.8px,#3975fe 332.5px,#2f81fa 341.3px,#2f81fa 345.1px,#406cfe 353.8px,#406cfe 357.6px,#4464fd 366.4px,#4464fd 370.1px,#3975fe 378.9px,#3975fe 382.7px,#4464fd 391.4px,#4464fd 395.2px,#4758f8 404.0px,#4758f8 407.7px,#484ef1 416.5px,#484ef1 420.3px,#484ef1 429.1px,#484ef1 432.5px)"></div>
<div style="position:absolute;left:0;top:37.41px;height:18.72px;background:linear-gradient(to right,#2d8af5 0.0px,#2d8af5 6.6px,#2895ec 11.0px,#23a0e5 15.4px,#23a0e5 19.1px,#18aedb 27.9px,#18aedb 31.7px,#1ea7e1 40.4px,#1ea7e1 43.2px,#23a0e5 47.6px,#23a0e5 49.5px,#23a0e5 53.9px,#23a0e5 55.8px,#23a0e5 60.2px,#23a0e5 62.1px,#19acdc 64.2px,#05b6ce 66.4px,#05b6ce 68.3px,#18bfb6 69.4px,#34c79b 70.5px,#58cc79 71.6px,#8acb52 72.7px,#8acb52 74.6px,#bcc42f 76.8px,#e5bb2c 79.0px,#e5bb2c 80.9px,#f5ba3a 85.2px,#f5ba3a 87.1px,#d8be28 91.5px,#d8be28 93.4px,#b4c534 94.9px,#8acb52 96.3px,#5fcd73 97.8px,#5fcd73 99.7px,#39c995 100.8px,#22c1af 101.9px,#01b9c7 103.0px,#18aedb 104.1px,#18aedb 105.9px,#23a0e5 110.3px,#23a0e5 112.2px,#23a0e5 116.6px,#23a0e5 118.5px,#23a0e5 122.9px,#23a0e5 124.7px,#2895ec 129.1px,#2895ec 131.9px,#2895ec 140.7px,#2895ec 144.5px,#2f81fa 153.3px,#2f81fa 157.0px,#406cfe 165.8px,#406cfe 169.6px,#406cfe 178.3px,#406cfe 182.1px,#406cfe 190.9px,#406cfe 194.6px,#406cfe 203.4px,#406cfe 207.2px,#4464fd 215.9px,#4464fd 219.7px,#3975fe 228.5px,#3975fe 232.2px,#4464fd 241.0px,#4464fd 244.8px,#4758f8 253.5px,#4758f8 257.3px,#4758f8 266.1px,#4758f8 269.8px,#4758f8 278.6px,#4758f8 282.4px,#4464fd 291.2px,#4464fd 294.9px,#3b73fe 299.3px,#2f81fa 303.7px,#2f81fa 307.5px,#3975fe 316.2px,#3975fe 320.0px,#4464fd 328.8px,#4464fd 332.5px,#4464fd 341.3px,#4464fd 345.1px,#4464fd 353.8px,#4464fd 357.6px,#4464fd 366.4px,#4464fd 370.1px,#347afd 374.5px,#2c8ef2 378.9px,#2c8ef2 382.7px,#2f81fa 391.4px,#2f81fa 395.2px,#3975fe 404.0px,#3975fe 407.7px,#406cfe 416.5px,#406cfe 420.3px,#406cfe 429.1px,#406cfe 432.5px)"></div>
<div style="position:absolute;left:0;top:56.12px;height:18.71px;background:linear-gradient(to right,#2895ec 0.0px,#2895ec 6.6px,#1ea7e1 15.4px,#1ea7e1 19.1px,#0cb3d3 23.5px,#07bcbf 27.9px,#07bcbf 31.7px,#05b6ce 40.4px,#05b6ce 43.2px,#1ea7e1 47.6px,#1ea7e1 49.5px,#2895ec 53.9px,#2895ec 55.8px,#2e83f9 57.2px,#406dfe 58.7px,#4758f8 60.2px,#4758f8 62.1px,#406cfe 64.2px,#2f81fa 66.4px,#2f81fa 68.3px,#2895ec 69.1px,#1ea7e1 69.8px,#05b6ce 70.5px,#1abfb5 71.2px,#36c898 72.0px,#5fcd73 72.7px,#5fcd73 74.6px,#8acb52 76.8px,#b4c534 79.0px,#b4c534 80.9px,#b4c534 85.2px,#b4c534 87.1px,#8acb52 91.5px,#8acb52 93.4px,#5ccc76 94.9px,#38c896 96.3px,#22c1b0 97.8px,#22c1b0 99.7px,#01b8c9 100.3px,#1babde 100.9px,#269ae8 101.5px,#2e87f7 102.2px,#3c71ff 102.8px,#475bfa 103.4px,#4747eb 104.1px,#4747eb 105.9px,#475af9 107.4px,#406dfe 108.9px,#2f81fa 110.3px,#2f81fa 112.2px,#2b92ef 114.4px,#23a0e5 116.6px,#23a0e5 118.5px,#1ea7e1 122.9px,#1ea7e1 124.7px,#23a0e5 129.1px,#23a0e5 131.9px,#2895ec 140.7px,#2895ec 144.5px,#2f81fa 153.3px,#2f81fa 157.0px,#406cfe 165.8px,#406cfe 169.6px,#4464fd 178.3px,#4464fd 182.1px,#406cfe 190.9px,#406cfe 194.6px,#406cfe 203.4px,#406cfe 207.2px,#406cfe 215.9px,#406cfe 219.7px,#327cfc 224.1px,#2d8af5 228.5px,#2d8af5 232.2px,#347afd 235.2px,#4369fe 238.1px,#4758f8 241.0px,#4758f8 244.8px,#484ef1 253.5px,#484ef1 257.3px,#4758f8 266.1px,#4758f8 269.8px,#4758f8 278.6px,#4758f8 282.4px,#4464fd 291.2px,#4464fd 294.9px,#3975fe 303.7px,#3975fe 307.5px,#2f81fa 316.2px,#2f81fa 320.0px,#3e70ff 322.9px,#465efb 325.8px,#484ef1 328.8px,#484ef1 332.5px,#473fe3 341.3px,#473fe3 345.1px,#4852f4 349.4px,#4464fd 353.8px,#4464fd 357.6px,#406cfe 366.4px,#406cfe 370.1px,#3975fe 378.9px,#3975fe 382.7px,#3975fe 391.4px,#3975fe 395.2px,#3975fe 404.0px,#3975fe 407.7px,#3975fe 416.5px,#3975fe 420.3px,#406cfe 429.1px,#406cfe 432.5px)"></div>
<div style="position:absolute;left:0;top:74.82px;height:18.72px;background:linear-gradient(to right,#23a0e5 0.0px,#23a0e5 6.6px,#1ea7e1 15.4px,#1ea7e1 19.1px,#18aedb 27.9px,#18aedb 31.7px,#18aedb 40.4px,#18aedb 43.2px,#1ea7e1 47.6px,#1ea7e1 49.5px,#2895ec 53.9px,#2895ec 55.8px,#2d88f6 58.0px,#3479fd 60.2px,#3479fd 62.1px,#2c8ef1 64.2px,#23a0e5 66.4px,#23a0e5 68.3px,#16afd9 69.2px,#01bac5 70.1px,#24c1ae 71.0px,#3ac994 71.8px,#5fcd73 72.7px,#5fcd73 74.6px,#8acb52 76.8px,#b4c534 79.0px,#b4c534 80.9px,#cbc129 85.2px,#cbc129 87.1px,#acc738 89.3px,#8acb52 91.5px,#8acb52 93.4px,#5ccc76 94.9px,#38c896 96.3px,#22c1b0 97.8px,#22c1b0 99.7px,#01bac6 100.5px,#15afd9 101.4px,#22a2e4 102.3px,#2a92ee 103.2px,#2f81fa 104.1px,#2f81fa 105.9px,#2f81fa 110.3px,#2f81fa 112.2px,#2895ec 116.6px,#2895ec 118.5px,#23a0e5 122.9px,#23a0e5 124.7px,#23a0e5 129.1px,#23a0e5 131.9px,#23a0e5 140.7px,#23a0e5 144.5px,#2895ec 153.3px,#2895ec 157.0px,#2895ec 165.8px,#2895ec 169.6px,#2c8ef2 178.3px,#2c8ef2 182.1px,#2c8ef2 190.9px,#2c8ef2 194.6px,#2895ec 203.4px,#2895ec 207.2px,#2f82f9 211.5px,#406cfe 215.9px,#406cfe 219.7px,#406cfe 228.5px,#406cfe 232.2px,#465dfa 236.6px,#484ef1 241.0px,#484ef1 244.8px,#484ef1 253.5px,#484ef1 257.3px,#4759f8 261.7px,#4464fd 266.1px,#4464fd 269.8px,#4464fd 278.6px,#4464fd 282.4px,#4464fd 291.2px,#4464fd 294.9px,#406cfe 303.7px,#406cfe 307.5px,#406cfe 316.2px,#406cfe 320.0px,#465dfa 324.4px,#484ef1 328.8px,#484ef1 332.5px,#4539d9 341.3px,#4539d9 345.1px,#4747eb 348.0px,#4756f6 350.9px,#4464fd 353.8px,#4464fd 357.6px,#4464fd 366.4px,#4464fd 370.1px,#4759f8 374.5px,#484ef1 378.9px,#484ef1 382.7px,#4661fc 387.1px,#3975fe 391.4px,#3975fe 395.2px,#2f81fa 404.0px,#2f81fa 407.7px,#2d8af5 416.5px,#2d8af5 420.3px,#2d8af5 429.1px,#2d8af5 432.5px)"></div>
<div style="position:absolute;left:0;top:93.53px;height:18.71px;background:linear-gradient(to right,#2895ec 0.0px,#2895ec 6.6px,#23a0e5 15.4px,#23a0e5 19.1px,#1ea7e1 27.9px,#1ea7e1 31.7px,#18aedb 40.4px,#18aedb 43.2px,#18aedb 47.6px,#18aedb 49.5px,#18aedb 53.9px,#18aedb 55.8px,#18aedb 60.2px,#18aedb 62.1px,#02bac5 64.2px,#28c3ab 66.4px,#28c3ab 68.3px,#3ac993 69.4px,#5acc77 70.5px,#83cc57 71.6px,#acc738 72.7px,#acc738 74.6px,#cbc129 76.8px,#e5bb2c 79.0px,#e5bb2c 80.9px,#e5bb2c 85.2px,#e5bb2c 87.1px,#cbc129 89.3px,#acc738 91.5px,#acc738 93.4px,#7fcc5a 94.9px,#54cc7d 96.3px,#35c79a 97.8px,#35c79a 99.7px,#1dc0b3 101.1px,#01b8c8 102.6px,#18aedb 104.1px,#18aedb 105.9px,#23a0e5 110.3px,#23a0e5 112.2px,#2895ec 116.6px,#2895ec 118.5px,#2895ec 122.9px,#2895ec 124.7px,#2f81fa 129.1px,#2f81fa 131.9px,#3b73fe 136.3px,#4464fd 140.7px,#4464fd 144.5px,#3b73fe 148.9px,#2f81fa 153.3px,#2f81fa 157.0px,#2c8ef2 165.8px,#2c8ef2 169.6px,#2c8ef2 178.3px,#2c8ef2 182.1px,#2895ec 190.9px,#2895ec 194.6px,#2895ec 203.4px,#2895ec 207.2px,#2e86f7 210.1px,#3876fe 213.0px,#4464fd 215.9px,#4464fd 219.7px,#4755f6 224.1px,#4747eb 228.5px,#4747eb 232.2px,#4758f8 241.0px,#4758f8 244.8px,#406cfe 253.5px,#406cfe 257.3px,#2f81fa 266.1px,#2f81fa 269.8px,#2f81fa 278.6px,#2f81fa 282.4px,#3b73fe 286.8px,#4464fd 291.2px,#4464fd 294.9px,#4758f8 303.7px,#4758f8 307.5px,#484cef 311.8px,#473fe3 316.2px,#473fe3 320.0px,#484cef 324.4px,#4758f8 328.8px,#4758f8 332.5px,#4464fd 341.3px,#4464fd 345.1px,#406cfe 353.8px,#406cfe 357.6px,#4464fd 366.4px,#4464fd 370.1px,#4464fd 378.9px,#4464fd 382.7px,#3975fe 391.4px,#3975fe 395.2px,#2f81fa 404.0px,#2f81fa 407.7px,#2f81fa 416.5px,#2f81fa 420.3px,#2d8af5 429.1px,#2d8af5 432.5px)"></div>
<div style="position:absolute;left:0;top:112.23px;height:18.72px;background:linear-gradient(to right,#2c8ef2 0.0px,#2c8ef2 6.6px,#317efb 11.0px,#406cfe 15.4px,#406cfe 19.1px,#4758f8 27.9px,#4758f8 31.7px,#406dfe 34.6px,#2e83f9 37.5px,#2895ec 40.4px,#2895ec 43.2px,#23a0e5 47.6px,#23a0e5 49.5px,#1ea7e1 53.9px,#1ea7e1 55.8px,#0cb3d3 58.0px,#07bcbf 60.2px,#07bcbf 62.1px,#27c2ab 63.5px,#39c895 65.0px,#58cc79 66.4px,#58cc79 68.3px,#81cc58 69.8px,#acc738 71.2px,#d2bf27 72.7px,#d2bf27 74.6px,#e8bb2e 76.8px,#f9bb3d 79.0px,#f9bb3d 80.9px,#f9bb3d 85.2px,#f9bb3d 87.1px,#e8bb2e 89.3px,#d2bf27 91.5px,#d2bf27 93.4px,#a6c83d 94.9px,#74cd62 96.3px,#46cb87 97.8px,#46cb87 99.7px,#30c5a1 100.8px,#17bfb6 101.9px,#01b8ca 103.0px,#18aedb 104.1px,#18aedb 105.9px,#259de7 108.1px,#2d8af5 110.3px,#2d8af5 112.2px,#327cfc 114.4px,#406cfe 116.6px,#406cfe 118.5px,#406cfe 122.9px,#406cfe 124.7px,#406cfe 129.1px,#406cfe 131.9px,#4758f8 140.7px,#4758f8 144.5px,#406cfe 153.3px,#406cfe 157.0px,#317efb 161.4px,#2c8ef2 165.8px,#2c8ef2 169.6px,#2c8ef2 178.3px,#2c8ef2 182.1px,#2895ec 190.9px,#2895ec 194.6px,#2895ec 203.4px,#2895ec 207.2px,#2e85f8 209.4px,#3b72ff 211.5px,#465ffb 213.7px,#484ef1 215.9px,#484ef1 219.7px,#473fe3 228.5px,#473fe3 232.2px,#4755f6 235.2px,#416bfe 238.1px,#2f81fa 241.0px,#2f81fa 244.8px,#2d8af5 253.5px,#2d8af5 257.3px,#2f81fa 266.1px,#2f81fa 269.8px,#3975fe 278.6px,#3975fe 282.4px,#3975fe 291.2px,#3975fe 294.9px,#3975fe 303.7px,#3975fe 307.5px,#3975fe 316.2px,#3975fe 320.0px,#3975fe 328.8px,#3975fe 332.5px,#2f81fa 341.3px,#2f81fa 345.1px,#2d8af5 353.8px,#2d8af5 357.6px,#2f81fa 366.4px,#2f81fa 370.1px,#406cfe 374.5px,#4758f8 378.9px,#4758f8 382.7px,#406dfe 385.6px,#2e83f9 388.5px,#2895ec 391.4px,#2895ec 395.2px,#2895ec 404.0px,#2895ec 407.7px,#2895ec 416.5px,#2895ec 420.3px,#2c8ef2 429.1px,#2c8ef2 432.5px)"></div>
<div style="position:absolute;left:0;top:130.94px;height:18.71px;background:linear-gradient(to right,#2895ec 0.0px,#2895ec 6.6px,#2895ec 15.4px,#2895ec 19.1px,#23a0e5 27.9px,#23a0e5 31.7px,#23a0e5 40.4px,#23a0e5 43.2px,#23a0e5 47.6px,#23a0e5 49.5px,#18aedb 53.9px,#18aedb 55.8px,#01b8c9 58.0px,#1ac0b5 60.2px,#1ac0b5 62.1px,#34c79c 63.5px,#54cc7d 65.0px,#81cc58 66.4px,#81cc58 68.3px,#acc738 69.8px,#d2bf27 71.2px,#f0ba36 72.7px,#f0ba36 74.6px,#fec03b 76.8px,#fdce31 79.0px,#fdce31 80.9px,#fad62d 85.2px,#fad62d 87.1px,#fec338 91.5px,#fec338 93.4px,#f3ba39 94.9px,#dabd28 96.3px,#bcc42f 97.8px,#bcc42f 99.7px,#8bcb51 101.1px,#59cc79 102.6px,#35c79a 104.1px,#35c79a 105.9px,#17bfb6 107.4px,#06b5cf 108.9px,#1ea7e1 110.3px,#1ea7e1 112.2px,#2796eb 113.3px,#2e83f9 114.4px,#3f6dfe 115.5px,#4758f8 116.6px,#4758f8 118.5px,#406dfe 119.9px,#2e83f9 121.4px,#2895ec 122.9px,#2895ec 124.7px,#23a0e5 129.1px,#23a0e5 131.9px,#1babde 140.7px,#1babde 144.5px,#1babde 153.3px,#1babde 157.0px,#1babde 165.8px,#1babde 169.6px,#1babde 178.3px,#1babde 182.1px,#1babde 190.9px,#1babde 194.6px,#1babde 203.4px,#1babde 207.2px,#23a0e5 211.5px,#2895ec 215.9px,#2895ec 219.7px,#2699e9 228.5px,#2699e9 232.2px,#23a0e5 241.0px,#23a0e5 244.8px,#23a0e5 253.5px,#23a0e5 257.3px,#23a0e5 266.1px,#23a0e5 269.8px,#2699e9 278.6px,#2699e9 282.4px,#2699e9 291.2px,#2699e9 294.9px,#2699e9 303.7px,#2699e9 307.5px,#2699e9 316.2px,#2699e9 320.0px,#23a0e5 328.8px,#23a0e5 332.5px,#1babde 341.3px,#1babde 345.1px,#23a0e5 353.8px,#23a0e5 357.6px,#2c8ef2 366.4px,#2c8ef2 370.1px,#2c8ef2 378.9px,#2c8ef2 382.7px,#2c8ef2 391.4px,#2c8ef2 395.2px,#2c8ef2 404.0px,#2c8ef2 407.7px,#2c8ef2 416.5px,#2c8ef2 420.3px,#2c8ef2 429.1px,#2c8ef2 432.5px)"></div>
<div style="position:absolute;left:0;top:149.64px;height:18.72px;background:linear-gradient(to right,#2f81fa 0.0px,#2f81fa 6.6px,#2f81fa 15.4px,#2f81fa 19.1px,#3479fd 27.9px,#3479fd 31.7px,#406cfe 36.0px,#4660fc 40.4px,#4660fc 43.2px,#4660fc 47.6px,#4660fc 49.5px,#406cfe 51.7px,#3479fd 53.9px,#3479fd 55.8px,#2d88f6 58.0px,#2895ec 60.2px,#2895ec 62.1px,#22a2e4 64.2px,#18aedb 66.4px,#18aedb 68.3px,#01b8c9 70.5px,#1ac0b5 72.7px,#1ac0b5 74.6px,#31c5a1 76.1px,#45cb89 77.5px,#67cd6c 79.0px,#67cd6c 80.9px,#93ca4b 83.1px,#bcc42f 85.2px,#bcc42f 87.1px,#d2bf27 91.5px,#d2bf27 93.4px,#acc738 94.9px,#81cc58 96.3px,#58cc79 97.8px,#58cc79 99.7px,#34c79b 101.1px,#17bfb6 102.6px,#05b6ce 104.1px,#05b6ce 105.9px,#1ea7e1 108.1px,#2895ec 110.3px,#2895ec 112.2px,#2e83f9 113.3px,#3f6eff 114.4px,#475af9 115.5px,#4747eb 116.6px,#4747eb 118.5px,#4758f8 122.9px,#4758f8 124.7px,#406cfe 126.9px,#2f81fa 129.1px,#2f81fa 131.9px,#2895ec 140.7px,#2895ec 144.5px,#2895ec 153.3px,#2895ec 157.0px,#2895ec 165.8px,#2895ec 169.6px,#2895ec 178.3px,#2895ec 182.1px,#2895ec 190.9px,#2895ec 194.6px,#2895ec 203.4px,#2895ec 207.2px,#2e86f7 210.1px,#3876fe 213.0px,#4464fd 215.9px,#4464fd 219.7px,#4758f8 228.5px,#4758f8 232.2px,#4466fd 236.6px,#3975fe 241.0px,#3975fe 244.8px,#3975fe 253.5px,#3975fe 257.3px,#406cfe 266.1px,#406cfe 269.8px,#4464fd 278.6px,#4464fd 282.4px,#406cfe 291.2px,#406cfe 294.9px,#2f81fa 303.7px,#2f81fa 307.5px,#2895ec 316.2px,#2895ec 320.0px,#2895ec 328.8px,#2895ec 332.5px,#23a0e5 341.3px,#23a0e5 345.1px,#2895ec 353.8px,#2895ec 357.6px,#2f81fa 366.4px,#2f81fa 370.1px,#406cfe 378.9px,#406cfe 382.7px,#3975fe 391.4px,#3975fe 395.2px,#3975fe 404.0px,#3975fe 407.7px,#3975fe 416.5px,#3975fe 420.3px,#3975fe 429.1px,#3975fe 432.5px)"></div>
<div style="position:absolute;left:0;top:168.35px;height:18.71px;background:linear-gradient(to right,#2f81fa 0.0px,#2f81fa 6.6px,#2c8ef2 15.4px,#2c8ef2 19.1px,#2c8ef2 27.9px,#2c8ef2 31.7px,#317dfc 34.6px,#426afe 37.5px,#4758f8 40.4px,#4758f8 43.2px,#484aee 45.4px,#463cde 47.6px,#463cde 49.5px,#484df0 50.6px,#465efb 51.7px,#3e6fff 52.8px,#2f81fa 53.9px,#2f81fa 55.8px,#2895ec 60.2px,#2895ec 62.1px,#23a0e5 66.4px,#23a0e5 68.3px,#18aedb 72.7px,#18aedb 74.6px,#01b8c9 76.8px,#1ac0b5 79.0px,#1ac0b5 80.9px,#31c5a1 82.3px,#45cb89 83.8px,#67cd6c 85.2px,#67cd6c 87.1px,#93ca4b 89.3px,#bcc42f 91.5px,#bcc42f 93.4px,#9bc944 97.8px,#9bc944 99.7px,#73cd63 101.1px,#4fcc81 102.6px,#35c79a 104.1px,#35c79a 105.9px,#18bfb6 108.1px,#05b6ce 110.3px,#05b6ce 112.2px,#19acdc 114.4px,#23a0e5 116.6px,#23a0e5 118.5px,#2895ec 122.9px,#2895ec 124.7px,#2d8af5 129.1px,#2d8af5 131.9px,#2c8ef2 140.7px,#2c8ef2 144.5px,#2f81fa 153.3px,#2f81fa 157.0px,#2f81fa 165.8px,#2f81fa 169.6px,#2f81fa 178.3px,#2f81fa 182.1px,#2f81fa 190.9px,#2f81fa 194.6px,#2f81fa 203.4px,#2f81fa 207.2px,#2f81fa 215.9px,#2f81fa 219.7px,#2f81fa 228.5px,#2f81fa 232.2px,#2f81fa 241.0px,#2f81fa 244.8px,#2f81fa 253.5px,#2f81fa 257.3px,#2f81fa 266.1px,#2f81fa 269.8px,#406cfe 274.2px,#4758f8 278.6px,#4758f8 282.4px,#484ef1 291.2px,#484ef1 294.9px,#465dfa 299.3px,#406cfe 303.7px,#406cfe 307.5px,#317efb 311.8px,#2c8ef2 316.2px,#2c8ef2 320.0px,#2895ec 328.8px,#2895ec 332.5px,#23a0e5 341.3px,#23a0e5 345.1px,#2b92ef 349.4px,#2f81fa 353.8px,#2f81fa 357.6px,#406cfe 362.0px,#4758f8 366.4px,#4758f8 370.1px,#4758f8 378.9px,#4758f8 382.7px,#4758f8 391.4px,#4758f8 395.2px,#4758f8 404.0px,#4758f8 407.7px,#4464fd 416.5px,#4464fd 420.3px,#4464fd 429.1px,#4464fd 432.5px)"></div>
<div style="position:absolute;left:0;top:187.05px;height:18.72px;background:linear-gradient(to right,#3479fd 0.0px,#3479fd 6.6px,#2f81fa 15.4px,#2f81fa 19.1px,#2f81fa 27.9px,#2f81fa 31.7px,#2f81fa 40.4px,#2f81fa 43.2px,#2f81fa 47.6px,#2f81fa 49.5px,#2f81fa 53.9px,#2f81fa 55.8px,#2f81fa 60.2px,#2f81fa 62.1px,#2f81fa 66.4px,#2f81fa 68.3px,#406dfe 69.8px,#475af9 71.2px,#4747eb 72.7px,#4747eb 74.6px,#4759f8 75.3px,#416bfe 76.1px,#307ffb 76.8px,#2c90f0 77.5px,#23a0e5 78.2px,#18aedb 79.0px,#18aedb 80.9px,#01b8ca 82.0px,#17bfb6 83.1px,#30c5a1 84.1px,#46cb87 85.2px,#46cb87 87.1px,#74cd62 88.6px,#a6c83d 90.1px,#d2bf27 91.5px,#d2bf27 93.4px,#e8bb2e 95.6px,#f9bb3d 97.8px,#f9bb3d 99.7px,#e5bb2c 104.1px,#e5bb2c 105.9px,#c8c129 107.4px,#a6c73c 108.9px,#81cc58 110.3px,#81cc58 112.2px,#54cc7d 113.7px,#34c79c 115.1px,#1ac0b5 116.6px,#1ac0b5 118.5px,#01b8c9 120.7px,#18aedb 122.9px,#18aedb 124.7px,#22a2e4 126.9px,#2895ec 129.1px,#2895ec 131.9px,#2895ec 140.7px,#2895ec 144.5px,#2f81fa 153.3px,#2f81fa 157.0px,#3b73fe 161.4px,#4464fd 165.8px,#4464fd 169.6px,#3975fe 178.3px,#3975fe 182.1px,#2f81fa 190.9px,#2f81fa 194.6px,#2f81fa 203.4px,#2f81fa 207.2px,#2c8ef2 215.9px,#2c8ef2 219.7px,#2895ec 228.5px,#2895ec 232.2px,#2f81fa 241.0px,#2f81fa 244.8px,#2895ec 253.5px,#2895ec 257.3px,#2e86f7 261.7px,#3975fe 266.1px,#3975fe 269.8px,#4466fd 274.2px,#4758f8 278.6px,#4758f8 282.4px,#484ef1 291.2px,#484ef1 294.9px,#4758f8 303.7px,#4758f8 307.5px,#406cfe 311.8px,#2f81fa 316.2px,#2f81fa 320.0px,#2d8af5 328.8px,#2d8af5 332.5px,#2d8af5 341.3px,#2d8af5 345.1px,#3975fe 353.8px,#3975fe 357.6px,#4466fd 362.0px,#4758f8 366.4px,#4758f8 370.1px,#4464fd 378.9px,#4464fd 382.7px,#3975fe 391.4px,#3975fe 395.2px,#2f81fa 404.0px,#2f81fa 407.7px,#2f81fa 416.5px,#2f81fa 420.3px,#3975fe 429.1px,#3975fe 432.5px)"></div>
<div style="position:absolute;left:0;top:205.76px;height:18.71px;background:linear-gradient(to right,#3479fd 0.0px,#3479fd 6.6px,#2f81fa 15.4px,#2f81fa 19.1px,#2f81fa 27.9px,#2f81fa 31.7px,#2c8ef2 40.4px,#2c8ef2 43.2px,#2895ec 47.6px,#2895ec 49.5px,#23a0e5 53.9px,#23a0e5 55.8px,#23a0e5 60.2px,#23a0e5 62.1px,#2895ec 66.4px,#2895ec 68.3px,#2895ec 72.7px,#2895ec 74.6px,#1ea7e1 76.8px,#05b6ce 79.0px,#05b6ce 80.9px,#16bfb7 82.0px,#33c69e 83.1px,#52cc7e 84.1px,#81cc58 85.2px,#81cc58 87.1px,#acc738 88.2px,#d2bf27 89.3px,#f0ba36 90.4px,#fec338 91.5px,#fec338 93.4px,#fad62d 95.6px,#f5e924 97.8px,#f5e924 99.7px,#f6de29 104.1px,#f6de29 105.9px,#fec735 108.1px,#f0ba36 110.3px,#f0ba36 112.2px,#d2bf27 113.3px,#acc738 114.4px,#81cc58 115.5px,#58cc79 116.6px,#58cc79 118.5px,#34c79b 119.9px,#17bfb6 121.4px,#05b6ce 122.9px,#05b6ce 124.7px,#1ea7e1 126.9px,#2895ec 129.1px,#2895ec 131.9px,#2c8ef2 140.7px,#2c8ef2 144.5px,#2f82fa 148.9px,#3975fe 153.3px,#3975fe 157.0px,#406cfe 165.8px,#406cfe 169.6px,#406cfe 178.3px,#406cfe 182.1px,#4464fd 190.9px,#4464fd 194.6px,#4464fd 203.4px,#4464fd 207.2px,#3b73fe 211.5px,#2f81fa 215.9px,#2f81fa 219.7px,#2895ec 228.5px,#2895ec 232.2px,#2e86f7 235.2px,#3876fe 238.1px,#4464fd 241.0px,#4464fd 244.8px,#3876fe 247.7px,#2e86f7 250.6px,#2895ec 253.5px,#2895ec 257.3px,#2f81fa 266.1px,#2f81fa 269.8px,#406cfe 274.2px,#4758f8 278.6px,#4758f8 282.4px,#484cef 286.8px,#473fe3 291.2px,#473fe3 294.9px,#4747eb 303.7px,#4747eb 307.5px,#4759f8 311.8px,#406cfe 316.2px,#406cfe 320.0px,#3975fe 328.8px,#3975fe 332.5px,#3975fe 341.3px,#3975fe 345.1px,#4466fd 349.4px,#4758f8 353.8px,#4758f8 357.6px,#4848ec 362.0px,#4539d9 366.4px,#4539d9 370.1px,#484aed 373.1px,#475bf9 376.0px,#406cfe 378.9px,#406cfe 382.7px,#2f81fa 391.4px,#2f81fa 395.2px,#2d8af5 404.0px,#2d8af5 407.7px,#2f81fa 416.5px,#2f81fa 420.3px,#3975fe 429.1px,#3975fe 432.5px)"></div>
<div style="position:absolute;left:0;top:224.46px;height:18.72px;background:linear-gradient(to right,#406cfe 0.0px,#406cfe 6.6px,#4758f8 15.4px,#4758f8 19.1px,#406cfe 27.9px,#406cfe 31.7px,#2f81fa 40.4px,#2f81fa 43.2px,#2f81fa 47.6px,#2f81fa 49.5px,#2f81fa 53.9px,#2f81fa 55.8px,#2f81fa 60.2px,#2f81fa 62.1px,#2f81fa 66.4px,#2f81fa 68.3px,#2b92ef 70.5px,#23a0e5 72.7px,#23a0e5 74.6px,#17aeda 75.7px,#01b9c8 76.8px,#1ec0b2 77.9px,#35c79a 79.0px,#35c79a 80.9px,#59cc78 82.0px,#8bcb51 83.1px,#bcc42f 84.1px,#e5bb2c 85.2px,#e5bb2c 87.1px,#fcbc3d 88.6px,#fdcc32 90.1px,#f6de29 91.5px,#f6de29 93.4px,#f6f01f 97.8px,#f6f01f 99.7px,#f5e327 101.9px,#fad62d 104.1px,#fad62d 105.9px,#fec03b 108.1px,#e5bb2c 110.3px,#e5bb2c 112.2px,#bcc42f 113.3px,#8bcb51 114.4px,#59cc78 115.5px,#35c79a 116.6px,#35c79a 118.5px,#1dc0b3 119.9px,#01b8c8 121.4px,#18aedb 122.9px,#18aedb 124.7px,#22a2e4 126.9px,#2895ec 129.1px,#2895ec 131.9px,#2e86f7 136.3px,#3975fe 140.7px,#3975fe 144.5px,#406cfe 153.3px,#406cfe 157.0px,#3975fe 165.8px,#3975fe 169.6px,#3975fe 178.3px,#3975fe 182.1px,#4464fd 190.9px,#4464fd 194.6px,#4758f8 203.4px,#4758f8 207.2px,#4758f8 215.9px,#4758f8 219.7px,#4464fd 228.5px,#4464fd 232.2px,#4464fd 241.0px,#4464fd 244.8px,#4464fd 253.5px,#4464fd 257.3px,#4464fd 266.1px,#4464fd 269.8px,#4464fd 278.6px,#4464fd 282.4px,#4464fd 291.2px,#4464fd 294.9px,#4464fd 303.7px,#4464fd 307.5px,#4464fd 316.2px,#4464fd 320.0px,#4464fd 328.8px,#4464fd 332.5px,#4759f8 336.9px,#484ef1 341.3px,#484ef1 345.1px,#473fe3 353.8px,#473fe3 357.6px,#4536d3 366.4px,#4536d3 370.1px,#4747eb 378.9px,#4747eb 382.7px,#4756f6 385.6px,#4465fd 388.5px,#3975fe 391.4px,#3975fe 395.2px,#2f81fa 404.0px,#2f81fa 407.7px,#406cfe 416.5px,#406cfe 420.3px,#4464fd 429.1px,#4464fd 432.5px)"></div>
<div style="position:absolute;left:0;top:243.17px;height:18.71px;background:linear-gradient(to right,#3479fd 0.0px,#3479fd 6.6px,#2f81fa 15.4px,#2f81fa 19.1px,#2c8ef2 27.9px,#2c8ef2 31.7px,#2c8ef2 40.4px,#2c8ef2 43.2px,#2f81fa 47.6px,#2f81fa 49.5px,#2f81fa 53.9px,#2f81fa 55.8px,#406cfe 60.2px,#406cfe 62.1px,#2e83f9 63.5px,#2896eb 65.0px,#1ea7e1 66.4px,#1ea7e1 68.3px,#06b5cf 69.8px,#17bfb6 71.2px,#35c79a 72.7px,#35c79a 74.6px,#54cc7d 76.1px,#7fcc5a 77.5px,#acc738 79.0px,#acc738 80.9px,#d8be28 82.3px,#f9bb3d 83.8px,#fdce31 85.2px,#fdce31 87.1px,#f6e029 89.3px,#f6f01f 91.5px,#f6f01f 93.4px,#f6de29 97.8px,#f6de29 99.7px,#fec735 101.9px,#f0ba36 104.1px,#f0ba36 105.9px,#cbc129 107.4px,#9bc944 108.9px,#67cd6c 110.3px,#67cd6c 112.2px,#45cb89 113.7px,#31c5a1 115.1px,#1ac0b5 116.6px,#1ac0b5 118.5px,#01b8c9 120.7px,#18aedb 122.9px,#18aedb 124.7px,#22a2e4 126.9px,#2895ec 129.1px,#2895ec 131.9px,#2f82f9 136.3px,#406cfe 140.7px,#406cfe 144.5px,#317efb 148.9px,#2c8ef2 153.3px,#2c8ef2 157.0px,#2895ec 165.8px,#2895ec 169.6px,#2895ec 178.3px,#2895ec 182.1px,#2895ec 190.9px,#2895ec 194.6px,#2895ec 203.4px,#2895ec 207.2px,#2895ec 215.9px,#2895ec 219.7px,#2c8ef2 228.5px,#2c8ef2 232.2px,#2c8ef2 241.0px,#2c8ef2 244.8px,#2c8ef2 253.5px,#2c8ef2 257.3px,#2895ec 266.1px,#2895ec 269.8px,#2895ec 278.6px,#2895ec 282.4px,#2895ec 291.2px,#2895ec 294.9px,#2895ec 303.7px,#2895ec 307.5px,#259de7 316.2px,#259de7 320.0px,#2c8ef2 328.8px,#2c8ef2 332.5px,#317efb 336.9px,#406cfe 341.3px,#406cfe 345.1px,#4464fd 353.8px,#4464fd 357.6px,#406cfe 366.4px,#406cfe 370.1px,#3975fe 378.9px,#3975fe 382.7px,#3975fe 391.4px,#3975fe 395.2px,#406cfe 404.0px,#406cfe 407.7px,#406cfe 416.5px,#406cfe 420.3px,#406cfe 429.1px,#406cfe 432.5px)"></div>
<div style="position:absolute;left:0;top:261.87px;height:18.72px;background:linear-gradient(to right,#422fc3 0.0px,#422fc3 6.6px,#422ebe 15.4px,#422ebe 19.1px,#422fc3 27.9px,#422fc3 31.7px,#4536d3 40.4px,#4536d3 43.2px,#463cde 47.6px,#463cde 49.5px,#463cde 53.9px,#463cde 55.8px,#4536d3 60.2px,#4536d3 62.1px,#4747eb 63.5px,#475af9 65.0px,#406cfe 66.4px,#406cfe 68.3px,#3080fb 69.4px,#2b90ef 70.5px,#23a0e5 71.6px,#18aedb 72.7px,#18aedb 74.6px,#01b9c6 75.7px,#25c2ad 76.8px,#3dc991 77.9px,#67cd6c 79.0px,#67cd6c 80.9px,#99c946 82.0px,#c7c12a 83.1px,#ecba32 84.1px,#fec338 85.2px,#fec338 87.1px,#fcd030 89.3px,#f6de29 91.5px,#f6de29 93.4px,#fcd030 95.6px,#fec338 97.8px,#fec338 99.7px,#f3ba39 101.1px,#dabd28 102.6px,#bcc42f 104.1px,#bcc42f 105.9px,#8bcb51 107.0px,#59cc78 108.1px,#35c79a 109.2px,#1ac0b5 110.3px,#1ac0b5 112.2px,#01b8c9 113.7px,#18aedb 115.1px,#23a0e5 116.6px,#23a0e5 118.5px,#2895ec 122.9px,#2895ec 124.7px,#2d8af5 129.1px,#2d8af5 131.9px,#2895ec 140.7px,#2895ec 144.5px,#2895ec 153.3px,#2895ec 157.0px,#2c8ef2 165.8px,#2c8ef2 169.6px,#2c8ef2 178.3px,#2c8ef2 182.1px,#317efb 186.5px,#406cfe 190.9px,#406cfe 194.6px,#465ffb 199.0px,#4851f4 203.4px,#4851f4 207.2px,#4747eb 215.9px,#4747eb 219.7px,#4851f4 228.5px,#4851f4 232.2px,#475cfa 241.0px,#475cfa 244.8px,#4464fd 253.5px,#4464fd 257.3px,#4464fd 266.1px,#4464fd 269.8px,#406cfe 278.6px,#406cfe 282.4px,#3479fd 291.2px,#3479fd 294.9px,#2c8ef2 303.7px,#2c8ef2 307.5px,#2699e9 316.2px,#2699e9 320.0px,#2d8af4 324.4px,#3479fd 328.8px,#3479fd 332.5px,#4368fd 335.4px,#4757f7 338.4px,#4747eb 341.3px,#4747eb 345.1px,#4851f4 353.8px,#4851f4 357.6px,#4851f4 366.4px,#4851f4 370.1px,#4745e9 374.5px,#4539d9 378.9px,#4539d9 382.7px,#4745e9 387.1px,#4851f4 391.4px,#4851f4 395.2px,#475cfa 404.0px,#475cfa 407.7px,#475cfa 416.5px,#475cfa 420.3px,#4851f4 429.1px,#4851f4 432.5px)"></div>
<div style="position:absolute;left:0;top:280.58px;height:18.71px;background:linear-gradient(to right,#4660fc 0.0px,#4660fc 6.6px,#4758f8 15.4px,#4758f8 19.1px,#4758f8 27.9px,#4758f8 31.7px,#4758f8 40.4px,#4758f8 43.2px,#4758f8 47.6px,#4758f8 49.5px,#4660fc 53.9px,#4660fc 55.8px,#406cfe 60.2px,#406cfe 62.1px,#2e83f9 63.2px,#2796eb 64.2px,#1ea8e1 65.3px,#05b6ce 66.4px,#05b6ce 68.3px,#17bfb6 69.8px,#34c79b 71.2px,#58cc79 72.7px,#58cc79 74.6px,#81cc58 75.7px,#acc738 76.8px,#d2bf27 77.9px,#f0ba36 79.0px,#f0ba36 80.9px,#fec338 82.3px,#fad62d 83.8px,#f5e924 85.2px,#f5e924 87.1px,#f6de29 91.5px,#f6de29 93.4px,#fdcc32 94.9px,#fcbc3d 96.3px,#e5bb2c 97.8px,#e5bb2c 99.7px,#bcc42f 100.8px,#8bcb51 101.9px,#59cc78 103.0px,#35c79a 104.1px,#35c79a 105.9px,#1dc0b3 107.4px,#01b8c8 108.9px,#18aedb 110.3px,#18aedb 112.2px,#249ee6 112.9px,#2d8df2 113.7px,#3579fd 114.4px,#4564fd 115.1px,#4850f2 115.9px,#463cde 116.6px,#463cde 118.5px,#484ef1 119.3px,#465ffb 120.2px,#3b72ff 121.1px,#2e85f8 122.0px,#2895ec 122.9px,#2895ec 124.7px,#23a0e5 129.1px,#23a0e5 131.9px,#1babde 140.7px,#1babde 144.5px,#1babde 153.3px,#1babde 157.0px,#1babde 165.8px,#1babde 169.6px,#1babde 178.3px,#1babde 182.1px,#1babde 190.9px,#1babde 194.6px,#23a0e5 203.4px,#23a0e5 207.2px,#2c8ef1 210.1px,#337afd 213.0px,#4464fd 215.9px,#4464fd 219.7px,#4464fd 228.5px,#4464fd 232.2px,#4464fd 241.0px,#4464fd 244.8px,#406cfe 253.5px,#406cfe 257.3px,#406cfe 266.1px,#406cfe 269.8px,#3479fd 278.6px,#3479fd 282.4px,#2c8ef2 291.2px,#2c8ef2 294.9px,#259de7 299.3px,#1babde 303.7px,#1babde 307.5px,#13b1d7 316.2px,#13b1d7 320.0px,#23a0e5 324.4px,#2c8ef2 328.8px,#2c8ef2 332.5px,#3479fd 341.3px,#3479fd 345.1px,#406cfe 353.8px,#406cfe 357.6px,#406cfe 366.4px,#406cfe 370.1px,#4464fd 378.9px,#4464fd 382.7px,#4464fd 391.4px,#4464fd 395.2px,#4464fd 404.0px,#4464fd 407.7px,#4464fd 416.5px,#4464fd 420.3px,#4464fd 429.1px,#4464fd 432.5px)"></div>
<div style="position:absolute;left:0;top:299.28px;height:18.72px;background:linear-gradient(to right,#4536d3 0.0px,#4536d3 6.6px,#4433cb 15.4px,#4433cb 19.1px,#4433cb 27.9px,#4433cb 31.7px,#4536d3 40.4px,#4536d3 43.2px,#4747eb 47.6px,#4747eb 49.5px,#4851f4 53.9px,#4851f4 55.8px,#465ffb 58.0px,#406cfe 60.2px,#406cfe 62.1px,#2f82f9 64.2px,#2895ec 66.4px,#2895ec 68.3px,#1ea7e1 69.4px,#06b5cf 70.5px,#17bfb6 71.6px,#35c79a 72.7px,#35c79a 74.6px,#59cc79 76.1px,#8bcb51 77.5px,#bcc42f 79.0px,#bcc42f 80.9px,#e1bc2b 82.3px,#fcbc3d 83.8px,#fdce31 85.2px,#fdce31 87.1px,#f7dc2a 89.3px,#f5e924 91.5px,#f5e924 93.4px,#fad62d 95.6px,#fec338 97.8px,#fec338 99.7px,#f0ba36 100.8px,#d2bf27 101.9px,#acc738 103.0px,#81cc58 104.1px,#81cc58 105.9px,#52cc7e 107.0px,#33c69e 108.1px,#16bfb7 109.2px,#05b6ce 110.3px,#05b6ce 112.2px,#1ea7e1 113.7px,#2895ec 115.1px,#2f81fa 116.6px,#2f81fa 118.5px,#3479fd 122.9px,#3479fd 124.7px,#3479fd 129.1px,#3479fd 131.9px,#2e86f8 140.7px,#2e86f8 144.5px,#2e86f8 153.3px,#2e86f8 157.0px,#2e86f8 165.8px,#2e86f8 169.6px,#2e86f8 178.3px,#2e86f8 182.1px,#3479fd 190.9px,#3479fd 194.6px,#4464fd 203.4px,#4464fd 207.2px,#4464fd 215.9px,#4464fd 219.7px,#4851f4 228.5px,#4851f4 232.2px,#465ffb 236.6px,#406cfe 241.0px,#406cfe 244.8px,#4464fd 253.5px,#4464fd 257.3px,#475cfa 266.1px,#475cfa 269.8px,#4851f4 278.6px,#4851f4 282.4px,#4464fd 291.2px,#4464fd 294.9px,#3479fd 303.7px,#3479fd 307.5px,#2c8ef2 316.2px,#2c8ef2 320.0px,#2f81fa 328.8px,#2f81fa 332.5px,#3479fd 341.3px,#3479fd 345.1px,#3479fd 353.8px,#3479fd 357.6px,#406cfe 366.4px,#406cfe 370.1px,#465ffb 374.5px,#4851f4 378.9px,#4851f4 382.7px,#4747eb 391.4px,#4747eb 395.2px,#4851f4 399.6px,#475cfa 404.0px,#475cfa 407.7px,#4464fd 416.5px,#4464fd 420.3px,#475cfa 429.1px,#475cfa 432.5px)"></div>
<div style="position:absolute;left:0;top:317.99px;height:18.71px;background:linear-gradient(to right,#4747eb 0.0px,#4747eb 6.6px,#4747eb 15.4px,#4747eb 19.1px,#4851f4 27.9px,#4851f4 31.7px,#4851f4 40.4px,#4851f4 43.2px,#4851f4 47.6px,#4851f4 49.5px,#4758f8 53.9px,#4758f8 55.8px,#4368fe 58.0px,#3479fd 60.2px,#3479fd 62.1px,#2d88f6 64.2px,#2895ec 66.4px,#2895ec 68.3px,#1ea7e1 69.8px,#05b6ce 71.2px,#1ac0b5 72.7px,#1ac0b5 74.6px,#35c79a 75.7px,#59cc78 76.8px,#8bcb51 77.9px,#bcc42f 79.0px,#bcc42f 80.9px,#e1bc2b 82.3px,#fcbc3d 83.8px,#fdce31 85.2px,#fdce31 87.1px,#f6e029 89.3px,#f6f01f 91.5px,#f6f01f 93.4px,#f6f01f 97.8px,#f6f01f 99.7px,#f6de29 101.1px,#fdcb33 102.6px,#f9bb3d 104.1px,#f9bb3d 105.9px,#dbbd29 106.8px,#b3c534 107.7px,#84cb56 108.6px,#56cc7b 109.4px,#35c79a 110.3px,#35c79a 112.2px,#17bfb6 113.7px,#06b5cf 115.1px,#1ea7e1 116.6px,#1ea7e1 118.5px,#2895ec 120.7px,#2f81fa 122.9px,#2f81fa 124.7px,#406dfe 126.2px,#475af9 127.7px,#4747eb 129.1px,#4747eb 131.9px,#4851f4 140.7px,#4851f4 144.5px,#4465fd 148.9px,#3479fd 153.3px,#3479fd 157.0px,#3479fd 165.8px,#3479fd 169.6px,#3479fd 178.3px,#3479fd 182.1px,#3479fd 190.9px,#3479fd 194.6px,#3479fd 203.4px,#3479fd 207.2px,#426afe 211.5px,#475cfa 215.9px,#475cfa 219.7px,#4851f4 228.5px,#4851f4 232.2px,#4464fd 241.0px,#4464fd 244.8px,#4464fd 253.5px,#4464fd 257.3px,#475cfa 266.1px,#475cfa 269.8px,#4851f4 278.6px,#4851f4 282.4px,#4464fd 291.2px,#4464fd 294.9px,#3479fd 303.7px,#3479fd 307.5px,#2e86f8 316.2px,#2e86f8 320.0px,#3479fd 328.8px,#3479fd 332.5px,#3479fd 341.3px,#3479fd 345.1px,#2f81fa 353.8px,#2f81fa 357.6px,#406cfe 366.4px,#406cfe 370.1px,#475cfa 378.9px,#475cfa 382.7px,#475cfa 391.4px,#475cfa 395.2px,#475cfa 404.0px,#475cfa 407.7px,#475cfa 416.5px,#475cfa 420.3px,#475cfa 429.1px,#475cfa 432.5px)"></div>
<div style="position:absolute;left:0;top:336.69px;height:18.72px;background:linear-gradient(to right,#4660fc 0.0px,#4660fc 6.6px,#4660fc 15.4px,#4660fc 19.1px,#406cfe 27.9px,#406cfe 31.7px,#406cfe 40.4px,#406cfe 43.2px,#406cfe 47.6px,#406cfe 49.5px,#406cfe 53.9px,#406cfe 55.8px,#3479fd 60.2px,#3479fd 62.1px,#2d88f6 64.2px,#2895ec 66.4px,#2895ec 68.3px,#20a5e3 69.4px,#10b2d5 70.5px,#05bbc1 71.6px,#28c3ab 72.7px,#28c3ab 74.6px,#3fca8e 76.1px,#69cd6a 77.5px,#9bc944 79.0px,#9bc944 80.9px,#c1c32c 82.3px,#e1bc2b 83.8px,#f9bb3d 85.2px,#f9bb3d 87.1px,#fdce31 91.5px,#fdce31 93.4px,#fad62d 97.8px,#fad62d 99.7px,#fec735 101.9px,#f9bb3d 104.1px,#f9bb3d 105.9px,#dbbd29 107.0px,#b4c534 108.1px,#86cb55 109.2px,#58cc79 110.3px,#58cc79 112.2px,#36c899 113.3px,#1fc0b2 114.4px,#01b9c8 115.5px,#18aedb 116.6px,#18aedb 118.5px,#23a0e5 119.6px,#2b90ef 120.7px,#3080fb 121.8px,#406cfe 122.9px,#406cfe 124.7px,#4758f8 126.2px,#4744e8 127.7px,#4433cb 129.1px,#4433cb 131.9px,#4744e8 134.9px,#4758f8 137.8px,#406cfe 140.7px,#406cfe 144.5px,#406cfe 153.3px,#406cfe 157.0px,#475cfa 165.8px,#475cfa 169.6px,#406cfe 178.3px,#406cfe 182.1px,#3479fd 190.9px,#3479fd 194.6px,#3479fd 203.4px,#3479fd 207.2px,#406cfe 215.9px,#406cfe 219.7px,#406cfe 228.5px,#406cfe 232.2px,#3479fd 241.0px,#3479fd 244.8px,#3479fd 253.5px,#3479fd 257.3px,#3479fd 266.1px,#3479fd 269.8px,#3479fd 278.6px,#3479fd 282.4px,#3479fd 291.2px,#3479fd 294.9px,#2f81fa 303.7px,#2f81fa 307.5px,#3479fd 316.2px,#3479fd 320.0px,#426afe 324.4px,#475cfa 328.8px,#475cfa 332.5px,#406cfe 341.3px,#406cfe 345.1px,#3479fd 349.4px,#2e86f8 353.8px,#2e86f8 357.6px,#3479fd 362.0px,#406cfe 366.4px,#406cfe 370.1px,#4759f8 374.5px,#4747eb 378.9px,#4747eb 382.7px,#4851f4 387.1px,#475cfa 391.4px,#475cfa 395.2px,#406cfe 404.0px,#406cfe 407.7px,#406cfe 416.5px,#406cfe 420.3px,#406cfe 429.1px,#406cfe 432.5px)"></div>
<div style="position:absolute;left:0;top:355.4px;height:18.71px;background:linear-gradient(to right,#406cfe 0.0px,#406cfe 6.6px,#406cfe 15.4px,#406cfe 19.1px,#3479fd 27.9px,#3479fd 31.7px,#2f81fa 40.4px,#2f81fa 43.2px,#3479fd 47.6px,#3479fd 49.5px,#406cfe 53.9px,#406cfe 55.8px,#2f81fa 60.2px,#2f81fa 62.1px,#2895ec 66.4px,#2895ec 68.3px,#20a5e2 69.8px,#0eb2d4 71.2px,#07bcbf 72.7px,#07bcbf 74.6px,#2ac3a8 76.1px,#3fca8e 77.5px,#67cd6c 79.0px,#67cd6c 80.9px,#8dcb4f 82.3px,#b1c635 83.8px,#d2bf27 85.2px,#d2bf27 87.1px,#f0ba36 89.3px,#fec338 91.5px,#fec338 93.4px,#fdce31 97.8px,#fdce31 99.7px,#f9bb3d 104.1px,#f9bb3d 105.9px,#dfbc2a 107.0px,#bcc42f 108.1px,#93ca4b 109.2px,#67cd6c 110.3px,#67cd6c 112.2px,#42ca8b 113.3px,#2dc4a5 114.4px,#0fbeba 115.5px,#05b6ce 116.6px,#05b6ce 118.5px,#1da8e0 119.3px,#2797eb 120.2px,#2e84f9 121.1px,#3f6efe 122.0px,#4758f8 122.9px,#4758f8 124.7px,#4744e9 126.9px,#4433cb 129.1px,#4433cb 131.9px,#4741e5 136.3px,#4851f4 140.7px,#4851f4 144.5px,#4851f4 153.3px,#4851f4 157.0px,#4851f4 165.8px,#4851f4 169.6px,#4851f4 178.3px,#4851f4 182.1px,#4465fd 186.5px,#3479fd 190.9px,#3479fd 194.6px,#3479fd 203.4px,#3479fd 207.2px,#4464fd 215.9px,#4464fd 219.7px,#3479fd 228.5px,#3479fd 232.2px,#2f81fa 241.0px,#2f81fa 244.8px,#2e86f8 253.5px,#2e86f8 257.3px,#2e86f8 266.1px,#2e86f8 269.8px,#2e86f8 278.6px,#2e86f8 282.4px,#2e86f8 291.2px,#2e86f8 294.9px,#3479fd 303.7px,#3479fd 307.5px,#4464fd 316.2px,#4464fd 320.0px,#4851f4 328.8px,#4851f4 332.5px,#4464fd 341.3px,#4464fd 345.1px,#3479fd 353.8px,#3479fd 357.6px,#3479fd 366.4px,#3479fd 370.1px,#406cfe 378.9px,#406cfe 382.7px,#406cfe 391.4px,#406cfe 395.2px,#406cfe 404.0px,#406cfe 407.7px,#406cfe 416.5px,#406cfe 420.3px,#406cfe 429.1px,#406cfe 432.5px)"></div>
</div>
<div class="box" style="left:1263.7px;top:538.1px;width:433.5px;height:375.1px"></div>
<div class="tk" style="left:1321.68px;top:908.7px;width:1px;height:4px"></div>
<div class="tk" style="left:1321.68px;top:538.6px;width:1px;height:4px"></div>
<div class="t tx" style="font-size:14.55px;left:1322.18px;top:922px">60</div>
<div class="tk" style="left:1384.36px;top:908.7px;width:1px;height:4px"></div>
<div class="tk" style="left:1384.36px;top:538.6px;width:1px;height:4px"></div>
<div class="t tx" style="font-size:14.55px;left:1384.86px;top:922px">80</div>
<div class="tk" style="left:1447.04px;top:908.7px;width:1px;height:4px"></div>
<div class="tk" style="left:1447.04px;top:538.6px;width:1px;height:4px"></div>
<div class="t tx" style="font-size:14.55px;left:1447.54px;top:922px">100</div>
<div class="tk" style="left:1509.72px;top:908.7px;width:1px;height:4px"></div>
<div class="tk" style="left:1509.72px;top:538.6px;width:1px;height:4px"></div>
<div class="t tx" style="font-size:14.55px;left:1510.22px;top:922px">120</div>
<div class="tk" style="left:1572.4px;top:908.7px;width:1px;height:4px"></div>
<div class="tk" style="left:1572.4px;top:538.6px;width:1px;height:4px"></div>
<div class="t tx" style="font-size:14.55px;left:1572.9px;top:922px">140</div>
<div class="tk" style="left:1635.09px;top:908.7px;width:1px;height:4px"></div>
<div class="tk" style="left:1635.09px;top:538.6px;width:1px;height:4px"></div>
<div class="t tx" style="font-size:14.55px;left:1635.59px;top:922px">160</div>
<div class="tk" style="left:1264.2px;top:566.16px;width:4px;height:1px"></div>
<div class="tk" style="left:1692.7px;top:566.16px;width:4px;height:1px"></div>
<div class="t ty" style="font-size:14.55px;left:1257.2px;top:567.36px">2</div>
<div class="tk" style="left:1264.2px;top:603.57px;width:4px;height:1px"></div>
<div class="tk" style="left:1692.7px;top:603.57px;width:4px;height:1px"></div>
<div class="t ty" style="font-size:14.55px;left:1257.2px;top:604.77px">4</div>
<div class="tk" style="left:1264.2px;top:640.98px;width:4px;height:1px"></div>
<div class="tk" style="left:1692.7px;top:640.98px;width:4px;height:1px"></div>
<div class="t ty" style="font-size:14.55px;left:1257.2px;top:642.18px">6</div>
<div class="tk" style="left:1264.2px;top:678.39px;width:4px;height:1px"></div>
<div class="tk" style="left:1692.7px;top:678.39px;width:4px;height:1px"></div>
<div class="t ty" style="font-size:14.55px;left:1257.2px;top:679.59px">8</div>
<div class="tk" style="left:1264.2px;top:715.8px;width:4px;height:1px"></div>
<div class="tk" style="left:1692.7px;top:715.8px;width:4px;height:1px"></div>
<div class="t ty" style="font-size:14.55px;left:1257.2px;top:717px">10</div>
<div class="tk" style="left:1264.2px;top:753.21px;width:4px;height:1px"></div>
<div class="tk" style="left:1692.7px;top:753.21px;width:4px;height:1px"></div>
<div class="t ty" style="font-size:14.55px;left:1257.2px;top:754.41px">12</div>
<div class="tk" style="left:1264.2px;top:790.62px;width:4px;height:1px"></div>
<div class="tk" style="left:1692.7px;top:790.62px;width:4px;height:1px"></div>
<div class="t ty" style="font-size:14.55px;left:1257.2px;top:791.82px">14</div>
<div class="tk" style="left:1264.2px;top:828.03px;width:4px;height:1px"></div>
<div class="tk" style="left:1692.7px;top:828.03px;width:4px;height:1px"></div>
<div class="t ty" style="font-size:14.55px;left:1257.2px;top:829.23px">16</div>
<div class="tk" style="left:1264.2px;top:865.44px;width:4px;height:1px"></div>
<div class="tk" style="left:1692.7px;top:865.44px;width:4px;height:1px"></div>
<div class="t ty" style="font-size:14.55px;left:1257.2px;top:866.64px">18</div>
<div class="tk" style="left:1264.2px;top:902.85px;width:4px;height:1px"></div>
<div class="tk" style="left:1692.7px;top:902.85px;width:4px;height:1px"></div>
<div class="t ty" style="font-size:14.55px;left:1257.2px;top:904.05px">20</div>
<div class="ab" style="left:1708.9px;top:538.6px;width:22.8px;height:374.1px;background:linear-gradient(to bottom,#f9fb15 0.0%,#f6ef20 3.1%,#f5e327 6.2%,#f9d62d 9.4%,#feca33 12.5%,#febe3c 15.6%,#f1ba37 18.8%,#debc2a 21.9%,#c8c129 25.0%,#afc637 28.1%,#94ca4a 31.2%,#77cc60 34.4%,#5ccc76 37.5%,#44ca8a 40.6%,#34c79c 43.8%,#28c2ab 46.9%,#12beb9 50.0%,#01b9c6 53.1%,#0cb3d3 56.2%,#1aacdd 59.4%,#21a3e3 62.5%,#269ae9 65.6%,#2c90f0 68.8%,#2e85f8 71.9%,#347afd 75.0%,#3f6efe 78.1%,#4562fc 81.2%,#4757f7 84.4%,#484cef 87.5%,#4741e5 90.6%,#4536d5 93.8%,#422ebf 96.9%,#3e26a8 100.0%)"></div>
<div class="box" style="left:1708.4px;top:538.1px;width:23.8px;height:375.1px"></div>
<div class="tk" style="left:1728.7px;top:582px;width:3px;height:1px"></div>
<div class="t tc" style="font-size:14.55px;left:1737.2px;top:583.3px">0.05</div>
<div class="tk" style="left:1728.7px;top:633.8px;width:3px;height:1px"></div>
<div class="t tc" style="font-size:14.55px;left:1737.2px;top:635.1px">0.04</div>
<div class="tk" style="left:1728.7px;top:685.6px;width:3px;height:1px"></div>
<div class="t tc" style="font-size:14.55px;left:1737.2px;top:686.9px">0.03</div>
<div class="tk" style="left:1728.7px;top:737.4px;width:3px;height:1px"></div>
<div class="t tc" style="font-size:14.55px;left:1737.2px;top:738.7px">0.02</div>
<div class="tk" style="left:1728.7px;top:789.2px;width:3px;height:1px"></div>
<div class="t tc" style="font-size:14.55px;left:1737.2px;top:790.5px">0.01</div>
<div class="tk" style="left:1728.7px;top:841px;width:3px;height:1px"></div>
<div class="t tc" style="font-size:14.55px;left:1737.2px;top:842.3px">0</div>
<div class="tk" style="left:1728.7px;top:892.8px;width:3px;height:1px"></div>
<div class="t tc" style="font-size:14.55px;left:1737.2px;top:894.1px">-0.01</div>
<div class="t ti" style="font-size:16.17px;left:1480.45px;top:519.5px">Subtraction</div>
<div class="t xl" style="font-size:27.28px;left:1480.45px;top:939.6px">Heart Rate [bpm]</div>
<div class="t yl" style="font-size:27.28px;left:1206.2px;top:726.15px">Time Step <i>T</i></div>
<div class="t pl" style="left:1488px;top:981.3px">(f)</div>
</body></html>
